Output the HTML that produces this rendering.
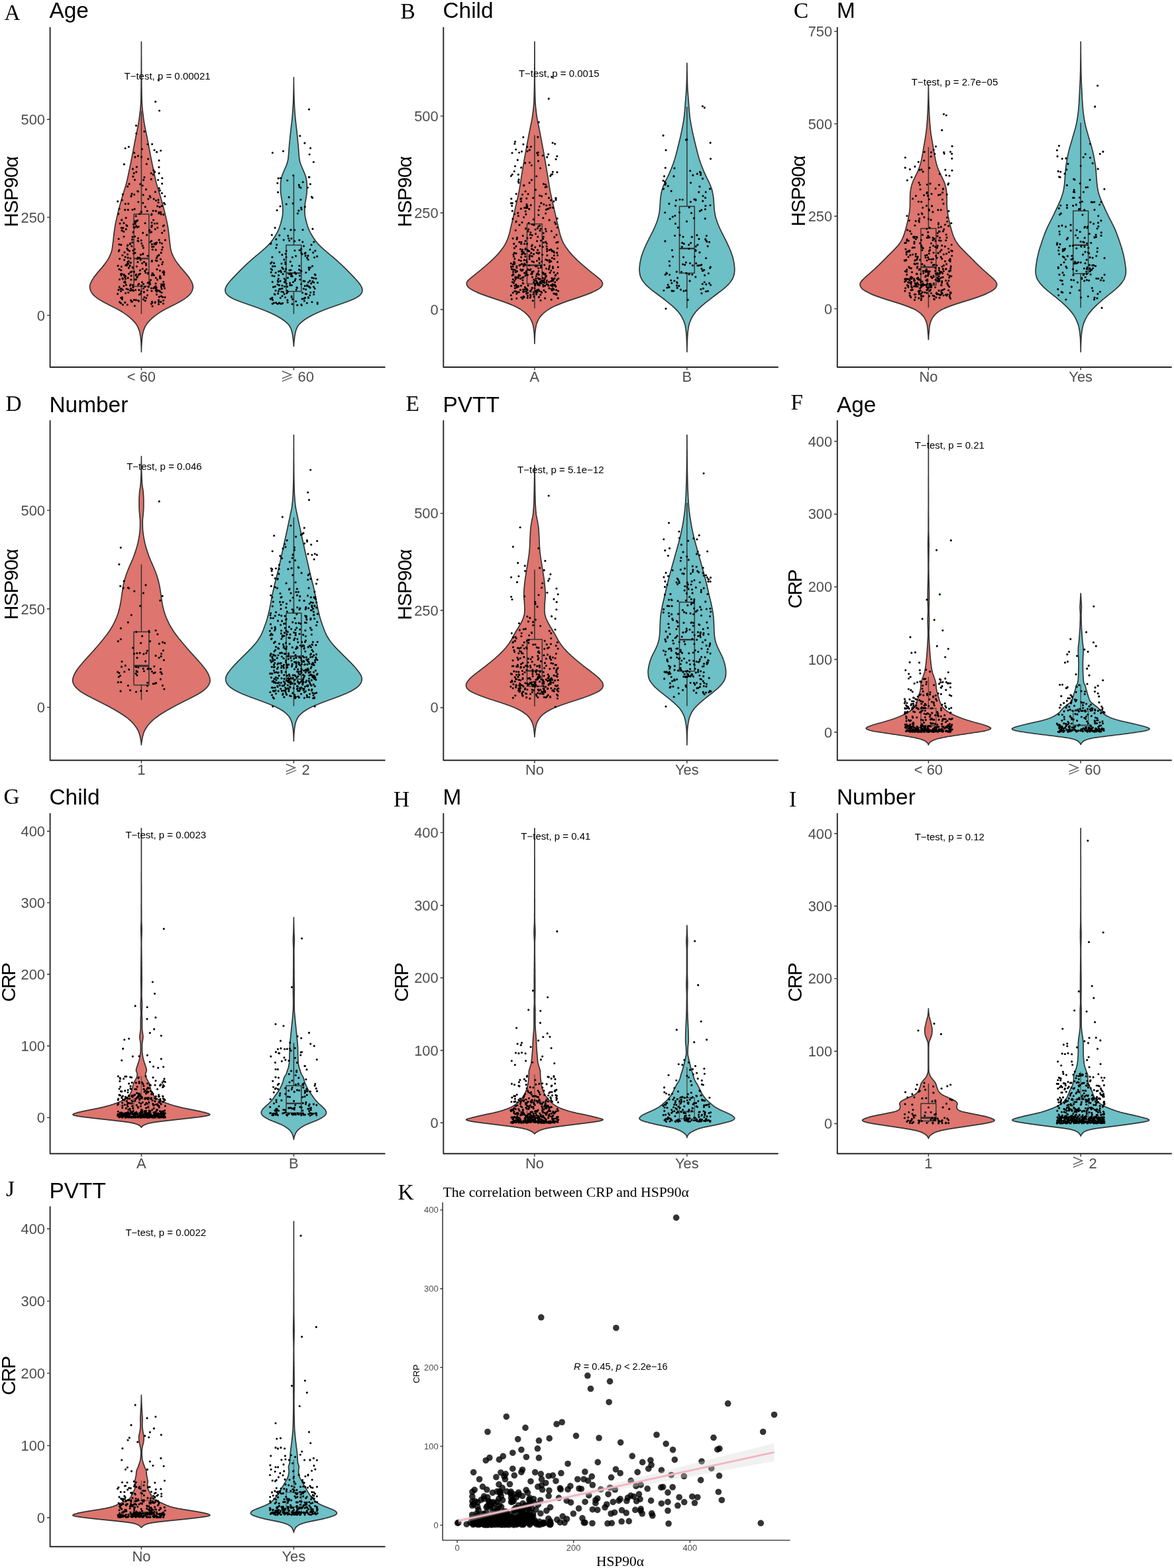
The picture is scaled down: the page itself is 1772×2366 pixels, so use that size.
<!DOCTYPE html>
<html lang="en"><head><meta charset="utf-8"><title>HSP90α and CRP by clinical subgroup</title>
<style>
html,body{margin:0;padding:0;background:#fff;}
body{width:1772px;height:2366px;overflow:hidden;}
svg{display:block;}
text{white-space:pre;}
</style></head><body>
<svg width="1772" height="2366" viewBox="0 0 1772 2366">
<rect width="1772" height="2366" fill="#fff"/>
<g>
<path d="M213.4 63.1L213.4 64.6L213.4 66.1L213.4 67.6L213.4 69.1L213.4 70.6L213.4 72.1L213.4 73.6L213.4 75.1L213.4 76.6L213.4 78.1L213.4 79.6L213.4 81.1L213.4 82.6L213.5 84.1L213.5 85.6L213.5 87.1L213.5 88.6L213.5 90.1L213.5 91.6L213.5 93.1L213.5 94.6L213.5 96.1L213.5 97.6L213.5 99.1L213.5 100.6L213.5 102.1L213.5 103.6L213.6 105.1L213.6 106.6L213.6 108.1L213.6 109.6L213.6 111.1L213.6 112.6L213.6 114.1L213.6 115.6L213.6 117.1L213.6 118.6L213.7 120.1L213.7 121.6L213.7 123.1L213.7 124.6L213.7 126.1L213.7 127.6L213.7 129.1L213.7 130.6L213.8 132.1L213.8 133.6L213.8 135.1L213.8 136.6L213.8 138.1L213.9 139.6L213.9 141.1L213.9 142.6L213.9 144.1L214 145.6L214 147.1L214 148.6L214.1 150.1L214.1 151.6L214.1 153.1L214.2 154.6L214.3 156.1L214.4 157.6L214.5 159.1L214.6 160.6L214.7 162.1L214.9 163.6L215 165.1L215.2 166.6L215.3 168.1L215.5 169.6L215.7 171.1L215.9 172.6L216.1 174.1L216.3 175.6L216.5 177.1L216.6 178.6L216.8 180.1L217.1 181.6L217.3 183.1L217.5 184.6L217.8 186.1L218 187.6L218.3 189.1L218.6 190.6L218.9 192.1L219.2 193.6L219.5 195.1L219.8 196.6L220.1 198.1L220.4 199.6L220.8 201.1L221.1 202.6L221.4 204.1L221.7 205.6L222 207.1L222.3 208.6L222.6 210.1L222.8 211.6L223.1 213.1L223.4 214.6L223.7 216.1L224 217.6L224.3 219.1L224.5 220.6L224.8 222.1L225.1 223.6L225.4 225.1L225.7 226.6L226 228.1L226.3 229.6L226.6 231.1L226.8 232.6L227.1 234.1L227.4 235.6L227.7 237.1L228 238.6L228.3 240.1L228.6 241.6L228.9 243.1L229.2 244.6L229.5 246.1L229.8 247.6L230.1 249.1L230.4 250.6L230.7 252.1L231.1 253.6L231.4 255.1L231.7 256.6L232 258.1L232.3 259.6L232.6 261.1L232.9 262.6L233.3 264.1L233.6 265.6L233.9 267.1L234.2 268.6L234.6 270.1L234.9 271.6L235.3 273.1L235.6 274.6L236 276.1L236.4 277.6L236.8 279.1L237.2 280.6L237.7 282.1L238.1 283.6L238.6 285.1L239 286.6L239.5 288.1L240 289.6L240.5 291.1L240.9 292.6L241.4 294.1L241.8 295.6L242.3 297.1L242.7 298.6L243.2 300.1L243.6 301.6L244 303.1L244.4 304.6L244.9 306.1L245.3 307.6L245.7 309.1L246.1 310.6L246.5 312.1L246.9 313.6L247.3 315.1L247.7 316.6L248.1 318.1L248.5 319.6L248.8 321.1L249.2 322.6L249.5 324.1L249.9 325.6L250.2 327.1L250.6 328.6L250.9 330.1L251.3 331.6L251.6 333.1L251.9 334.6L252.2 336.1L252.5 337.6L252.8 339.1L253.1 340.6L253.3 342.1L253.6 343.6L253.8 345.1L254 346.6L254.2 348.1L254.4 349.6L254.6 351.1L254.8 352.6L255 354.1L255.1 355.6L255.3 357.1L255.5 358.6L255.6 360.1L255.8 361.6L256 363.1L256.1 364.6L256.3 366.1L256.5 367.6L256.7 369.1L256.9 370.6L257.1 372.1L257.3 373.6L257.5 375.1L257.8 376.6L258.1 378.1L258.5 379.6L259 381.1L259.6 382.6L260.2 384.1L260.9 385.6L261.6 387.1L262.4 388.6L263.2 390.1L264.1 391.6L265 393.1L266 394.6L267 396.1L268.1 397.6L269.3 399.1L270.4 400.6L271.6 402.1L272.9 403.6L274.1 405.1L275.4 406.6L276.8 408.1L278 409.6L279.3 411.1L280.5 412.6L281.8 414.1L282.9 415.6L284.1 417.1L285.2 418.6L286.2 420.1L287.2 421.6L288 423.1L288.8 424.6L289.6 426.1L290.2 427.6L290.7 429.1L291.1 430.6L291.3 432.1L291.3 433.6L291.1 435.1L290.7 436.6L290.3 438.1L289.6 439.6L288.8 441.1L287.8 442.6L286.6 444.1L285.2 445.6L283.6 447.1L281.8 448.6L279.8 450.1L277.6 451.6L275.3 453.1L272.8 454.6L270.1 456.1L267.3 457.6L264.5 459.1L261.5 460.6L258.5 462.1L255.5 463.6L252.5 465.1L249.7 466.6L246.9 468.1L244.3 469.6L241.8 471.1L239.5 472.6L237.3 474.1L235.3 475.6L233.3 477.1L231.5 478.6L229.7 480.1L228.1 481.6L226.5 483.1L225.1 484.6L223.7 486.1L222.5 487.6L221.4 489.1L220.4 490.6L219.5 492.1L218.8 493.6L218.1 495.1L217.5 496.6L216.9 498.1L216.5 499.6L216.1 501.1L215.7 502.6L215.4 504.1L215.1 505.6L214.9 507.1L214.7 508.6L214.5 510.1L214.3 511.6L214.2 513.1L214.1 514.6L214 516.1L213.9 517.6L213.8 519.1L213.7 520.6L213.6 522.1L213.6 523.6L213.5 525.1L213.5 526.6L213.4 528.1L213.4 529.6L213.4 530.9L213.4 529.6L213.4 528.1L213.4 526.6L213.3 525.1L213.3 523.6L213.2 522.1L213.1 520.6L213 519.1L213 517.6L212.9 516.1L212.8 514.6L212.7 513.1L212.5 511.6L212.4 510.1L212.2 508.6L211.9 507.1L211.7 505.6L211.4 504.1L211.1 502.6L210.8 501.1L210.4 499.6L209.9 498.1L209.3 496.6L208.7 495.1L208.1 493.6L207.3 492.1L206.4 490.6L205.4 489.1L204.3 487.6L203.1 486.1L201.7 484.6L200.3 483.1L198.7 481.6L197.1 480.1L195.3 478.6L193.5 477.1L191.6 475.6L189.5 474.1L187.3 472.6L185 471.1L182.5 469.6L179.9 468.1L177.2 466.6L174.3 465.1L171.3 463.6L168.3 462.1L165.3 460.6L162.4 459.1L159.5 457.6L156.7 456.1L154.1 454.6L151.6 453.1L149.2 451.6L147 450.1L145.1 448.6L143.2 447.1L141.6 445.6L140.2 444.1L139 442.6L138 441.1L137.2 439.6L136.6 438.1L136.1 436.6L135.7 435.1L135.6 433.6L135.6 432.1L135.7 430.6L136.1 429.1L136.6 427.6L137.3 426.1L138 424.6L138.8 423.1L139.7 421.6L140.6 420.1L141.6 418.6L142.7 417.1L143.9 415.6L145.1 414.1L146.3 412.6L147.5 411.1L148.8 409.6L150.1 408.1L151.4 406.6L152.7 405.1L154 403.6L155.2 402.1L156.4 400.6L157.6 399.1L158.7 397.6L159.8 396.1L160.8 394.6L161.8 393.1L162.7 391.6L163.6 390.1L164.4 388.6L165.2 387.1L165.9 385.6L166.6 384.1L167.3 382.6L167.8 381.1L168.3 379.6L168.7 378.1L169 376.6L169.3 375.1L169.5 373.6L169.8 372.1L169.9 370.6L170.1 369.1L170.3 367.6L170.5 366.1L170.7 364.6L170.9 363.1L171 361.6L171.2 360.1L171.4 358.6L171.5 357.1L171.7 355.6L171.9 354.1L172 352.6L172.2 351.1L172.4 349.6L172.6 348.1L172.8 346.6L173 345.1L173.2 343.6L173.5 342.1L173.8 340.6L174 339.1L174.3 337.6L174.6 336.1L174.9 334.6L175.2 333.1L175.6 331.6L175.9 330.1L176.2 328.6L176.6 327.1L176.9 325.6L177.3 324.1L177.6 322.6L178 321.1L178.4 319.6L178.7 318.1L179.1 316.6L179.5 315.1L179.9 313.6L180.3 312.1L180.7 310.6L181.1 309.1L181.5 307.6L182 306.1L182.4 304.6L182.8 303.1L183.2 301.6L183.7 300.1L184.1 298.6L184.5 297.1L185 295.6L185.4 294.1L185.9 292.6L186.4 291.1L186.8 289.6L187.3 288.1L187.8 286.6L188.2 285.1L188.7 283.6L189.1 282.1L189.6 280.6L190 279.1L190.4 277.6L190.8 276.1L191.2 274.6L191.5 273.1L191.9 271.6L192.3 270.1L192.6 268.6L192.9 267.1L193.3 265.6L193.6 264.1L193.9 262.6L194.2 261.1L194.5 259.6L194.8 258.1L195.1 256.6L195.5 255.1L195.8 253.6L196.1 252.1L196.4 250.6L196.7 249.1L197 247.6L197.3 246.1L197.6 244.6L197.9 243.1L198.2 241.6L198.5 240.1L198.8 238.6L199.1 237.1L199.4 235.6L199.7 234.1L200 232.6L200.3 231.1L200.6 229.6L200.9 228.1L201.1 226.6L201.4 225.1L201.7 223.6L202 222.1L202.3 220.6L202.6 219.1L202.8 217.6L203.1 216.1L203.4 214.6L203.7 213.1L204 211.6L204.3 210.1L204.6 208.6L204.8 207.1L205.1 205.6L205.4 204.1L205.8 202.6L206.1 201.1L206.4 199.6L206.7 198.1L207 196.6L207.3 195.1L207.6 193.6L207.9 192.1L208.2 190.6L208.5 189.1L208.8 187.6L209.1 186.1L209.3 184.6L209.5 183.1L209.8 181.6L210 180.1L210.2 178.6L210.4 177.1L210.6 175.6L210.8 174.1L210.9 172.6L211.1 171.1L211.3 169.6L211.5 168.1L211.7 166.6L211.8 165.1L212 163.6L212.1 162.1L212.2 160.6L212.4 159.1L212.5 157.6L212.6 156.1L212.6 154.6L212.7 153.1L212.7 151.6L212.8 150.1L212.8 148.6L212.8 147.1L212.9 145.6L212.9 144.1L212.9 142.6L212.9 141.1L213 139.6L213 138.1L213 136.6L213 135.1L213 133.6L213.1 132.1L213.1 130.6L213.1 129.1L213.1 127.6L213.1 126.1L213.1 124.6L213.1 123.1L213.2 121.6L213.2 120.1L213.2 118.6L213.2 117.1L213.2 115.6L213.2 114.1L213.2 112.6L213.2 111.1L213.2 109.6L213.2 108.1L213.3 106.6L213.3 105.1L213.3 103.6L213.3 102.1L213.3 100.6L213.3 99.1L213.3 97.6L213.3 96.1L213.3 94.6L213.3 93.1L213.3 91.6L213.3 90.1L213.4 88.6L213.4 87.1L213.4 85.6L213.4 84.1L213.4 82.6L213.4 81.1L213.4 79.6L213.4 78.1L213.4 76.6L213.4 75.1L213.4 73.6L213.4 72.1L213.4 70.6L213.4 69.1L213.4 67.6L213.4 66.1L213.4 64.6L213.4 63.1Z" fill="#DE756E" stroke="#333333" stroke-width="1.7" stroke-linejoin="round"/>
<g fill="none" stroke="#333333" stroke-width="1.5" opacity="1">
<path d="M213.4 167.7V323.2M213.4 432V473.7"/>
<rect x="202" y="323.2" width="22.8" height="108.9"/>
<path d="M202 390.1H224.8" stroke-width="2.4"/>
</g>
<path d="M245.6 395.6h0M246.7 453.3h0M223.9 300.2h0M197.5 453h0M228.6 350.1h0M193 377.1h0M200.6 437.6h0M216.4 373.9h0M206.3 402.1h0M202.7 230.6h0M247.6 429.1h0M189.7 400.2h0M221.6 354.6h0M180.2 433.1h0M184 347.9h0M192.5 383.9h0M248.8 296.2h0M229.7 372.4h0M239.9 320.3h0M181 337.2h0M226.5 428.8h0M209.1 342h0M207.4 390.5h0M228.4 458.4h0M199.6 455h0M214.4 425.8h0M196.2 400.8h0M205.6 341.1h0M215.8 306.2h0M188.8 456.4h0M197.3 396.4h0M207.7 288.6h0M211.5 413.1h0M235 431.8h0M223.7 411.7h0M217.9 448.5h0M240 242.1h0M191.6 398.6h0M184.9 385.2h0M205.8 259.4h0M187.3 415.5h0M217.4 440.5h0M218.7 408.8h0M186.9 336.6h0M229 439h0M217.5 395.2h0M207.9 395.4h0M243.5 429.1h0M239 301.6h0M193.3 436.7h0M189.4 420.8h0M243.3 433h0M188.7 316.6h0M231.9 434.7h0M199.9 316.5h0M203.4 271.3h0M217.3 440.8h0M244.1 441.5h0M177.6 443.4h0M189.1 387.8h0M229.3 340.3h0M205.8 201.3h0M198.1 416.1h0M246.7 425.2h0M196.4 438.5h0M228.8 342.4h0M246.8 323.8h0M232.3 415.3h0M228.5 435h0M229.5 455.4h0M235.4 302.5h0M196.9 389.9h0M222.5 445.6h0M235.2 377h0M241.4 408.3h0M242.6 227.2h0M242.5 419.6h0M184.4 448.8h0M204.5 437.5h0M210.3 444.5h0M241.6 418h0M207.6 332.6h0M196.5 430.9h0M178.8 322.8h0M198.2 438h0M233.6 259.7h0M178.9 437.4h0M189.3 307.6h0M199.8 365.8h0M215.7 351.4h0M203.6 421.8h0M241 312.3h0M192.4 370.8h0M217.9 198.4h0M233.4 337.2h0M244.3 376.7h0M240.3 284h0M187.2 414.4h0M234.4 367h0M226 425.9h0M207.8 417.2h0M179.3 379h0M189.5 442.3h0M231.4 414.3h0M183.5 435.6h0M199.9 357.6h0M195.8 401.2h0M231.1 318h0M203.3 461.5h0M183.7 331.9h0M204.1 335.7h0M200.9 266.4h0M229 336h0M200.5 430.2h0M227.4 422.6h0M216.2 294.1h0M241.3 366h0M230.2 376.6h0M206.8 418.6h0M212.3 384.4h0M211.4 407.9h0M240.2 439h0M187.4 426h0M208 363.3h0M215.9 382.8h0M208.8 364h0M220.5 285.8h0M213.3 320.2h0M207.2 342.9h0M226.9 350.7h0M201.1 350.4h0M221.1 406.4h0M229.9 456.7h0M186.8 431.6h0M200.9 433.4h0M245.4 429.8h0M247 409.4h0M248.9 448.6h0M180.5 421.6h0M236.9 393.5h0M244.8 268.7h0M242.4 391.1h0M228.9 323.1h0M226.1 295.7h0M229.2 394.5h0M218.8 432.7h0M234.2 345.8h0M213.6 430.9h0M193.7 398.1h0M184.2 302h0M242.8 455.6h0M231.8 372.1h0M190.2 345.9h0M236.6 439.9h0M199 292.3h0M223.2 426.8h0M203.1 315.4h0M192.8 369.9h0M190.1 328.7h0M182.5 439.2h0M182.8 369.4h0M182.4 457.3h0M183.9 413.4h0M237.5 422.1h0M214.7 397.3h0M186.7 349.4h0M215.2 370.7h0M216.5 451.8h0M213.2 319.6h0M192.3 459.8h0M208.7 429.7h0M240.1 362.1h0M205 415.5h0M213.7 367.2h0M244.4 367.3h0M194.2 394.1h0M229.6 217.5h0M212.2 392.1h0M234.1 456.7h0M203.3 343.3h0M216.5 428.5h0M203.9 381.6h0M239.8 322h0M243.3 446.9h0M222.9 217.7h0M248 348h0M230.1 462.1h0M237.2 337.1h0M241.8 440.1h0M197 410.7h0M248.5 435.1h0M205.5 414.1h0M213.2 362.8h0M190.4 430h0M236.6 229.4h0M201.7 382.5h0M227 365h0M193.1 388.9h0M202.7 293.6h0M205.1 326h0M194.4 404.2h0M179.9 368.8h0M232.9 433.5h0M245.8 410.6h0M193.7 441.5h0M189.1 426.7h0M202.4 410.1h0M183.4 343.9h0M224.2 432.5h0M203.9 334.2h0M217.9 267.6h0M242.6 455.2h0M239.4 400.6h0M243.8 431.5h0M244.7 398.7h0M219.9 411.5h0M213.6 236.9h0M180.1 315h0M184.8 419.8h0M215.1 405.5h0M239 305.5h0M208.6 453.5h0M177.7 303.9h0M192.7 395.3h0M232.1 300.1h0M188.8 424.9h0M191.8 340.9h0M198 296.3h0M221.3 247.5h0M237.6 311.1h0M193.2 316.6h0M220.6 400h0M215.6 383.4h0M209.4 454.3h0M219.2 453.8h0M236 434h0M193.1 419.4h0M213.2 439.6h0M184.5 451.5h0M214.4 225h0M234.4 289.6h0M249.3 362.2h0M211.7 277.9h0M198.8 409.8h0M219.1 336.7h0M204.2 337.7h0M185.8 344.1h0M215.2 280h0M235 427.7h0M241.6 416.7h0M247.8 410.8h0M203.9 237.1h0M195.5 378.6h0M185.4 421.1h0M208.8 304.7h0M235.5 368.3h0M194.3 221.6h0M238.6 271.5h0M228.7 324.2h0M191.9 375.1h0M222.9 386h0M236.4 444.3h0M244.6 351.3h0M189.1 223.7h0M236.6 437.4h0M233.3 259.1h0M195 277.6h0M198.6 455.3h0M246.3 429.1h0M203.5 356.7h0M198.2 295.5h0M229.3 368.6h0M187 357h0M212.2 443.1h0M203.2 376.1h0M216.6 271.6h0M220.8 449.8h0M223.5 413h0M208.5 289h0M241.3 287.4h0M237.6 386.6h0M244.6 277.1h0M209.5 414.3h0M230 412.2h0M208.4 235.2h0M197.5 435.3h0M224.3 432.9h0M245.5 448.3h0M235.3 419.2h0M197.9 422h0M193.8 307.3h0M233 226.5h0M228.2 261.5h0M239.6 455.5h0M188 416.1h0M239.5 452.7h0M208.6 359.5h0M197.1 429.3h0M202.1 261.4h0M248.9 308.1h0M246.2 341.1h0M183.4 402.3h0M200.1 403.4h0M229.2 393.2h0M180 377.4h0M180 406.3h0M180.6 455.9h0M239.9 384.9h0M201.4 438.7h0M200.4 254.9h0M234.5 368.3h0M200.3 403.9h0M230.6 412.7h0M204 333.8h0M198.8 371.5h0M205.3 452.7h0M189.5 416.5h0M182.8 407.7h0M240.1 261.4h0M239.9 252.2h0M210.6 322.7h0M227 297.7h0M239.5 458.9h0M205.5 189.6h0M228.7 363.5h0M231.8 256.7h0M183 415.3h0M187.4 247.9h0M231.4 263.4h0M228.2 270.4h0M190.8 339.7h0M236.9 406.4h0M235.1 435.1h0M201.4 338.5h0M201.9 342.7h0M185.4 437.2h0M209.5 428.3h0M185.3 293.3h0M216.5 435.2h0M222.4 438h0M219.3 312.1h0M182.6 413.6h0M222.2 318.2h0M231.6 332h0M187.6 392.2h0M220.3 397.5h0M236.4 389.3h0M191.4 400.7h0M243.2 323.2h0M247.4 432h0M228.7 341.3h0M240.2 447.9h0M197 396.2h0M225.3 348h0M244.1 310.9h0M180.6 390.5h0M236.5 366.1h0M194.5 413.1h0M235.1 393.1h0M223.7 239.8h0M235.1 438.2h0M206.3 251.9h0M209.8 437.6h0M244 435.9h0M182.5 449.4h0M188.7 418.5h0M247.5 306.2h0M243.2 381.4h0M188 380.8h0M247.5 414.3h0M196.5 367.2h0M241.6 419.9h0M242.6 320.4h0M179.1 360.5h0M178.1 401.1h0M201 378.1h0M244.5 291.5h0M234.4 455.7h0M205.3 421.8h0M239.2 438.2h0M199.6 361.5h0M202.4 452.4h0M191.1 435.9h0M246.5 458.1h0M235.3 318.4h0M210.7 388.9h0M196.4 368.3h0M247 411.8h0M206 333.9h0M192.6 281.4h0M208 388.8h0M229.2 415.3h0M232.9 367.9h0M185.3 459.7h0M245.5 373.1h0M226 347.1h0M181.9 436h0M237.7 386.7h0M247.4 340.1h0M237.7 343.6h0M234.7 153.4h0M240.6 167h0M239.2 120.6h0" fill="none" stroke="#000" stroke-width="3.15" stroke-linecap="round"/>
<path d="M443.4 116.8L443.4 118.3L443.4 119.8L443.4 121.3L443.4 122.8L443.4 124.3L443.4 125.8L443.5 127.3L443.5 128.8L443.5 130.3L443.5 131.8L443.6 133.3L443.6 134.8L443.6 136.3L443.7 137.8L443.7 139.3L443.7 140.8L443.8 142.3L443.8 143.8L443.9 145.3L443.9 146.8L444 148.3L444 149.8L444 151.3L444.1 152.8L444.2 154.3L444.2 155.8L444.3 157.3L444.4 158.8L444.4 160.3L444.5 161.8L444.6 163.3L444.7 164.8L444.8 166.3L444.9 167.8L445 169.3L445.1 170.8L445.3 172.3L445.4 173.8L445.5 175.3L445.6 176.8L445.8 178.3L445.9 179.8L446.1 181.3L446.2 182.8L446.4 184.3L446.6 185.8L446.8 187.3L446.9 188.8L447.1 190.3L447.3 191.8L447.5 193.3L447.7 194.8L447.8 196.3L448 197.8L448.1 199.3L448.3 200.8L448.4 202.3L448.6 203.8L448.8 205.3L448.9 206.8L449.1 208.3L449.2 209.8L449.4 211.3L449.5 212.8L449.6 214.3L449.8 215.8L449.9 217.3L450.1 218.8L450.2 220.3L450.3 221.8L450.5 223.3L450.6 224.8L450.7 226.3L450.8 227.8L450.9 229.3L451 230.8L451.1 232.3L451.3 233.8L451.4 235.3L451.5 236.8L451.7 238.3L451.9 239.8L452.2 241.3L452.4 242.8L452.8 244.3L453.2 245.8L453.7 247.3L454.3 248.8L454.9 250.3L455.5 251.8L456.1 253.3L456.8 254.8L457.4 256.3L458.1 257.8L458.7 259.3L459.4 260.8L460 262.3L460.5 263.8L461 265.3L461.5 266.8L461.9 268.3L462.3 269.8L462.6 271.3L462.8 272.8L463 274.3L463.2 275.8L463.2 277.3L463.3 278.8L463.3 280.3L463.3 281.8L463.3 283.3L463.3 284.8L463.3 286.3L463.2 287.8L463.2 289.3L463 290.8L462.9 292.3L462.7 293.8L462.5 295.3L462.3 296.8L462 298.3L461.8 299.8L461.5 301.3L461.3 302.8L461 304.3L460.7 305.8L460.5 307.3L460.4 308.8L460.2 310.3L460.1 311.8L460.1 313.3L460 314.8L460 316.3L460 317.8L460 319.3L460 320.8L460.1 322.3L460.2 323.8L460.4 325.3L460.6 326.8L460.9 328.3L461.2 329.8L461.6 331.3L461.9 332.8L462.3 334.3L462.7 335.8L463.1 337.3L463.6 338.8L464 340.3L464.5 341.8L465.1 343.3L465.6 344.8L466.3 346.3L466.9 347.8L467.7 349.3L468.4 350.8L469.2 352.3L470 353.8L470.9 355.3L471.8 356.8L472.7 358.3L473.7 359.8L474.8 361.3L475.8 362.8L477 364.3L478.2 365.8L479.5 367.3L480.9 368.8L482.3 370.3L483.9 371.8L485.5 373.3L487.1 374.8L488.8 376.3L490.5 377.8L492.3 379.3L494 380.8L495.8 382.3L497.6 383.8L499.4 385.3L501.2 386.8L503 388.3L504.8 389.8L506.5 391.3L508.2 392.8L509.9 394.3L511.5 395.8L513.1 397.3L514.8 398.8L516.3 400.3L517.9 401.8L519.5 403.3L521 404.8L522.5 406.3L524 407.8L525.5 409.3L526.9 410.8L528.4 412.3L529.9 413.8L531.3 415.3L532.8 416.8L534.2 418.3L535.6 419.8L536.9 421.3L538.3 422.8L539.6 424.3L540.8 425.8L542 427.3L543.1 428.8L544.2 430.3L545 431.8L545.8 433.3L546.4 434.8L546.7 436.3L546.9 437.8L546.8 439.3L546.4 440.8L545.7 442.3L544.7 443.8L543.4 445.3L541.6 446.8L539.4 448.3L536.8 449.8L533.8 451.3L530.3 452.8L526.6 454.3L522.5 455.8L518.3 457.3L514.1 458.8L509.8 460.3L505.4 461.8L501.2 463.3L497 464.8L492.9 466.3L489 467.8L485.3 469.3L481.8 470.8L478.4 472.3L475.2 473.8L472.1 475.3L469.2 476.8L466.5 478.3L464 479.8L461.6 481.3L459.4 482.8L457.3 484.3L455.4 485.8L453.7 487.3L452.2 488.8L450.9 490.3L449.8 491.8L448.9 493.3L448.2 494.8L447.5 496.3L447 497.8L446.5 499.3L446.1 500.8L445.8 502.3L445.5 503.8L445.2 505.3L444.9 506.8L444.7 508.3L444.5 509.8L444.4 511.3L444.2 512.8L444 514.3L443.9 515.8L443.8 517.3L443.6 518.8L443.5 520.3L443.4 521.8L443.4 522.5L443.3 521.8L443.2 520.3L443.1 518.8L443 517.3L442.9 515.8L442.7 514.3L442.6 512.8L442.4 511.3L442.2 509.8L442 508.3L441.8 506.8L441.6 505.3L441.3 503.8L441 502.3L440.7 500.8L440.2 499.3L439.8 497.8L439.2 496.3L438.6 494.8L437.8 493.3L436.9 491.8L435.9 490.3L434.6 488.8L433.1 487.3L431.4 485.8L429.5 484.3L427.4 482.8L425.2 481.3L422.8 479.8L420.3 478.3L417.6 476.8L414.7 475.3L411.6 473.8L408.4 472.3L405 470.8L401.4 469.3L397.7 467.8L393.8 466.3L389.8 464.8L385.6 463.3L381.3 461.8L377 460.3L372.7 458.8L368.4 457.3L364.3 455.8L360.2 454.3L356.4 452.8L353 451.3L350 449.8L347.4 448.3L345.2 446.8L343.4 445.3L342.1 443.8L341 442.3L340.4 440.8L340 439.3L339.9 437.8L340 436.3L340.4 434.8L341 433.3L341.7 431.8L342.6 430.3L343.6 428.8L344.8 427.3L345.9 425.8L347.2 424.3L348.5 422.8L349.8 421.3L351.2 419.8L352.6 418.3L354 416.8L355.4 415.3L356.9 413.8L358.4 412.3L359.8 410.8L361.3 409.3L362.8 407.8L364.3 406.3L365.8 404.8L367.3 403.3L368.9 401.8L370.4 400.3L372 398.8L373.6 397.3L375.3 395.8L376.9 394.3L378.6 392.8L380.3 391.3L382 389.8L383.8 388.3L385.5 386.8L387.3 385.3L389.2 383.8L391 382.3L392.8 380.8L394.5 379.3L396.3 377.8L398 376.3L399.7 374.8L401.3 373.3L402.9 371.8L404.5 370.3L405.9 368.8L407.3 367.3L408.6 365.8L409.8 364.3L410.9 362.8L412 361.3L413 359.8L414 358.3L415 356.8L415.9 355.3L416.7 353.8L417.6 352.3L418.4 350.8L419.1 349.3L419.8 347.8L420.5 346.3L421.1 344.8L421.7 343.3L422.2 341.8L422.7 340.3L423.2 338.8L423.7 337.3L424.1 335.8L424.5 334.3L424.8 332.8L425.2 331.3L425.6 329.8L425.9 328.3L426.2 326.8L426.4 325.3L426.6 323.8L426.7 322.3L426.8 320.8L426.8 319.3L426.8 317.8L426.8 316.3L426.8 314.8L426.7 313.3L426.6 311.8L426.6 310.3L426.4 308.8L426.2 307.3L426 305.8L425.8 304.3L425.5 302.8L425.3 301.3L425 299.8L424.7 298.3L424.5 296.8L424.3 295.3L424.1 293.8L423.9 292.3L423.7 290.8L423.6 289.3L423.5 287.8L423.5 286.3L423.5 284.8L423.5 283.3L423.5 281.8L423.5 280.3L423.5 278.8L423.5 277.3L423.6 275.8L423.7 274.3L423.9 272.8L424.2 271.3L424.5 269.8L424.9 268.3L425.3 266.8L425.7 265.3L426.2 263.8L426.8 262.3L427.4 260.8L428 259.3L428.7 257.8L429.3 256.3L430 254.8L430.6 253.3L431.3 251.8L431.9 250.3L432.5 248.8L433 247.3L433.5 245.8L434 244.3L434.3 242.8L434.6 241.3L434.9 239.8L435.1 238.3L435.2 236.8L435.4 235.3L435.5 233.8L435.6 232.3L435.8 230.8L435.9 229.3L436 227.8L436.1 226.3L436.2 224.8L436.3 223.3L436.4 221.8L436.6 220.3L436.7 218.8L436.8 217.3L437 215.8L437.1 214.3L437.3 212.8L437.4 211.3L437.6 209.8L437.7 208.3L437.9 206.8L438 205.3L438.2 203.8L438.3 202.3L438.5 200.8L438.6 199.3L438.8 197.8L439 196.3L439.1 194.8L439.3 193.3L439.5 191.8L439.6 190.3L439.8 188.8L440 187.3L440.2 185.8L440.4 184.3L440.5 182.8L440.7 181.3L440.9 179.8L441 178.3L441.1 176.8L441.3 175.3L441.4 173.8L441.5 172.3L441.6 170.8L441.7 169.3L441.9 167.8L442 166.3L442.1 164.8L442.2 163.3L442.2 161.8L442.3 160.3L442.4 158.8L442.5 157.3L442.6 155.8L442.6 154.3L442.7 152.8L442.7 151.3L442.8 149.8L442.8 148.3L442.9 146.8L442.9 145.3L442.9 143.8L443 142.3L443 140.8L443.1 139.3L443.1 137.8L443.1 136.3L443.2 134.8L443.2 133.3L443.2 131.8L443.3 130.3L443.3 128.8L443.3 127.3L443.3 125.8L443.3 124.3L443.4 122.8L443.4 121.3L443.4 119.8L443.4 118.3L443.4 116.8Z" fill="#6CC0C6" stroke="#333333" stroke-width="1.7" stroke-linejoin="round"/>
<g fill="none" stroke="#333333" stroke-width="1.5" opacity="1">
<path d="M443.4 265.7V369.8M443.4 439.7V473.7"/>
<rect x="432" y="369.8" width="22.8" height="69.9"/>
<path d="M432 412.1H454.8" stroke-width="2.4"/>
</g>
<path d="M454.8 381.8h0M474.5 388.5h0M432.8 442.5h0M453.8 301.2h0M423.1 424.1h0M475.1 435.3h0M451.9 362.2h0M418.8 276.3h0M425.9 384.4h0M418.8 429.2h0M420.3 420.5h0M429.5 345h0M466.6 406.8h0M440.3 430.3h0M427.3 405.7h0M437.6 427.1h0M426.6 457.6h0M460.2 431.5h0M411.6 401.9h0M428.2 362h0M430.7 395.8h0M420.5 415.4h0M460.5 449.4h0M420.4 439.3h0M429 391.7h0M411.5 452.6h0M461.8 411.2h0M433.6 432.4h0M454.6 313.4h0M423 311.2h0M409 367h0M430.6 448.7h0M463.5 431.2h0M467.7 445.6h0M432.5 428.1h0M468.4 403.7h0M411 416h0M445 423.5h0M425.9 446.7h0M439 407.5h0M423.3 449.5h0M471.7 425.3h0M429.1 443.8h0M475.4 414.1h0M415.2 432.3h0M438.3 394.8h0M439.3 416.6h0M458.5 371.3h0M432.2 308.1h0M442.8 264.7h0M412.5 433.1h0M429.8 409.6h0M459.6 450h0M415 444.3h0M440.7 401h0M424.4 458.4h0M419.3 423.3h0M416.1 438.5h0M466 403.8h0M456.8 365.1h0M434.7 355.8h0M435.6 359.7h0M459.8 424.4h0M450.9 317.9h0M473.3 244.5h0M473.6 444.2h0M442.1 307h0M454.8 408.9h0M446.6 413.1h0M429.7 425.9h0M440 414.7h0M459.3 454h0M447.2 437.2h0M452.9 421.7h0M442.5 425.7h0M476 415h0M463.3 457.2h0M416.8 374h0M466 432h0M473.5 419.8h0M466.2 267.2h0M432.1 388.1h0M433.9 452.9h0M424.9 440h0M411.4 230.5h0M441.4 388.2h0M468.6 223.6h0M462.7 443.7h0M455.1 316h0M468.4 277.8h0M454.8 459.6h0M423.5 408.4h0M465.2 391.7h0M433.8 272.2h0M471.5 401.6h0M430.9 398.5h0M414 416.7h0M459.9 215.9h0M415.1 343.7h0M470 369.4h0M437 407.8h0M463.6 389.1h0M411.2 425.3h0M446.5 386.3h0M456.1 451.1h0M416.7 456.9h0M451.2 279.1h0M417.7 369.2h0M429.3 420.6h0M433.7 438.9h0M452 282.1h0M416.8 361.1h0M420.7 409.6h0M463.6 430.2h0M458.9 450.5h0M440.1 447.1h0M427.7 440.8h0M457.2 274.7h0M441.1 458.8h0M429.8 425.4h0M470.4 297h0M421.9 380.5h0M465.3 426h0M451.9 401.1h0M453.9 408.5h0M456.5 441.7h0M461.3 443.4h0M470.8 419h0M473.7 440.7h0M425.8 403.7h0M419.2 458.5h0M471.9 424.5h0M422.1 457.6h0M423.4 268.7h0M465.4 448.6h0M476.9 420.2h0M468.2 434.1h0M444.6 363.9h0M434.4 419.2h0M478.6 386.9h0M460.4 312h0M452.7 205.1h0M408.2 450.9h0M421.4 430.4h0M408.4 368h0M472.7 381.1h0M424.4 410.6h0M419.7 442.9h0M449.3 322.1h0M422 457.6h0M446.7 454.7h0M475.8 378.3h0M469.6 427.8h0M425 397.7h0M473.4 432.7h0M436.1 297.6h0M445 411.1h0M430.8 423h0M479.4 426.5h0M429.5 432.3h0M460.5 449.4h0M452 377.5h0M457 346.7h0M414.9 401.7h0M446 421.1h0M479.2 456.7h0M447.9 433.8h0M421.6 436.2h0M411.2 458.3h0M431.1 383h0M461.1 381.4h0M409.2 405.7h0M410.9 388h0M454.7 428.7h0M470.9 455.7h0M439 346.9h0M452.3 416.1h0M425.9 431h0M427 413.6h0M441.6 451.6h0M423.2 436h0M440.1 448.5h0M418.1 317.2h0M473.9 365h0M454 283.2h0M414.2 443.8h0M421.3 457h0M467.1 233h0M434.2 440.4h0M426.1 435.3h0M409.1 451h0M456 383.5h0M448.5 434.2h0M467.9 376.6h0M419.6 290.1h0M461.6 436.7h0M466.9 267.4h0M466.7 432.9h0M461.1 385.9h0M439.2 412.9h0M410.8 449.4h0M453.8 378h0M409.2 410.9h0M413.6 397h0M436.8 363.1h0M416.1 411.5h0M439.9 359.9h0M468.7 441.3h0M419.9 425.4h0M464.9 385.9h0M479.2 458.3h0M410.1 395.7h0M437.9 430.4h0M458.3 435.7h0M460.1 382.5h0M427.5 228.1h0M465.6 449.5h0M434.1 456.2h0M421.8 355.1h0M444.7 347h0M451.5 406.8h0M467.7 423.8h0M455.2 460.6h0M413.4 457.1h0M448.8 460.4h0M432.2 378.5h0M458.1 424h0M410.6 407.2h0M454.7 375.2h0M464.4 283h0M410.3 354.5h0M408.5 397.5h0M471.6 298.4h0M471.9 345.4h0M420.1 269.1h0M473.8 426.2h0M436.7 413.5h0M444.8 378h0M441.3 417h0M431.5 405.9h0M466.5 165h0" fill="none" stroke="#000" stroke-width="3.15" stroke-linecap="round"/>
<path d="M75.6 41V554H581.5" fill="none" stroke="#262626" stroke-width="1.9" stroke-linejoin="round"/>
<path d="M71 180.3H75.6M71 327.9H75.6M71 475.9H75.6M213.4 554V558.6M443.4 554V558.6" fill="none" stroke="#333333" stroke-width="1.4"/>
<text x="68" y="188" font-family="Liberation Sans, Arial, Helvetica, sans-serif" font-size="21.9" fill="#4D4D4D" text-anchor="end">500</text>
<text x="68" y="335.6" font-family="Liberation Sans, Arial, Helvetica, sans-serif" font-size="21.9" fill="#4D4D4D" text-anchor="end">250</text>
<text x="68" y="483.6" font-family="Liberation Sans, Arial, Helvetica, sans-serif" font-size="21.9" fill="#4D4D4D" text-anchor="end">0</text>
<text x="213.4" y="576" font-family="Liberation Sans, Arial, Helvetica, sans-serif" font-size="21.9" fill="#4D4D4D" text-anchor="middle">&lt; 60</text>
<text x="433.2" y="575.7" font-family="Noto Sans CJK SC, Liberation Sans, sans-serif" font-size="20.4" fill="#5a5a5a" text-anchor="middle">≥</text><text x="449.5" y="576" font-family="Liberation Sans, Arial, Helvetica, sans-serif" font-size="21.9" fill="#4D4D4D" text-anchor="start">60</text>
<text x="74.5" y="26.9" font-family="Liberation Sans, Arial, Helvetica, sans-serif" font-size="33.4" fill="#000" text-anchor="start">Age</text>
<text x="6.5" y="29.6" font-family="Liberation Serif, Times New Roman, serif" font-size="33.4" fill="#000" text-anchor="start">A</text>
<text x="27.2" y="289.5" font-family="Liberation Sans, Arial, Helvetica, sans-serif" font-size="30" fill="#000" text-anchor="middle" letter-spacing="-1.0" transform="rotate(-90 27.2 289.5)">HSP90α</text>
<text x="187.5" y="120" font-family="Liberation Sans, Arial, Helvetica, sans-serif" font-size="15" fill="#000" text-anchor="start">T−test, p = 0.00021</text>
</g>
<g>
<path d="M806.9 63.1L806.9 64.6L806.9 66.1L806.9 67.6L806.9 69.1L806.9 70.6L806.9 72.1L806.9 73.6L806.9 75.1L807 76.6L807 78.1L807 79.6L807 81.1L807 82.6L807 84.1L807 85.6L807 87.1L807 88.6L807 90.1L807 91.6L807 93.1L807 94.6L807 96.1L807 97.6L807 99.1L807 100.6L807.1 102.1L807.1 103.6L807.1 105.1L807.1 106.6L807.1 108.1L807.1 109.6L807.1 111.1L807.1 112.6L807.1 114.1L807.1 115.6L807.2 117.1L807.2 118.6L807.2 120.1L807.2 121.6L807.2 123.1L807.2 124.6L807.2 126.1L807.3 127.6L807.3 129.1L807.3 130.6L807.3 132.1L807.4 133.6L807.4 135.1L807.4 136.6L807.5 138.1L807.5 139.6L807.5 141.1L807.6 142.6L807.6 144.1L807.6 145.6L807.7 147.1L807.7 148.6L807.8 150.1L807.8 151.6L807.9 153.1L808 154.6L808.1 156.1L808.2 157.6L808.3 159.1L808.4 160.6L808.6 162.1L808.7 163.6L808.9 165.1L809.1 166.6L809.3 168.1L809.5 169.6L809.6 171.1L809.8 172.6L810 174.1L810.2 175.6L810.5 177.1L810.7 178.6L811 180.1L811.3 181.6L811.5 183.1L811.8 184.6L812.1 186.1L812.5 187.6L812.8 189.1L813.1 190.6L813.4 192.1L813.7 193.6L814 195.1L814.3 196.6L814.6 198.1L814.9 199.6L815.2 201.1L815.5 202.6L815.7 204.1L816 205.6L816.3 207.1L816.6 208.6L816.9 210.1L817.2 211.6L817.5 213.1L817.7 214.6L818 216.1L818.3 217.6L818.6 219.1L818.9 220.6L819.1 222.1L819.4 223.6L819.7 225.1L820 226.6L820.2 228.1L820.5 229.6L820.8 231.1L821 232.6L821.3 234.1L821.6 235.6L821.9 237.1L822.1 238.6L822.4 240.1L822.6 241.6L822.9 243.1L823.2 244.6L823.4 246.1L823.7 247.6L823.9 249.1L824.2 250.6L824.5 252.1L824.7 253.6L825 255.1L825.2 256.6L825.5 258.1L825.7 259.6L826 261.1L826.2 262.6L826.5 264.1L826.7 265.6L827 267.1L827.2 268.6L827.4 270.1L827.7 271.6L827.9 273.1L828.1 274.6L828.4 276.1L828.6 277.6L828.8 279.1L829.1 280.6L829.3 282.1L829.6 283.6L829.8 285.1L830.1 286.6L830.4 288.1L830.6 289.6L830.9 291.1L831.3 292.6L831.6 294.1L831.9 295.6L832.2 297.1L832.6 298.6L832.9 300.1L833.2 301.6L833.6 303.1L833.9 304.6L834.3 306.1L834.6 307.6L835 309.1L835.3 310.6L835.6 312.1L836 313.6L836.3 315.1L836.7 316.6L837 318.1L837.4 319.6L837.7 321.1L838 322.6L838.4 324.1L838.7 325.6L839.1 327.1L839.4 328.6L839.8 330.1L840.1 331.6L840.5 333.1L840.8 334.6L841.2 336.1L841.6 337.6L841.9 339.1L842.3 340.6L842.6 342.1L843 343.6L843.3 345.1L843.7 346.6L844 348.1L844.4 349.6L844.7 351.1L845.1 352.6L845.5 354.1L846 355.6L846.4 357.1L847 358.6L847.5 360.1L848.1 361.6L848.7 363.1L849.4 364.6L850.1 366.1L850.9 367.6L851.8 369.1L852.7 370.6L853.6 372.1L854.6 373.6L855.7 375.1L856.8 376.6L857.9 378.1L859.1 379.6L860.4 381.1L861.7 382.6L863 384.1L864.4 385.6L865.8 387.1L867.3 388.6L868.8 390.1L870.3 391.6L871.9 393.1L873.6 394.6L875.2 396.1L876.9 397.6L878.6 399.1L880.3 400.6L882.1 402.1L883.8 403.6L885.6 405.1L887.4 406.6L889.2 408.1L891.1 409.6L892.9 411.1L894.8 412.6L896.7 414.1L898.6 415.6L900.5 417.1L902.3 418.6L904.1 420.1L905.8 421.6L907.2 423.1L908.4 424.6L909.2 426.1L909.6 427.6L909.5 429.1L909 430.6L908.1 432.1L906.8 433.6L905 435.1L902.8 436.6L900.2 438.1L897.2 439.6L893.9 441.1L890.3 442.6L886.4 444.1L882.3 445.6L878 447.1L873.7 448.6L869.2 450.1L864.7 451.6L860.1 453.1L855.7 454.6L851.5 456.1L847.6 457.6L843.9 459.1L840.4 460.6L837.1 462.1L834 463.6L831.2 465.1L828.6 466.6L826.3 468.1L824.1 469.6L822.2 471.1L820.4 472.6L818.8 474.1L817.4 475.6L816.1 477.1L814.9 478.6L813.9 480.1L813 481.6L812.2 483.1L811.5 484.6L810.9 486.1L810.3 487.6L809.8 489.1L809.4 490.6L809.1 492.1L808.8 493.6L808.5 495.1L808.3 496.6L808.1 498.1L807.9 499.6L807.7 501.1L807.6 502.6L807.5 504.1L807.4 505.6L807.3 507.1L807.2 508.6L807.2 510.1L807.1 511.6L807 513.1L807 514.6L807 516.1L806.9 517.6L806.9 518.5L806.9 517.6L806.9 516.1L806.9 514.6L806.8 513.1L806.8 511.6L806.7 510.1L806.6 508.6L806.5 507.1L806.5 505.6L806.4 504.1L806.3 502.6L806.1 501.1L806 499.6L805.8 498.1L805.6 496.6L805.4 495.1L805.1 493.6L804.8 492.1L804.5 490.6L804.1 489.1L803.6 487.6L803 486.1L802.4 484.6L801.7 483.1L800.9 481.6L800 480.1L799 478.6L797.8 477.1L796.5 475.6L795 474.1L793.4 472.6L791.7 471.1L789.7 469.6L787.6 468.1L785.2 466.6L782.6 465.1L779.8 463.6L776.8 462.1L773.5 460.6L770 459.1L766.3 457.6L762.3 456.1L758.1 454.6L753.7 453.1L749.2 451.6L744.7 450.1L740.2 448.6L735.8 447.1L731.6 445.6L727.5 444.1L723.6 442.6L720 441.1L716.7 439.6L713.7 438.1L711.1 436.6L708.9 435.1L707.1 433.6L705.8 432.1L704.8 430.6L704.3 429.1L704.3 427.6L704.6 426.1L705.4 424.6L706.6 423.1L708.1 421.6L709.8 420.1L711.6 418.6L713.4 417.1L715.3 415.6L717.2 414.1L719.1 412.6L720.9 411.1L722.8 409.6L724.6 408.1L726.5 406.6L728.2 405.1L730 403.6L731.8 402.1L733.5 400.6L735.3 399.1L737 397.6L738.7 396.1L740.3 394.6L741.9 393.1L743.5 391.6L745.1 390.1L746.6 388.6L748.1 387.1L749.5 385.6L750.9 384.1L752.2 382.6L753.5 381.1L754.7 379.6L755.9 378.1L757.1 376.6L758.2 375.1L759.3 373.6L760.3 372.1L761.2 370.6L762.1 369.1L762.9 367.6L763.7 366.1L764.5 364.6L765.1 363.1L765.8 361.6L766.4 360.1L766.9 358.6L767.4 357.1L767.9 355.6L768.3 354.1L768.7 352.6L769.1 351.1L769.5 349.6L769.8 348.1L770.2 346.6L770.5 345.1L770.9 343.6L771.2 342.1L771.6 340.6L771.9 339.1L772.3 337.6L772.7 336.1L773 334.6L773.4 333.1L773.7 331.6L774.1 330.1L774.4 328.6L774.8 327.1L775.1 325.6L775.5 324.1L775.8 322.6L776.2 321.1L776.5 319.6L776.9 318.1L777.2 316.6L777.5 315.1L777.9 313.6L778.2 312.1L778.6 310.6L778.9 309.1L779.2 307.6L779.6 306.1L779.9 304.6L780.3 303.1L780.6 301.6L781 300.1L781.3 298.6L781.6 297.1L782 295.6L782.3 294.1L782.6 292.6L782.9 291.1L783.2 289.6L783.5 288.1L783.8 286.6L784.1 285.1L784.3 283.6L784.6 282.1L784.8 280.6L785 279.1L785.3 277.6L785.5 276.1L785.7 274.6L786 273.1L786.2 271.6L786.4 270.1L786.7 268.6L786.9 267.1L787.1 265.6L787.4 264.1L787.6 262.6L787.9 261.1L788.1 259.6L788.4 258.1L788.6 256.6L788.9 255.1L789.2 253.6L789.4 252.1L789.7 250.6L789.9 249.1L790.2 247.6L790.4 246.1L790.7 244.6L791 243.1L791.2 241.6L791.5 240.1L791.8 238.6L792 237.1L792.3 235.6L792.6 234.1L792.8 232.6L793.1 231.1L793.4 229.6L793.6 228.1L793.9 226.6L794.2 225.1L794.5 223.6L794.7 222.1L795 220.6L795.3 219.1L795.6 217.6L795.8 216.1L796.1 214.6L796.4 213.1L796.7 211.6L797 210.1L797.3 208.6L797.5 207.1L797.8 205.6L798.1 204.1L798.4 202.6L798.7 201.1L799 199.6L799.3 198.1L799.6 196.6L799.9 195.1L800.2 193.6L800.5 192.1L800.8 190.6L801.1 189.1L801.4 187.6L801.7 186.1L802 184.6L802.3 183.1L802.6 181.6L802.9 180.1L803.2 178.6L803.4 177.1L803.6 175.6L803.8 174.1L804 172.6L804.2 171.1L804.4 169.6L804.6 168.1L804.8 166.6L805 165.1L805.1 163.6L805.3 162.1L805.4 160.6L805.6 159.1L805.7 157.6L805.8 156.1L805.9 154.6L806 153.1L806 151.6L806.1 150.1L806.1 148.6L806.2 147.1L806.2 145.6L806.3 144.1L806.3 142.6L806.3 141.1L806.4 139.6L806.4 138.1L806.4 136.6L806.5 135.1L806.5 133.6L806.5 132.1L806.6 130.6L806.6 129.1L806.6 127.6L806.6 126.1L806.6 124.6L806.7 123.1L806.7 121.6L806.7 120.1L806.7 118.6L806.7 117.1L806.7 115.6L806.7 114.1L806.7 112.6L806.8 111.1L806.8 109.6L806.8 108.1L806.8 106.6L806.8 105.1L806.8 103.6L806.8 102.1L806.8 100.6L806.8 99.1L806.8 97.6L806.8 96.1L806.9 94.6L806.9 93.1L806.9 91.6L806.9 90.1L806.9 88.6L806.9 87.1L806.9 85.6L806.9 84.1L806.9 82.6L806.9 81.1L806.9 79.6L806.9 78.1L806.9 76.6L806.9 75.1L806.9 73.6L806.9 72.1L806.9 70.6L806.9 69.1L806.9 67.6L806.9 66.1L806.9 64.6L806.9 63.1Z" fill="#DE756E" stroke="#333333" stroke-width="1.7" stroke-linejoin="round"/>
<g fill="none" stroke="#333333" stroke-width="1.5" opacity="1">
<path d="M806.9 203.9V337.9M806.9 428.4V465.3"/>
<rect x="795.5" y="337.9" width="22.8" height="90.5"/>
<path d="M795.5 400.3H818.3" stroke-width="2.4"/>
</g>
<path d="M787 299.3h0M793.2 399.9h0M794.3 412.2h0M812.3 230.1h0M794.9 308.4h0M794.5 443.1h0M830.8 265.4h0M771.8 299.9h0M771.3 445.6h0M775 414.3h0M833.3 378.1h0M816.6 401.5h0M823.3 418.4h0M839.9 354.2h0M786.6 303.8h0M837.2 429.6h0M788.4 419.1h0M808.3 401.7h0M820 432.2h0M828.3 406.3h0M788.8 450.4h0M805.3 331.1h0M774.2 406.8h0M791.7 397.8h0M841.6 374.7h0M836.1 411.1h0M812.8 341.7h0M827.6 430.9h0M835.9 436.8h0M794.8 299.4h0M841.5 395.4h0M803.2 354.8h0M782.4 273.7h0M809.1 439.6h0M813.7 389.5h0M820.8 308.3h0M819.2 419.4h0M773.9 330.2h0M816.9 440.2h0M837.3 335.5h0M819.2 234.7h0M841.1 329.7h0M807.8 373h0M829.3 395.6h0M781 440.7h0M835.4 421.7h0M802.4 371.5h0M834.1 215.5h0M794 313.6h0M815.9 453.2h0M831.9 394.3h0M822.2 421.1h0M815.6 253.8h0M840.8 235.7h0M777.3 434.8h0M778.3 410.7h0M810.6 363.7h0M839.7 366h0M820.4 277.6h0M793.2 318.9h0M778.7 225.5h0M803.2 434.2h0M805.5 395.3h0M804.7 298.6h0M815.5 425.4h0M790.6 327.8h0M834.3 259.3h0M791.7 411.9h0M778.6 439.6h0M796.1 228.2h0M838.3 431.1h0M782.4 325.7h0M790.9 279.8h0M837.6 217.1h0M796 359.4h0M831.6 424.3h0M774.2 399.1h0M834.9 435.4h0M788 335.6h0M783.9 365.4h0M824.4 349h0M842.2 449.9h0M840 444.7h0M825.1 371.8h0M836.8 390.5h0M842 365.2h0M810.7 426h0M781.3 241.4h0M832.1 263.3h0M799.4 385h0M793.4 344.9h0M807 434.7h0M773.4 425.6h0M772.3 405.9h0M790 418.3h0M813.8 421.2h0M824.9 429h0M839.9 443h0M829.8 309.2h0M838.7 414.8h0M816.8 306.4h0M823.8 391.7h0M813.2 429.5h0M776.8 439.5h0M775.4 427.1h0M825.7 237.1h0M785.5 376h0M827.8 314.9h0M804.3 453.7h0M771.4 306.6h0M811.4 344.6h0M802.8 375.6h0M776.3 258.5h0M789.7 437.1h0M793 415.8h0M795.8 313.5h0M821.8 399.8h0M783 270.9h0M802.9 413.2h0M814.6 340.5h0M839.1 240.2h0M779.2 292.5h0M776.6 407h0M784.7 415.9h0M786.8 367.9h0M782.7 416.5h0M776.4 374.4h0M786 300.3h0M787 365.4h0M805.5 383.4h0M817.6 441.4h0M797.1 292.7h0M783 275.7h0M777.8 407.7h0M789.9 447.6h0M783.2 440.8h0M805.6 421.9h0M833.7 262.8h0M822.5 431.2h0M785.6 420.4h0M773.5 306.6h0M775.8 395.1h0M802.3 249.5h0M797.1 430.8h0M820.1 423.6h0M777 431.1h0M789.3 427.2h0M820.3 351.8h0M811.8 429.8h0M808.1 346.2h0M835.9 303.8h0M779.1 382.4h0M785 399.7h0M811.7 357.3h0M811.6 412.6h0M841.5 412.3h0M841.3 343.2h0M813.2 414.4h0M825.6 375.6h0M821.1 425h0M780.5 358.6h0M814.3 430.6h0M792.9 387h0M796.8 406.7h0M782.2 419.4h0M771.5 402.4h0M832.4 348.8h0M822.6 450.1h0M825.1 281.7h0M791.7 367.9h0M801 406.3h0M783.6 230.2h0M814.3 311.5h0M831.4 430.6h0M827 429.3h0M838.2 415.9h0M789.7 440.2h0M821.4 426.8h0M780.1 361h0M809.5 416.7h0M778.9 371.6h0M809.8 426.3h0M810 381.3h0M795.9 310.7h0M796.1 437.7h0M822.1 421h0M805.6 425.9h0M800.3 407.5h0M779 429.2h0M791.3 392.4h0M831.9 408.2h0M840.9 259.8h0M797.8 407h0M833.6 432h0M833.8 422.4h0M786.6 431h0M790.6 399.5h0M821 438.1h0M793 288.7h0M839.7 437.6h0M797.2 378.6h0M823.5 278.6h0M821.9 414.1h0M786.3 393.5h0M833.3 389.3h0M794.6 435.3h0M778.9 303.7h0M774.5 413.8h0M803.5 386.7h0M816.5 403.7h0M790.5 399.9h0M831.6 302h0M790.2 401.6h0M832 436.3h0M773.3 318.3h0M789.8 207h0M782.4 263.4h0M803.2 394.3h0M796.2 449.3h0M799.4 245.2h0M832.2 452.1h0M812.7 404.7h0M814.5 295h0M799 387.6h0M829.1 332.1h0M807.1 423.2h0M824.6 405.3h0M836.8 357.9h0M815 348.1h0M802.3 436.8h0M789.9 427.7h0M836.6 390.6h0M826 385.3h0M828.5 425.2h0M786.9 448.7h0M802.4 271.5h0M834.6 313.3h0M788.6 376.7h0M829.5 401.1h0M809.7 266h0M786.7 252.9h0M798 336.3h0M776.4 381.6h0M819.4 425.4h0M823.3 413.1h0M773 230.7h0M792.6 245.9h0M826.3 393.1h0M785.4 437.5h0M809.6 441.6h0M829 377.3h0M812 438.7h0M779.7 443.2h0M836.4 385.5h0M824.7 426h0M811.6 377.3h0M794.9 310.9h0M812.9 409.3h0M799.1 275.8h0M779.5 418.5h0M779.7 431.5h0M774.2 441.7h0M783.2 392.5h0M788.6 293.6h0M816.7 440.3h0M812.7 437.1h0M813.5 448.3h0M830.1 411.4h0M777.8 419.4h0M798.9 379h0M776.6 323h0M801.1 359h0M776.6 423.8h0M775.7 367.9h0M778.4 421.1h0M799 400.3h0M825.9 392.6h0M791.2 448.3h0M824.3 316.2h0M787.7 398.3h0M791.6 313.5h0M804.9 444.2h0M776.3 398.5h0M803.3 369.7h0M813 317.1h0M830.3 411.4h0M775 384.1h0M828.5 298.6h0M811.9 234h0M812.6 382.6h0M774.6 410.2h0M834.3 402.5h0M790.9 440h0M810.3 441.3h0M809.7 444.1h0M836.5 430.7h0M814.2 396.9h0M842.3 403.1h0M787.6 383.7h0M818.6 384.2h0M812.5 242.9h0M807.9 430.6h0M816.1 345.2h0M810.6 230.8h0M795.2 395.3h0M817.1 423.5h0M776.9 390.5h0M805.4 377.1h0M803.5 418h0M786.3 314.9h0M811.8 206.8h0M819.2 411.2h0M779.9 404h0M792.3 436.6h0M775.4 387.1h0M813.9 429.5h0M776.8 217h0M787.5 228.6h0M803.2 411.9h0M803.5 338.7h0M773.3 263.2h0M839.1 298.9h0M787.5 379.3h0M814.9 370.9h0M786.9 408h0M813.8 438.8h0M796.3 377.4h0M793.9 323.4h0M805.1 409.6h0M813.1 184.4h0M814 381.3h0M820.5 366h0M790.3 381.8h0M777.5 250.7h0M789.2 406.9h0M794.5 414.6h0M814.7 426.3h0M800.8 446.8h0M793.3 375h0M778 417.8h0M813.9 391.5h0M778.9 334.8h0M808.2 438.9h0M820.5 426h0M815.8 444.9h0M782.4 432.6h0M796.6 441.9h0M838.7 299h0M777.5 213.8h0M819.8 328.9h0M802.4 386.5h0M815.1 420.8h0M799.3 390.9h0M779.8 401.8h0M811.4 427.3h0M771.4 265.5h0M833.1 419.9h0M828.4 249h0M797.8 346h0M809.6 423.9h0M808.9 420.3h0M841.5 385.2h0M774.1 359.8h0M792.4 433.2h0M800.2 354.1h0M827.6 232.8h0M823.5 345.6h0M801.4 221.3h0M771.8 431.6h0M817.6 296.1h0M800.2 449.2h0M779.3 334.1h0M816.4 363h0M803 410.4h0M793 363.6h0M790.3 380.2h0M808.4 286.4h0M788.8 382.2h0M799.3 226.3h0M838.8 337.9h0M805.3 441h0M789.2 355.8h0M808.5 352.9h0M837 420h0M833.3 438.3h0M819.7 360.2h0M835.7 379.6h0M825.4 423.2h0M819.9 430h0M801.8 413.5h0M781.7 321.4h0M823.6 322.1h0M816.6 427h0M840.6 422.5h0M794 439.7h0M834.1 428.9h0M786.7 388h0M839.1 301.6h0M842.6 439.1h0M774.3 421.5h0M794.3 409.4h0M842.8 420.2h0M840.7 381.4h0M819.2 372.4h0M780.6 409.3h0M771.4 397.6h0M788.9 422.7h0M838.9 444.1h0M828.9 434.9h0M801.8 381.9h0M825.7 378.8h0M835.9 443h0M792.5 383.2h0M833.9 430.7h0M790.3 279.7h0M794.6 392.9h0M774.2 402.2h0M782.5 431.5h0M810.6 437.8h0M772.7 310.5h0M810.2 413.8h0M783.2 415.1h0M824.8 310h0M780.1 433.7h0M785.8 406.8h0M790.3 447.4h0M812.9 324.3h0M829.1 403.3h0M825.2 367.5h0M824.3 416.4h0M820 412.9h0M810.1 401.7h0M795.6 367.9h0M783.9 400.6h0M833.1 378.8h0M800.4 439.1h0M817.7 394.5h0M775.9 396.6h0M796.9 349.1h0M778.2 347.6h0M796.5 446.3h0M823.7 365.1h0M795.5 436.9h0M820.1 411.5h0M779.8 450.3h0M798.7 315.4h0M800.5 444.7h0M807.6 428.3h0M787.4 408.5h0M821.2 422.7h0M834.5 423.9h0M829.4 392.5h0M773.2 415.6h0M806.1 339.4h0M795.7 221.6h0M812.2 419.7h0M776.9 396.5h0M823.5 440.6h0M800.9 350.8h0M838.9 432.3h0M772.3 451.3h0M801 439.8h0M806 447.8h0M830.8 313.3h0M825.4 315.8h0M784 339.4h0M793.1 376.5h0M823.9 292.5h0M801.2 309.6h0M789.9 217.8h0M837.9 443.7h0M831.6 376.4h0M796.5 414.8h0M810.5 393.5h0M837.8 425.7h0M786.5 431.2h0M836.4 381h0M834.6 404.6h0M823.2 282.5h0M820.3 357.2h0M828.2 148.9h0M832.7 116.1h0" fill="none" stroke="#000" stroke-width="3.15" stroke-linecap="round"/>
<path d="M1036.9 95.3L1036.9 96.8L1036.9 98.3L1037 99.8L1037 101.3L1037 102.8L1037 104.3L1037 105.8L1037 107.3L1037.1 108.8L1037.1 110.3L1037.1 111.8L1037.2 113.3L1037.2 114.8L1037.2 116.3L1037.3 117.8L1037.3 119.3L1037.4 120.8L1037.4 122.3L1037.4 123.8L1037.5 125.3L1037.5 126.8L1037.6 128.3L1037.6 129.8L1037.7 131.3L1037.8 132.8L1037.9 134.3L1037.9 135.8L1038 137.3L1038.2 138.8L1038.3 140.3L1038.4 141.8L1038.5 143.3L1038.6 144.8L1038.8 146.3L1038.9 147.8L1039 149.3L1039.1 150.8L1039.2 152.3L1039.3 153.8L1039.4 155.3L1039.6 156.8L1039.7 158.3L1039.8 159.8L1039.9 161.3L1040 162.8L1040.1 164.3L1040.2 165.8L1040.3 167.3L1040.5 168.8L1040.6 170.3L1040.7 171.8L1040.9 173.3L1041.1 174.8L1041.2 176.3L1041.4 177.8L1041.6 179.3L1041.9 180.8L1042.1 182.3L1042.4 183.8L1042.6 185.3L1042.9 186.8L1043.2 188.3L1043.4 189.8L1043.7 191.3L1044 192.8L1044.3 194.3L1044.6 195.8L1044.9 197.3L1045.2 198.8L1045.5 200.3L1045.8 201.8L1046.2 203.3L1046.5 204.8L1046.8 206.3L1047.2 207.8L1047.5 209.3L1047.9 210.8L1048.2 212.3L1048.6 213.8L1049 215.3L1049.3 216.8L1049.7 218.3L1050.1 219.8L1050.4 221.3L1050.8 222.8L1051.2 224.3L1051.6 225.8L1051.9 227.3L1052.3 228.8L1052.7 230.3L1053.1 231.8L1053.5 233.3L1053.9 234.8L1054.3 236.3L1054.8 237.8L1055.2 239.3L1055.7 240.8L1056.2 242.3L1056.7 243.8L1057.2 245.3L1057.7 246.8L1058.3 248.3L1058.8 249.8L1059.4 251.3L1060 252.8L1060.6 254.3L1061.2 255.8L1061.8 257.3L1062.5 258.8L1063.1 260.3L1063.8 261.8L1064.5 263.3L1065.2 264.8L1065.9 266.3L1066.6 267.8L1067.4 269.3L1068.1 270.8L1068.9 272.3L1069.6 273.8L1070.3 275.3L1071 276.8L1071.6 278.3L1072.3 279.8L1072.8 281.3L1073.4 282.8L1073.9 284.3L1074.4 285.8L1074.8 287.3L1075.2 288.8L1075.5 290.3L1075.8 291.8L1076.1 293.3L1076.4 294.8L1076.6 296.3L1076.8 297.8L1077 299.3L1077.1 300.8L1077.2 302.3L1077.3 303.8L1077.4 305.3L1077.5 306.8L1077.6 308.3L1077.7 309.8L1077.8 311.3L1077.9 312.8L1078 314.3L1078.2 315.8L1078.3 317.3L1078.5 318.8L1078.7 320.3L1078.9 321.8L1079.2 323.3L1079.5 324.8L1079.9 326.3L1080.2 327.8L1080.7 329.3L1081.1 330.8L1081.6 332.3L1082.1 333.8L1082.6 335.3L1083.2 336.8L1083.8 338.3L1084.4 339.8L1085 341.3L1085.7 342.8L1086.3 344.3L1087 345.8L1087.8 347.3L1088.5 348.8L1089.2 350.3L1090 351.8L1090.8 353.3L1091.5 354.8L1092.3 356.3L1093.1 357.8L1093.8 359.3L1094.6 360.8L1095.3 362.3L1096.1 363.8L1096.8 365.3L1097.5 366.8L1098.2 368.3L1098.9 369.8L1099.6 371.3L1100.3 372.8L1100.9 374.3L1101.6 375.8L1102.2 377.3L1102.8 378.8L1103.4 380.3L1103.9 381.8L1104.4 383.3L1105 384.8L1105.4 386.3L1105.9 387.8L1106.3 389.3L1106.7 390.8L1107 392.3L1107.3 393.8L1107.6 395.3L1107.9 396.8L1108.1 398.3L1108.3 399.8L1108.4 401.3L1108.6 402.8L1108.7 404.3L1108.8 405.8L1108.8 407.3L1108.7 408.8L1108.6 410.3L1108.4 411.8L1108.2 413.3L1107.8 414.8L1107.4 416.3L1106.9 417.8L1106.3 419.3L1105.6 420.8L1104.7 422.3L1103.7 423.8L1102.7 425.3L1101.5 426.8L1100.2 428.3L1098.7 429.8L1097.2 431.3L1095.6 432.8L1093.9 434.3L1092.2 435.8L1090.3 437.3L1088.4 438.8L1086.5 440.3L1084.5 441.8L1082.5 443.3L1080.5 444.8L1078.5 446.3L1076.5 447.8L1074.6 449.3L1072.6 450.8L1070.6 452.3L1068.7 453.8L1066.8 455.3L1064.9 456.8L1063.1 458.3L1061.3 459.8L1059.5 461.3L1057.8 462.8L1056.2 464.3L1054.6 465.8L1053.1 467.3L1051.7 468.8L1050.4 470.3L1049.2 471.8L1048.1 473.3L1047 474.8L1046 476.3L1045.1 477.8L1044.2 479.3L1043.5 480.8L1042.8 482.3L1042.1 483.8L1041.5 485.3L1041 486.8L1040.5 488.3L1040.1 489.8L1039.7 491.3L1039.4 492.8L1039.1 494.3L1038.9 495.8L1038.7 497.3L1038.5 498.8L1038.3 500.3L1038.1 501.8L1038 503.3L1037.9 504.8L1037.8 506.3L1037.7 507.8L1037.6 509.3L1037.5 510.8L1037.5 512.3L1037.4 513.8L1037.3 515.3L1037.3 516.8L1037.2 518.3L1037.2 519.8L1037.1 521.3L1037.1 522.8L1037 524.3L1037 525.8L1037 527.3L1037 528.8L1036.9 530.3L1036.9 530.9L1036.9 530.3L1036.9 528.8L1036.9 527.3L1036.9 525.8L1036.8 524.3L1036.8 522.8L1036.7 521.3L1036.7 519.8L1036.6 518.3L1036.6 516.8L1036.5 515.3L1036.5 513.8L1036.4 512.3L1036.3 510.8L1036.3 509.3L1036.2 507.8L1036.1 506.3L1036 504.8L1035.9 503.3L1035.7 501.8L1035.6 500.3L1035.4 498.8L1035.2 497.3L1035 495.8L1034.7 494.3L1034.5 492.8L1034.2 491.3L1033.8 489.8L1033.4 488.3L1032.9 486.8L1032.3 485.3L1031.7 483.8L1031.1 482.3L1030.4 480.8L1029.6 479.3L1028.8 477.8L1027.9 476.3L1026.9 474.8L1025.8 473.3L1024.6 471.8L1023.4 470.3L1022.1 468.8L1020.7 467.3L1019.3 465.8L1017.7 464.3L1016.1 462.8L1014.4 461.3L1012.6 459.8L1010.8 458.3L1009 456.8L1007.1 455.3L1005.2 453.8L1003.3 452.3L1001.3 450.8L999.3 449.3L997.3 447.8L995.3 446.3L993.3 444.8L991.3 443.3L989.3 441.8L987.4 440.3L985.4 438.8L983.5 437.3L981.7 435.8L979.9 434.3L978.3 432.8L976.6 431.3L975.1 429.8L973.7 428.3L972.4 426.8L971.2 425.3L970.1 423.8L969.2 422.3L968.3 420.8L967.6 419.3L966.9 417.8L966.4 416.3L966 414.8L965.7 413.3L965.5 411.8L965.3 410.3L965.2 408.8L965.1 407.3L965.1 405.8L965.2 404.3L965.3 402.8L965.4 401.3L965.6 399.8L965.8 398.3L966 396.8L966.3 395.3L966.6 393.8L966.9 392.3L967.2 390.8L967.6 389.3L968 387.8L968.4 386.3L968.9 384.8L969.4 383.3L970 381.8L970.5 380.3L971.1 378.8L971.7 377.3L972.3 375.8L972.9 374.3L973.6 372.8L974.3 371.3L974.9 369.8L975.6 368.3L976.3 366.8L977.1 365.3L977.8 363.8L978.5 362.3L979.3 360.8L980 359.3L980.8 357.8L981.6 356.3L982.3 354.8L983.1 353.3L983.9 351.8L984.6 350.3L985.4 348.8L986.1 347.3L986.8 345.8L987.5 344.3L988.2 342.8L988.9 341.3L989.5 339.8L990.1 338.3L990.7 336.8L991.3 335.3L991.8 333.8L992.3 332.3L992.8 330.8L993.2 329.3L993.6 327.8L994 326.3L994.4 324.8L994.7 323.3L995 321.8L995.2 320.3L995.4 318.8L995.6 317.3L995.7 315.8L995.9 314.3L996 312.8L996.1 311.3L996.2 309.8L996.3 308.3L996.4 306.8L996.5 305.3L996.6 303.8L996.7 302.3L996.8 300.8L996.9 299.3L997.1 297.8L997.3 296.3L997.5 294.8L997.7 293.3L998 291.8L998.4 290.3L998.7 288.8L999.1 287.3L999.5 285.8L1000 284.3L1000.5 282.8L1001 281.3L1001.6 279.8L1002.2 278.3L1002.9 276.8L1003.5 275.3L1004.2 273.8L1005 272.3L1005.7 270.8L1006.5 269.3L1007.2 267.8L1008 266.3L1008.7 264.8L1009.4 263.3L1010.1 261.8L1010.7 260.3L1011.4 258.8L1012 257.3L1012.7 255.8L1013.3 254.3L1013.9 252.8L1014.5 251.3L1015 249.8L1015.6 248.3L1016.2 246.8L1016.7 245.3L1017.2 243.8L1017.7 242.3L1018.2 240.8L1018.6 239.3L1019.1 237.8L1019.5 236.3L1019.9 234.8L1020.4 233.3L1020.8 231.8L1021.2 230.3L1021.5 228.8L1021.9 227.3L1022.3 225.8L1022.7 224.3L1023.1 222.8L1023.4 221.3L1023.8 219.8L1024.2 218.3L1024.5 216.8L1024.9 215.3L1025.3 213.8L1025.6 212.3L1026 210.8L1026.4 209.3L1026.7 207.8L1027 206.3L1027.4 204.8L1027.7 203.3L1028 201.8L1028.4 200.3L1028.7 198.8L1029 197.3L1029.3 195.8L1029.6 194.3L1029.9 192.8L1030.1 191.3L1030.4 189.8L1030.7 188.3L1031 186.8L1031.3 185.3L1031.5 183.8L1031.8 182.3L1032 180.8L1032.2 179.3L1032.4 177.8L1032.6 176.3L1032.8 174.8L1033 173.3L1033.1 171.8L1033.3 170.3L1033.4 168.8L1033.5 167.3L1033.7 165.8L1033.8 164.3L1033.9 162.8L1034 161.3L1034.1 159.8L1034.2 158.3L1034.3 156.8L1034.4 155.3L1034.5 153.8L1034.6 152.3L1034.8 150.8L1034.9 149.3L1035 147.8L1035.1 146.3L1035.2 144.8L1035.4 143.3L1035.5 141.8L1035.6 140.3L1035.7 138.8L1035.8 137.3L1035.9 135.8L1036 134.3L1036.1 132.8L1036.2 131.3L1036.2 129.8L1036.3 128.3L1036.3 126.8L1036.4 125.3L1036.4 123.8L1036.5 122.3L1036.5 120.8L1036.6 119.3L1036.6 117.8L1036.6 116.3L1036.7 114.8L1036.7 113.3L1036.7 111.8L1036.8 110.3L1036.8 108.8L1036.8 107.3L1036.9 105.8L1036.9 104.3L1036.9 102.8L1036.9 101.3L1036.9 99.8L1036.9 98.3L1036.9 96.8L1036.9 95.3Z" fill="#6CC0C6" stroke="#333333" stroke-width="1.7" stroke-linejoin="round"/>
<g fill="none" stroke="#333333" stroke-width="1.5" opacity="1">
<path d="M1036.9 160.9V311.4M1036.9 412.1V465.3"/>
<rect x="1025.5" y="311.4" width="22.8" height="100.7"/>
<path d="M1025.5 375H1048.3" stroke-width="2.4"/>
</g>
<path d="M1056.3 318.5h0M1032.1 439.1h0M1030.2 301.2h0M1064.7 298.3h0M1023.5 343.4h0M1040.3 312.9h0M1041.6 397.2h0M1004.1 278.6h0M1008.1 429.7h0M1017.9 423.7h0M1001.1 204.4h0M1050.1 378.4h0M1042.6 275.7h0M1025.6 320.5h0M1031.1 357.2h0M1003.9 363.9h0M1029.8 366.4h0M1061.5 435.3h0M1003.7 320.7h0M1048 300.8h0M1050.7 397.2h0M1016.7 439.1h0M1022.2 434.4h0M1013.9 427.1h0M1041.7 257.7h0M1027.5 437.1h0M1010.3 394.2h0M1021.7 425.7h0M1018.5 355.5h0M1072 309.7h0M1044.9 414.3h0M1035.4 396h0M1036.1 412.3h0M1042.4 304.6h0M1071.6 284.9h0M1028.6 410.2h0M1005.1 226.6h0M1014.2 438.9h0M1001.5 285.1h0M1015.5 387.2h0M1044.3 357.6h0M1019.5 337.4h0M1061.1 295.7h0M1069.4 412.5h0M1009.7 432.9h0M1059 405.4h0M1048.6 387.2h0M1072.4 402.9h0M1014.5 377.5h0M1056 380.9h0M1024.8 431.4h0M1015.3 327.1h0M1019.6 310.5h0M1068.5 439.2h0M1035.4 438.4h0M1032.3 367.8h0M1063.7 415.4h0M1062.7 407.3h0M1065.5 439.7h0M1002.6 265.9h0M1072.6 430h0M1050.3 371.8h0M1065.9 363.1h0M1058.8 399.5h0M1065.6 389.5h0M1064.7 360.9h0M1047.5 329.3h0M1010.1 433.6h0M1049.9 417.9h0M1003.5 274.2h0M1026.1 354.8h0M1021.3 410.1h0M1022.2 426.9h0M1059 442.6h0M1064.5 315.7h0M1065.8 429h0M1045.5 400.6h0M1056.5 259.6h0M1010 307.3h0M1025.9 301h0M1057.6 264h0M1033.7 399.6h0M1036.5 334.1h0M1057.4 400.2h0M1017 265.9h0M1063.3 425.7h0M1054.2 400.7h0M1006.5 412.8h0M1031.5 388.1h0M1066.9 364.6h0M1020.4 302.3h0M1001.8 438.2h0M1013.2 288.3h0M1040 375.2h0M1008.3 280.7h0M1004.8 276.3h0M1010.8 400.9h0M1060.3 428.5h0M1070.6 365.2h0M1010.7 414.5h0M1041.1 423.9h0M1049.9 377.4h0M1006 411.8h0M1064.3 329.8h0M1054.8 289.8h0M1050 301.1h0M1035.5 211.1h0M1057.8 261.1h0M1060.3 408.4h0M1021.5 430.9h0M1018 253.9h0M1071.7 404.3h0M1035.8 412.1h0M1030.6 398.7h0M1068.2 371.6h0M1052.9 369.4h0M1054.7 400.6h0M1058.8 316.9h0M1061 408.6h0M1050.1 302.1h0M1072.6 239.6h0M1057.9 436.5h0M1060.5 269.6h0M1060.8 303.3h0M1004.3 253.2h0M1072.2 215.4h0M1056 281.6h0M1007 434.1h0M1052.8 400.7h0M1052 354.9h0M1036.8 210.4h0M1022.7 419.3h0M1039.7 369.3h0M1012.7 423h0M1029.3 372.5h0M1045.8 264.4h0M1052.4 262.3h0M1040.1 413.8h0M1064.9 310.6h0M1065.2 289.8h0M1066.4 355.7h0M1043.6 321.4h0M1018.9 325.5h0M1004.2 414.3h0M1042.7 366.6h0M1038.1 452.4h0M1001.1 272.6h0M1011.2 330.2h0M1070.6 427.3h0M1055 360.6h0M1060.5 160.2h0M1063.4 162.5h0M1005 465.7h0" fill="none" stroke="#000" stroke-width="3.15" stroke-linecap="round"/>
<path d="M669.3 41V554H1174.8" fill="none" stroke="#262626" stroke-width="1.9" stroke-linejoin="round"/>
<path d="M664.7 175.1H669.3M664.7 321.3H669.3M664.7 467H669.3M806.9 554V558.6M1036.9 554V558.6" fill="none" stroke="#333333" stroke-width="1.4"/>
<text x="661.7" y="182.8" font-family="Liberation Sans, Arial, Helvetica, sans-serif" font-size="21.9" fill="#4D4D4D" text-anchor="end">500</text>
<text x="661.7" y="329" font-family="Liberation Sans, Arial, Helvetica, sans-serif" font-size="21.9" fill="#4D4D4D" text-anchor="end">250</text>
<text x="661.7" y="474.7" font-family="Liberation Sans, Arial, Helvetica, sans-serif" font-size="21.9" fill="#4D4D4D" text-anchor="end">0</text>
<text x="806.9" y="576" font-family="Liberation Sans, Arial, Helvetica, sans-serif" font-size="21.9" fill="#4D4D4D" text-anchor="middle">A</text>
<text x="1036.9" y="576" font-family="Liberation Sans, Arial, Helvetica, sans-serif" font-size="21.9" fill="#4D4D4D" text-anchor="middle">B</text>
<text x="668.5" y="26.9" font-family="Liberation Sans, Arial, Helvetica, sans-serif" font-size="33.4" fill="#000" text-anchor="start">Child</text>
<text x="604.5" y="28.1" font-family="Liberation Serif, Times New Roman, serif" font-size="33.4" fill="#000" text-anchor="start">B</text>
<text x="620.7" y="289.5" font-family="Liberation Sans, Arial, Helvetica, sans-serif" font-size="30" fill="#000" text-anchor="middle" letter-spacing="-1.0" transform="rotate(-90 620.7 289.5)">HSP90α</text>
<text x="782.9" y="116" font-family="Liberation Sans, Arial, Helvetica, sans-serif" font-size="15" fill="#000" text-anchor="start">T−test, p = 0.0015</text>
</g>
<g>
<path d="M1401.4 128.1L1401.4 129.6L1401.4 131.1L1401.4 132.6L1401.5 134.1L1401.5 135.6L1401.5 137.1L1401.5 138.6L1401.6 140.1L1401.6 141.6L1401.6 143.1L1401.7 144.6L1401.7 146.1L1401.7 147.6L1401.8 149.1L1401.8 150.6L1401.8 152.1L1401.9 153.6L1401.9 155.1L1402 156.6L1402 158.1L1402.1 159.6L1402.1 161.1L1402.2 162.6L1402.3 164.1L1402.3 165.6L1402.4 167.1L1402.5 168.6L1402.5 170.1L1402.6 171.6L1402.7 173.1L1402.8 174.6L1402.8 176.1L1402.9 177.6L1403 179.1L1403.1 180.6L1403.2 182.1L1403.3 183.6L1403.4 185.1L1403.6 186.6L1403.7 188.1L1403.8 189.6L1404 191.1L1404.1 192.6L1404.2 194.1L1404.4 195.6L1404.6 197.1L1404.7 198.6L1404.9 200.1L1405.1 201.6L1405.3 203.1L1405.6 204.6L1405.8 206.1L1406.1 207.6L1406.3 209.1L1406.6 210.6L1406.8 212.1L1407.1 213.6L1407.4 215.1L1407.6 216.6L1407.9 218.1L1408.1 219.6L1408.4 221.1L1408.6 222.6L1408.9 224.1L1409.1 225.6L1409.4 227.1L1409.6 228.6L1409.9 230.1L1410.2 231.6L1410.4 233.1L1410.7 234.6L1411 236.1L1411.3 237.6L1411.6 239.1L1411.9 240.6L1412.2 242.1L1412.6 243.6L1412.9 245.1L1413.3 246.6L1413.7 248.1L1414.2 249.6L1414.6 251.1L1415.1 252.6L1415.7 254.1L1416.3 255.6L1416.9 257.1L1417.6 258.6L1418.3 260.1L1419 261.6L1419.7 263.1L1420.4 264.6L1421.2 266.1L1421.9 267.6L1422.6 269.1L1423.3 270.6L1424 272.1L1424.7 273.6L1425.3 275.1L1425.8 276.6L1426.3 278.1L1426.8 279.6L1427.2 281.1L1427.6 282.6L1427.9 284.1L1428.2 285.6L1428.4 287.1L1428.6 288.6L1428.7 290.1L1428.9 291.6L1429 293.1L1429.1 294.6L1429.1 296.1L1429.2 297.6L1429.2 299.1L1429.2 300.6L1429.2 302.1L1429.2 303.6L1429.2 305.1L1429.2 306.6L1429.2 308.1L1429.3 309.6L1429.3 311.1L1429.4 312.6L1429.5 314.1L1429.6 315.6L1429.8 317.1L1430 318.6L1430.2 320.1L1430.4 321.6L1430.6 323.1L1430.9 324.6L1431.2 326.1L1431.5 327.6L1431.8 329.1L1432.1 330.6L1432.4 332.1L1432.8 333.6L1433.1 335.1L1433.5 336.6L1433.8 338.1L1434.2 339.6L1434.5 341.1L1434.9 342.6L1435.3 344.1L1435.7 345.6L1436.1 347.1L1436.5 348.6L1437 350.1L1437.4 351.6L1437.9 353.1L1438.5 354.6L1439 356.1L1439.6 357.6L1440.3 359.1L1441 360.6L1441.7 362.1L1442.6 363.6L1443.5 365.1L1444.4 366.6L1445.5 368.1L1446.6 369.6L1447.9 371.1L1449.2 372.6L1450.6 374.1L1452.1 375.6L1453.5 377.1L1455 378.6L1456.5 380.1L1457.9 381.6L1459.4 383.1L1460.9 384.6L1462.5 386.1L1464 387.6L1465.5 389.1L1467 390.6L1468.5 392.1L1470 393.6L1471.4 395.1L1472.9 396.6L1474.5 398.1L1476 399.6L1477.6 401.1L1479.2 402.6L1480.8 404.1L1482.4 405.6L1484.1 407.1L1485.7 408.6L1487.4 410.1L1489.1 411.6L1490.8 413.1L1492.5 414.6L1494.3 416.1L1495.9 417.6L1497.6 419.1L1499.2 420.6L1500.6 422.1L1502 423.6L1503.1 425.1L1504 426.6L1504.5 428.1L1504.7 429.6L1504.4 431.1L1503.8 432.6L1502.9 434.1L1501.6 435.6L1499.9 437.1L1497.7 438.6L1495.2 440.1L1492.3 441.6L1489.1 443.1L1485.6 444.6L1481.7 446.1L1477.7 447.6L1473.4 449.1L1468.9 450.6L1464.2 452.1L1459.4 453.6L1454.5 455.1L1449.7 456.6L1445 458.1L1440.5 459.6L1436.2 461.1L1432.2 462.6L1428.5 464.1L1425 465.6L1422 467.1L1419.3 468.6L1417 470.1L1414.9 471.6L1413.1 473.1L1411.5 474.6L1410.1 476.1L1408.9 477.6L1407.9 479.1L1407 480.6L1406.2 482.1L1405.5 483.6L1404.9 485.1L1404.4 486.6L1403.9 488.1L1403.6 489.6L1403.3 491.1L1403 492.6L1402.8 494.1L1402.7 495.6L1402.5 497.1L1402.4 498.6L1402.3 500.1L1402.2 501.6L1402 503.1L1401.9 504.6L1401.8 506.1L1401.7 507.6L1401.6 509.1L1401.5 510.6L1401.4 512.1L1401.4 512.4L1401.4 512.1L1401.3 510.6L1401.2 509.1L1401.1 507.6L1401 506.1L1400.9 504.6L1400.7 503.1L1400.6 501.6L1400.5 500.1L1400.4 498.6L1400.2 497.1L1400.1 495.6L1399.9 494.1L1399.7 492.6L1399.5 491.1L1399.2 489.6L1398.8 488.1L1398.4 486.6L1397.9 485.1L1397.3 483.6L1396.6 482.1L1395.8 480.6L1394.9 479.1L1393.9 477.6L1392.6 476.1L1391.2 474.6L1389.7 473.1L1387.9 471.6L1385.8 470.1L1383.5 468.6L1380.8 467.1L1377.7 465.6L1374.3 464.1L1370.6 462.6L1366.5 461.1L1362.3 459.6L1357.8 458.1L1353.1 456.6L1348.2 455.1L1343.4 453.6L1338.6 452.1L1333.9 450.6L1329.4 449.1L1325.1 447.6L1321 446.1L1317.2 444.6L1313.7 443.1L1310.5 441.6L1307.6 440.1L1305.1 438.6L1302.9 437.1L1301.2 435.6L1299.9 434.1L1298.9 432.6L1298.4 431.1L1298.1 429.6L1298.2 428.1L1298.8 426.6L1299.6 425.1L1300.8 423.6L1302.1 422.1L1303.6 420.6L1305.2 419.1L1306.8 417.6L1308.5 416.1L1310.2 414.6L1312 413.1L1313.7 411.6L1315.4 410.1L1317 408.6L1318.7 407.1L1320.4 405.6L1322 404.1L1323.6 402.6L1325.2 401.1L1326.8 399.6L1328.3 398.1L1329.8 396.6L1331.3 395.1L1332.8 393.6L1334.3 392.1L1335.8 390.6L1337.3 389.1L1338.8 387.6L1340.3 386.1L1341.8 384.6L1343.3 383.1L1344.8 381.6L1346.3 380.1L1347.8 378.6L1349.2 377.1L1350.7 375.6L1352.1 374.1L1353.5 372.6L1354.9 371.1L1356.1 369.6L1357.3 368.1L1358.4 366.6L1359.3 365.1L1360.2 363.6L1361 362.1L1361.8 360.6L1362.5 359.1L1363.1 357.6L1363.7 356.1L1364.3 354.6L1364.8 353.1L1365.3 351.6L1365.8 350.1L1366.2 348.6L1366.7 347.1L1367.1 345.6L1367.5 344.1L1367.8 342.6L1368.2 341.1L1368.6 339.6L1369 338.1L1369.3 336.6L1369.7 335.1L1370 333.6L1370.3 332.1L1370.7 330.6L1371 329.1L1371.3 327.6L1371.6 326.1L1371.9 324.6L1372.1 323.1L1372.4 321.6L1372.6 320.1L1372.8 318.6L1373 317.1L1373.2 315.6L1373.3 314.1L1373.4 312.6L1373.5 311.1L1373.5 309.6L1373.5 308.1L1373.5 306.6L1373.5 305.1L1373.6 303.6L1373.6 302.1L1373.6 300.6L1373.6 299.1L1373.6 297.6L1373.7 296.1L1373.7 294.6L1373.8 293.1L1373.9 291.6L1374 290.1L1374.2 288.6L1374.4 287.1L1374.6 285.6L1374.9 284.1L1375.2 282.6L1375.6 281.1L1376 279.6L1376.5 278.1L1377 276.6L1377.5 275.1L1378.1 273.6L1378.7 272.1L1379.4 270.6L1380.2 269.1L1380.9 267.6L1381.6 266.1L1382.3 264.6L1383.1 263.1L1383.8 261.6L1384.5 260.1L1385.2 258.6L1385.9 257.1L1386.5 255.6L1387.1 254.1L1387.6 252.6L1388.1 251.1L1388.6 249.6L1389 248.1L1389.5 246.6L1389.8 245.1L1390.2 243.6L1390.6 242.1L1390.9 240.6L1391.2 239.1L1391.5 237.6L1391.8 236.1L1392.1 234.6L1392.3 233.1L1392.6 231.6L1392.9 230.1L1393.1 228.6L1393.4 227.1L1393.6 225.6L1393.9 224.1L1394.1 222.6L1394.4 221.1L1394.6 219.6L1394.9 218.1L1395.2 216.6L1395.4 215.1L1395.7 213.6L1395.9 212.1L1396.2 210.6L1396.5 209.1L1396.7 207.6L1397 206.1L1397.2 204.6L1397.4 203.1L1397.6 201.6L1397.8 200.1L1398 198.6L1398.2 197.1L1398.4 195.6L1398.5 194.1L1398.7 192.6L1398.8 191.1L1399 189.6L1399.1 188.1L1399.2 186.6L1399.3 185.1L1399.4 183.6L1399.6 182.1L1399.7 180.6L1399.8 179.1L1399.8 177.6L1399.9 176.1L1400 174.6L1400.1 173.1L1400.2 171.6L1400.3 170.1L1400.3 168.6L1400.4 167.1L1400.5 165.6L1400.5 164.1L1400.6 162.6L1400.6 161.1L1400.7 159.6L1400.7 158.1L1400.8 156.6L1400.8 155.1L1400.9 153.6L1400.9 152.1L1401 150.6L1401 149.1L1401 147.6L1401.1 146.1L1401.1 144.6L1401.1 143.1L1401.2 141.6L1401.2 140.1L1401.2 138.6L1401.3 137.1L1401.3 135.6L1401.3 134.1L1401.3 132.6L1401.4 131.1L1401.4 129.6L1401.4 128.1Z" fill="#DE756E" stroke="#333333" stroke-width="1.7" stroke-linejoin="round"/>
<g fill="none" stroke="#333333" stroke-width="1.5" opacity="1">
<path d="M1401.4 222V344.7M1401.4 430.2V464.2"/>
<rect x="1390" y="344.7" width="22.8" height="85.5"/>
<path d="M1390 403H1412.8" stroke-width="2.4"/>
</g>
<path d="M1398.4 429.9h0M1401 414h0M1418.1 423.8h0M1399.3 290.3h0M1409 416.4h0M1386.8 449.9h0M1383.7 391.7h0M1402.3 300.7h0M1374 446.9h0M1368.8 420.7h0M1416.5 336.5h0M1375.8 420.4h0M1410.3 451.7h0M1431.7 341h0M1425.4 436.3h0M1373.1 422.8h0M1398.9 345.2h0M1405.1 331.7h0M1390.3 446.4h0M1391.9 377.5h0M1434.3 394.3h0M1376.7 418.9h0M1426.5 394.2h0M1421.7 196.4h0M1378.6 357.6h0M1392 398.6h0M1403.2 428.2h0M1430.5 414h0M1365.4 392.7h0M1429.8 334.2h0M1369.5 430.2h0M1386.9 332.7h0M1365.6 425h0M1435.2 401.8h0M1434.6 408.2h0M1396.6 385.5h0M1416.5 338.6h0M1369 325.7h0M1405.3 417.5h0M1390.5 362.2h0M1405.1 236.2h0M1387.5 334.8h0M1413.3 442.7h0M1399.9 423.9h0M1400.9 411.3h0M1400.7 388.4h0M1390.6 433.1h0M1402.1 358.5h0M1417.1 416.7h0M1410.9 232.3h0M1375.1 417.9h0M1413 448.7h0M1379.7 423.7h0M1412.1 284.6h0M1418.7 412.5h0M1411.7 372.5h0M1422.3 442.6h0M1394.8 242.2h0M1436.7 232.1h0M1429.2 293.5h0M1403.6 377.3h0M1387.2 438.9h0M1432.7 409.6h0M1406.9 419.5h0M1375.9 267.4h0M1394.9 327.8h0M1373.9 385h0M1400.6 416.2h0M1384.3 427.4h0M1376.5 410.7h0M1420.1 363.2h0M1387.9 329.7h0M1434.3 391.5h0M1415 356.3h0M1393.2 428.1h0M1386.4 439.9h0M1375.6 431.9h0M1390.7 304.6h0M1405.3 430.5h0M1366.4 237.7h0M1406.6 310.9h0M1380.7 423h0M1377.3 373.7h0M1376.4 433.9h0M1386.2 421.9h0M1409.2 417.4h0M1384 413.4h0M1413.7 441.9h0M1401.2 434.4h0M1390.9 255.7h0M1434.6 450.4h0M1432.7 392.9h0M1380 367.4h0M1399 437.7h0M1405.6 442.5h0M1390.4 429.2h0M1391.9 424.7h0M1434.5 229.1h0M1408 362.4h0M1432.8 432.6h0M1390.4 452.6h0M1412 363.5h0M1404.7 428.2h0M1422.5 301h0M1381.1 427.1h0M1368.1 380.7h0M1423.7 284.9h0M1429.5 328.2h0M1368.6 409.9h0M1428.6 398.6h0M1399.8 421.8h0M1370.8 379.1h0M1383.5 413h0M1377.6 384.1h0M1403 428.8h0M1437.1 220.6h0M1393.8 412.2h0M1415 412.1h0M1387 275.5h0M1375 428.5h0M1435.9 416.8h0M1429.1 445.9h0M1372.5 332.7h0M1383.5 392h0M1404.5 437.3h0M1419 445.3h0M1387.5 421.6h0M1369 379.9h0M1384.8 426.7h0M1406 396.1h0M1427.4 406.2h0M1366.8 420.8h0M1416.6 443.7h0M1409.2 226h0M1389.2 422.9h0M1398.9 442.1h0M1368.2 383.9h0M1400.7 350.3h0M1420.8 410.2h0M1387.9 256.3h0M1405.8 432h0M1413.9 400.6h0M1373.9 419.6h0M1395.6 429.8h0M1386.3 244.3h0M1382.2 333.6h0M1408.4 390.9h0M1368.7 414.4h0M1402.4 382.5h0M1417.5 362.8h0M1380.9 251.3h0M1367.8 392.3h0M1427.6 444.7h0M1426.8 256.2h0M1389.8 413.4h0M1426.6 339h0M1381.7 448.6h0M1379.7 432.1h0M1416.6 343.2h0M1374.8 448.6h0M1391 371.2h0M1412.1 422.1h0M1384.2 358.1h0M1365.8 366.5h0M1430.9 278.4h0M1388.7 367h0M1384.5 389.7h0M1402.8 253.4h0M1425.3 231.8h0M1395.4 229.2h0M1403.5 438.7h0M1421.8 390.4h0M1435.1 442.3h0M1410.3 399.5h0M1424.2 409h0M1382.2 383.4h0M1381.9 429.9h0M1372.9 378.1h0M1385 432.2h0M1382.2 386.8h0M1424 307.3h0M1434.1 390.8h0M1373.4 255.5h0M1412.7 386.1h0M1436.7 386h0M1431.9 423.6h0M1380.5 452.6h0M1408 319.8h0M1414.8 414.3h0M1366.7 434.8h0M1371.1 421.3h0M1417.4 349.2h0M1402.2 391.2h0M1414.2 444h0M1373.4 404.6h0M1379.5 420.7h0M1421.8 370.6h0M1393.1 430.9h0M1400.6 409.4h0M1420.7 430.4h0M1371.4 363.3h0M1373.7 348.8h0M1401.5 330.2h0M1412.3 412.9h0M1389.2 285.7h0M1402.5 378.6h0M1419.6 419.6h0M1427.7 362.7h0M1383.5 357.5h0M1418.2 349.4h0M1380.9 398.7h0M1399.7 427.8h0M1418.5 358.7h0M1388.4 406h0M1409.8 451.3h0M1384.8 402.2h0M1410.2 360.4h0M1400.7 434.9h0M1395.8 441.1h0M1374.6 427h0M1393.3 374.4h0M1422.1 402.2h0M1377.8 373.6h0M1421.6 442.9h0M1424.7 229.8h0M1431.7 438.1h0M1403 358h0M1402.2 316h0M1400 435h0M1405.3 430.9h0M1428.1 264.5h0M1405.6 367.2h0M1406.1 292.6h0M1421.5 427h0M1387.6 441h0M1367.5 366.3h0M1432.3 380.5h0M1393.1 259h0M1400.6 295.4h0M1399.4 278.5h0M1416.3 425h0M1380.9 340.2h0M1383.8 397.7h0M1382.4 360.7h0M1417.3 404.5h0M1396.5 408.5h0M1437.2 378.8h0M1429 358.6h0M1435 441.4h0M1380.4 444.2h0M1380.2 397.9h0M1420.2 387.8h0M1412 404.3h0M1387.4 407.1h0M1393.3 446.8h0M1366.6 393.2h0M1435.8 378.1h0M1373.2 445.9h0M1423.2 418.2h0M1398.5 310.4h0M1417.5 407.7h0M1370.9 433.2h0M1403.2 409.6h0M1399.2 358.7h0M1415.8 381.8h0M1375.5 425.5h0M1432.8 408.7h0M1436.8 239.2h0M1380.4 373.5h0M1371.6 426.4h0M1404.1 277.1h0M1397 388.5h0M1411.7 408.9h0M1436.2 369.2h0M1417.3 421.6h0M1417.4 279h0M1429.9 444.2h0M1409.4 427.8h0M1389.3 438.3h0M1375.5 404.8h0M1384.9 397.7h0M1408.7 370.7h0M1382.4 295.5h0M1384.4 404.2h0M1415.1 370.9h0M1423.3 437.2h0M1386.3 323.4h0M1433 265.2h0M1421.1 430.6h0M1390.7 449.8h0M1399 393h0M1375.1 437.8h0M1421.8 424.6h0M1431.1 430.4h0M1422.6 412.3h0M1372 402.9h0M1433.2 416.3h0M1390.5 431.3h0M1408.1 446h0M1386.5 439.6h0M1390 425.8h0M1387.2 443.7h0M1366.2 253.1h0M1405.6 229.8h0M1400.9 355.9h0M1412.5 221h0M1393.4 409.1h0M1435.9 336.7h0M1417.1 438.4h0M1419.4 293.5h0M1386.6 429.2h0M1431.7 276.7h0M1420.2 444.6h0M1416.4 382h0M1368.9 362.9h0M1403.7 373.5h0M1367.4 423.4h0M1377.3 437.3h0M1415.2 420.1h0M1392.8 313.3h0M1424.3 383.8h0M1424.5 400.5h0M1369.1 361.3h0M1381.8 444.2h0M1414.9 423.5h0M1397.9 423h0M1428.2 354h0M1428 405.8h0M1423.6 348.9h0M1414.6 373.8h0M1383.2 429.5h0M1392.5 354.4h0M1365.9 421.3h0M1415.2 351.8h0M1370.7 431h0M1391.2 321.7h0M1366 439h0M1369.3 272h0M1420.3 342.4h0M1385.6 419h0M1409.1 381.2h0M1391.9 323h0M1402.5 317.5h0M1434.8 404.9h0M1390.6 370.4h0M1392.1 440.9h0M1429.9 427h0M1395.4 400.8h0M1422.4 418.5h0M1424.7 346h0M1380.9 392.9h0M1382.6 432.2h0M1420.8 440.8h0M1415.9 316.8h0M1391.3 373.3h0M1382.1 429.3h0M1380.1 365.1h0M1421 377.1h0M1416.6 294.3h0M1388.7 434.7h0M1377.6 299.8h0M1416 420.6h0M1399 291.7h0M1408.1 358.8h0M1390.3 443.2h0M1386.4 304.2h0M1389.7 430.2h0M1403.1 343.7h0M1411.7 433.5h0M1367 376.1h0M1368.6 406.8h0M1398.6 432.7h0M1422.6 290.6h0M1399.2 384.7h0M1434.6 441h0M1379.6 358.9h0M1400.1 410h0M1434.4 441.7h0M1427.6 423.3h0M1373 442.3h0M1398.5 408.5h0M1384.3 420.3h0M1388.4 278.7h0M1433.3 445.1h0M1405.6 391.3h0M1398.4 406.3h0M1388 406h0M1426.4 371.9h0M1402.6 446.9h0M1432.7 419h0M1423.4 405.8h0M1431.9 318.6h0M1370.8 425.7h0M1397.1 417.4h0M1424.1 445.7h0M1397.2 410.2h0M1431.6 375.2h0M1397.4 416h0M1420.3 316.7h0M1369.7 347.1h0M1418.6 410.6h0M1396.7 417.7h0M1433.4 447.9h0M1418.4 262.4h0M1421 438.3h0M1414.1 389.1h0M1437 257.2h0M1371 387.7h0M1417.5 413.2h0M1428.6 382.9h0M1372.5 379.6h0M1403.4 432.9h0M1388.7 392h0M1410.1 446.9h0M1380.4 357.2h0M1394.6 294.5h0M1408.3 400.1h0M1375.1 425.5h0M1419.1 379.5h0M1375.6 352.7h0M1366.3 409.3h0M1405.6 433.4h0M1401.4 410.8h0M1402 413.4h0M1385.2 387.5h0M1415.4 418.7h0M1429.8 428.1h0M1423.4 285.5h0M1418.1 449.4h0M1365.4 393.1h0M1424.5 172.2h0M1428.3 174h0" fill="none" stroke="#000" stroke-width="3.15" stroke-linecap="round"/>
<path d="M1631.2 63.1L1631.2 64.6L1631.2 66.1L1631.2 67.6L1631.2 69.1L1631.3 70.6L1631.3 72.1L1631.3 73.6L1631.3 75.1L1631.3 76.6L1631.3 78.1L1631.3 79.6L1631.3 81.1L1631.3 82.6L1631.4 84.1L1631.4 85.6L1631.4 87.1L1631.4 88.6L1631.4 90.1L1631.5 91.6L1631.5 93.1L1631.5 94.6L1631.5 96.1L1631.5 97.6L1631.6 99.1L1631.6 100.6L1631.6 102.1L1631.6 103.6L1631.7 105.1L1631.7 106.6L1631.7 108.1L1631.7 109.6L1631.8 111.1L1631.8 112.6L1631.9 114.1L1631.9 115.6L1632 117.1L1632 118.6L1632.1 120.1L1632.1 121.6L1632.2 123.1L1632.3 124.6L1632.3 126.1L1632.4 127.6L1632.5 129.1L1632.6 130.6L1632.6 132.1L1632.7 133.6L1632.8 135.1L1632.9 136.6L1632.9 138.1L1633 139.6L1633.1 141.1L1633.1 142.6L1633.2 144.1L1633.3 145.6L1633.4 147.1L1633.4 148.6L1633.5 150.1L1633.6 151.6L1633.7 153.1L1633.8 154.6L1633.9 156.1L1634 157.6L1634.1 159.1L1634.2 160.6L1634.3 162.1L1634.5 163.6L1634.6 165.1L1634.7 166.6L1634.9 168.1L1635.1 169.6L1635.3 171.1L1635.5 172.6L1635.7 174.1L1635.9 175.6L1636.1 177.1L1636.3 178.6L1636.6 180.1L1636.8 181.6L1637.1 183.1L1637.4 184.6L1637.7 186.1L1638 187.6L1638.3 189.1L1638.7 190.6L1639 192.1L1639.4 193.6L1639.8 195.1L1640.3 196.6L1640.7 198.1L1641.1 199.6L1641.6 201.1L1642 202.6L1642.4 204.1L1642.9 205.6L1643.3 207.1L1643.7 208.6L1644.2 210.1L1644.6 211.6L1645 213.1L1645.5 214.6L1645.9 216.1L1646.4 217.6L1646.8 219.1L1647.3 220.6L1647.7 222.1L1648.1 223.6L1648.5 225.1L1648.9 226.6L1649.3 228.1L1649.7 229.6L1650 231.1L1650.3 232.6L1650.6 234.1L1650.9 235.6L1651.2 237.1L1651.5 238.6L1651.8 240.1L1652.1 241.6L1652.3 243.1L1652.6 244.6L1652.8 246.1L1653.1 247.6L1653.3 249.1L1653.5 250.6L1653.7 252.1L1653.8 253.6L1654 255.1L1654.1 256.6L1654.3 258.1L1654.4 259.6L1654.5 261.1L1654.6 262.6L1654.7 264.1L1654.8 265.6L1654.9 267.1L1655 268.6L1655.1 270.1L1655.3 271.6L1655.4 273.1L1655.5 274.6L1655.7 276.1L1655.8 277.6L1656 279.1L1656.2 280.6L1656.4 282.1L1656.6 283.6L1656.9 285.1L1657.1 286.6L1657.4 288.1L1657.8 289.6L1658.2 291.1L1658.6 292.6L1659 294.1L1659.5 295.6L1660.1 297.1L1660.6 298.6L1661.2 300.1L1661.8 301.6L1662.4 303.1L1663.1 304.6L1663.7 306.1L1664.4 307.6L1665.1 309.1L1665.8 310.6L1666.5 312.1L1667.2 313.6L1667.8 315.1L1668.5 316.6L1669.2 318.1L1669.9 319.6L1670.6 321.1L1671.4 322.6L1672.1 324.1L1672.8 325.6L1673.6 327.1L1674.3 328.6L1675.1 330.1L1675.9 331.6L1676.6 333.1L1677.4 334.6L1678.2 336.1L1678.9 337.6L1679.7 339.1L1680.4 340.6L1681.1 342.1L1681.8 343.6L1682.5 345.1L1683.2 346.6L1683.8 348.1L1684.4 349.6L1685 351.1L1685.6 352.6L1686.1 354.1L1686.7 355.6L1687.2 357.1L1687.8 358.6L1688.3 360.1L1688.8 361.6L1689.3 363.1L1689.8 364.6L1690.3 366.1L1690.8 367.6L1691.3 369.1L1691.8 370.6L1692.3 372.1L1692.8 373.6L1693.2 375.1L1693.7 376.6L1694.1 378.1L1694.5 379.6L1694.9 381.1L1695.3 382.6L1695.7 384.1L1696 385.6L1696.3 387.1L1696.7 388.6L1697 390.1L1697.2 391.6L1697.5 393.1L1697.8 394.6L1698 396.1L1698.2 397.6L1698.4 399.1L1698.6 400.6L1698.8 402.1L1699 403.6L1699.2 405.1L1699.3 406.6L1699.4 408.1L1699.4 409.6L1699.4 411.1L1699.2 412.6L1699 414.1L1698.7 415.6L1698.3 417.1L1697.8 418.6L1697.2 420.1L1696.5 421.6L1695.7 423.1L1694.7 424.6L1693.6 426.1L1692.4 427.6L1691.2 429.1L1689.8 430.6L1688.4 432.1L1686.8 433.6L1685.2 435.1L1683.6 436.6L1681.8 438.1L1680 439.6L1678.2 441.1L1676.3 442.6L1674.4 444.1L1672.5 445.6L1670.7 447.1L1668.8 448.6L1667 450.1L1665.1 451.6L1663.3 453.1L1661.6 454.6L1659.9 456.1L1658.2 457.6L1656.5 459.1L1654.9 460.6L1653.4 462.1L1651.9 463.6L1650.4 465.1L1649 466.6L1647.7 468.1L1646.4 469.6L1645.2 471.1L1644 472.6L1642.9 474.1L1641.9 475.6L1640.9 477.1L1640 478.6L1639.2 480.1L1638.4 481.6L1637.7 483.1L1637 484.6L1636.4 486.1L1635.8 487.6L1635.3 489.1L1634.9 490.6L1634.5 492.1L1634.1 493.6L1633.8 495.1L1633.5 496.6L1633.2 498.1L1633 499.6L1632.8 501.1L1632.6 502.6L1632.4 504.1L1632.3 505.6L1632.1 507.1L1632 508.6L1631.9 510.1L1631.8 511.6L1631.7 513.1L1631.7 514.6L1631.6 516.1L1631.5 517.6L1631.5 519.1L1631.4 520.6L1631.4 522.1L1631.3 523.6L1631.3 525.1L1631.3 526.6L1631.3 528.1L1631.2 529.6L1631.2 530.9L1631.2 529.6L1631.2 528.1L1631.2 526.6L1631.2 525.1L1631.1 523.6L1631.1 522.1L1631 520.6L1631 519.1L1630.9 517.6L1630.9 516.1L1630.8 514.6L1630.7 513.1L1630.7 511.6L1630.6 510.1L1630.5 508.6L1630.3 507.1L1630.2 505.6L1630 504.1L1629.9 502.6L1629.7 501.1L1629.5 499.6L1629.2 498.1L1629 496.6L1628.7 495.1L1628.4 493.6L1628 492.1L1627.6 490.6L1627.1 489.1L1626.6 487.6L1626 486.1L1625.4 484.6L1624.7 483.1L1624 481.6L1623.3 480.1L1622.4 478.6L1621.5 477.1L1620.6 475.6L1619.5 474.1L1618.4 472.6L1617.3 471.1L1616.1 469.6L1614.8 468.1L1613.5 466.6L1612.1 465.1L1610.6 463.6L1609.1 462.1L1607.5 460.6L1605.9 459.1L1604.3 457.6L1602.6 456.1L1600.9 454.6L1599.1 453.1L1597.3 451.6L1595.5 450.1L1593.7 448.6L1591.8 447.1L1589.9 445.6L1588 444.1L1586.2 442.6L1584.3 441.1L1582.4 439.6L1580.6 438.1L1578.9 436.6L1577.2 435.1L1575.6 433.6L1574.1 432.1L1572.7 430.6L1571.3 429.1L1570 427.6L1568.9 426.1L1567.8 424.6L1566.8 423.1L1565.9 421.6L1565.2 420.1L1564.6 418.6L1564.2 417.1L1563.8 415.6L1563.5 414.1L1563.3 412.6L1563.1 411.1L1563.1 409.6L1563.1 408.1L1563.2 406.6L1563.3 405.1L1563.4 403.6L1563.6 402.1L1563.8 400.6L1564 399.1L1564.2 397.6L1564.5 396.1L1564.7 394.6L1565 393.1L1565.2 391.6L1565.5 390.1L1565.8 388.6L1566.1 387.1L1566.5 385.6L1566.8 384.1L1567.2 382.6L1567.6 381.1L1567.9 379.6L1568.4 378.1L1568.8 376.6L1569.2 375.1L1569.7 373.6L1570.2 372.1L1570.7 370.6L1571.2 369.1L1571.7 367.6L1572.2 366.1L1572.7 364.6L1573.2 363.1L1573.7 361.6L1574.2 360.1L1574.7 358.6L1575.2 357.1L1575.8 355.6L1576.3 354.1L1576.9 352.6L1577.5 351.1L1578.1 349.6L1578.7 348.1L1579.3 346.6L1580 345.1L1580.6 343.6L1581.3 342.1L1582.1 340.6L1582.8 339.1L1583.6 337.6L1584.3 336.1L1585.1 334.6L1585.8 333.1L1586.6 331.6L1587.4 330.1L1588.1 328.6L1588.9 327.1L1589.6 325.6L1590.4 324.1L1591.1 322.6L1591.8 321.1L1592.5 319.6L1593.2 318.1L1593.9 316.6L1594.6 315.1L1595.3 313.6L1596 312.1L1596.7 310.6L1597.4 309.1L1598 307.6L1598.7 306.1L1599.4 304.6L1600.1 303.1L1600.7 301.6L1601.3 300.1L1601.9 298.6L1602.4 297.1L1602.9 295.6L1603.4 294.1L1603.9 292.6L1604.3 291.1L1604.7 289.6L1605 288.1L1605.3 286.6L1605.6 285.1L1605.8 283.6L1606.1 282.1L1606.3 280.6L1606.5 279.1L1606.6 277.6L1606.8 276.1L1606.9 274.6L1607.1 273.1L1607.2 271.6L1607.3 270.1L1607.4 268.6L1607.5 267.1L1607.6 265.6L1607.7 264.1L1607.9 262.6L1608 261.1L1608.1 259.6L1608.2 258.1L1608.3 256.6L1608.5 255.1L1608.6 253.6L1608.8 252.1L1609 250.6L1609.2 249.1L1609.4 247.6L1609.6 246.1L1609.9 244.6L1610.1 243.1L1610.4 241.6L1610.7 240.1L1610.9 238.6L1611.2 237.1L1611.5 235.6L1611.8 234.1L1612.1 232.6L1612.5 231.1L1612.8 229.6L1613.2 228.1L1613.5 226.6L1613.9 225.1L1614.3 223.6L1614.8 222.1L1615.2 220.6L1615.6 219.1L1616.1 217.6L1616.5 216.1L1617 214.6L1617.4 213.1L1617.9 211.6L1618.3 210.1L1618.7 208.6L1619.2 207.1L1619.6 205.6L1620 204.1L1620.5 202.6L1620.9 201.1L1621.3 199.6L1621.8 198.1L1622.2 196.6L1622.6 195.1L1623 193.6L1623.4 192.1L1623.8 190.6L1624.2 189.1L1624.5 187.6L1624.8 186.1L1625.1 184.6L1625.4 183.1L1625.6 181.6L1625.9 180.1L1626.1 178.6L1626.4 177.1L1626.6 175.6L1626.8 174.1L1627 172.6L1627.2 171.1L1627.4 169.6L1627.6 168.1L1627.7 166.6L1627.9 165.1L1628 163.6L1628.1 162.1L1628.3 160.6L1628.4 159.1L1628.5 157.6L1628.6 156.1L1628.7 154.6L1628.8 153.1L1628.9 151.6L1628.9 150.1L1629 148.6L1629.1 147.1L1629.2 145.6L1629.2 144.1L1629.3 142.6L1629.4 141.1L1629.5 139.6L1629.5 138.1L1629.6 136.6L1629.7 135.1L1629.8 133.6L1629.8 132.1L1629.9 130.6L1630 129.1L1630.1 127.6L1630.1 126.1L1630.2 124.6L1630.3 123.1L1630.3 121.6L1630.4 120.1L1630.4 118.6L1630.5 117.1L1630.5 115.6L1630.6 114.1L1630.6 112.6L1630.7 111.1L1630.7 109.6L1630.8 108.1L1630.8 106.6L1630.8 105.1L1630.8 103.6L1630.9 102.1L1630.9 100.6L1630.9 99.1L1630.9 97.6L1630.9 96.1L1631 94.6L1631 93.1L1631 91.6L1631 90.1L1631.1 88.6L1631.1 87.1L1631.1 85.6L1631.1 84.1L1631.1 82.6L1631.1 81.1L1631.2 79.6L1631.2 78.1L1631.2 76.6L1631.2 75.1L1631.2 73.6L1631.2 72.1L1631.2 70.6L1631.2 69.1L1631.2 67.6L1631.2 66.1L1631.2 64.6L1631.2 63.1Z" fill="#6CC0C6" stroke="#333333" stroke-width="1.7" stroke-linejoin="round"/>
<g fill="none" stroke="#333333" stroke-width="1.5" opacity="1">
<path d="M1631.2 185.3V318.2M1631.2 412.8V464.2"/>
<rect x="1619.8" y="318.2" width="22.8" height="94.6"/>
<path d="M1619.8 369.8H1642.6" stroke-width="2.4"/>
</g>
<path d="M1599.1 349.3h0M1624.3 308.9h0M1600.8 259.2h0M1622.6 395h0M1636.2 365.6h0M1631.4 448.9h0M1620.7 422.8h0M1632.8 420.7h0M1645.5 238h0M1642.4 380.7h0M1606.1 388.4h0M1635.2 237.2h0M1600 368.6h0M1641.5 342.1h0M1598.3 314.3h0M1635.4 415h0M1611.7 359.1h0M1598.7 266.9h0M1630.2 349.8h0M1617.3 432.9h0M1599.4 353.6h0M1651.6 304.8h0M1612 247.2h0M1642.8 374.1h0M1625.3 397.1h0M1652 357.7h0M1616.9 422.3h0M1604.5 376h0M1620 415.1h0M1643.8 382.2h0M1617.9 386h0M1654.5 357.6h0M1620.7 270.2h0M1609 402.3h0M1636.7 423.8h0M1636.3 405.1h0M1637.2 358.9h0M1597.2 258.4h0M1633.4 304.2h0M1638 380.1h0M1606 395.8h0M1598.5 220h0M1629.2 438.1h0M1640.9 403.6h0M1597.5 404.7h0M1652.1 449h0M1619.1 390.4h0M1614.9 371h0M1636.8 316.7h0M1601.5 399.5h0M1653.6 401.5h0M1660.4 440.2h0M1596.8 436.4h0M1619.4 370.8h0M1600.7 423h0M1603.8 441.3h0M1652.1 358.4h0M1645.2 388.3h0M1611.4 386.4h0M1595.5 369.1h0M1640.5 367.2h0M1628.5 315.9h0M1647.4 304.9h0M1650.7 337.6h0M1654.8 386.2h0M1627.4 395.9h0M1638.3 418.2h0M1661.9 332.9h0M1624.9 374.7h0M1631.1 364.6h0M1619.8 298.4h0M1642.3 447.2h0M1636.9 343.3h0M1648.8 400.3h0M1651 400.4h0M1604 411.4h0M1657.8 420.2h0M1649.4 438.8h0M1603 340.3h0M1623.8 397.2h0M1616.1 339.4h0M1645.9 335.3h0M1667.1 414.5h0M1625 408.5h0M1619.6 406h0M1630.2 276.8h0M1656.9 443.4h0M1608.3 391.5h0M1646.8 366.5h0M1617.4 432.5h0M1645 271.3h0M1657.6 336.1h0M1621.2 286.6h0M1657.9 341.6h0M1640.3 413.6h0M1635.4 289.7h0M1639.8 410.1h0M1604.3 387.1h0M1608.6 342.1h0M1640.4 422.5h0M1660.3 232.2h0M1601.4 322.1h0M1636.9 372.3h0M1662.1 355.5h0M1644.3 352.7h0M1651.6 451.9h0M1656.2 379.8h0M1631.2 396.1h0M1634.7 365h0M1659.6 308.7h0M1600.1 267.3h0M1645.3 409.3h0M1649.5 404.8h0M1656 450.1h0M1634 324.1h0M1654.1 354.3h0M1662.3 350.9h0M1598.7 383.5h0M1596.1 235.9h0M1605.9 415.1h0M1645.2 406.2h0M1607 262.1h0M1597.3 403.3h0M1641.2 344h0M1610.2 361.1h0M1610.5 309.6h0M1644.5 399.9h0M1634.6 384.1h0M1645.4 217h0M1620.4 289.5h0M1640.3 406.1h0M1641.6 282.5h0M1595.8 366.9h0M1638 397.3h0M1629.6 298.1h0M1631.9 371.9h0M1626.6 359h0M1666.9 285.3h0M1635.6 413.9h0M1609.9 255.9h0M1663.3 419.2h0M1598.1 341.3h0M1616.2 347.9h0M1652 316.6h0M1643.6 423.2h0M1608.9 452h0M1648.6 305.2h0M1617 391.5h0M1638.3 232.6h0M1623.5 355h0M1629.7 315.4h0M1640.1 392h0M1600.8 310.1h0M1649.2 389.1h0M1615.2 442h0M1599.4 323.8h0M1610.5 279.6h0M1603.3 423.6h0M1603.2 239.5h0M1647.6 407.2h0M1603.9 428.9h0M1639.1 282.7h0M1656.5 374.6h0M1597.8 445.5h0M1621.8 289.9h0M1654.9 420.3h0M1621.3 397.7h0M1631.2 250.2h0M1621.1 298.5h0M1648.4 434.5h0M1649.2 246.4h0M1625.2 347.3h0M1595.5 226.7h0M1657.8 325.8h0M1610.6 313.6h0M1646.1 414.1h0M1657.2 254.9h0M1622.1 271.1h0M1604.2 378.8h0M1624.3 309h0M1607.5 375.3h0M1609.1 238.9h0M1662.1 304.7h0M1656.2 344.8h0M1610 404.2h0M1632.7 419.4h0M1630.2 305.5h0M1598.5 373.2h0M1665.8 423.4h0M1606.4 377.4h0M1599 414.3h0M1661.5 422.8h0M1637.7 342.3h0M1667.1 389.4h0M1597.6 378h0M1619.7 310.4h0M1644.9 404.9h0M1626.4 426.1h0M1664.9 228.9h0M1602.2 440.6h0M1656.6 129.2h0M1652.7 160.9h0M1663.1 464.6h0" fill="none" stroke="#000" stroke-width="3.15" stroke-linecap="round"/>
<path d="M1263.8 41V554H1768.7" fill="none" stroke="#262626" stroke-width="1.9" stroke-linejoin="round"/>
<path d="M1259.2 47.4H1263.8M1259.2 186.9H1263.8M1259.2 326.3H1263.8M1259.2 465.9H1263.8M1401.4 554V558.6M1631.2 554V558.6" fill="none" stroke="#333333" stroke-width="1.4"/>
<text x="1256.2" y="55.1" font-family="Liberation Sans, Arial, Helvetica, sans-serif" font-size="21.9" fill="#4D4D4D" text-anchor="end">750</text>
<text x="1256.2" y="194.6" font-family="Liberation Sans, Arial, Helvetica, sans-serif" font-size="21.9" fill="#4D4D4D" text-anchor="end">500</text>
<text x="1256.2" y="334" font-family="Liberation Sans, Arial, Helvetica, sans-serif" font-size="21.9" fill="#4D4D4D" text-anchor="end">250</text>
<text x="1256.2" y="473.6" font-family="Liberation Sans, Arial, Helvetica, sans-serif" font-size="21.9" fill="#4D4D4D" text-anchor="end">0</text>
<text x="1401.4" y="576" font-family="Liberation Sans, Arial, Helvetica, sans-serif" font-size="21.9" fill="#4D4D4D" text-anchor="middle">No</text>
<text x="1631.2" y="576" font-family="Liberation Sans, Arial, Helvetica, sans-serif" font-size="21.9" fill="#4D4D4D" text-anchor="middle">Yes</text>
<text x="1263" y="26.9" font-family="Liberation Sans, Arial, Helvetica, sans-serif" font-size="33.4" fill="#000" text-anchor="start">M</text>
<text x="1198" y="26.6" font-family="Liberation Serif, Times New Roman, serif" font-size="33.4" fill="#000" text-anchor="start">C</text>
<text x="1214.7" y="288.5" font-family="Liberation Sans, Arial, Helvetica, sans-serif" font-size="30" fill="#000" text-anchor="middle" letter-spacing="-1.0" transform="rotate(-90 1214.7 288.5)">HSP90α</text>
<text x="1375.8" y="129.2" font-family="Liberation Sans, Arial, Helvetica, sans-serif" font-size="15" fill="#000" text-anchor="start">T−test, p = 2.7e−05</text>
</g>
<g>
<path d="M213.4 688.7L213.4 690.2L213.4 691.7L213.4 693.2L213.4 694.7L213.4 696.2L213.4 697.7L213.5 699.2L213.5 700.7L213.5 702.2L213.5 703.7L213.6 705.2L213.6 706.7L213.6 708.2L213.6 709.7L213.7 711.2L213.7 712.7L213.8 714.2L213.8 715.7L213.9 717.2L213.9 718.7L214 720.2L214 721.7L214.1 723.2L214.2 724.7L214.3 726.2L214.3 727.7L214.4 729.2L214.5 730.7L214.7 732.2L214.9 733.7L215.1 735.2L215.4 736.7L215.6 738.2L215.8 739.7L216 741.2L216.2 742.7L216.3 744.2L216.4 745.7L216.5 747.2L216.6 748.7L216.7 750.2L216.7 751.7L216.8 753.2L216.8 754.7L216.8 756.2L216.8 757.7L216.8 759.2L216.8 760.7L216.8 762.2L216.8 763.7L216.8 765.2L216.7 766.7L216.6 768.2L216.6 769.7L216.5 771.2L216.3 772.7L216.2 774.2L216.1 775.7L216 777.2L215.8 778.7L215.7 780.2L215.5 781.7L215.4 783.2L215.3 784.7L215.2 786.2L215.2 787.7L215.2 789.2L215.2 790.7L215.3 792.2L215.3 793.7L215.3 795.2L215.4 796.7L215.4 798.2L215.5 799.7L215.6 801.2L215.8 802.7L216 804.2L216.2 805.7L216.4 807.2L216.6 808.7L216.9 810.2L217.1 811.7L217.4 813.2L217.7 814.7L218 816.2L218.3 817.7L218.6 819.2L219 820.7L219.4 822.2L219.8 823.7L220.2 825.2L220.6 826.7L221.1 828.2L221.6 829.7L222.1 831.2L222.6 832.7L223.1 834.2L223.6 835.7L224.1 837.2L224.6 838.7L225.2 840.2L225.8 841.7L226.3 843.2L227 844.7L227.6 846.2L228.2 847.7L228.9 849.2L229.6 850.7L230.2 852.2L230.9 853.7L231.5 855.2L232.2 856.7L232.8 858.2L233.4 859.7L234 861.2L234.6 862.7L235.2 864.2L235.7 865.7L236.3 867.2L236.8 868.7L237.3 870.2L237.7 871.7L238.2 873.2L238.6 874.7L239 876.2L239.4 877.7L239.7 879.2L240.1 880.7L240.4 882.2L240.7 883.7L241 885.2L241.3 886.7L241.5 888.2L241.8 889.7L242 891.2L242.2 892.7L242.4 894.2L242.6 895.7L242.8 897.2L243 898.7L243.3 900.2L243.5 901.7L243.7 903.2L243.9 904.7L244.2 906.2L244.4 907.7L244.7 909.2L244.9 910.7L245.2 912.2L245.5 913.7L245.9 915.2L246.2 916.7L246.6 918.2L246.9 919.7L247.3 921.2L247.8 922.7L248.2 924.2L248.7 925.7L249.2 927.2L249.7 928.7L250.3 930.2L250.9 931.7L251.5 933.2L252.1 934.7L252.8 936.2L253.5 937.7L254.2 939.2L254.9 940.7L255.7 942.2L256.5 943.7L257.4 945.2L258.3 946.7L259.2 948.2L260.1 949.7L261.1 951.2L262.1 952.7L263.1 954.2L264.2 955.7L265.3 957.2L266.4 958.7L267.6 960.2L268.7 961.7L269.9 963.2L271.2 964.7L272.4 966.2L273.6 967.7L274.9 969.2L276.1 970.7L277.4 972.2L278.6 973.7L279.9 975.2L281.2 976.7L282.4 978.2L283.7 979.7L285.1 981.2L286.4 982.7L287.7 984.2L289.1 985.7L290.4 987.2L291.8 988.7L293.2 990.2L294.5 991.7L295.9 993.2L297.3 994.7L298.6 996.2L300 997.7L301.3 999.2L302.6 1000.7L303.9 1002.2L305.2 1003.7L306.4 1005.2L307.6 1006.7L308.8 1008.2L309.9 1009.7L310.9 1011.2L311.9 1012.7L312.8 1014.2L313.6 1015.7L314.4 1017.2L315.1 1018.7L315.7 1020.2L316.2 1021.7L316.6 1023.2L316.9 1024.7L317 1026.2L317 1027.7L316.8 1029.2L316.3 1030.7L315.7 1032.2L314.9 1033.7L313.9 1035.2L312.7 1036.7L311.4 1038.2L309.8 1039.7L308 1041.2L306 1042.7L303.9 1044.2L301.5 1045.7L299 1047.2L296.3 1048.7L293.5 1050.2L290.7 1051.7L287.8 1053.2L284.8 1054.7L281.8 1056.2L278.8 1057.7L275.8 1059.2L272.9 1060.7L269.9 1062.2L267 1063.7L264.2 1065.2L261.4 1066.7L258.6 1068.2L256 1069.7L253.3 1071.2L250.7 1072.7L248.2 1074.2L245.8 1075.7L243.4 1077.2L241.1 1078.7L239 1080.2L236.9 1081.7L234.9 1083.2L233.1 1084.7L231.3 1086.2L229.7 1087.7L228.1 1089.2L226.6 1090.7L225.3 1092.2L224 1093.7L222.8 1095.2L221.7 1096.7L220.7 1098.2L219.8 1099.7L218.9 1101.2L218.2 1102.7L217.5 1104.2L216.9 1105.7L216.4 1107.2L216 1108.7L215.6 1110.2L215.2 1111.7L214.9 1113.2L214.6 1114.7L214.4 1116.2L214.1 1117.7L213.9 1119.2L213.7 1120.7L213.5 1122.2L213.4 1123.7L213.4 1123.9L213.4 1123.7L213.2 1122.2L213.1 1120.7L212.9 1119.2L212.6 1117.7L212.4 1116.2L212.1 1114.7L211.9 1113.2L211.5 1111.7L211.2 1110.2L210.8 1108.7L210.3 1107.2L209.8 1105.7L209.3 1104.2L208.6 1102.7L207.9 1101.2L207 1099.7L206.1 1098.2L205 1096.7L203.9 1095.2L202.8 1093.7L201.5 1092.2L200.1 1090.7L198.7 1089.2L197.1 1087.7L195.4 1086.2L193.7 1084.7L191.8 1083.2L189.9 1081.7L187.8 1080.2L185.7 1078.7L183.4 1077.2L181 1075.7L178.6 1074.2L176 1072.7L173.5 1071.2L170.8 1069.7L168.1 1068.2L165.4 1066.7L162.6 1065.2L159.7 1063.7L156.8 1062.2L153.9 1060.7L150.9 1059.2L147.9 1057.7L144.9 1056.2L141.9 1054.7L139 1053.2L136.1 1051.7L133.2 1050.2L130.5 1048.7L127.8 1047.2L125.3 1045.7L122.9 1044.2L120.8 1042.7L118.8 1041.2L117 1039.7L115.4 1038.2L114 1036.7L112.8 1035.2L111.8 1033.7L111.1 1032.2L110.4 1030.7L110 1029.2L109.8 1027.7L109.7 1026.2L109.9 1024.7L110.2 1023.2L110.6 1021.7L111.1 1020.2L111.7 1018.7L112.4 1017.2L113.2 1015.7L114 1014.2L114.9 1012.7L115.8 1011.2L116.9 1009.7L118 1008.2L119.2 1006.7L120.4 1005.2L121.6 1003.7L122.9 1002.2L124.1 1000.7L125.4 999.2L126.8 997.7L128.1 996.2L129.5 994.7L130.9 993.2L132.2 991.7L133.6 990.2L135 988.7L136.3 987.2L137.7 985.7L139 984.2L140.4 982.7L141.7 981.2L143 979.7L144.3 978.2L145.6 976.7L146.9 975.2L148.2 973.7L149.4 972.2L150.7 970.7L151.9 969.2L153.1 967.7L154.4 966.2L155.6 964.7L156.8 963.2L158 961.7L159.2 960.2L160.4 958.7L161.5 957.2L162.6 955.7L163.6 954.2L164.7 952.7L165.7 951.2L166.7 949.7L167.6 948.2L168.5 946.7L169.4 945.2L170.2 943.7L171.1 942.2L171.8 940.7L172.6 939.2L173.3 937.7L174 936.2L174.7 934.7L175.3 933.2L175.9 931.7L176.5 930.2L177 928.7L177.6 927.2L178.1 925.7L178.6 924.2L179 922.7L179.4 921.2L179.8 919.7L180.2 918.2L180.6 916.7L180.9 915.2L181.2 913.7L181.6 912.2L181.8 910.7L182.1 909.2L182.4 907.7L182.6 906.2L182.8 904.7L183.1 903.2L183.3 901.7L183.5 900.2L183.7 898.7L183.9 897.2L184.1 895.7L184.4 894.2L184.6 892.7L184.8 891.2L185 889.7L185.3 888.2L185.5 886.7L185.8 885.2L186.1 883.7L186.4 882.2L186.7 880.7L187 879.2L187.4 877.7L187.8 876.2L188.2 874.7L188.6 873.2L189 871.7L189.5 870.2L190 868.7L190.5 867.2L191 865.7L191.6 864.2L192.2 862.7L192.7 861.2L193.3 859.7L194 858.2L194.6 856.7L195.2 855.2L195.9 853.7L196.5 852.2L197.2 850.7L197.9 849.2L198.5 847.7L199.2 846.2L199.8 844.7L200.4 843.2L201 841.7L201.6 840.2L202.1 838.7L202.7 837.2L203.2 835.7L203.7 834.2L204.2 832.7L204.7 831.2L205.2 829.7L205.7 828.2L206.1 826.7L206.6 825.2L207 823.7L207.4 822.2L207.8 820.7L208.1 819.2L208.5 817.7L208.8 816.2L209.1 814.7L209.4 813.2L209.7 811.7L209.9 810.2L210.1 808.7L210.4 807.2L210.6 805.7L210.8 804.2L211 802.7L211.1 801.2L211.3 799.7L211.3 798.2L211.4 796.7L211.4 795.2L211.5 793.7L211.5 792.2L211.5 790.7L211.6 789.2L211.6 787.7L211.5 786.2L211.5 784.7L211.4 783.2L211.2 781.7L211.1 780.2L210.9 778.7L210.8 777.2L210.7 775.7L210.6 774.2L210.4 772.7L210.3 771.2L210.2 769.7L210.1 768.2L210.1 766.7L210 765.2L210 763.7L210 762.2L210 760.7L210 759.2L210 757.7L210 756.2L210 754.7L210 753.2L210 751.7L210.1 750.2L210.2 748.7L210.3 747.2L210.4 745.7L210.5 744.2L210.6 742.7L210.8 741.2L210.9 739.7L211.2 738.2L211.4 736.7L211.7 735.2L211.9 733.7L212.1 732.2L212.2 730.7L212.3 729.2L212.4 727.7L212.5 726.2L212.6 724.7L212.7 723.2L212.7 721.7L212.8 720.2L212.9 718.7L212.9 717.2L213 715.7L213 714.2L213.1 712.7L213.1 711.2L213.1 709.7L213.2 708.2L213.2 706.7L213.2 705.2L213.2 703.7L213.3 702.2L213.3 700.7L213.3 699.2L213.3 697.7L213.3 696.2L213.4 694.7L213.4 693.2L213.4 691.7L213.4 690.2L213.4 688.7Z" fill="#DE756E" stroke="#333333" stroke-width="1.7" stroke-linejoin="round"/>
<g fill="none" stroke="#333333" stroke-width="1.5" opacity="1">
<path d="M213.4 851.6V953.4M213.4 1033.8V1056"/>
<rect x="202" y="953.4" width="22.8" height="80.3"/>
<path d="M202 1004.8H224.8" stroke-width="3.2"/>
</g>
<path d="M222.5 1035h0M245.2 899.3h0M207.4 1013.8h0M240.1 992.5h0M242.2 1014.2h0M193.4 886.8h0M202.8 892.1h0M193.3 939.1h0M212.8 1042.4h0M226.5 967.6h0M232.9 1005.6h0M182 1042.9h0M244.2 1016.8h0M182.3 948.1h0M243.6 986.3h0M211.7 914.2h0M182.3 964.5h0M178.3 967.6h0M187 876.8h0M178.4 1029.4h0M245.4 1034.4h0M219.6 997.8h0M194.6 1010.2h0M183.5 1006.1h0M217.4 1012.7h0M205.5 1044h0M189.2 1004.3h0M198.3 928.1h0M231.9 1015.7h0M179.9 1015.5h0M235.6 1030.5h0M243.2 1014.5h0M240.3 971.3h0M186.1 887.3h0M235 989.4h0M227.5 1009.4h0M181.6 1019.5h0M187.8 1013.6h0M205.3 1006.4h0M208.7 1007.1h0M225.4 953.7h0M222.2 982h0M220.8 985.5h0M194.5 887.7h0M247.9 1039.7h0M241.8 906.1h0M196.5 1041.5h0M242.4 1024.9h0M235 951.2h0M200.7 977.6h0M237.9 957h0M224.3 1008.5h0M220 882.8h0M202.4 986.4h0M179.2 1021.3h0M243.1 990.4h0M242.4 1009.4h0M216.9 986.8h0M223 1009.4h0M234.2 1031.4h0M177.7 1014h0M193.3 1034.5h0M182.7 1029.3h0M247.4 996h0M211.1 985.2h0M205 1016.3h0M234.1 1014.7h0M212.6 970.3h0M216.2 1009h0M246.5 981.6h0M221.7 1042.5h0M205.7 953.6h0M206.8 985.7h0M222.6 1030.2h0M207 992.6h0M214.6 959.9h0M224.8 952.1h0M206.8 1018.8h0M229.3 1013.2h0M248.6 970.3h0M245.5 969.1h0M183.9 998.2h0M231.3 1031.8h0M205.9 1012.5h0M216.4 894.9h0M240.3 756.6h0M182.2 826.3h0M179.9 851.6h0M181.7 884.4h0" fill="none" stroke="#000" stroke-width="3.15" stroke-linecap="round"/>
<path d="M443.4 656.3L443.4 657.8L443.4 659.3L443.4 660.8L443.4 662.3L443.4 663.8L443.4 665.3L443.4 666.8L443.4 668.3L443.4 669.8L443.4 671.3L443.4 672.8L443.4 674.3L443.4 675.8L443.4 677.3L443.4 678.8L443.4 680.3L443.5 681.8L443.5 683.3L443.5 684.8L443.5 686.3L443.5 687.8L443.5 689.3L443.5 690.8L443.5 692.3L443.5 693.8L443.5 695.3L443.5 696.8L443.5 698.3L443.6 699.8L443.6 701.3L443.6 702.8L443.6 704.3L443.6 705.8L443.6 707.3L443.6 708.8L443.6 710.3L443.6 711.8L443.7 713.3L443.7 714.8L443.7 716.3L443.7 717.8L443.7 719.3L443.8 720.8L443.8 722.3L443.8 723.8L443.9 725.3L443.9 726.8L443.9 728.3L444 729.8L444 731.3L444 732.8L444.1 734.3L444.1 735.8L444.1 737.3L444.2 738.8L444.2 740.3L444.3 741.8L444.3 743.3L444.4 744.8L444.5 746.3L444.6 747.8L444.7 749.3L444.8 750.8L444.9 752.3L445 753.8L445.1 755.3L445.3 756.8L445.4 758.3L445.6 759.8L445.7 761.3L445.9 762.8L446.1 764.3L446.3 765.8L446.6 767.3L446.9 768.8L447.2 770.3L447.5 771.8L447.8 773.3L448.1 774.8L448.5 776.3L448.8 777.8L449.1 779.3L449.4 780.8L449.7 782.3L450 783.8L450.3 785.3L450.6 786.8L451 788.3L451.3 789.8L451.6 791.3L451.9 792.8L452.2 794.3L452.6 795.8L452.9 797.3L453.2 798.8L453.5 800.3L453.9 801.8L454.2 803.3L454.5 804.8L454.8 806.3L455.2 807.8L455.5 809.3L455.8 810.8L456.2 812.3L456.5 813.8L456.8 815.3L457.2 816.8L457.5 818.3L457.8 819.8L458.1 821.3L458.5 822.8L458.8 824.3L459.1 825.8L459.5 827.3L459.8 828.8L460.1 830.3L460.4 831.8L460.8 833.3L461.1 834.8L461.4 836.3L461.8 837.8L462.1 839.3L462.4 840.8L462.8 842.3L463.1 843.8L463.4 845.3L463.8 846.8L464.1 848.3L464.5 849.8L464.8 851.3L465.1 852.8L465.5 854.3L465.8 855.8L466.2 857.3L466.5 858.8L466.9 860.3L467.2 861.8L467.6 863.3L467.9 864.8L468.3 866.3L468.7 867.8L469 869.3L469.4 870.8L469.8 872.3L470.2 873.8L470.6 875.3L470.9 876.8L471.3 878.3L471.7 879.8L472.1 881.3L472.5 882.8L472.8 884.3L473.2 885.8L473.5 887.3L473.9 888.8L474.2 890.3L474.5 891.8L474.9 893.3L475.2 894.8L475.5 896.3L475.8 897.8L476.1 899.3L476.4 900.8L476.7 902.3L476.9 903.8L477.2 905.3L477.5 906.8L477.8 908.3L478.1 909.8L478.4 911.3L478.7 912.8L479 914.3L479.3 915.8L479.6 917.3L479.9 918.8L480.2 920.3L480.5 921.8L480.8 923.3L481.2 924.8L481.6 926.3L481.9 927.8L482.3 929.3L482.7 930.8L483.1 932.3L483.6 933.8L484 935.3L484.5 936.8L485 938.3L485.5 939.8L486 941.3L486.5 942.8L487.1 944.3L487.6 945.8L488.2 947.3L488.7 948.8L489.3 950.3L489.9 951.8L490.5 953.3L491.2 954.8L491.9 956.3L492.6 957.8L493.4 959.3L494.2 960.8L495.1 962.3L496 963.8L497 965.3L498 966.8L499.1 968.3L500.3 969.8L501.5 971.3L502.8 972.8L504.1 974.3L505.5 975.8L506.9 977.3L508.4 978.8L509.8 980.3L511.3 981.8L512.8 983.3L514.3 984.8L515.8 986.3L517.3 987.8L518.8 989.3L520.4 990.8L521.9 992.3L523.4 993.8L524.9 995.3L526.4 996.8L527.9 998.3L529.4 999.8L530.8 1001.3L532.2 1002.8L533.6 1004.3L534.9 1005.8L536.2 1007.3L537.5 1008.8L538.7 1010.3L539.9 1011.8L541 1013.3L542.1 1014.8L543.2 1016.3L544.1 1017.8L544.9 1019.3L545.5 1020.8L545.9 1022.3L546.1 1023.8L546.1 1025.3L546 1026.8L545.6 1028.3L545.1 1029.8L544.3 1031.3L543.3 1032.8L542 1034.3L540.5 1035.8L538.7 1037.3L536.7 1038.8L534.4 1040.3L531.9 1041.8L529.1 1043.3L526.1 1044.8L522.8 1046.3L519.2 1047.8L515.5 1049.3L511.7 1050.8L507.8 1052.3L503.7 1053.8L499.6 1055.3L495.5 1056.8L491.4 1058.3L487.4 1059.8L483.5 1061.3L479.7 1062.8L476.1 1064.3L472.6 1065.8L469.4 1067.3L466.5 1068.8L463.8 1070.3L461.3 1071.8L459.1 1073.3L457 1074.8L455.2 1076.3L453.6 1077.8L452.1 1079.3L450.9 1080.8L449.9 1082.3L449 1083.8L448.2 1085.3L447.5 1086.8L446.9 1088.3L446.4 1089.8L446 1091.3L445.7 1092.8L445.3 1094.3L445.1 1095.8L444.8 1097.3L444.6 1098.8L444.4 1100.3L444.3 1101.8L444.1 1103.3L444 1104.8L443.9 1106.3L443.8 1107.8L443.7 1109.3L443.6 1110.8L443.5 1112.3L443.5 1113.8L443.4 1115.3L443.4 1116.8L443.4 1118.2L443.4 1116.8L443.3 1115.3L443.3 1113.8L443.2 1112.3L443.2 1110.8L443.1 1109.3L443 1107.8L442.9 1106.3L442.8 1104.8L442.7 1103.3L442.5 1101.8L442.4 1100.3L442.2 1098.8L441.9 1097.3L441.7 1095.8L441.4 1094.3L441.1 1092.8L440.8 1091.3L440.3 1089.8L439.8 1088.3L439.2 1086.8L438.6 1085.3L437.8 1083.8L436.9 1082.3L435.9 1080.8L434.6 1079.3L433.2 1077.8L431.6 1076.3L429.7 1074.8L427.7 1073.3L425.5 1071.8L423 1070.3L420.3 1068.8L417.3 1067.3L414.1 1065.8L410.7 1064.3L407.1 1062.8L403.3 1061.3L399.4 1059.8L395.4 1058.3L391.3 1056.8L387.2 1055.3L383.1 1053.8L379 1052.3L375.1 1050.8L371.2 1049.3L367.5 1047.8L364 1046.3L360.7 1044.8L357.7 1043.3L354.9 1041.8L352.4 1040.3L350.1 1038.8L348 1037.3L346.3 1035.8L344.7 1034.3L343.5 1032.8L342.5 1031.3L341.7 1029.8L341.1 1028.3L340.8 1026.8L340.6 1025.3L340.7 1023.8L340.9 1022.3L341.3 1020.8L341.9 1019.3L342.7 1017.8L343.6 1016.3L344.6 1014.8L345.7 1013.3L346.9 1011.8L348 1010.3L349.3 1008.8L350.5 1007.3L351.8 1005.8L353.2 1004.3L354.5 1002.8L355.9 1001.3L357.4 999.8L358.8 998.3L360.3 996.8L361.9 995.3L363.4 993.8L364.9 992.3L366.4 990.8L367.9 989.3L369.5 987.8L371 986.3L372.5 984.8L374 983.3L375.5 981.8L376.9 980.3L378.4 978.8L379.8 977.3L381.2 975.8L382.6 974.3L384 972.8L385.3 971.3L386.5 969.8L387.7 968.3L388.8 966.8L389.8 965.3L390.8 963.8L391.7 962.3L392.6 960.8L393.4 959.3L394.2 957.8L394.9 956.3L395.6 954.8L396.2 953.3L396.9 951.8L397.5 950.3L398 948.8L398.6 947.3L399.1 945.8L399.7 944.3L400.2 942.8L400.8 941.3L401.3 939.8L401.8 938.3L402.3 936.8L402.7 935.3L403.2 933.8L403.6 932.3L404 930.8L404.4 929.3L404.8 927.8L405.2 926.3L405.6 924.8L405.9 923.3L406.3 921.8L406.6 920.3L406.9 918.8L407.2 917.3L407.5 915.8L407.8 914.3L408.1 912.8L408.4 911.3L408.7 909.8L409 908.3L409.2 906.8L409.5 905.3L409.8 903.8L410.1 902.3L410.4 900.8L410.7 899.3L411 897.8L411.3 896.3L411.6 894.8L411.9 893.3L412.2 891.8L412.6 890.3L412.9 888.8L413.2 887.3L413.6 885.8L413.9 884.3L414.3 882.8L414.7 881.3L415.1 879.8L415.4 878.3L415.8 876.8L416.2 875.3L416.6 873.8L417 872.3L417.4 870.8L417.7 869.3L418.1 867.8L418.5 866.3L418.8 864.8L419.2 863.3L419.6 861.8L419.9 860.3L420.3 858.8L420.6 857.3L421 855.8L421.3 854.3L421.6 852.8L422 851.3L422.3 849.8L422.7 848.3L423 846.8L423.3 845.3L423.7 843.8L424 842.3L424.3 840.8L424.7 839.3L425 837.8L425.3 836.3L425.7 834.8L426 833.3L426.3 831.8L426.7 830.3L427 828.8L427.3 827.3L427.6 825.8L428 824.3L428.3 822.8L428.6 821.3L429 819.8L429.3 818.3L429.6 816.8L429.9 815.3L430.3 813.8L430.6 812.3L430.9 810.8L431.3 809.3L431.6 807.8L431.9 806.3L432.3 804.8L432.6 803.3L432.9 801.8L433.2 800.3L433.6 798.8L433.9 797.3L434.2 795.8L434.5 794.3L434.9 792.8L435.2 791.3L435.5 789.8L435.8 788.3L436.1 786.8L436.4 785.3L436.8 783.8L437.1 782.3L437.4 780.8L437.7 779.3L438 777.8L438.3 776.3L438.6 774.8L439 773.3L439.3 771.8L439.6 770.3L439.9 768.8L440.2 767.3L440.5 765.8L440.7 764.3L440.9 762.8L441 761.3L441.2 759.8L441.3 758.3L441.5 756.8L441.6 755.3L441.8 753.8L441.9 752.3L442 750.8L442.1 749.3L442.2 747.8L442.3 746.3L442.4 744.8L442.4 743.3L442.5 741.8L442.5 740.3L442.6 738.8L442.6 737.3L442.7 735.8L442.7 734.3L442.7 732.8L442.8 731.3L442.8 729.8L442.9 728.3L442.9 726.8L442.9 725.3L443 723.8L443 722.3L443 720.8L443 719.3L443.1 717.8L443.1 716.3L443.1 714.8L443.1 713.3L443.1 711.8L443.1 710.3L443.2 708.8L443.2 707.3L443.2 705.8L443.2 704.3L443.2 702.8L443.2 701.3L443.2 699.8L443.2 698.3L443.2 696.8L443.2 695.3L443.3 693.8L443.3 692.3L443.3 690.8L443.3 689.3L443.3 687.8L443.3 686.3L443.3 684.8L443.3 683.3L443.3 681.8L443.3 680.3L443.3 678.8L443.3 677.3L443.3 675.8L443.4 674.3L443.4 672.8L443.4 671.3L443.4 669.8L443.4 668.3L443.4 666.8L443.4 665.3L443.4 663.8L443.4 662.3L443.4 660.8L443.4 659.3L443.4 657.8L443.4 656.3Z" fill="#6CC0C6" stroke="#333333" stroke-width="1.7" stroke-linejoin="round"/>
<g fill="none" stroke="#333333" stroke-width="1.5" opacity="1">
<path d="M443.4 780.8V925.2M443.4 1024.7V1065.5"/>
<rect x="432" y="925.2" width="22.8" height="99.6"/>
<path d="M432 990.3H454.8" stroke-width="2.4"/>
</g>
<path d="M452 905.9h0M428.5 1003.2h0M470.8 972.5h0M461.4 960h0M407.9 1016.4h0M473 1049.1h0M432.7 1048.2h0M461.3 1014.7h0M451.3 1031.5h0M435.6 987.5h0M446.2 958.4h0M450.3 999.4h0M413.4 1006.7h0M466.2 1040.9h0M420.6 978.7h0M424.2 1000.5h0M432 979.1h0M474.8 902.5h0M442.1 837.3h0M469 933.4h0M424.6 1007.5h0M436 1039.9h0M459.3 796.5h0M477.5 987.4h0M435.7 1029.6h0M432.1 1047.4h0M438.1 906.3h0M416.4 857.7h0M474.1 901.2h0M426.2 961h0M431.5 970h0M427.7 1005.5h0M425.6 842.5h0M412.4 1042.3h0M431.1 1013.9h0M456.9 998.5h0M446.5 1051.7h0M414.1 982.7h0M434.3 953.5h0M439.1 1023h0M461.6 1029.2h0M473.9 1019.6h0M418.8 1035.3h0M418.6 887.5h0M413.6 1043.1h0M436.5 945.9h0M418.5 1009.1h0M430.5 940.9h0M408.2 996.2h0M431.2 1044.4h0M424.8 964h0M474.5 1052.4h0M427.9 993.2h0M461.3 1043.1h0M438.8 992.7h0M453.3 974h0M429.7 1029.9h0M452.6 949.8h0M458.1 1029.3h0M439.7 949.1h0M437.1 971.6h0M425 1023.6h0M476.9 973.4h0M434.8 1023.1h0M472.2 909.4h0M477.8 916.9h0M409.4 884.4h0M464.8 1034h0M420.9 1029.9h0M433.8 1028h0M457.9 1040.4h0M426.3 780.1h0M449.3 1027.7h0M429.7 821.1h0M422.5 908.3h0M442.2 836.9h0M439 895h0M459.6 820.1h0M430.8 1037.8h0M432.2 934h0M444.4 999.1h0M413.4 1011.7h0M461.4 966.5h0M428.2 993.5h0M424.9 1012.3h0M425.5 1042.4h0M408.1 989.5h0M452 956.5h0M464.7 1035.5h0M455.4 1002.1h0M441.1 1002.1h0M426.3 1034.9h0M437.4 1036.2h0M435.6 1002.9h0M475.6 999.3h0M471.9 1045.5h0M430.2 1032h0M427.1 908.6h0M438.6 1028.3h0M426.3 959h0M408.1 958.4h0M432.3 1026.7h0M436.2 1026h0M449.9 1051h0M407.8 1016.4h0M421.2 927.7h0M410.7 858.8h0M412.3 908h0M441.8 867.8h0M443.8 954.4h0M410.2 1006.3h0M457.6 1018.4h0M451 940.1h0M409 986.5h0M468.5 1018.4h0M446.2 955.3h0M408.6 898.2h0M477.5 880.8h0M422.8 838.7h0M462.2 930.6h0M456.9 1031.3h0M451.4 1002.6h0M450.2 855.9h0M443.8 965.6h0M471.8 991.1h0M430.5 979h0M433.1 815.4h0M433.4 922.8h0M462.2 939.7h0M444.9 963.2h0M425.3 990.7h0M464.5 898.8h0M419.7 977.8h0M471 980.9h0M437.6 1049.9h0M410.9 901.2h0M458.5 1022.1h0M470 1006.3h0M428.9 1051.9h0M428.6 1042.1h0M440 857.4h0M420.8 865.9h0M455.4 1010.5h0M453.7 941.1h0M410.1 963.6h0M415.7 980.7h0M449.7 1010h0M425.8 985.2h0M423 895.5h0M475.9 1022.7h0M437 1019.9h0M433 957.2h0M466.1 887.3h0M470 950.3h0M474.1 844h0M448.9 964.3h0M451.4 1052.4h0M433.2 1004h0M452.9 917.9h0M426.5 1048.3h0M409.3 857.7h0M478.4 837.3h0M454.8 996.2h0M462.3 931.7h0M465.5 994.5h0M418.9 874h0M449.9 1029.4h0M476.9 1025.7h0M408.3 988.3h0M468.7 991.6h0M418.2 992.9h0M432.1 1039.7h0M411 867.7h0M462.8 995.2h0M460.3 1002.5h0M417 1014.4h0M451.1 1013.5h0M452.1 1030.4h0M442.2 901.7h0M467 866h0M471.6 973h0M452.8 899.9h0M475.5 996.3h0M445.2 1050.7h0M409.4 956.2h0M446.9 893.2h0M427.1 1046.9h0M444.9 932.9h0M448.8 916.6h0M411.2 831.7h0M464.7 874.7h0M475.3 1035.5h0M453.7 1004.1h0M413.5 988.6h0M477.6 908.8h0M421.5 971.3h0M430.9 825.3h0M428.3 977.2h0M442.7 923.3h0M473 1020h0M454.3 992.9h0M438.1 1037.1h0M478.6 816.2h0M410.8 1016.4h0M454.5 1012.3h0M468.8 934.8h0M441.7 938.9h0M463.9 1002.6h0M425.1 900.8h0M434.5 990.3h0M407.4 952h0M476.3 1011.8h0M445.6 845.6h0M469.4 908.8h0M443.4 984.6h0M431.8 916.8h0M425.1 1014.8h0M478.8 938.6h0M435.3 1027.9h0M408.5 941.9h0M478.3 1018h0M448.3 888.6h0M468.2 1014h0M441.2 842h0M430.4 1041.9h0M444.7 1018.8h0M434.3 1033.9h0M463.4 815.2h0M411.3 914.8h0M447.8 947.3h0M448.5 898.2h0M420 978.7h0M416.5 976h0M424.4 955.8h0M430.1 929.6h0M415.1 946.4h0M472.6 918.6h0M470.3 1041.9h0M470.7 1002.2h0M419.5 1007h0M456.2 805.9h0M411.2 957.8h0M460.4 1012h0M475.3 835.7h0M446.6 809.9h0M462.5 929.7h0M466.5 1024h0M475.2 1020.7h0M423.6 943h0M433.4 1019.4h0M429.1 1024.3h0M463.4 1034.9h0M440.3 1030.5h0M418.9 1002.2h0M460.5 1036.1h0M468.9 873.4h0M450.3 893.2h0M428.5 941h0M413.6 970h0M445.8 950.3h0M469.7 821.8h0M468.5 947.3h0M479.1 874.5h0M461.2 919.3h0M437.3 847.9h0M428.8 959.5h0M474.9 1046.3h0M427 827.8h0M473.7 988.7h0M434.5 1038.5h0M474.3 1024.2h0M441.7 1045.9h0M441.3 976.9h0M413.7 808.2h0M410.1 861.4h0M466.7 1052h0M454.7 1008.8h0M411.2 991.2h0M459.1 906.4h0M424 901.5h0M416.5 1046.6h0M459.6 1019.9h0M446.7 979.1h0M408.6 925.2h0M435 1027.2h0M456.8 1033.1h0M446.1 878.7h0M431.9 951.4h0M467.2 910.9h0M448.2 976h0M408.7 932.6h0M431.1 986.5h0M474.8 913.7h0M459.4 1044.7h0M469.4 920.7h0M463.6 1051.8h0M428.4 1028.2h0M424.3 1030.2h0M449.4 1035.5h0M436.5 1025.4h0M476 900.7h0M457.5 973.7h0M425.6 937.1h0M448.7 1013.4h0M410.1 947.8h0M477.1 993.8h0M460.7 929.2h0M458 804.3h0M452.5 1017.7h0M441.1 1003.4h0M468.7 1032.5h0M479 1016.9h0M463.3 1012.1h0M428.8 1018.5h0M479.2 968.6h0M469.5 1018.6h0M436.4 1017.8h0M448 976.3h0M435.9 962.4h0M414.6 1000.6h0M459.6 1003h0M433.1 1007.3h0M471.9 1021.9h0M454.6 1047.1h0M454.8 1015.2h0M420.2 1042.8h0M446.6 940.3h0M414.1 1024.4h0M428.4 1007.8h0M473.4 923.2h0M469.3 901.2h0M450.8 856.5h0M474.5 1053.4h0M440.4 1005.6h0M461.4 1010.5h0M476.8 904.1h0M472.5 1001.1h0M454 1029h0M460.5 968.6h0M446.9 1006.8h0M450 1020.6h0M448 1022.3h0M464 1034.4h0M419.4 1030.8h0M459.4 1053.1h0M457.1 1028.2h0M464.5 1008.9h0M457.1 990.1h0M445.6 1053.5h0M410.5 1048.8h0M432.5 911h0M471.9 1019.4h0M469.4 976.5h0M420.2 1014.8h0M454.3 806.9h0M472 1000.4h0M415.4 989.3h0M432.8 1002.5h0M415.5 886.1h0M476.7 992h0M416.5 923.8h0M411.1 1028.3h0M451.9 992.1h0M442.2 1018.9h0M465.2 976.4h0M412.2 1052.4h0M424.7 929.1h0M465.2 867.7h0M431.6 934.9h0M462.7 1027.1h0M415.3 968.3h0M428.3 975.4h0M454.2 1012.8h0M433.8 1007h0M419.3 1023.2h0M414.8 1029.3h0M444.4 829.9h0M446.9 992.5h0M459 1039.4h0M451.9 919.6h0M470.9 1040.4h0M462.4 1010.9h0M461.7 917.8h0M427.5 972.3h0M467.5 1030.1h0M477.6 1045.4h0M473.3 928.1h0M424.6 951.5h0M470.7 913.9h0M447.1 1001.4h0M457.7 957.9h0M449.1 977.5h0M467 1001.3h0M415 1037.6h0M428.5 1034.6h0M470.9 915.9h0M423.9 912.6h0M422.6 985.4h0M416.4 1022h0M437 888.5h0M429.3 986.5h0M455.1 1038h0M449.5 1042.2h0M413.4 1053.8h0M462.4 991.8h0M419.3 1015.1h0M414.7 995.7h0M467.4 974.3h0M439.9 1030.5h0M424.9 984.8h0M474.6 1023.8h0M474 927.8h0M424.4 841.8h0M416.3 1022.4h0M474.1 1003.6h0M435.5 985.9h0M421.5 852.2h0M444.7 1048.3h0M432.1 880.1h0M441.1 919.5h0M443.1 921.1h0M423 1001.1h0M408 928.3h0M455.7 1026.4h0M419.2 873.3h0M460.9 951.3h0M473.5 1021.8h0M411.7 994.2h0M447.4 1004.9h0M422.3 1033.9h0M431.6 999.3h0M439.7 1030.3h0M459.3 977.7h0M445 1053.1h0M416.4 1030.5h0M412.3 932.7h0M466.3 1027.6h0M457.9 1039.2h0M472.6 983h0M414.5 951.2h0M437.4 962.6h0M471.8 1003h0M410.7 991.8h0M479.3 926.4h0M448.5 1039.6h0M464.9 835.9h0M462.9 934.9h0M434.9 858.7h0M472.3 968.8h0M438.8 793h0M463.2 1049.1h0M473.2 1032.9h0M466 1014.9h0M421.1 1019.6h0M459 998.3h0M465.6 917.7h0M437.2 962.3h0M411.9 997.4h0M412.6 1027.5h0M443.2 1038.4h0M455.1 1014.3h0M444.4 1009.7h0M477.6 943.6h0M469.9 1034.3h0M450.8 1016.4h0M415.6 948.9h0M463.6 817.1h0M435.9 1042.8h0M455.1 864.6h0M459.1 978.8h0M459 991.8h0M469.3 986.5h0M461.7 916.4h0M455.5 975.6h0M467.5 1047.2h0M409.5 964.3h0M439.2 1050.5h0M420 1000.8h0M414.3 1006.6h0M451.8 1042.4h0M419.5 936.8h0M430.3 947.6h0M446 988.3h0M458.5 997.3h0M442.2 1023h0M447.8 926.8h0M449.8 969.1h0M460.9 983.1h0M469.1 1008.3h0M474.9 892.9h0M443.7 993.7h0M465.9 998.9h0M479 995.7h0M436.9 1024.7h0M473.5 1014.3h0M438.4 1032.3h0M458.7 1011.7h0M412.5 987.9h0M409.5 1022.3h0M465.7 1010.9h0M429.5 954.9h0M428.4 1034.6h0M412.2 1027.8h0M445.3 1031.9h0M466.9 1019.1h0M446.1 1020.1h0M413.5 1003.3h0M444.5 826.1h0M413.7 1030h0M415.3 872.8h0M438 957.4h0M415.2 929.3h0M451.5 1000.2h0M457.7 1024h0M446.9 999h0M410.5 1016.3h0M409.6 998.9h0M421.2 858.6h0M474.9 914.7h0M457.2 1025.9h0M440 996.7h0M470.4 950.2h0M420 988.7h0M425.1 1004.6h0M464.7 1011.6h0M415.9 1041.9h0M468.6 988h0M411.9 1037.7h0M449 1038.8h0M469 1017.7h0M410.3 1037.4h0M423.7 1039.3h0M414.4 1014.8h0M407.9 1044.5h0M431.6 996.5h0M419.1 1036.3h0M464.3 997.4h0M424 918.8h0M458.7 974.5h0M471 1019.1h0M432.4 976.1h0M470.4 921h0M448.5 1035.4h0M474.7 933.5h0M444.7 1026.4h0M470.2 1026.4h0M453.2 1040h0M460.5 939.4h0M417 1026.1h0M436.5 889.6h0M455.6 968.7h0M470.9 837.2h0M458.2 1041.6h0M436.9 1029.5h0M435.2 994.3h0M452.2 1038.2h0M470.3 957.5h0M472.6 1053.5h0M440.8 1031.4h0M454.9 1037.2h0M468.7 709h0M464.7 743h0M466.5 754.3h0M411.7 1065.9h0M475.1 1065.9h0" fill="none" stroke="#000" stroke-width="3.15" stroke-linecap="round"/>
<path d="M75.6 634.2V1147.2H581.5" fill="none" stroke="#262626" stroke-width="1.9" stroke-linejoin="round"/>
<path d="M71 770.1H75.6M71 918.8H75.6M71 1067.4H75.6M213.4 1147.2V1151.8M443.4 1147.2V1151.8" fill="none" stroke="#333333" stroke-width="1.4"/>
<text x="68" y="777.8" font-family="Liberation Sans, Arial, Helvetica, sans-serif" font-size="21.9" fill="#4D4D4D" text-anchor="end">500</text>
<text x="68" y="926.5" font-family="Liberation Sans, Arial, Helvetica, sans-serif" font-size="21.9" fill="#4D4D4D" text-anchor="end">250</text>
<text x="68" y="1075.1" font-family="Liberation Sans, Arial, Helvetica, sans-serif" font-size="21.9" fill="#4D4D4D" text-anchor="end">0</text>
<text x="213.4" y="1169.2" font-family="Liberation Sans, Arial, Helvetica, sans-serif" font-size="21.9" fill="#4D4D4D" text-anchor="middle">1</text>
<text x="439.3" y="1168.9" font-family="Noto Sans CJK SC, Liberation Sans, sans-serif" font-size="20.4" fill="#5a5a5a" text-anchor="middle">≥</text><text x="455.6" y="1169.2" font-family="Liberation Sans, Arial, Helvetica, sans-serif" font-size="21.9" fill="#4D4D4D" text-anchor="start">2</text>
<text x="74.5" y="621.7" font-family="Liberation Sans, Arial, Helvetica, sans-serif" font-size="33.4" fill="#000" text-anchor="start">Number</text>
<text x="8.5" y="619.6" font-family="Liberation Serif, Times New Roman, serif" font-size="33.4" fill="#000" text-anchor="start">D</text>
<text x="27.2" y="882" font-family="Liberation Sans, Arial, Helvetica, sans-serif" font-size="30" fill="#000" text-anchor="middle" letter-spacing="-1.0" transform="rotate(-90 27.2 882)">HSP90α</text>
<text x="191.2" y="709" font-family="Liberation Sans, Arial, Helvetica, sans-serif" font-size="15" fill="#000" text-anchor="start">T−test, p = 0.046</text>
</g>
<g>
<path d="M806.9 702.2L807 703.7L807 705.2L807 706.7L807 708.2L807 709.7L807.1 711.2L807.1 712.7L807.1 714.2L807.1 715.7L807.2 717.2L807.2 718.7L807.2 720.2L807.2 721.7L807.3 723.2L807.3 724.7L807.3 726.2L807.3 727.7L807.4 729.2L807.4 730.7L807.4 732.2L807.4 733.7L807.5 735.2L807.5 736.7L807.5 738.2L807.5 739.7L807.6 741.2L807.6 742.7L807.6 744.2L807.7 745.7L807.7 747.2L807.7 748.7L807.8 750.2L807.8 751.7L807.8 753.2L807.9 754.7L807.9 756.2L808 757.7L808.1 759.2L808.1 760.7L808.2 762.2L808.3 763.7L808.4 765.2L808.5 766.7L808.6 768.2L808.7 769.7L808.8 771.2L808.9 772.7L809.1 774.2L809.2 775.7L809.4 777.2L809.7 778.7L810 780.2L810.3 781.7L810.6 783.2L811 784.7L811.3 786.2L811.5 787.7L811.8 789.2L812 790.7L812.3 792.2L812.5 793.7L812.7 795.2L812.8 796.7L813 798.2L813.1 799.7L813.2 801.2L813.3 802.7L813.4 804.2L813.5 805.7L813.6 807.2L813.7 808.7L813.7 810.2L813.8 811.7L813.9 813.2L813.9 814.7L814 816.2L814 817.7L814.1 819.2L814.2 820.7L814.2 822.2L814.3 823.7L814.4 825.2L814.5 826.7L814.6 828.2L814.7 829.7L814.8 831.2L814.9 832.7L815.1 834.2L815.3 835.7L815.5 837.2L815.7 838.7L815.9 840.2L816.1 841.7L816.4 843.2L816.6 844.7L816.8 846.2L817.1 847.7L817.3 849.2L817.6 850.7L817.8 852.2L818 853.7L818.3 855.2L818.5 856.7L818.8 858.2L819 859.7L819.3 861.2L819.5 862.7L819.7 864.2L820 865.7L820.2 867.2L820.4 868.7L820.6 870.2L820.9 871.7L821.1 873.2L821.3 874.7L821.5 876.2L821.6 877.7L821.8 879.2L822 880.7L822.1 882.2L822.3 883.7L822.4 885.2L822.6 886.7L822.7 888.2L822.8 889.7L822.9 891.2L823 892.7L823.1 894.2L823.1 895.7L823.1 897.2L823.1 898.7L823 900.2L823 901.7L822.9 903.2L822.7 904.7L822.6 906.2L822.5 907.7L822.3 909.2L822.2 910.7L822.1 912.2L822.1 913.7L822 915.2L822 916.7L821.9 918.2L821.9 919.7L821.9 921.2L822 922.7L822.1 924.2L822.3 925.7L822.6 927.2L822.9 928.7L823.4 930.2L823.8 931.7L824.3 933.2L824.9 934.7L825.6 936.2L826.3 937.7L827.1 939.2L827.9 940.7L828.8 942.2L829.6 943.7L830.5 945.2L831.4 946.7L832.3 948.2L833.2 949.7L834.1 951.2L835 952.7L835.9 954.2L836.8 955.7L837.6 957.2L838.5 958.7L839.3 960.2L840.1 961.7L840.9 963.2L841.7 964.7L842.6 966.2L843.5 967.7L844.4 969.2L845.4 970.7L846.5 972.2L847.6 973.7L848.8 975.2L850 976.7L851.2 978.2L852.5 979.7L853.9 981.2L855.3 982.7L856.7 984.2L858.2 985.7L859.8 987.2L861.4 988.7L863 990.2L864.7 991.7L866.4 993.2L868.1 994.7L869.9 996.2L871.7 997.7L873.6 999.2L875.4 1000.7L877.3 1002.2L879.2 1003.7L881.1 1005.2L883.1 1006.7L885 1008.2L887 1009.7L889 1011.2L890.9 1012.7L892.9 1014.2L894.8 1015.7L896.7 1017.2L898.6 1018.7L900.4 1020.2L902.1 1021.7L903.8 1023.2L905.3 1024.7L906.6 1026.2L907.8 1027.7L908.8 1029.2L909.5 1030.7L910.1 1032.2L910.3 1033.7L910.3 1035.2L909.9 1036.7L909.2 1038.2L908 1039.7L906.4 1041.2L904.2 1042.7L901.6 1044.2L898.5 1045.7L895.1 1047.2L891.5 1048.7L887.7 1050.2L883.6 1051.7L879.4 1053.2L874.9 1054.7L870.4 1056.2L865.7 1057.7L861.1 1059.2L856.5 1060.7L852.1 1062.2L847.8 1063.7L843.7 1065.2L839.8 1066.7L836.3 1068.2L833 1069.7L830.1 1071.2L827.4 1072.7L824.9 1074.2L822.7 1075.7L820.7 1077.2L818.9 1078.7L817.4 1080.2L816 1081.7L814.8 1083.2L813.7 1084.7L812.7 1086.2L811.8 1087.7L811 1089.2L810.4 1090.7L809.8 1092.2L809.4 1093.7L809 1095.2L808.7 1096.7L808.4 1098.2L808.2 1099.7L808 1101.2L807.8 1102.7L807.6 1104.2L807.4 1105.7L807.3 1107.2L807.1 1108.7L807 1110.2L806.9 1111.7L806.9 1111.9L806.9 1111.7L806.8 1110.2L806.7 1108.7L806.6 1107.2L806.4 1105.7L806.3 1104.2L806.1 1102.7L805.9 1101.2L805.7 1099.7L805.4 1098.2L805.2 1096.7L804.8 1095.2L804.5 1093.7L804 1092.2L803.5 1090.7L802.8 1089.2L802.1 1087.7L801.2 1086.2L800.2 1084.7L799.1 1083.2L797.9 1081.7L796.5 1080.2L794.9 1078.7L793.1 1077.2L791.1 1075.7L788.9 1074.2L786.5 1072.7L783.8 1071.2L780.9 1069.7L777.6 1068.2L774.1 1066.7L770.2 1065.2L766.1 1063.7L761.8 1062.2L757.4 1060.7L752.8 1059.2L748.1 1057.7L743.5 1056.2L738.9 1054.7L734.5 1053.2L730.3 1051.7L726.2 1050.2L722.4 1048.7L718.7 1047.2L715.3 1045.7L712.3 1044.2L709.6 1042.7L707.5 1041.2L705.8 1039.7L704.7 1038.2L703.9 1036.7L703.6 1035.2L703.5 1033.7L703.8 1032.2L704.3 1030.7L705.1 1029.2L706.1 1027.7L707.3 1026.2L708.6 1024.7L710.1 1023.2L711.7 1021.7L713.5 1020.2L715.3 1018.7L717.1 1017.2L719.1 1015.7L721 1014.2L722.9 1012.7L724.9 1011.2L726.9 1009.7L728.8 1008.2L730.8 1006.7L732.7 1005.2L734.7 1003.7L736.6 1002.2L738.4 1000.7L740.3 999.2L742.2 997.7L744 996.2L745.8 994.7L747.5 993.2L749.2 991.7L750.9 990.2L752.5 988.7L754.1 987.2L755.6 985.7L757.1 984.2L758.6 982.7L760 981.2L761.3 979.7L762.6 978.2L763.9 976.7L765.1 975.2L766.3 973.7L767.4 972.2L768.4 970.7L769.5 969.2L770.4 967.7L771.3 966.2L772.2 964.7L773 963.2L773.8 961.7L774.6 960.2L775.4 958.7L776.2 957.2L777.1 955.7L777.9 954.2L778.8 952.7L779.7 951.2L780.6 949.7L781.6 948.2L782.5 946.7L783.3 945.2L784.2 943.7L785.1 942.2L786 940.7L786.8 939.2L787.6 937.7L788.3 936.2L788.9 934.7L789.5 933.2L790 931.7L790.5 930.2L790.9 928.7L791.3 927.2L791.6 925.7L791.7 924.2L791.9 922.7L791.9 921.2L791.9 919.7L791.9 918.2L791.9 916.7L791.9 915.2L791.8 913.7L791.7 912.2L791.6 910.7L791.5 909.2L791.4 907.7L791.3 906.2L791.1 904.7L791 903.2L790.9 901.7L790.8 900.2L790.8 898.7L790.7 897.2L790.7 895.7L790.8 894.2L790.8 892.7L790.9 891.2L791 889.7L791.2 888.2L791.3 886.7L791.4 885.2L791.6 883.7L791.7 882.2L791.9 880.7L792.1 879.2L792.2 877.7L792.4 876.2L792.6 874.7L792.8 873.2L793 871.7L793.2 870.2L793.5 868.7L793.7 867.2L793.9 865.7L794.1 864.2L794.4 862.7L794.6 861.2L794.9 859.7L795.1 858.2L795.3 856.7L795.6 855.2L795.8 853.7L796.1 852.2L796.3 850.7L796.6 849.2L796.8 847.7L797 846.2L797.3 844.7L797.5 843.2L797.7 841.7L798 840.2L798.2 838.7L798.4 837.2L798.6 835.7L798.8 834.2L798.9 832.7L799.1 831.2L799.2 829.7L799.3 828.2L799.4 826.7L799.5 825.2L799.6 823.7L799.6 822.2L799.7 820.7L799.8 819.2L799.8 817.7L799.9 816.2L799.9 814.7L800 813.2L800.1 811.7L800.1 810.2L800.2 808.7L800.3 807.2L800.4 805.7L800.4 804.2L800.5 802.7L800.6 801.2L800.8 799.7L800.9 798.2L801 796.7L801.2 795.2L801.4 793.7L801.6 792.2L801.8 790.7L802.1 789.2L802.3 787.7L802.6 786.2L802.9 784.7L803.2 783.2L803.6 781.7L803.9 780.2L804.2 778.7L804.4 777.2L804.6 775.7L804.8 774.2L804.9 772.7L805.1 771.2L805.2 769.7L805.3 768.2L805.4 766.7L805.5 765.2L805.6 763.7L805.7 762.2L805.7 760.7L805.8 759.2L805.9 757.7L805.9 756.2L806 754.7L806 753.2L806.1 751.7L806.1 750.2L806.1 748.7L806.2 747.2L806.2 745.7L806.2 744.2L806.3 742.7L806.3 741.2L806.3 739.7L806.4 738.2L806.4 736.7L806.4 735.2L806.4 733.7L806.5 732.2L806.5 730.7L806.5 729.2L806.5 727.7L806.6 726.2L806.6 724.7L806.6 723.2L806.6 721.7L806.7 720.2L806.7 718.7L806.7 717.2L806.7 715.7L806.8 714.2L806.8 712.7L806.8 711.2L806.8 709.7L806.8 708.2L806.9 706.7L806.9 705.2L806.9 703.7L806.9 702.2Z" fill="#DE756E" stroke="#333333" stroke-width="1.7" stroke-linejoin="round"/>
<g fill="none" stroke="#333333" stroke-width="1.5" opacity="1">
<path d="M806.9 859.5V964.8M806.9 1035.6V1066.1"/>
<rect x="795.5" y="964.8" width="22.8" height="70.8"/>
<path d="M795.5 1012.3H818.3" stroke-width="2.4"/>
</g>
<path d="M841.8 1049.7h0M838.3 1034.5h0M799.9 932.4h0M821 1038.9h0M812.2 1040.6h0M782.4 994.8h0M815.1 1013.6h0M777.3 1021.7h0M785.5 993.2h0M789.1 1023.2h0M807.4 1031.8h0M821.5 1041.6h0M830.2 993.1h0M774.8 1005h0M841 1021h0M830.6 1051.9h0M800.6 1047.2h0M780.5 878.4h0M785.4 1034.3h0M790.3 949.5h0M813 982.8h0M814.6 1020.1h0M804.5 1035.3h0M772.3 955.6h0M820.1 1047.1h0M801.1 994.6h0M841.4 1039.7h0M803.4 1044.5h0M831.4 971.8h0M829.2 952h0M784.8 1042.9h0M815.7 944.5h0M770.9 1036.1h0M799.8 1054.1h0M842.2 896.7h0M783.7 1018.6h0M812.1 995.2h0M835 1030.1h0M836.2 1043.1h0M830.2 990.6h0M803.4 991.5h0M828.4 977.1h0M784.3 1040.8h0M779.2 1034.3h0M834.9 1041.6h0M827.2 1017.8h0M784.1 1043.7h0M808.3 935.1h0M842.7 1043.2h0M816.5 997.8h0M838.1 1003.3h0M837.3 1039.3h0M784.6 1031.4h0M829.1 873.3h0M781.5 977.7h0M815.2 1046.6h0M811.1 915.4h0M820.4 1031.1h0M814 985.2h0M831.9 1000.7h0M820.2 1039.3h0M785.1 1037.5h0M830.9 866.6h0M789.6 1043.9h0M792.3 853.8h0M812.9 1023.3h0M841.6 1017.3h0M840.2 908.4h0M821.3 1052h0M832.6 1025.2h0M777.8 1049.5h0M820.9 1029.1h0M842.3 1026.2h0M797.4 937.8h0M786.5 1002h0M821.1 1019.8h0M840 888h0M838.2 933.6h0M808.9 1025.8h0M828.6 1020.6h0M829.9 1009.2h0M782.5 1042h0M809 1013.9h0M830.5 1030.3h0M802.3 954.2h0M786.6 1033.5h0M825.5 1050.9h0M779.7 1024.8h0M786 1007.5h0M800 1030.4h0M817.5 886.7h0M792.6 1038.9h0M788.4 1012.2h0M774 996.6h0M820.3 1014.1h0M841.3 969.3h0M825.2 972.4h0M790.1 1035.9h0M795.5 1004.1h0M842.9 1038.7h0M823.9 1052.5h0M807.7 1032.9h0M786.9 960h0M815.8 1040.8h0M836.2 1008.2h0M808.8 1033.5h0M783.4 940.5h0M842.1 978.7h0M824.3 1025.4h0M816.9 1025h0M836 904.1h0M807.4 1036.1h0M809.8 1049.8h0M781.8 1005.7h0M842 1008h0M839.7 1020h0M776.6 983.7h0M781.3 1003.2h0M775 1032.6h0M774.6 961.9h0M831.7 995.5h0M789.1 1049.9h0M774.3 1053h0M838 950h0M788.4 1048.6h0M839.9 919.7h0M821.6 1008h0M774 969.4h0M802.6 955.1h0M779.6 1018.3h0M782.8 985.8h0M777.2 1028.2h0M831.8 963.2h0M795.8 1031.5h0M805.4 1041.6h0M792 1014.5h0M797.3 1023.8h0M840.1 1035.5h0M785.7 1038.5h0M812.3 983.9h0M820.3 1035.4h0M839.4 1003.2h0M804.1 1020.6h0M803.1 1040.8h0M788.8 1034.6h0M826.5 978.1h0M780.9 992.2h0M773 904.5h0M776 981.2h0M822.3 1042.6h0M823.6 1036.4h0M829.1 1026.3h0M822.9 1042.9h0M774.1 1038.5h0M789 986h0M804.8 943.5h0M782.9 1038.7h0M814.6 857h0M820.9 988.8h0M811.7 989.7h0M810.2 976.9h0M777.8 961h0M778.6 1037.1h0M836.6 1019.3h0M795.9 1040.5h0M822.5 1000.4h0M812.1 1021.3h0M803.2 998.6h0M773.3 1005.2h0M841.7 1034.3h0M799.4 1023.1h0M774.5 968.7h0M772.7 1027h0M826.8 1038.9h0M794.7 1011.3h0M830.5 1051h0M792.2 1040.2h0M808 972.5h0M797 1033.5h0M833.5 1025.9h0M837.4 1026.9h0M788.9 973.8h0M791.8 899.9h0M798.7 958.7h0M787.9 1045.9h0M803.8 1017.1h0M813.4 1017.8h0M794.7 1052.3h0M775.8 1012.9h0M832.4 1023.2h0M804.8 972.7h0M774.4 825h0M771.3 1016.6h0M790.8 1007.1h0M784.5 982.5h0M818.8 880h0M795.4 967.1h0M774.5 976.6h0M779.7 1005.8h0M828.2 1032.3h0M792.6 861.6h0M830.4 1024.8h0M791.3 978.5h0M819.8 1026.4h0M814 1004.4h0M785.1 795.7h0M839.2 974.2h0M782.8 1013.9h0M834.4 992h0M796.8 999.6h0M789 1017.2h0M800.4 1004.5h0M810.7 1005.1h0M824.4 993.9h0M827.2 1023.5h0M802.1 1032.1h0M786.4 983.2h0M798.3 1032.6h0M804 1013.8h0M803 1032.9h0M808.2 1029.4h0M786.1 977.3h0M839.8 1014.4h0M798.2 965.9h0M813 897.7h0M820.7 1031.6h0M813.2 1042.1h0M814.6 1028.5h0M813.7 1020.8h0M828.1 1033.7h0M795.1 1011h0M837.8 1026.7h0M771.2 1029h0M821.7 979.1h0M786.2 1006.3h0M807.8 908.2h0M822.6 1044.4h0M794.5 1046.7h0M827.8 1022.4h0M795.9 930.2h0M782.9 869.5h0M796.5 1005.8h0M772.9 1028.7h0M779.4 1013.5h0M831.8 955.6h0M787.2 955.5h0M839.7 1011.7h0M811.9 1045.7h0M797.8 970.1h0M840.9 1041.3h0M793.4 1004.7h0M790.9 991.4h0M814.7 1004.4h0M782 995.5h0M822.2 967h0M783.3 1017.7h0M814.5 1007h0M809.8 1011.4h0M812.9 993h0M810.9 1025.2h0M827.6 876.3h0M841.8 1049.7h0M791.2 969.2h0M800.9 1007.1h0M810.1 1017.4h0M785.6 1026.5h0M803.9 1010.7h0M826.6 1027.4h0M779.4 963.2h0M787.5 985.6h0M825.9 894.2h0M826.5 1039.4h0M815.2 1021.8h0M811.4 1023.2h0M777.5 967.1h0M811.5 1035.5h0M832.6 929.9h0M820 1030.9h0M821.2 860.4h0M818.5 1046.6h0M833.8 1042.1h0M841.4 1054h0M840.8 1009.5h0M782 1021.3h0M806.1 1033.1h0M804.6 938.6h0M808.1 911.3h0M824.5 1004.5h0M771.6 871.1h0M778.6 1024.6h0M805.9 1029h0M827.2 1048.7h0M793.4 1046.4h0M784.3 950.8h0M802.6 1029.6h0M809.4 1047.7h0M840.7 1048h0M839.4 986.3h0M836 1019.1h0M822.9 846.3h0M812.9 977.5h0M811.8 1052.2h0M826.4 987.8h0M830.4 1027.6h0M788.9 1024.7h0M820.3 1043.8h0M838.1 993.2h0M795.1 978.2h0M831.1 1032h0M819.9 1029.9h0M772.6 1017.2h0M771.6 900.5h0M783.6 1034.4h0M806.9 1003.1h0M794.6 976.9h0M783.2 1025.7h0M789 1000.2h0M783.9 978.4h0M831.7 1029.5h0M781.7 849.4h0M792.9 1030.7h0M834.6 1001.2h0M797.3 993.9h0M793.3 948.9h0M800.7 1025.2h0M817.6 1043.7h0M819.2 1031h0M832 1038.6h0M812.9 827.4h0M779.1 1033.7h0M828.2 748h0M838.4 1066.6h0" fill="none" stroke="#000" stroke-width="3.15" stroke-linecap="round"/>
<path d="M1036.9 656.3L1036.9 657.8L1036.9 659.3L1036.9 660.8L1036.9 662.3L1036.9 663.8L1037 665.3L1037 666.8L1037 668.3L1037 669.8L1037 671.3L1037 672.8L1037 674.3L1037 675.8L1037 677.3L1037 678.8L1037.1 680.3L1037.1 681.8L1037.1 683.3L1037.1 684.8L1037.1 686.3L1037.1 687.8L1037.1 689.3L1037.2 690.8L1037.2 692.3L1037.2 693.8L1037.2 695.3L1037.2 696.8L1037.3 698.3L1037.3 699.8L1037.3 701.3L1037.3 702.8L1037.3 704.3L1037.4 705.8L1037.4 707.3L1037.4 708.8L1037.4 710.3L1037.4 711.8L1037.5 713.3L1037.5 714.8L1037.5 716.3L1037.6 717.8L1037.6 719.3L1037.6 720.8L1037.7 722.3L1037.7 723.8L1037.7 725.3L1037.8 726.8L1037.8 728.3L1037.9 729.8L1037.9 731.3L1038 732.8L1038 734.3L1038.1 735.8L1038.1 737.3L1038.2 738.8L1038.2 740.3L1038.3 741.8L1038.4 743.3L1038.4 744.8L1038.5 746.3L1038.6 747.8L1038.6 749.3L1038.7 750.8L1038.8 752.3L1038.9 753.8L1039 755.3L1039.1 756.8L1039.2 758.3L1039.3 759.8L1039.4 761.3L1039.5 762.8L1039.6 764.3L1039.8 765.8L1039.9 767.3L1040.1 768.8L1040.2 770.3L1040.4 771.8L1040.6 773.3L1040.8 774.8L1041 776.3L1041.2 777.8L1041.4 779.3L1041.6 780.8L1041.9 782.3L1042.1 783.8L1042.3 785.3L1042.6 786.8L1042.8 788.3L1043.1 789.8L1043.3 791.3L1043.6 792.8L1043.9 794.3L1044.1 795.8L1044.4 797.3L1044.7 798.8L1045.1 800.3L1045.4 801.8L1045.7 803.3L1046 804.8L1046.3 806.3L1046.7 807.8L1047 809.3L1047.4 810.8L1047.7 812.3L1048.1 813.8L1048.5 815.3L1048.9 816.8L1049.3 818.3L1049.7 819.8L1050.1 821.3L1050.5 822.8L1051 824.3L1051.4 825.8L1051.8 827.3L1052.2 828.8L1052.6 830.3L1053.1 831.8L1053.5 833.3L1053.9 834.8L1054.3 836.3L1054.7 837.8L1055.2 839.3L1055.6 840.8L1056 842.3L1056.4 843.8L1056.9 845.3L1057.3 846.8L1057.7 848.3L1058.1 849.8L1058.5 851.3L1059 852.8L1059.4 854.3L1059.8 855.8L1060.2 857.3L1060.6 858.8L1061 860.3L1061.4 861.8L1061.9 863.3L1062.3 864.8L1062.7 866.3L1063.1 867.8L1063.5 869.3L1063.9 870.8L1064.3 872.3L1064.7 873.8L1065.1 875.3L1065.5 876.8L1065.8 878.3L1066.2 879.8L1066.6 881.3L1066.9 882.8L1067.3 884.3L1067.6 885.8L1067.9 887.3L1068.3 888.8L1068.6 890.3L1069 891.8L1069.3 893.3L1069.6 894.8L1070 896.3L1070.3 897.8L1070.7 899.3L1071 900.8L1071.4 902.3L1071.7 903.8L1072.1 905.3L1072.5 906.8L1072.8 908.3L1073.2 909.8L1073.5 911.3L1073.9 912.8L1074.2 914.3L1074.5 915.8L1074.8 917.3L1075.1 918.8L1075.4 920.3L1075.6 921.8L1075.9 923.3L1076.1 924.8L1076.3 926.3L1076.5 927.8L1076.7 929.3L1076.9 930.8L1077 932.3L1077.1 933.8L1077.2 935.3L1077.3 936.8L1077.4 938.3L1077.5 939.8L1077.5 941.3L1077.6 942.8L1077.6 944.3L1077.7 945.8L1077.7 947.3L1077.8 948.8L1077.8 950.3L1077.9 951.8L1078 953.3L1078 954.8L1078.1 956.3L1078.3 957.8L1078.4 959.3L1078.6 960.8L1078.8 962.3L1079.1 963.8L1079.4 965.3L1079.7 966.8L1080.1 968.3L1080.5 969.8L1081 971.3L1081.6 972.8L1082.2 974.3L1082.8 975.8L1083.5 977.3L1084.2 978.8L1084.9 980.3L1085.6 981.8L1086.4 983.3L1087.2 984.8L1087.9 986.3L1088.7 987.8L1089.4 989.3L1090 990.8L1090.7 992.3L1091.3 993.8L1091.8 995.3L1092.4 996.8L1092.8 998.3L1093.3 999.8L1093.7 1001.3L1094.1 1002.8L1094.4 1004.3L1094.7 1005.8L1095 1007.3L1095.3 1008.8L1095.4 1010.3L1095.6 1011.8L1095.6 1013.3L1095.7 1014.8L1095.6 1016.3L1095.5 1017.8L1095.4 1019.3L1095.2 1020.8L1094.8 1022.3L1094.4 1023.8L1093.8 1025.3L1093.1 1026.8L1092.2 1028.3L1091.2 1029.8L1090.1 1031.3L1088.9 1032.8L1087.5 1034.3L1086.1 1035.8L1084.6 1037.3L1083 1038.8L1081.3 1040.3L1079.5 1041.8L1077.7 1043.3L1075.9 1044.8L1074 1046.3L1072.1 1047.8L1070.2 1049.3L1068.3 1050.8L1066.3 1052.3L1064.5 1053.8L1062.6 1055.3L1060.8 1056.8L1059 1058.3L1057.3 1059.8L1055.6 1061.3L1054 1062.8L1052.4 1064.3L1050.9 1065.8L1049.5 1067.3L1048.3 1068.8L1047.1 1070.3L1046 1071.8L1045.1 1073.3L1044.1 1074.8L1043.3 1076.3L1042.6 1077.8L1041.9 1079.3L1041.3 1080.8L1040.8 1082.3L1040.3 1083.8L1039.9 1085.3L1039.6 1086.8L1039.3 1088.3L1039 1089.8L1038.7 1091.3L1038.5 1092.8L1038.3 1094.3L1038.1 1095.8L1037.9 1097.3L1037.8 1098.8L1037.6 1100.3L1037.5 1101.8L1037.4 1103.3L1037.4 1104.8L1037.3 1106.3L1037.2 1107.8L1037.2 1109.3L1037.1 1110.8L1037.1 1112.3L1037.1 1113.8L1037 1115.3L1037 1116.8L1037 1118.3L1037 1119.8L1036.9 1121.3L1036.9 1122.8L1036.9 1123.9L1036.9 1122.8L1036.9 1121.3L1036.9 1119.8L1036.9 1118.3L1036.9 1116.8L1036.8 1115.3L1036.8 1113.8L1036.8 1112.3L1036.7 1110.8L1036.7 1109.3L1036.6 1107.8L1036.6 1106.3L1036.5 1104.8L1036.4 1103.3L1036.4 1101.8L1036.2 1100.3L1036.1 1098.8L1035.9 1097.3L1035.8 1095.8L1035.6 1094.3L1035.4 1092.8L1035.1 1091.3L1034.9 1089.8L1034.6 1088.3L1034.3 1086.8L1033.9 1085.3L1033.5 1083.8L1033.1 1082.3L1032.6 1080.8L1032 1079.3L1031.3 1077.8L1030.5 1076.3L1029.7 1074.8L1028.8 1073.3L1027.8 1071.8L1026.8 1070.3L1025.6 1068.8L1024.3 1067.3L1022.9 1065.8L1021.5 1064.3L1019.9 1062.8L1018.3 1061.3L1016.6 1059.8L1014.9 1058.3L1013.1 1056.8L1011.3 1055.3L1009.4 1053.8L1007.5 1052.3L1005.6 1050.8L1003.7 1049.3L1001.8 1047.8L999.9 1046.3L998 1044.8L996.1 1043.3L994.3 1041.8L992.6 1040.3L990.9 1038.8L989.3 1037.3L987.8 1035.8L986.3 1034.3L985 1032.8L983.8 1031.3L982.7 1029.8L981.7 1028.3L980.8 1026.8L980 1025.3L979.5 1023.8L979 1022.3L978.7 1020.8L978.5 1019.3L978.4 1017.8L978.3 1016.3L978.2 1014.8L978.2 1013.3L978.3 1011.8L978.4 1010.3L978.6 1008.8L978.9 1007.3L979.1 1005.8L979.5 1004.3L979.8 1002.8L980.2 1001.3L980.6 999.8L981 998.3L981.5 996.8L982 995.3L982.6 993.8L983.2 992.3L983.8 990.8L984.5 989.3L985.2 987.8L985.9 986.3L986.7 984.8L987.5 983.3L988.2 981.8L989 980.3L989.7 978.8L990.4 977.3L991 975.8L991.7 974.3L992.3 972.8L992.8 971.3L993.3 969.8L993.8 968.3L994.2 966.8L994.5 965.3L994.8 963.8L995 962.3L995.3 960.8L995.4 959.3L995.6 957.8L995.7 956.3L995.8 954.8L995.9 953.3L996 951.8L996 950.3L996.1 948.8L996.1 947.3L996.2 945.8L996.2 944.3L996.3 942.8L996.4 941.3L996.4 939.8L996.5 938.3L996.5 936.8L996.6 935.3L996.7 933.8L996.8 932.3L997 930.8L997.1 929.3L997.3 927.8L997.5 926.3L997.7 924.8L998 923.3L998.2 921.8L998.5 920.3L998.8 918.8L999.1 917.3L999.4 915.8L999.7 914.3L1000 912.8L1000.3 911.3L1000.7 909.8L1001 908.3L1001.4 906.8L1001.8 905.3L1002.1 903.8L1002.5 902.3L1002.8 900.8L1003.2 899.3L1003.6 897.8L1003.9 896.3L1004.2 894.8L1004.6 893.3L1004.9 891.8L1005.3 890.3L1005.6 888.8L1005.9 887.3L1006.3 885.8L1006.6 884.3L1007 882.8L1007.3 881.3L1007.7 879.8L1008 878.3L1008.4 876.8L1008.8 875.3L1009.2 873.8L1009.6 872.3L1010 870.8L1010.4 869.3L1010.8 867.8L1011.2 866.3L1011.6 864.8L1012 863.3L1012.4 861.8L1012.8 860.3L1013.3 858.8L1013.7 857.3L1014.1 855.8L1014.5 854.3L1014.9 852.8L1015.3 851.3L1015.8 849.8L1016.2 848.3L1016.6 846.8L1017 845.3L1017.4 843.8L1017.9 842.3L1018.3 840.8L1018.7 839.3L1019.1 837.8L1019.5 836.3L1020 834.8L1020.4 833.3L1020.8 831.8L1021.2 830.3L1021.6 828.8L1022.1 827.3L1022.5 825.8L1022.9 824.3L1023.3 822.8L1023.7 821.3L1024.2 819.8L1024.6 818.3L1025 816.8L1025.4 815.3L1025.7 813.8L1026.1 812.3L1026.5 810.8L1026.8 809.3L1027.2 807.8L1027.5 806.3L1027.9 804.8L1028.2 803.3L1028.5 801.8L1028.8 800.3L1029.1 798.8L1029.4 797.3L1029.7 795.8L1030 794.3L1030.3 792.8L1030.6 791.3L1030.8 789.8L1031.1 788.3L1031.3 786.8L1031.6 785.3L1031.8 783.8L1032 782.3L1032.2 780.8L1032.5 779.3L1032.7 777.8L1032.9 776.3L1033.1 774.8L1033.3 773.3L1033.5 771.8L1033.6 770.3L1033.8 768.8L1034 767.3L1034.1 765.8L1034.2 764.3L1034.3 762.8L1034.5 761.3L1034.6 759.8L1034.7 758.3L1034.8 756.8L1034.9 755.3L1035 753.8L1035.1 752.3L1035.2 750.8L1035.2 749.3L1035.3 747.8L1035.4 746.3L1035.5 744.8L1035.5 743.3L1035.6 741.8L1035.6 740.3L1035.7 738.8L1035.7 737.3L1035.8 735.8L1035.8 734.3L1035.9 732.8L1035.9 731.3L1036 729.8L1036 728.3L1036.1 726.8L1036.1 725.3L1036.2 723.8L1036.2 722.3L1036.2 720.8L1036.3 719.3L1036.3 717.8L1036.3 716.3L1036.4 714.8L1036.4 713.3L1036.4 711.8L1036.4 710.3L1036.5 708.8L1036.5 707.3L1036.5 705.8L1036.5 704.3L1036.6 702.8L1036.6 701.3L1036.6 699.8L1036.6 698.3L1036.6 696.8L1036.6 695.3L1036.7 693.8L1036.7 692.3L1036.7 690.8L1036.7 689.3L1036.7 687.8L1036.8 686.3L1036.8 684.8L1036.8 683.3L1036.8 681.8L1036.8 680.3L1036.8 678.8L1036.8 677.3L1036.9 675.8L1036.9 674.3L1036.9 672.8L1036.9 671.3L1036.9 669.8L1036.9 668.3L1036.9 666.8L1036.9 665.3L1036.9 663.8L1036.9 662.3L1036.9 660.8L1036.9 659.3L1036.9 657.8L1036.9 656.3Z" fill="#6CC0C6" stroke="#333333" stroke-width="1.7" stroke-linejoin="round"/>
<g fill="none" stroke="#333333" stroke-width="1.5" opacity="1">
<path d="M1036.9 758.8V908.6M1036.9 1012.7V1065.5"/>
<rect x="1025.5" y="908.6" width="22.8" height="104.1"/>
<path d="M1025.5 965.2H1048.3" stroke-width="2.4"/>
</g>
<path d="M1035.3 1013.1h0M1031 954.4h0M1017.7 1025.3h0M1027.4 1002h0M1027.3 859.6h0M1024.5 1046.6h0M1028.3 1011.3h0M1050.3 1014.8h0M1022.3 873.1h0M1069.3 957h0M1066.9 939.1h0M1035.6 1036.2h0M1024.6 993.9h0M1039.5 1020.1h0M1062 955.4h0M1047.9 904.2h0M1058.9 978.7h0M1039.3 844.7h0M1046.5 1020.8h0M1021.7 992h0M1053.8 1010.8h0M1015.5 935.4h0M1051 1045.4h0M1062.9 1030.6h0M1010.4 1013.7h0M1045.2 894.9h0M1007.8 960.6h0M1053.2 832.2h0M1007 882.3h0M1068.3 999.9h0M1010.8 1008.9h0M1070 1044.6h0M1058.6 928.7h0M1043.7 939h0M1057.3 961.2h0M1058.2 893.4h0M1069 873.8h0M1019.2 962.6h0M1043.4 904.1h0M1007.8 997.9h0M1045.3 954h0M1013.3 1021.5h0M1041.6 1002.5h0M1042.1 925.6h0M1034.5 1021.4h0M1038.6 1017.5h0M1055.9 942.8h0M1058.5 919.9h0M1036.4 999.8h0M1044.1 877.3h0M1068 896.5h0M1009.6 789h0M1009.4 1015h0M1007.2 997.1h0M1048.3 1003.2h0M1031.1 1014.1h0M1056.7 958.9h0M1049.3 981.3h0M1025 877.3h0M1065.6 868h0M1055.8 997.7h0M1020.4 961.5h0M1027.2 980.7h0M1023.6 1011.8h0M1012.3 992.4h0M1011.6 978.5h0M1068.3 979.5h0M1032.5 923.6h0M1028.5 821.9h0M1053.5 953.9h0M1040.7 900.7h0M1068.3 947.6h0M1057.1 1024.5h0M1035.4 906h0M1028 841.6h0M1072 918.2h0M1052.6 921.1h0M1069.4 996.7h0M1009.5 979.1h0M1062.2 1014.5h0M1046.8 997.1h0M1009.7 947.1h0M1043.3 1018.8h0M1050.3 886.4h0M1001.8 813.7h0M1033.6 857.8h0M1060.4 1005.7h0M1022.2 959.5h0M1033.9 884.6h0M1032.8 968h0M1022.7 881.6h0M1067.1 1001.9h0M1057.2 956h0M1008.9 941.4h0M1072.7 923h0M1064.2 991.7h0M1021.4 937h0M1061.2 856.7h0M1008.6 869.4h0M1072.9 1043.3h0M1048.9 1033.1h0M1047.7 1002.4h0M1007.4 914.3h0M1065.5 1045h0M1003 1013.8h0M1018.3 1004.9h0M1011.2 956.7h0M1056.9 915.9h0M1015.2 860.6h0M1066.5 1032.1h0M1048.2 958.2h0M1003.5 897.2h0M1001.3 924.1h0M1004.7 983.2h0M1044.6 889.5h0M1058.6 1025h0M1018.1 1010.9h0M1062.1 1005.3h0M1005.1 952.9h0M1058.6 991.3h0M1067.7 984h0M1056.5 994.8h0M1051.2 855.2h0M1061.3 949.2h0M1003.8 830.6h0M1015.5 966.5h0M1009.9 929.7h0M1037.3 879h0M1054.6 863.5h0M1046.3 984.7h0M1062.2 887.5h0M1012.1 1036h0M1053.8 983.5h0M1014.8 933.6h0M1020.4 985.2h0M1052 813.8h0M1071.5 1042.5h0M1045 964h0M1004.9 1014.4h0M1045.3 854.4h0M1004 964.9h0M1064.6 965.8h0M1052 1038.3h0M1013.4 981.8h0M1007.5 962.1h0M1014.1 914.6h0M1071.5 930.1h0M1034 972.1h0M1057.4 954.4h0M1046.8 812.4h0M1042.1 1020.6h0M1011.4 1031.1h0M1069 877.5h0M1022.6 978.6h0M1042.6 865.6h0M1051.3 998.3h0M1047.7 918.1h0M1068.7 996.3h0M1011.6 1006.4h0M1037.5 1012.3h0M1030 865.3h0M1035.1 1034.4h0M1009.5 905h0M1010.6 827.4h0M1021 978.7h0M1022.9 939.1h0M1031.7 1021.1h0M1044.9 1018h0M1046.6 926.7h0M1030.6 1041.3h0M1030.4 920.5h0M1016.6 970.9h0M1043.3 911.8h0M1023.8 1038h0M1003.5 885.6h0M1031.1 833h0M1035.1 953.6h0M1017.2 1051.5h0M1042.2 1030.3h0M1041.7 1009.5h0M1051.5 1030.2h0M1047.6 1030.6h0M1047.9 971.7h0M1023.7 926.4h0M1057.6 1012.8h0M1040.5 996.6h0M1032 939.7h0M1046 859.7h0M1026.9 1009.2h0M1037.9 913.4h0M1054 1038.1h0M1064.8 907.9h0M1067.3 871.2h0M1037.2 1021.3h0M1038.4 881.9h0M1058.5 890.3h0M1023.6 986.7h0M1061.2 1027.7h0M1036.5 895.4h0M1009.3 925.1h0M1006.1 1013.6h0M1061.6 1045.6h0M1004.9 967.9h0M1021.1 878.7h0M1025 802h0M1013.4 904.8h0M1023.5 874.5h0M1054.4 999.1h0M1002 870.8h0M1060.5 969.1h0M1062.6 1001.6h0M1027.7 983.5h0M1012 896.4h0M1044.2 1017.4h0M1009.6 1004.7h0M1027.2 1008.1h0M1069.9 874.2h0M1072.6 871.5h0M1056.5 1036.4h0M1023.3 945.1h0M1050.4 922.9h0M1051.7 965.3h0M1028.9 996.8h0M1047.1 1041.9h0M1001.7 919.4h0M1016 1035.9h0M1038.7 816h0M1012.7 978.8h0M1012.9 992.3h0M1061.1 864.6h0M1072.2 877.5h0M1041 950h0M1061.3 1044.3h0M1072.2 986.1h0M1011.1 1037.4h0M1033.2 1017.4h0M1029.2 960.7h0M1006.7 1014.6h0M1055.3 807.7h0M1032.2 865.9h0M1034.7 1021h0M1011.8 1016.4h0M1014 905.6h0M1066.2 974.1h0M1004.1 987.8h0M1017.7 1026.6h0M1022 987.3h0M1036.2 948.5h0M1043.2 939.8h0M1036.5 951.5h0M1007 995.1h0M1018.5 1026.6h0M1061.7 957.8h0M1046.8 909.7h0M1047.7 906.7h0M1049.2 1009.1h0M1055.9 1019.2h0M1005.1 864.3h0M1027.3 846.2h0M1039.8 985.8h0M1025.3 879.5h0M1061.7 1020.4h0M1035.7 925.1h0M1056.3 878.7h0M1062.3 1035.2h0M1037.3 885.9h0M1066.4 919h0M1043.2 882h0M1062.2 868.4h0M1025.5 811.9h0M1036.8 839.8h0M1039.2 888.8h0M1008.5 838.6h0M1029.6 985.3h0M1067 999.5h0M1046.4 944.2h0M1013.7 926.9h0M1025.3 968.7h0M1014.7 1027.7h0M1002.7 1024.2h0M1067.7 832h0M1033.2 890.9h0M1023.1 906.8h0M1044 910.1h0M1001.5 981.7h0M1021 949.3h0M1051.6 835.9h0M1046.6 939.7h0M1071.6 972.7h0M1045.6 862.8h0M1035.3 1021.6h0M1055.8 837.7h0M1066 1035.9h0M1052.8 861.7h0M1070.3 1023.1h0M1057.2 1032.1h0M1063.3 1047.7h0M1009.1 1017.1h0M1053.7 1013.9h0M1032.6 993.7h0M1040.8 1013.8h0M1048 875.5h0M1070.8 975.1h0M1071.8 970.7h0M1021.7 1025.1h0M1053.8 959.7h0M1054.9 942.3h0M1025.9 993.2h0M1009.9 914.5h0M1003.9 877.3h0M1062.1 714.2h0M1005 1066.1h0" fill="none" stroke="#000" stroke-width="3.15" stroke-linecap="round"/>
<path d="M669.3 634.2V1147.2H1174.8" fill="none" stroke="#262626" stroke-width="1.9" stroke-linejoin="round"/>
<path d="M664.7 774.6H669.3M664.7 921H669.3M664.7 1067.7H669.3M806.9 1147.2V1151.8M1036.9 1147.2V1151.8" fill="none" stroke="#333333" stroke-width="1.4"/>
<text x="661.7" y="782.3" font-family="Liberation Sans, Arial, Helvetica, sans-serif" font-size="21.9" fill="#4D4D4D" text-anchor="end">500</text>
<text x="661.7" y="928.7" font-family="Liberation Sans, Arial, Helvetica, sans-serif" font-size="21.9" fill="#4D4D4D" text-anchor="end">250</text>
<text x="661.7" y="1075.4" font-family="Liberation Sans, Arial, Helvetica, sans-serif" font-size="21.9" fill="#4D4D4D" text-anchor="end">0</text>
<text x="806.9" y="1169.2" font-family="Liberation Sans, Arial, Helvetica, sans-serif" font-size="21.9" fill="#4D4D4D" text-anchor="middle">No</text>
<text x="1036.9" y="1169.2" font-family="Liberation Sans, Arial, Helvetica, sans-serif" font-size="21.9" fill="#4D4D4D" text-anchor="middle">Yes</text>
<text x="668.5" y="621.7" font-family="Liberation Sans, Arial, Helvetica, sans-serif" font-size="33.4" fill="#000" text-anchor="start">PVTT</text>
<text x="612.5" y="619.6" font-family="Liberation Serif, Times New Roman, serif" font-size="33.4" fill="#000" text-anchor="start">E</text>
<text x="620.7" y="882.5" font-family="Liberation Sans, Arial, Helvetica, sans-serif" font-size="30" fill="#000" text-anchor="middle" letter-spacing="-1.0" transform="rotate(-90 620.7 882.5)">HSP90α</text>
<text x="781.1" y="714.2" font-family="Liberation Sans, Arial, Helvetica, sans-serif" font-size="15" fill="#000" text-anchor="start">T−test, p = 5.1e−12</text>
</g>
<g>
<path d="M1401.4 656.3L1401.4 657L1401.4 657.8L1401.4 658.5L1401.4 659.3L1401.4 660L1401.4 660.8L1401.4 661.5L1401.4 662.3L1401.4 663L1401.4 663.8L1401.4 664.5L1401.4 665.3L1401.4 666L1401.4 666.8L1401.4 667.5L1401.4 668.3L1401.4 669L1401.4 669.8L1401.4 670.5L1401.4 671.3L1401.4 672L1401.4 672.8L1401.4 673.5L1401.4 674.3L1401.4 675L1401.4 675.8L1401.4 676.5L1401.4 677.3L1401.4 678L1401.4 678.8L1401.4 679.5L1401.4 680.3L1401.4 681L1401.4 681.8L1401.4 682.5L1401.4 683.3L1401.4 684L1401.4 684.8L1401.4 685.5L1401.4 686.3L1401.4 687L1401.4 687.8L1401.4 688.5L1401.4 689.3L1401.4 690L1401.4 690.8L1401.4 691.5L1401.4 692.3L1401.4 693L1401.4 693.8L1401.4 694.5L1401.4 695.3L1401.4 696L1401.4 696.8L1401.4 697.5L1401.4 698.3L1401.4 699L1401.4 699.8L1401.4 700.5L1401.4 701.3L1401.4 702L1401.4 702.8L1401.4 703.5L1401.4 704.3L1401.4 705L1401.4 705.8L1401.4 706.5L1401.4 707.3L1401.4 708L1401.4 708.8L1401.4 709.5L1401.4 710.3L1401.4 711L1401.4 711.8L1401.4 712.5L1401.4 713.3L1401.4 714L1401.4 714.8L1401.4 715.5L1401.4 716.3L1401.4 717L1401.4 717.8L1401.4 718.5L1401.4 719.3L1401.4 720L1401.4 720.8L1401.4 721.5L1401.4 722.3L1401.4 723L1401.4 723.8L1401.4 724.5L1401.4 725.3L1401.4 726L1401.4 726.8L1401.4 727.5L1401.4 728.3L1401.4 729L1401.4 729.8L1401.4 730.5L1401.4 731.3L1401.4 732L1401.4 732.8L1401.4 733.5L1401.4 734.3L1401.4 735L1401.4 735.8L1401.4 736.5L1401.4 737.3L1401.5 738L1401.5 738.8L1401.5 739.5L1401.5 740.3L1401.5 741L1401.5 741.8L1401.5 742.5L1401.5 743.3L1401.5 744L1401.5 744.8L1401.5 745.5L1401.5 746.3L1401.5 747L1401.5 747.8L1401.5 748.5L1401.5 749.3L1401.5 750L1401.5 750.8L1401.5 751.5L1401.5 752.3L1401.5 753L1401.5 753.8L1401.5 754.5L1401.5 755.3L1401.5 756L1401.5 756.8L1401.5 757.5L1401.5 758.3L1401.5 759L1401.5 759.8L1401.5 760.5L1401.5 761.3L1401.5 762L1401.5 762.8L1401.5 763.5L1401.5 764.3L1401.5 765L1401.5 765.8L1401.5 766.5L1401.5 767.3L1401.5 768L1401.5 768.8L1401.5 769.5L1401.5 770.3L1401.5 771L1401.5 771.8L1401.5 772.5L1401.5 773.3L1401.5 774L1401.5 774.8L1401.5 775.5L1401.5 776.3L1401.5 777L1401.5 777.8L1401.5 778.5L1401.5 779.3L1401.6 780L1401.6 780.8L1401.6 781.5L1401.6 782.3L1401.6 783L1401.6 783.8L1401.6 784.5L1401.6 785.3L1401.6 786L1401.6 786.8L1401.6 787.5L1401.6 788.3L1401.6 789L1401.6 789.8L1401.6 790.5L1401.6 791.3L1401.6 792L1401.6 792.8L1401.6 793.5L1401.6 794.3L1401.6 795L1401.6 795.8L1401.6 796.5L1401.6 797.3L1401.6 798L1401.6 798.8L1401.6 799.5L1401.6 800.3L1401.6 801L1401.6 801.8L1401.7 802.5L1401.7 803.3L1401.7 804L1401.7 804.8L1401.7 805.5L1401.8 806.3L1401.8 807L1401.8 807.8L1401.8 808.5L1401.8 809.3L1401.9 810L1401.9 810.8L1401.9 811.5L1401.9 812.3L1401.9 813L1402 813.8L1402 814.5L1402 815.3L1402 816L1402 816.8L1402 817.5L1402 818.3L1402.1 819L1402.1 819.8L1402.1 820.5L1402.1 821.3L1402.1 822L1402.1 822.8L1402.1 823.5L1402.1 824.3L1402.1 825L1402 825.8L1402 826.5L1402 827.3L1402 828L1402 828.8L1402 829.5L1402 830.3L1402 831L1402 831.8L1402 832.5L1402 833.3L1402 834L1401.9 834.8L1401.9 835.5L1401.9 836.3L1401.9 837L1401.9 837.8L1401.9 838.5L1401.9 839.3L1401.9 840L1401.9 840.8L1401.8 841.5L1401.8 842.3L1401.8 843L1401.8 843.8L1401.8 844.5L1401.8 845.3L1401.8 846L1401.8 846.8L1401.8 847.5L1401.8 848.3L1401.8 849L1401.7 849.8L1401.7 850.5L1401.7 851.3L1401.7 852L1401.7 852.8L1401.7 853.5L1401.7 854.3L1401.7 855L1401.7 855.8L1401.7 856.5L1401.7 857.3L1401.7 858L1401.7 858.8L1401.7 859.5L1401.8 860.3L1401.8 861L1401.8 861.8L1401.8 862.5L1401.8 863.3L1401.8 864L1401.8 864.8L1401.8 865.5L1401.8 866.3L1401.9 867L1401.9 867.8L1401.9 868.5L1401.9 869.3L1401.9 870L1401.9 870.8L1402 871.5L1402 872.3L1402 873L1402 873.8L1402 874.5L1402.1 875.3L1402.1 876L1402.1 876.8L1402.1 877.5L1402.1 878.3L1402.2 879L1402.2 879.8L1402.2 880.5L1402.2 881.3L1402.2 882L1402.3 882.8L1402.3 883.5L1402.3 884.3L1402.3 885L1402.3 885.8L1402.3 886.5L1402.4 887.3L1402.4 888L1402.4 888.8L1402.4 889.5L1402.4 890.3L1402.4 891L1402.4 891.8L1402.5 892.5L1402.5 893.3L1402.5 894L1402.5 894.8L1402.5 895.5L1402.5 896.3L1402.5 897L1402.5 897.8L1402.5 898.5L1402.5 899.3L1402.5 900L1402.5 900.8L1402.5 901.5L1402.5 902.3L1402.5 903L1402.5 903.8L1402.5 904.5L1402.5 905.3L1402.4 906L1402.4 906.8L1402.4 907.5L1402.4 908.3L1402.4 909L1402.3 909.8L1402.3 910.5L1402.3 911.3L1402.3 912L1402.3 912.8L1402.2 913.5L1402.2 914.3L1402.2 915L1402.2 915.8L1402.2 916.5L1402.1 917.3L1402.1 918L1402.1 918.8L1402.1 919.5L1402.1 920.3L1402.1 921L1402.1 921.8L1402.1 922.5L1402.1 923.3L1402.1 924L1402.1 924.8L1402.1 925.5L1402.2 926.3L1402.2 927L1402.2 927.8L1402.3 928.5L1402.3 929.3L1402.4 930L1402.4 930.8L1402.5 931.5L1402.5 932.3L1402.5 933L1402.5 933.8L1402.5 934.5L1402.5 935.3L1402.5 936L1402.5 936.8L1402.5 937.5L1402.5 938.3L1402.5 939L1402.4 939.8L1402.4 940.5L1402.4 941.3L1402.4 942L1402.4 942.8L1402.4 943.5L1402.3 944.3L1402.3 945L1402.3 945.8L1402.3 946.5L1402.2 947.3L1402.2 948L1402.2 948.8L1402.2 949.5L1402.2 950.3L1402.1 951L1402.1 951.8L1402.1 952.5L1402.1 953.3L1402.1 954L1402.1 954.8L1402.1 955.5L1402.1 956.3L1402.1 957L1402.1 957.8L1402.1 958.5L1402.1 959.3L1402.1 960L1402.2 960.8L1402.2 961.5L1402.2 962.3L1402.3 963L1402.3 963.8L1402.3 964.5L1402.4 965.3L1402.4 966L1402.4 966.8L1402.5 967.5L1402.5 968.3L1402.6 969L1402.6 969.8L1402.6 970.5L1402.7 971.3L1402.7 972L1402.8 972.8L1402.8 973.5L1402.9 974.3L1402.9 975L1403 975.8L1403 976.5L1403.1 977.3L1403.1 978L1403.2 978.8L1403.2 979.5L1403.3 980.3L1403.3 981L1403.4 981.8L1403.4 982.5L1403.5 983.3L1403.5 984L1403.6 984.8L1403.7 985.5L1403.7 986.3L1403.8 987L1403.8 987.8L1403.9 988.5L1404 989.3L1404 990L1404.1 990.8L1404.2 991.5L1404.2 992.3L1404.3 993L1404.4 993.8L1404.4 994.5L1404.5 995.3L1404.6 996L1404.7 996.8L1404.7 997.5L1404.8 998.3L1404.9 999L1405 999.8L1405.1 1000.5L1405.1 1001.3L1405.2 1002L1405.3 1002.8L1405.4 1003.5L1405.5 1004.3L1405.6 1005L1405.7 1005.8L1405.8 1006.5L1405.9 1007.3L1406 1008L1406.2 1008.8L1406.3 1009.5L1406.4 1010.3L1406.6 1011L1406.7 1011.8L1406.9 1012.5L1407 1013.3L1407.2 1014L1407.4 1014.8L1407.6 1015.5L1407.9 1016.3L1408.2 1017L1408.4 1017.8L1408.7 1018.5L1409 1019.3L1409.3 1020L1409.5 1020.8L1409.8 1021.5L1410.1 1022.3L1410.3 1023L1410.6 1023.8L1410.8 1024.5L1411.1 1025.3L1411.3 1026L1411.6 1026.8L1411.8 1027.5L1412 1028.3L1412.2 1029L1412.4 1029.8L1412.6 1030.5L1412.7 1031.3L1412.7 1032L1412.8 1032.8L1412.8 1033.5L1412.9 1034.3L1413 1035L1413 1035.8L1413.1 1036.5L1413.1 1037.3L1413.2 1038L1413.3 1038.8L1413.4 1039.5L1413.5 1040.3L1413.6 1041L1413.8 1041.8L1413.9 1042.5L1414.1 1043.3L1414.3 1044L1414.5 1044.8L1414.7 1045.5L1415 1046.3L1415.2 1047L1415.4 1047.8L1415.6 1048.5L1415.8 1049.3L1416.1 1050L1416.3 1050.8L1416.5 1051.5L1416.8 1052.3L1417 1053L1417.2 1053.8L1417.4 1054.5L1417.6 1055.3L1417.8 1056L1418.1 1056.8L1418.3 1057.5L1418.5 1058.3L1418.8 1059L1419.1 1059.8L1419.3 1060.5L1419.6 1061.3L1419.9 1062L1420.3 1062.8L1420.6 1063.5L1421 1064.3L1421.4 1065L1421.9 1065.8L1422.5 1066.5L1423.1 1067.3L1423.7 1068L1424.4 1068.8L1425.2 1069.5L1426 1070.3L1426.9 1071L1427.8 1071.8L1428.7 1072.5L1429.7 1073.3L1430.8 1074L1432 1074.8L1433.2 1075.5L1434.5 1076.3L1435.9 1077L1437.4 1077.8L1438.9 1078.5L1440.5 1079.3L1442.2 1080L1444 1080.8L1445.7 1081.5L1447.6 1082.3L1449.5 1083L1451.4 1083.8L1453.5 1084.5L1455.6 1085.3L1457.9 1086L1460.3 1086.8L1462.8 1087.5L1465.3 1088.3L1467.7 1089L1470.3 1089.8L1473.1 1090.5L1476.1 1091.3L1478.9 1092L1481.5 1092.8L1483.9 1093.5L1486.3 1094.3L1488.5 1095L1490.5 1095.8L1492.2 1096.5L1493.7 1097.3L1494.9 1098L1495.5 1098.8L1495.3 1099.5L1494.4 1100.3L1492.8 1101L1490.8 1101.8L1488.1 1102.5L1484.6 1103.3L1480.1 1104L1475.1 1104.8L1470.1 1105.5L1465.1 1106.3L1460.1 1107L1455.1 1107.8L1450.1 1108.5L1445.1 1109.3L1440.1 1110L1435.1 1110.8L1430.6 1111.5L1426.6 1112.3L1422.9 1113L1419.3 1113.8L1416.2 1114.5L1413.7 1115.3L1411.5 1116L1409.5 1116.8L1407.8 1117.5L1406.3 1118.3L1405.1 1119L1404.1 1119.8L1403.4 1120.5L1402.8 1121.3L1402.2 1122L1401.8 1122.8L1401.5 1123.5L1401.4 1124L1401.3 1123.5L1401 1122.8L1400.6 1122L1400 1121.3L1399.4 1120.5L1398.7 1119.8L1397.7 1119L1396.5 1118.3L1395 1117.5L1393.3 1116.8L1391.3 1116L1389.1 1115.3L1386.6 1114.5L1383.5 1113.8L1379.9 1113L1376.1 1112.3L1372.2 1111.5L1367.7 1110.8L1362.7 1110L1357.7 1109.3L1352.7 1108.5L1347.7 1107.8L1342.7 1107L1337.7 1106.3L1332.7 1105.5L1327.7 1104.8L1322.7 1104L1318.2 1103.3L1314.6 1102.5L1312 1101.8L1310 1101L1308.4 1100.3L1307.4 1099.5L1307.3 1098.8L1307.9 1098L1309.1 1097.3L1310.6 1096.5L1312.3 1095.8L1314.3 1095L1316.5 1094.3L1318.9 1093.5L1321.3 1092.8L1323.9 1092L1326.7 1091.3L1329.7 1090.5L1332.5 1089.8L1335 1089L1337.5 1088.3L1340 1087.5L1342.5 1086.8L1344.9 1086L1347.2 1085.3L1349.3 1084.5L1351.4 1083.8L1353.3 1083L1355.2 1082.3L1357 1081.5L1358.8 1080.8L1360.6 1080L1362.2 1079.3L1363.8 1078.5L1365.4 1077.8L1366.8 1077L1368.2 1076.3L1369.6 1075.5L1370.8 1074.8L1372 1074L1373 1073.3L1374 1072.5L1375 1071.8L1375.9 1071L1376.8 1070.3L1377.6 1069.5L1378.3 1068.8L1379 1068L1379.7 1067.3L1380.3 1066.5L1380.9 1065.8L1381.3 1065L1381.8 1064.3L1382.2 1063.5L1382.5 1062.8L1382.8 1062L1383.1 1061.3L1383.4 1060.5L1383.7 1059.8L1384 1059L1384.2 1058.3L1384.5 1057.5L1384.7 1056.8L1384.9 1056L1385.1 1055.3L1385.4 1054.5L1385.6 1053.8L1385.8 1053L1386 1052.3L1386.2 1051.5L1386.5 1050.8L1386.7 1050L1386.9 1049.3L1387.2 1048.5L1387.4 1047.8L1387.6 1047L1387.8 1046.3L1388 1045.5L1388.2 1044.8L1388.4 1044L1388.7 1043.3L1388.8 1042.5L1389 1041.8L1389.2 1041L1389.3 1040.3L1389.4 1039.5L1389.5 1038.8L1389.6 1038L1389.6 1037.3L1389.7 1036.5L1389.8 1035.8L1389.8 1035L1389.9 1034.3L1389.9 1033.5L1390 1032.8L1390 1032L1390.1 1031.3L1390.2 1030.5L1390.4 1029.8L1390.6 1029L1390.8 1028.3L1391 1027.5L1391.2 1026.8L1391.5 1026L1391.7 1025.3L1391.9 1024.5L1392.2 1023.8L1392.4 1023L1392.7 1022.3L1393 1021.5L1393.3 1020.8L1393.5 1020L1393.8 1019.3L1394.1 1018.5L1394.3 1017.8L1394.6 1017L1394.9 1016.3L1395.1 1015.5L1395.4 1014.8L1395.6 1014L1395.8 1013.3L1395.9 1012.5L1396.1 1011.8L1396.2 1011L1396.4 1010.3L1396.5 1009.5L1396.6 1008.8L1396.7 1008L1396.8 1007.3L1397 1006.5L1397.1 1005.8L1397.2 1005L1397.3 1004.3L1397.4 1003.5L1397.5 1002.8L1397.5 1002L1397.6 1001.3L1397.7 1000.5L1397.8 999.8L1397.9 999L1398 998.3L1398 997.5L1398.1 996.8L1398.2 996L1398.3 995.3L1398.3 994.5L1398.4 993.8L1398.5 993L1398.5 992.3L1398.6 991.5L1398.7 990.8L1398.7 990L1398.8 989.3L1398.9 988.5L1398.9 987.8L1399 987L1399.1 986.3L1399.1 985.5L1399.2 984.8L1399.2 984L1399.3 983.3L1399.4 982.5L1399.4 981.8L1399.5 981L1399.5 980.3L1399.6 979.5L1399.6 978.8L1399.7 978L1399.7 977.3L1399.8 976.5L1399.8 975.8L1399.9 975L1399.9 974.3L1400 973.5L1400 972.8L1400 972L1400.1 971.3L1400.1 970.5L1400.2 969.8L1400.2 969L1400.2 968.3L1400.3 967.5L1400.3 966.8L1400.4 966L1400.4 965.3L1400.4 964.5L1400.5 963.8L1400.5 963L1400.6 962.3L1400.6 961.5L1400.6 960.8L1400.7 960L1400.7 959.3L1400.7 958.5L1400.7 957.8L1400.7 957L1400.7 956.3L1400.7 955.5L1400.7 954.8L1400.7 954L1400.7 953.3L1400.7 952.5L1400.7 951.8L1400.6 951L1400.6 950.3L1400.6 949.5L1400.6 948.8L1400.6 948L1400.5 947.3L1400.5 946.5L1400.5 945.8L1400.5 945L1400.4 944.3L1400.4 943.5L1400.4 942.8L1400.4 942L1400.4 941.3L1400.3 940.5L1400.3 939.8L1400.3 939L1400.3 938.3L1400.3 937.5L1400.3 936.8L1400.3 936L1400.3 935.3L1400.3 934.5L1400.3 933.8L1400.3 933L1400.3 932.3L1400.3 931.5L1400.4 930.8L1400.4 930L1400.4 929.3L1400.5 928.5L1400.5 927.8L1400.6 927L1400.6 926.3L1400.6 925.5L1400.7 924.8L1400.7 924L1400.7 923.3L1400.7 922.5L1400.7 921.8L1400.7 921L1400.7 920.3L1400.7 919.5L1400.7 918.8L1400.7 918L1400.6 917.3L1400.6 916.5L1400.6 915.8L1400.6 915L1400.6 914.3L1400.5 913.5L1400.5 912.8L1400.5 912L1400.5 911.3L1400.5 910.5L1400.4 909.8L1400.4 909L1400.4 908.3L1400.4 907.5L1400.3 906.8L1400.3 906L1400.3 905.3L1400.3 904.5L1400.3 903.8L1400.3 903L1400.3 902.3L1400.3 901.5L1400.3 900.8L1400.3 900L1400.3 899.3L1400.3 898.5L1400.3 897.8L1400.3 897L1400.3 896.3L1400.3 895.5L1400.3 894.8L1400.3 894L1400.3 893.3L1400.3 892.5L1400.3 891.8L1400.3 891L1400.4 890.3L1400.4 889.5L1400.4 888.8L1400.4 888L1400.4 887.3L1400.4 886.5L1400.4 885.8L1400.5 885L1400.5 884.3L1400.5 883.5L1400.5 882.8L1400.5 882L1400.6 881.3L1400.6 880.5L1400.6 879.8L1400.6 879L1400.6 878.3L1400.7 877.5L1400.7 876.8L1400.7 876L1400.7 875.3L1400.7 874.5L1400.8 873.8L1400.8 873L1400.8 872.3L1400.8 871.5L1400.8 870.8L1400.8 870L1400.9 869.3L1400.9 868.5L1400.9 867.8L1400.9 867L1400.9 866.3L1400.9 865.5L1401 864.8L1401 864L1401 863.3L1401 862.5L1401 861.8L1401 861L1401 860.3L1401 859.5L1401 858.8L1401 858L1401 857.3L1401 856.5L1401 855.8L1401 855L1401 854.3L1401 853.5L1401 852.8L1401 852L1401 851.3L1401 850.5L1401 849.8L1401 849L1401 848.3L1401 847.5L1401 846.8L1401 846L1401 845.3L1401 844.5L1401 843.8L1401 843L1400.9 842.3L1400.9 841.5L1400.9 840.8L1400.9 840L1400.9 839.3L1400.9 838.5L1400.9 837.8L1400.9 837L1400.9 836.3L1400.8 835.5L1400.8 834.8L1400.8 834L1400.8 833.3L1400.8 832.5L1400.8 831.8L1400.8 831L1400.8 830.3L1400.8 829.5L1400.8 828.8L1400.7 828L1400.7 827.3L1400.7 826.5L1400.7 825.8L1400.7 825L1400.7 824.3L1400.7 823.5L1400.7 822.8L1400.7 822L1400.7 821.3L1400.7 820.5L1400.7 819.8L1400.7 819L1400.7 818.3L1400.7 817.5L1400.7 816.8L1400.8 816L1400.8 815.3L1400.8 814.5L1400.8 813.8L1400.8 813L1400.9 812.3L1400.9 811.5L1400.9 810.8L1400.9 810L1400.9 809.3L1401 808.5L1401 807.8L1401 807L1401 806.3L1401 805.5L1401.1 804.8L1401.1 804L1401.1 803.3L1401.1 802.5L1401.1 801.8L1401.1 801L1401.1 800.3L1401.2 799.5L1401.2 798.8L1401.2 798L1401.2 797.3L1401.2 796.5L1401.2 795.8L1401.2 795L1401.2 794.3L1401.2 793.5L1401.2 792.8L1401.2 792L1401.2 791.3L1401.2 790.5L1401.2 789.8L1401.2 789L1401.2 788.3L1401.2 787.5L1401.2 786.8L1401.2 786L1401.2 785.3L1401.2 784.5L1401.2 783.8L1401.2 783L1401.2 782.3L1401.2 781.5L1401.2 780.8L1401.2 780L1401.2 779.3L1401.2 778.5L1401.2 777.8L1401.2 777L1401.2 776.3L1401.2 775.5L1401.2 774.8L1401.2 774L1401.2 773.3L1401.2 772.5L1401.2 771.8L1401.2 771L1401.3 770.3L1401.3 769.5L1401.3 768.8L1401.3 768L1401.3 767.3L1401.3 766.5L1401.3 765.8L1401.3 765L1401.3 764.3L1401.3 763.5L1401.3 762.8L1401.3 762L1401.3 761.3L1401.3 760.5L1401.3 759.8L1401.3 759L1401.3 758.3L1401.3 757.5L1401.3 756.8L1401.3 756L1401.3 755.3L1401.3 754.5L1401.3 753.8L1401.3 753L1401.3 752.3L1401.3 751.5L1401.3 750.8L1401.3 750L1401.3 749.3L1401.3 748.5L1401.3 747.8L1401.3 747L1401.3 746.3L1401.3 745.5L1401.3 744.8L1401.3 744L1401.3 743.3L1401.3 742.5L1401.3 741.8L1401.3 741L1401.3 740.3L1401.3 739.5L1401.3 738.8L1401.3 738L1401.3 737.3L1401.3 736.5L1401.3 735.8L1401.3 735L1401.3 734.3L1401.3 733.5L1401.3 732.8L1401.3 732L1401.3 731.3L1401.3 730.5L1401.3 729.8L1401.3 729L1401.3 728.3L1401.3 727.5L1401.3 726.8L1401.3 726L1401.3 725.3L1401.3 724.5L1401.3 723.8L1401.3 723L1401.3 722.3L1401.3 721.5L1401.3 720.8L1401.3 720L1401.4 719.3L1401.4 718.5L1401.4 717.8L1401.4 717L1401.4 716.3L1401.4 715.5L1401.4 714.8L1401.4 714L1401.4 713.3L1401.4 712.5L1401.4 711.8L1401.4 711L1401.4 710.3L1401.4 709.5L1401.4 708.8L1401.4 708L1401.4 707.3L1401.4 706.5L1401.4 705.8L1401.4 705L1401.4 704.3L1401.4 703.5L1401.4 702.8L1401.4 702L1401.4 701.3L1401.4 700.5L1401.4 699.8L1401.4 699L1401.4 698.3L1401.4 697.5L1401.4 696.8L1401.4 696L1401.4 695.3L1401.4 694.5L1401.4 693.8L1401.4 693L1401.4 692.3L1401.4 691.5L1401.4 690.8L1401.4 690L1401.4 689.3L1401.4 688.5L1401.4 687.8L1401.4 687L1401.4 686.3L1401.4 685.5L1401.4 684.8L1401.4 684L1401.4 683.3L1401.4 682.5L1401.4 681.8L1401.4 681L1401.4 680.3L1401.4 679.5L1401.4 678.8L1401.4 678L1401.4 677.3L1401.4 676.5L1401.4 675.8L1401.4 675L1401.4 674.3L1401.4 673.5L1401.4 672.8L1401.4 672L1401.4 671.3L1401.4 670.5L1401.4 669.8L1401.4 669L1401.4 668.3L1401.4 667.5L1401.4 666.8L1401.4 666L1401.4 665.3L1401.4 664.5L1401.4 663.8L1401.4 663L1401.4 662.3L1401.4 661.5L1401.4 660.8L1401.4 660L1401.4 659.3L1401.4 658.5L1401.4 657.8L1401.4 657L1401.4 656.3Z" fill="#DE756E" stroke="#333333" stroke-width="1.7" stroke-linejoin="round"/>
<g fill="none" stroke="#333333" stroke-width="1.5" opacity="0.75">
<path d="M1401.4 1021.3V1068.9M1401.4 1101.7V1103.9"/>
<rect x="1390" y="1068.9" width="22.8" height="32.8"/>
<path d="M1390 1094.9H1412.8" stroke-width="2.4"/>
</g>
<path d="M1384.1 1101.8h0M1400.1 1103.6h0M1430.7 1103.7h0M1401.7 1065.2h0M1379.5 1102.3h0M1426.9 1065.3h0M1414.8 1096.2h0M1410.4 1102.4h0M1389.6 1103.2h0M1380.2 1103.1h0M1388.9 1028.4h0M1428.3 1096.3h0M1384.7 1104h0M1415.3 1076.2h0M1407.8 1085.7h0M1411.2 1101.7h0M1372.9 1103.8h0M1434.1 1103.3h0M1371.3 1095.3h0M1435.8 1050h0M1436 1096.7h0M1433.3 1048.7h0M1391.1 1100.1h0M1432.9 1101.3h0M1414.8 1093.2h0M1408.8 1099.2h0M1406.8 1104.1h0M1379 1091.5h0M1382 1103.1h0M1368.9 1060.7h0M1385.2 1051h0M1365.4 1061.1h0M1368.6 1097.9h0M1411.6 1079.2h0M1398 1032.5h0M1394.6 1101.5h0M1389.3 1102.4h0M1434.5 1103.4h0M1382.8 1064.4h0M1408.3 1104.1h0M1427.9 1098h0M1419.6 1102.5h0M1374.2 1021.4h0M1375.6 1062.4h0M1377.8 1101.7h0M1379.3 1052.9h0M1402.2 1095.6h0M1435.8 1068.1h0M1432.1 1104.2h0M1406.6 1084.8h0M1420.5 1068.8h0M1378.8 1062.5h0M1369.6 1101.5h0M1414.6 1074.2h0M1378.7 1093.4h0M1370.5 1102.9h0M1426.8 1023.9h0M1406.2 1084h0M1391.1 1103.6h0M1391.9 1102.1h0M1423.9 1096.7h0M1391.4 1067.2h0M1417.8 1103.2h0M1432.4 1099.3h0M1366 1074.6h0M1412.7 1054.7h0M1376.5 1058h0M1366.3 1058h0M1401.4 1077h0M1386.1 1069.6h0M1416 1079.4h0M1382 1103.2h0M1412.9 1102.7h0M1392.6 1094.9h0M1398.4 1029.1h0M1377.2 1068h0M1395.1 1064.6h0M1408.8 1052h0M1402.8 1055.3h0M1427.2 1085.1h0M1373.6 1099.5h0M1373.2 1102.2h0M1423.6 1103h0M1365.9 1068.6h0M1373.8 1097.8h0M1372.2 1069.3h0M1371.5 1086.5h0M1397.3 1086.3h0M1369.4 1102.1h0M1379 1102.8h0M1396.3 1082.2h0M1398.9 1103.9h0M1414.6 1102.9h0M1436.9 1100.6h0M1380.5 1097.8h0M1420.6 1037.7h0M1434.4 1104.2h0M1368.3 1102.3h0M1380.8 1074.3h0M1415.6 1104.2h0M1397.4 1102.1h0M1390.5 1068.5h0M1384.4 1101.8h0M1422.4 1087.7h0M1426.2 1061.3h0M1383.2 1060.2h0M1422 1063.3h0M1373.7 1093.3h0M1403.4 1081.4h0M1417.3 1101.1h0M1367.6 1103.3h0M1421.7 1092.2h0M1403.6 1047.7h0M1408.6 1100.1h0M1371.3 1068.1h0M1430.5 1094.6h0M1422 1035.3h0M1430 1087.6h0M1376.9 1096.1h0M1423 1029h0M1400.6 1104.3h0M1408.2 1091.6h0M1368.3 1093.1h0M1380.1 1066.5h0M1412.7 1103.7h0M1404.8 1090.8h0M1370.7 1066.6h0M1404.4 1096h0M1392.5 1072h0M1404.5 1096.2h0M1434.5 1031h0M1383.8 1082.6h0M1396.9 1100.8h0M1411.4 1092.2h0M1427.9 1103.4h0M1434.9 1101.3h0M1417.2 1103.4h0M1365.5 1060.9h0M1401.4 1099.6h0M1423.7 1103.3h0M1377 1101.9h0M1402.3 1104.3h0M1416.4 1080.8h0M1422.1 1096.1h0M1390.5 1095.9h0M1367.7 1064.3h0M1371.4 1099h0M1384.2 1096.3h0M1396.5 1096h0M1397.5 1063.6h0M1433.1 1098.2h0M1383.4 1068h0M1431.7 1095.5h0M1374.8 1041.4h0M1419.4 1102.2h0M1393.5 1099.9h0M1385.7 1104.4h0M1385.6 1100h0M1408.6 1050.7h0M1373.8 1103.4h0M1377.3 1092h0M1383.6 1098.9h0M1405.9 1103h0M1373.1 1101.3h0M1431.6 1030.9h0M1390.3 1074.1h0M1392 1039.2h0M1378.3 1103.9h0M1396.7 1024.3h0M1428.1 1067.5h0M1423.7 1084.8h0M1378.2 1103h0M1368.6 1065.4h0M1425.5 1099.3h0M1407.5 1101.9h0M1398 1077.7h0M1373.9 1104.1h0M1390.5 1029.2h0M1410.4 1103.6h0M1375.8 1099h0M1412.3 1049.4h0M1395.3 1068.6h0M1380.9 1104.3h0M1417.4 1100.5h0M1396.6 1097.5h0M1413.8 1057.1h0M1399.3 1046.7h0M1410.2 1064.3h0M1437.3 1084.3h0M1393.6 1068.4h0M1384.6 1029.5h0M1435.5 1085.3h0M1409.8 1086.1h0M1380.9 1102.1h0M1410 1104.2h0M1365.5 1054.8h0M1434.5 1075.8h0M1409.3 1061.3h0M1432.6 1069.4h0M1413.8 1101.8h0M1382 1054.8h0M1392.7 1034.5h0M1420.4 1047.3h0M1396.5 1099.1h0M1377.3 1081.3h0M1390.3 1094.6h0M1434.2 1098.8h0M1417.1 1086.1h0M1407.1 1068.7h0M1387.8 1056.5h0M1389.7 1101.9h0M1377.3 1043.8h0M1407.9 1101.1h0M1385.7 1098.8h0M1400 1102.7h0M1367.6 1098.3h0M1385.1 1068.9h0M1392.4 1095.7h0M1368.1 1084.1h0M1393.1 1086.7h0M1367.2 1095.1h0M1404.1 1044.6h0M1419.7 1029.6h0M1433.5 1092.2h0M1378.7 1062.2h0M1419.6 1100.8h0M1434 1097.8h0M1382.7 1100.9h0M1424.4 1096.7h0M1413.5 1098.4h0M1407.8 1104h0M1431.5 1093.7h0M1401.2 1102.3h0M1427.5 1102.8h0M1405.3 1103.5h0M1399.7 1099.6h0M1412.3 1098h0M1437.3 1100.8h0M1425.8 1079.2h0M1388.6 1103.2h0M1375 1064.2h0M1378.3 1061.7h0M1421.4 1092.7h0M1417.5 1031.9h0M1375.4 1102.3h0M1378.3 1100.5h0M1417.8 1102.9h0M1395.3 1104.2h0M1392.8 1058.8h0M1377.1 1104.2h0M1417.3 1100.3h0M1377.9 1068.7h0M1427.6 1097.7h0M1413.8 1103h0M1415.5 1076.6h0M1378.6 1065.1h0M1422.9 1085.4h0M1411.1 1097.5h0M1366.3 1097.5h0M1410.4 1100h0M1367.7 1081h0M1381.1 1099.2h0M1427.8 1041.1h0M1394.6 1024.6h0M1385.1 1097.3h0M1430.4 1031.1h0M1416.8 1096.8h0M1389.5 1047.8h0M1421.1 1103.4h0M1394.7 1097h0M1404.1 1101.9h0M1433.8 1103.1h0M1388.4 1103.9h0M1374.6 1096.7h0M1432.9 1102.9h0M1430.3 1104h0M1379.2 1058.2h0M1378.3 1090.5h0M1427.6 1089.5h0M1433.9 1096.3h0M1421.9 1099.7h0M1368 1088.1h0M1374.9 1041.2h0M1390.9 1061.9h0M1391.7 1102.4h0M1405.9 1091.9h0M1422.8 1103.9h0M1418.3 1102.9h0M1429.2 1102.5h0M1389.1 1097.8h0M1390.9 1104.4h0M1400.2 1097.1h0M1435 1103.2h0M1378.6 1052.7h0M1405.6 1085.2h0M1404 1095.7h0M1395.2 1077h0M1376.8 1068.6h0M1435.8 1095.9h0M1423.2 1102.3h0M1389.9 1058h0M1390.7 1098.6h0M1378.7 1073.7h0M1404.3 1085.6h0M1368.8 1068.8h0M1374.7 1087.1h0M1368.1 1081.8h0M1420.6 1071.7h0M1404.2 1103.1h0M1409.9 1101.4h0M1366.4 1069.5h0M1420.3 1080.8h0M1419.7 1026.1h0M1366.4 1093.4h0M1374 1096h0M1387.1 1103.2h0M1406.5 1059h0M1417.3 1102.1h0M1424.8 1084.9h0M1405.3 1068.8h0M1434.2 1095.7h0M1416.5 1103.2h0M1399.7 1076.4h0M1391.7 1099.6h0M1386.3 1070h0M1367.1 1075.3h0M1393.8 1049.1h0M1390.5 1086h0M1369.8 1073.8h0M1384 1099.2h0M1394.6 1090.3h0M1394.4 1104.2h0M1374 1103.3h0M1373.1 1088h0M1422.5 1101.2h0M1399.5 1048.7h0M1400.5 1102.4h0M1386.2 1101h0M1434.9 1075.3h0M1390.7 1094.3h0M1378.2 1102.2h0M1420.1 1037.5h0M1428.4 1029.3h0M1376.7 1070.2h0M1430 1097.7h0M1368.6 1075.5h0M1396.4 1072.2h0M1371.4 1039.7h0M1414.8 1103.8h0M1378.6 1096.8h0M1416.1 1046.3h0M1371.5 1023.7h0M1384.2 1104.1h0M1377.4 1102.8h0M1406.8 1075.9h0M1409.4 1059.8h0M1365.6 1076.9h0M1391.1 1094.2h0M1391.6 1092.9h0M1387.6 1048.8h0M1388.6 1102.6h0M1409.8 1033.7h0M1408.6 1101.1h0M1374.4 1104h0M1387.6 1103.6h0M1434.5 1037.1h0M1396.7 1068.3h0M1388.5 1074.8h0M1418.6 1024.8h0M1394.6 1101.8h0M1409.9 1102.6h0M1402 1101.9h0M1433 1084.8h0M1373 1097.5h0M1393.3 1043.3h0M1373 1055.3h0M1422.8 1029.5h0M1375.5 1097.8h0M1368.1 1075.1h0M1412.8 1100.4h0M1396.3 1062h0M1370.3 1095.3h0M1380.2 1031.3h0M1383.6 1055.5h0M1436.8 1093.5h0M1377.7 1082.8h0M1404.2 1078.7h0M1392.3 1103.3h0M1415.1 1079h0M1388.4 1104.2h0M1435.3 815.4h0M1413.6 830.1h0M1418.4 896.9h0M1399.1 904.8h0M1392.1 933.8h0M1410.2 935.3h0M1422.9 951.2h0M1374 961.4h0M1414.3 974.9h0M1431.3 979h0M1375.8 985.1h0M1381.5 984.4h0M1426.7 991.5h0M1373.1 999.4h0M1387.6 999.8h0M1366.8 1011.2h0M1388.3 1011.2h0M1371.7 1016.8h0M1431.3 1014.5h0M1397.8 1010.5h0M1403.6 1013.4h0M1388.9 1016.1h0" fill="none" stroke="#000" stroke-width="3.15" stroke-linecap="round"/>
<path d="M1631.2 895.3L1631.3 896L1631.3 896.8L1631.4 897.5L1631.4 898.3L1631.5 899L1631.5 899.8L1631.5 900.5L1631.6 901.3L1631.6 902L1631.7 902.8L1631.7 903.5L1631.8 904.3L1631.8 905L1631.8 905.8L1631.9 906.5L1631.9 907.3L1632 908L1632 908.8L1632.1 909.5L1632.1 910.3L1632.2 911L1632.2 911.8L1632.3 912.5L1632.3 913.3L1632.3 914L1632.3 914.8L1632.4 915.5L1632.4 916.3L1632.4 917L1632.3 917.8L1632.3 918.5L1632.3 919.3L1632.2 920L1632.2 920.8L1632.2 921.5L1632.1 922.3L1632.1 923L1632 923.8L1632 924.5L1632 925.3L1631.9 926L1631.9 926.8L1631.9 927.5L1631.9 928.3L1631.9 929L1631.9 929.8L1631.9 930.5L1631.9 931.3L1631.9 932L1632 932.8L1632 933.5L1632 934.3L1632 935L1632 935.8L1632 936.5L1632 937.3L1632.1 938L1632.1 938.8L1632.1 939.5L1632.1 940.3L1632.1 941L1632.2 941.8L1632.2 942.5L1632.2 943.3L1632.2 944L1632.3 944.8L1632.3 945.5L1632.4 946.3L1632.4 947L1632.4 947.8L1632.5 948.5L1632.5 949.3L1632.6 950L1632.6 950.8L1632.7 951.5L1632.7 952.3L1632.8 953L1632.8 953.8L1632.9 954.5L1632.9 955.3L1633 956L1633 956.8L1633.1 957.5L1633.1 958.3L1633.2 959L1633.3 959.8L1633.3 960.5L1633.4 961.3L1633.4 962L1633.5 962.8L1633.6 963.5L1633.6 964.3L1633.7 965L1633.7 965.8L1633.8 966.5L1633.9 967.3L1633.9 968L1634 968.8L1634.1 969.5L1634.2 970.3L1634.3 971L1634.4 971.8L1634.5 972.5L1634.6 973.3L1634.7 974L1634.8 974.8L1634.8 975.5L1634.9 976.3L1635 977L1635 977.8L1635.1 978.5L1635.1 979.3L1635.1 980L1635.1 980.8L1635.1 981.5L1635.1 982.3L1635.1 983L1635.1 983.8L1635.1 984.5L1635.1 985.3L1635.1 986L1635.1 986.8L1635 987.5L1635 988.3L1634.9 989L1634.9 989.8L1634.8 990.5L1634.7 991.3L1634.7 992L1634.6 992.8L1634.6 993.5L1634.6 994.3L1634.6 995L1634.5 995.8L1634.5 996.5L1634.5 997.3L1634.5 998L1634.4 998.8L1634.4 999.5L1634.4 1000.3L1634.4 1001L1634.4 1001.8L1634.4 1002.5L1634.4 1003.3L1634.4 1004L1634.4 1004.8L1634.4 1005.5L1634.4 1006.3L1634.5 1007L1634.5 1007.8L1634.5 1008.5L1634.5 1009.3L1634.5 1010L1634.6 1010.8L1634.6 1011.5L1634.6 1012.3L1634.6 1013L1634.6 1013.8L1634.7 1014.5L1634.7 1015.3L1634.7 1016L1634.7 1016.8L1634.7 1017.5L1634.8 1018.3L1634.8 1019L1634.8 1019.8L1634.9 1020.5L1634.9 1021.3L1634.9 1022L1635 1022.8L1635 1023.5L1635.1 1024.3L1635.1 1025L1635.2 1025.8L1635.2 1026.5L1635.3 1027.3L1635.4 1028L1635.6 1028.8L1635.7 1029.5L1635.9 1030.3L1636.1 1031L1636.4 1031.8L1636.9 1032.5L1637.4 1033.3L1637.8 1034L1638.1 1034.8L1638.3 1035.5L1638.5 1036.3L1638.7 1037L1638.8 1037.8L1639 1038.5L1639.2 1039.3L1639.4 1040L1639.6 1040.8L1639.8 1041.5L1640.1 1042.3L1640.3 1043L1640.5 1043.8L1640.8 1044.5L1641 1045.3L1641.2 1046L1641.4 1046.8L1641.6 1047.5L1641.9 1048.3L1642.1 1049L1642.3 1049.8L1642.5 1050.5L1642.7 1051.3L1643 1052L1643.3 1052.8L1643.5 1053.5L1643.8 1054.3L1644.1 1055L1644.4 1055.8L1644.7 1056.5L1645.1 1057.3L1645.5 1058L1646 1058.8L1646.7 1059.5L1647.5 1060.3L1648.4 1061L1649.3 1061.8L1650.3 1062.5L1651.2 1063.3L1652.2 1064L1653.1 1064.8L1654.1 1065.5L1655.1 1066.3L1656 1067L1656.9 1067.8L1657.8 1068.5L1658.5 1069.3L1659.2 1070L1659.9 1070.8L1660.5 1071.5L1661.1 1072.3L1661.8 1073L1662.4 1073.8L1663.1 1074.5L1663.9 1075.3L1664.7 1076L1665.6 1076.8L1666.6 1077.5L1667.6 1078.3L1668.7 1079L1669.9 1079.8L1671.2 1080.5L1672.6 1081.3L1674 1082L1675.7 1082.8L1677.5 1083.5L1679.5 1084.3L1681.9 1085L1684.4 1085.8L1686.9 1086.5L1689.7 1087.3L1692.8 1088L1696.1 1088.8L1699.6 1089.5L1703 1090.3L1706.3 1091L1709.6 1091.8L1712.7 1092.5L1715.7 1093.3L1718.7 1094L1721.7 1094.8L1724.6 1095.5L1727.3 1096.3L1729.7 1097L1731.7 1097.8L1733.4 1098.5L1734.6 1099.3L1735.1 1100L1734.4 1100.8L1732.8 1101.5L1730.3 1102.3L1727 1103L1722.7 1103.8L1717.8 1104.5L1712.7 1105.3L1707.5 1106L1702 1106.8L1696.3 1107.5L1690.4 1108.3L1684.2 1109L1678.1 1109.8L1672.2 1110.5L1666.3 1111.3L1660.4 1112L1654.9 1112.8L1650.2 1113.5L1646.4 1114.3L1643.4 1115L1640.9 1115.8L1639 1116.5L1637.4 1117.3L1636 1118L1634.9 1118.8L1634 1119.5L1633.3 1120.3L1632.6 1121L1632.1 1121.8L1631.6 1122.5L1631.3 1123.3L1631.2 1123.6L1631.2 1123.3L1630.9 1122.5L1630.4 1121.8L1629.8 1121L1629.2 1120.3L1628.5 1119.5L1627.6 1118.8L1626.4 1118L1625.1 1117.3L1623.5 1116.5L1621.5 1115.8L1619.1 1115L1616.1 1114.3L1612.2 1113.5L1607.5 1112.8L1602.1 1112L1596.1 1111.3L1590.3 1110.5L1584.4 1109.8L1578.3 1109L1572.1 1108.3L1566.2 1107.5L1560.5 1106.8L1555 1106L1549.7 1105.3L1544.7 1104.5L1539.8 1103.8L1535.5 1103L1532.1 1102.3L1529.7 1101.5L1528 1100.8L1527.4 1100L1527.8 1099.3L1529.1 1098.5L1530.8 1097.8L1532.8 1097L1535.2 1096.3L1537.9 1095.5L1540.8 1094.8L1543.8 1094L1546.8 1093.3L1549.8 1092.5L1552.9 1091.8L1556.2 1091L1559.5 1090.3L1562.9 1089.5L1566.3 1088.8L1569.7 1088L1572.8 1087.3L1575.5 1086.5L1578.1 1085.8L1580.6 1085L1582.9 1084.3L1585 1083.5L1586.8 1082.8L1588.4 1082L1589.9 1081.3L1591.3 1080.5L1592.5 1079.8L1593.7 1079L1594.8 1078.3L1595.9 1077.5L1596.9 1076.8L1597.8 1076L1598.6 1075.3L1599.4 1074.5L1600.1 1073.8L1600.7 1073L1601.3 1072.3L1601.9 1071.5L1602.6 1070.8L1603.2 1070L1603.9 1069.3L1604.7 1068.5L1605.5 1067.8L1606.4 1067L1607.4 1066.3L1608.4 1065.5L1609.3 1064.8L1610.3 1064L1611.2 1063.3L1612.2 1062.5L1613.1 1061.8L1614.1 1061L1615 1060.3L1615.8 1059.5L1616.4 1058.8L1616.9 1058L1617.4 1057.3L1617.7 1056.5L1618.1 1055.8L1618.4 1055L1618.7 1054.3L1618.9 1053.5L1619.2 1052.8L1619.5 1052L1619.7 1051.3L1620 1050.5L1620.2 1049.8L1620.4 1049L1620.6 1048.3L1620.8 1047.5L1621 1046.8L1621.3 1046L1621.5 1045.3L1621.7 1044.5L1621.9 1043.8L1622.2 1043L1622.4 1042.3L1622.6 1041.5L1622.8 1040.8L1623.1 1040L1623.3 1039.3L1623.5 1038.5L1623.6 1037.8L1623.8 1037L1623.9 1036.3L1624.1 1035.5L1624.3 1034.8L1624.6 1034L1625.1 1033.3L1625.6 1032.5L1626.1 1031.8L1626.4 1031L1626.6 1030.3L1626.7 1029.5L1626.9 1028.8L1627 1028L1627.1 1027.3L1627.2 1026.5L1627.3 1025.8L1627.4 1025L1627.4 1024.3L1627.5 1023.5L1627.5 1022.8L1627.5 1022L1627.6 1021.3L1627.6 1020.5L1627.6 1019.8L1627.7 1019L1627.7 1018.3L1627.7 1017.5L1627.7 1016.8L1627.8 1016L1627.8 1015.3L1627.8 1014.5L1627.8 1013.8L1627.8 1013L1627.9 1012.3L1627.9 1011.5L1627.9 1010.8L1627.9 1010L1628 1009.3L1628 1008.5L1628 1007.8L1628 1007L1628 1006.3L1628 1005.5L1628 1004.8L1628.1 1004L1628.1 1003.3L1628.1 1002.5L1628.1 1001.8L1628.1 1001L1628.1 1000.3L1628 999.5L1628 998.8L1628 998L1628 997.3L1628 996.5L1627.9 995.8L1627.9 995L1627.9 994.3L1627.9 993.5L1627.8 992.8L1627.8 992L1627.7 991.3L1627.7 990.5L1627.6 989.8L1627.5 989L1627.5 988.3L1627.4 987.5L1627.4 986.8L1627.4 986L1627.4 985.3L1627.4 984.5L1627.4 983.8L1627.4 983L1627.4 982.3L1627.4 981.5L1627.4 980.8L1627.4 980L1627.4 979.3L1627.4 978.5L1627.4 977.8L1627.5 977L1627.6 976.3L1627.6 975.5L1627.7 974.8L1627.8 974L1627.9 973.3L1628 972.5L1628.1 971.8L1628.2 971L1628.3 970.3L1628.4 969.5L1628.5 968.8L1628.5 968L1628.6 967.3L1628.7 966.5L1628.7 965.8L1628.8 965L1628.9 964.3L1628.9 963.5L1629 962.8L1629 962L1629.1 961.3L1629.2 960.5L1629.2 959.8L1629.3 959L1629.3 958.3L1629.4 957.5L1629.4 956.8L1629.5 956L1629.5 955.3L1629.6 954.5L1629.6 953.8L1629.7 953L1629.7 952.3L1629.8 951.5L1629.8 950.8L1629.9 950L1629.9 949.3L1630 948.5L1630 947.8L1630.1 947L1630.1 946.3L1630.2 945.5L1630.2 944.8L1630.2 944L1630.3 943.3L1630.3 942.5L1630.3 941.8L1630.3 941L1630.3 940.3L1630.4 939.5L1630.4 938.8L1630.4 938L1630.4 937.3L1630.4 936.5L1630.5 935.8L1630.5 935L1630.5 934.3L1630.5 933.5L1630.5 932.8L1630.5 932L1630.5 931.3L1630.5 930.5L1630.5 929.8L1630.6 929L1630.6 928.3L1630.6 927.5L1630.6 926.8L1630.5 926L1630.5 925.3L1630.5 924.5L1630.4 923.8L1630.4 923L1630.4 922.3L1630.3 921.5L1630.3 920.8L1630.2 920L1630.2 919.3L1630.2 918.5L1630.1 917.8L1630.1 917L1630.1 916.3L1630.1 915.5L1630.1 914.8L1630.1 914L1630.2 913.3L1630.2 912.5L1630.3 911.8L1630.3 911L1630.4 910.3L1630.4 909.5L1630.5 908.8L1630.5 908L1630.5 907.3L1630.6 906.5L1630.6 905.8L1630.7 905L1630.7 904.3L1630.7 903.5L1630.8 902.8L1630.8 902L1630.9 901.3L1630.9 900.5L1631 899.8L1631 899L1631.1 898.3L1631.1 897.5L1631.1 896.8L1631.2 896L1631.2 895.3Z" fill="#6CC0C6" stroke="#333333" stroke-width="1.7" stroke-linejoin="round"/>
<g fill="none" stroke="#333333" stroke-width="1.5" opacity="0.75">
<path d="M1631.2 1032.7V1072.7M1631.2 1101.7V1103.9"/>
<rect x="1619.8" y="1072.7" width="22.8" height="29"/>
<path d="M1619.8 1094.4H1642.6" stroke-width="2.4"/>
</g>
<path d="M1627.9 1102.7h0M1616.9 1083h0M1632 1059.6h0M1609.7 1094.4h0M1623.5 1058.2h0M1600.2 1094.7h0M1610.4 1064.3h0M1654.2 1101.6h0M1648.9 1069.1h0M1625.3 1036.2h0M1666.9 1075.3h0M1606.5 1085.2h0M1660.1 1100.8h0M1610 1093.3h0M1641.5 1101.7h0M1641.2 1104.2h0M1605.7 1060.8h0M1650.6 1103.3h0M1606 1102.3h0M1633.3 1072.2h0M1649.5 1098.1h0M1652.1 1076.1h0M1635.2 1098.7h0M1666.1 1102.3h0M1644.3 1097.7h0M1613.1 1091.3h0M1652.3 1102.3h0M1648.7 1068.9h0M1643.9 1102.7h0M1614.4 1103.6h0M1617.3 1101.7h0M1640.7 1088.6h0M1654.1 1099.4h0M1648.9 1103.1h0M1625.7 1087.4h0M1657.8 1096.8h0M1640.2 1102.8h0M1602.7 1098.7h0M1642.4 1091.6h0M1625.1 1104h0M1664.1 1068.5h0M1628.3 1073.6h0M1616.5 1061.1h0M1639.7 1062h0M1614.7 1053.7h0M1621.5 1065h0M1603 1097h0M1628.7 1033.7h0M1616.7 1102.9h0M1647.9 1099.1h0M1616.1 1103h0M1633 1060.2h0M1612.1 1089.2h0M1645.3 1070.3h0M1606.5 1102.5h0M1638.7 1084.7h0M1647.6 1068.8h0M1659.7 1102.3h0M1666.9 1074.8h0M1647.1 1102.8h0M1656.4 1101.3h0M1624.5 1102.9h0M1633.2 1102.6h0M1623 1077.3h0M1663.6 1071.1h0M1661.6 1076.1h0M1636.7 1083.2h0M1614.3 1098.5h0M1632.3 1072.7h0M1652.4 1070.5h0M1601.8 1103.6h0M1653.1 1037.4h0M1652.2 1087.2h0M1656.1 1083.7h0M1657 1102.7h0M1637.2 1047.4h0M1615.2 1070.9h0M1663 1100.8h0M1638.1 1102.6h0M1626.8 1070.8h0M1665 1074.1h0M1602.9 1087.2h0M1616.1 1048.8h0M1653 1103.8h0M1599.5 1067.8h0M1610.3 1038.1h0M1655.5 1100.4h0M1643.1 1098.6h0M1599.9 1101.9h0M1659.2 1103.8h0M1639.4 1097.2h0M1652.9 1091.6h0M1600.5 1103.8h0M1634.4 1103.7h0M1627.6 1095h0M1637.7 1071.9h0M1659 1059.9h0M1655.6 1091.4h0M1629.9 1069.8h0M1629.2 1093.7h0M1654.6 1103.7h0M1634.1 1072.6h0M1601.5 1100.7h0M1613.9 1066.4h0M1618.6 1052.5h0M1641.5 1069.8h0M1621.5 1100.2h0M1652.5 1043.5h0M1611 1102.3h0M1606.3 1081.7h0M1663.2 1099.1h0M1646.3 1099.8h0M1647 1095.8h0M1632.4 1081.7h0M1623.6 1071.7h0M1612 1104.3h0M1596.5 1093.8h0M1609.3 1067.7h0M1639.4 1081.3h0M1653.6 1099.4h0M1638.3 1073.7h0M1598.7 1098.7h0M1661.7 1094.7h0M1614.8 1095.7h0M1665.8 1099.8h0M1638.6 1097.2h0M1664.5 1091.6h0M1618 1050.7h0M1651.7 1104.1h0M1622.9 1096.4h0M1609 1095.7h0M1615.6 1080.7h0M1664.2 1101.2h0M1637.3 1100.2h0M1598.7 1093.6h0M1624.1 1044.3h0M1645.5 1094.4h0M1646.5 1063.2h0M1644.1 1065.9h0M1633.7 1100.3h0M1637.9 1102.5h0M1611.2 1036.9h0M1652.9 1072h0M1605.3 1099.1h0M1624.8 1056.3h0M1637.8 1073.2h0M1598.7 1104.3h0M1647.4 1080.4h0M1634.5 1064.1h0M1612.1 1053.6h0M1626.1 1077.9h0M1657.2 1034.8h0M1635.7 1060.2h0M1623.2 1102.7h0M1631.2 1102.6h0M1602.1 1102h0M1654.7 1101.7h0M1606.1 1073.3h0M1657.4 1072.5h0M1609.2 1038.3h0M1657.2 1046.2h0M1608.5 1092h0M1659.6 1095.1h0M1664 1088.5h0M1609.9 1100.9h0M1605.8 1091.6h0M1622.8 1101.4h0M1649.7 1103h0M1660.2 1071.1h0M1601 1063.7h0M1657.1 1086.7h0M1617.3 1091.8h0M1595.3 1091.9h0M1653.4 1082.8h0M1646.4 1072.5h0M1621 1097.5h0M1603.1 1096.3h0M1598.7 1096.8h0M1658.5 1098.9h0M1599 1104.3h0M1648.5 1071.7h0M1660.6 1103.9h0M1652.6 1089h0M1613.5 1101.1h0M1647.9 1100.2h0M1606.2 1103.3h0M1617.6 1083.7h0M1611.1 1101.8h0M1661.8 1103.7h0M1622 1100.9h0M1617.1 1059.2h0M1615.1 1080.8h0M1620.4 1085.6h0M1618.2 1097.9h0M1618.9 1101.9h0M1655.8 1087h0M1632.1 1042.8h0M1660 1090.1h0M1603.4 1078.5h0M1662.7 1066h0M1600.9 1097.6h0M1613.2 1096.7h0M1617.9 1085.5h0M1604.9 1104.3h0M1637.7 1043.5h0M1628 1094.1h0M1617.4 1057h0M1639.4 1099.3h0M1607.5 1098.4h0M1650.1 1102.7h0M1634.6 1068.2h0M1645 1100.5h0M1644.4 1099.9h0M1610.4 1057.6h0M1618.8 1072.5h0M1623.4 1102.9h0M1632.1 1100.4h0M1612.1 1071.9h0M1644.8 1103.9h0M1604.3 1101.8h0M1601.8 1050.4h0M1614.9 1101h0M1622.2 1055.6h0M1599.7 1033.2h0M1641.8 1078.3h0M1658.7 1050.9h0M1652.1 1103.2h0M1598.1 1078.2h0M1597.2 1104.2h0M1612 1093h0M1650.9 915h0M1639.6 953.9h0M1615.8 964.3h0M1650.5 969.3h0M1654.3 974.9h0M1636.9 980.1h0M1642.1 983.3h0M1613.6 983.5h0M1610.9 987.4h0M1625.6 989.7h0M1611.5 998.3h0M1607.5 999.8h0M1643.2 1004.4h0M1640.7 1008.9h0M1624 1017.5h0M1644.1 1019.1h0M1664.7 1026.5h0M1641 1032h0M1603.6 1033.1h0" fill="none" stroke="#000" stroke-width="3.15" stroke-linecap="round"/>
<path d="M1263.8 634.2V1147.2H1768.7" fill="none" stroke="#262626" stroke-width="1.9" stroke-linejoin="round"/>
<path d="M1259.2 666H1263.8M1259.2 775.7H1263.8M1259.2 885.5H1263.8M1259.2 995H1263.8M1259.2 1104.8H1263.8M1401.4 1147.2V1151.8M1631.2 1147.2V1151.8" fill="none" stroke="#333333" stroke-width="1.4"/>
<text x="1256.2" y="673.7" font-family="Liberation Sans, Arial, Helvetica, sans-serif" font-size="21.9" fill="#4D4D4D" text-anchor="end">400</text>
<text x="1256.2" y="783.4" font-family="Liberation Sans, Arial, Helvetica, sans-serif" font-size="21.9" fill="#4D4D4D" text-anchor="end">300</text>
<text x="1256.2" y="893.2" font-family="Liberation Sans, Arial, Helvetica, sans-serif" font-size="21.9" fill="#4D4D4D" text-anchor="end">200</text>
<text x="1256.2" y="1002.7" font-family="Liberation Sans, Arial, Helvetica, sans-serif" font-size="21.9" fill="#4D4D4D" text-anchor="end">100</text>
<text x="1256.2" y="1112.5" font-family="Liberation Sans, Arial, Helvetica, sans-serif" font-size="21.9" fill="#4D4D4D" text-anchor="end">0</text>
<text x="1401.4" y="1169.2" font-family="Liberation Sans, Arial, Helvetica, sans-serif" font-size="21.9" fill="#4D4D4D" text-anchor="middle">&lt; 60</text>
<text x="1621" y="1168.9" font-family="Noto Sans CJK SC, Liberation Sans, sans-serif" font-size="20.4" fill="#5a5a5a" text-anchor="middle">≥</text><text x="1637.3" y="1169.2" font-family="Liberation Sans, Arial, Helvetica, sans-serif" font-size="21.9" fill="#4D4D4D" text-anchor="start">60</text>
<text x="1263" y="621.7" font-family="Liberation Sans, Arial, Helvetica, sans-serif" font-size="33.4" fill="#000" text-anchor="start">Age</text>
<text x="1193.5" y="617.6" font-family="Liberation Serif, Times New Roman, serif" font-size="33.4" fill="#000" text-anchor="start">F</text>
<text x="1210.2" y="889.5" font-family="Liberation Sans, Arial, Helvetica, sans-serif" font-size="30" fill="#000" text-anchor="middle" letter-spacing="-1.9" transform="rotate(-90 1210.2 889.5)">CRP</text>
<text x="1380.8" y="676.9" font-family="Liberation Sans, Arial, Helvetica, sans-serif" font-size="15" fill="#000" text-anchor="start">T−test, p = 0.21</text>
</g>
<g>
<path d="M213.4 1249.9L213.4 1250.7L213.4 1251.4L213.4 1252.2L213.4 1252.9L213.4 1253.7L213.4 1254.4L213.4 1255.2L213.4 1255.9L213.4 1256.7L213.4 1257.4L213.4 1258.2L213.4 1258.9L213.4 1259.7L213.4 1260.4L213.4 1261.2L213.4 1261.9L213.4 1262.7L213.4 1263.4L213.4 1264.2L213.4 1264.9L213.4 1265.7L213.4 1266.4L213.4 1267.2L213.4 1267.9L213.4 1268.7L213.4 1269.4L213.4 1270.2L213.4 1270.9L213.4 1271.7L213.4 1272.4L213.4 1273.2L213.4 1273.9L213.4 1274.7L213.4 1275.4L213.4 1276.2L213.4 1276.9L213.4 1277.7L213.4 1278.4L213.4 1279.2L213.4 1279.9L213.4 1280.7L213.4 1281.4L213.4 1282.2L213.4 1282.9L213.4 1283.7L213.4 1284.4L213.4 1285.2L213.4 1285.9L213.4 1286.7L213.4 1287.4L213.4 1288.2L213.4 1288.9L213.4 1289.7L213.4 1290.4L213.4 1291.2L213.4 1291.9L213.4 1292.7L213.4 1293.4L213.4 1294.2L213.4 1294.9L213.4 1295.7L213.4 1296.4L213.4 1297.2L213.4 1297.9L213.4 1298.7L213.4 1299.4L213.4 1300.2L213.4 1300.9L213.4 1301.7L213.4 1302.4L213.4 1303.2L213.4 1303.9L213.4 1304.7L213.4 1305.4L213.4 1306.2L213.4 1306.9L213.4 1307.7L213.4 1308.4L213.4 1309.2L213.4 1309.9L213.4 1310.7L213.4 1311.4L213.4 1312.2L213.4 1312.9L213.4 1313.7L213.4 1314.4L213.4 1315.2L213.4 1315.9L213.4 1316.7L213.4 1317.4L213.4 1318.2L213.4 1318.9L213.4 1319.7L213.4 1320.4L213.4 1321.2L213.4 1321.9L213.4 1322.7L213.4 1323.4L213.4 1324.2L213.4 1324.9L213.4 1325.7L213.4 1326.4L213.4 1327.2L213.4 1327.9L213.4 1328.7L213.4 1329.4L213.4 1330.2L213.4 1330.9L213.4 1331.7L213.4 1332.4L213.5 1333.2L213.5 1333.9L213.5 1334.7L213.5 1335.4L213.5 1336.2L213.5 1336.9L213.5 1337.7L213.5 1338.4L213.5 1339.2L213.5 1339.9L213.5 1340.7L213.5 1341.4L213.5 1342.2L213.5 1342.9L213.5 1343.7L213.5 1344.4L213.5 1345.2L213.5 1345.9L213.5 1346.7L213.5 1347.4L213.5 1348.2L213.5 1348.9L213.5 1349.7L213.5 1350.4L213.5 1351.2L213.5 1351.9L213.5 1352.7L213.5 1353.4L213.5 1354.2L213.5 1354.9L213.5 1355.7L213.5 1356.4L213.5 1357.2L213.5 1357.9L213.5 1358.7L213.5 1359.4L213.5 1360.2L213.5 1360.9L213.5 1361.7L213.5 1362.4L213.5 1363.2L213.5 1363.9L213.5 1364.7L213.5 1365.4L213.5 1366.2L213.5 1366.9L213.5 1367.7L213.5 1368.4L213.5 1369.2L213.5 1369.9L213.5 1370.7L213.5 1371.4L213.6 1372.2L213.6 1372.9L213.6 1373.7L213.6 1374.4L213.6 1375.2L213.6 1375.9L213.6 1376.7L213.6 1377.4L213.6 1378.2L213.6 1378.9L213.6 1379.7L213.6 1380.4L213.6 1381.2L213.6 1381.9L213.6 1382.7L213.6 1383.4L213.6 1384.2L213.6 1384.9L213.6 1385.7L213.6 1386.4L213.6 1387.2L213.6 1387.9L213.6 1388.7L213.6 1389.4L213.6 1390.2L213.7 1390.9L213.7 1391.7L213.7 1392.4L213.7 1393.2L213.8 1393.9L213.8 1394.7L213.9 1395.4L213.9 1396.2L213.9 1396.9L214 1397.7L214 1398.4L214 1399.2L214 1399.9L214.1 1400.7L214.1 1401.4L214.1 1402.2L214.1 1402.9L214.1 1403.7L214 1404.4L214 1405.2L214 1405.9L214 1406.7L214 1407.4L214 1408.2L213.9 1408.9L213.9 1409.7L213.9 1410.4L213.9 1411.2L213.8 1411.9L213.8 1412.7L213.8 1413.4L213.8 1414.2L213.8 1414.9L213.7 1415.7L213.7 1416.4L213.7 1417.2L213.7 1417.9L213.7 1418.7L213.6 1419.4L213.6 1420.2L213.6 1420.9L213.6 1421.7L213.6 1422.4L213.6 1423.2L213.6 1423.9L213.6 1424.7L213.6 1425.4L213.6 1426.2L213.6 1426.9L213.6 1427.7L213.6 1428.4L213.6 1429.2L213.6 1429.9L213.6 1430.7L213.6 1431.4L213.6 1432.2L213.7 1432.9L213.7 1433.7L213.7 1434.4L213.7 1435.2L213.7 1435.9L213.7 1436.7L213.7 1437.4L213.7 1438.2L213.7 1438.9L213.7 1439.7L213.7 1440.4L213.7 1441.2L213.7 1441.9L213.7 1442.7L213.8 1443.4L213.8 1444.2L213.8 1444.9L213.8 1445.7L213.8 1446.4L213.8 1447.2L213.8 1447.9L213.8 1448.7L213.8 1449.4L213.8 1450.2L213.8 1450.9L213.9 1451.7L213.9 1452.4L213.9 1453.2L213.9 1453.9L213.9 1454.7L213.9 1455.4L213.9 1456.2L213.9 1456.9L213.9 1457.7L213.9 1458.4L213.9 1459.2L213.9 1459.9L214 1460.7L214 1461.4L214 1462.2L214 1462.9L214 1463.7L214 1464.4L214 1465.2L214 1465.9L214 1466.7L214 1467.4L214 1468.2L214 1468.9L214 1469.7L214 1470.4L214 1471.2L214 1471.9L214.1 1472.7L214.1 1473.4L214.1 1474.2L214.1 1474.9L214.1 1475.7L214.1 1476.4L214.1 1477.2L214.1 1477.9L214.1 1478.7L214.1 1479.4L214.1 1480.2L214.1 1480.9L214.1 1481.7L214.1 1482.4L214 1483.2L214 1483.9L214 1484.7L214 1485.4L214 1486.2L214 1486.9L214 1487.7L214 1488.4L214 1489.2L214 1489.9L213.9 1490.7L213.9 1491.4L213.9 1492.2L213.9 1492.9L213.9 1493.7L213.9 1494.4L213.9 1495.2L213.9 1495.9L213.9 1496.7L213.9 1497.4L213.9 1498.2L213.8 1498.9L213.8 1499.7L213.8 1500.4L213.8 1501.2L213.8 1501.9L213.8 1502.7L213.9 1503.4L213.9 1504.2L213.9 1504.9L214 1505.7L214 1506.4L214 1507.2L214.1 1507.9L214.1 1508.7L214.2 1509.4L214.2 1510.2L214.3 1510.9L214.3 1511.7L214.4 1512.4L214.4 1513.2L214.4 1513.9L214.5 1514.7L214.5 1515.4L214.5 1516.2L214.5 1516.9L214.5 1517.7L214.5 1518.4L214.5 1519.2L214.5 1519.9L214.5 1520.7L214.4 1521.4L214.4 1522.2L214.4 1522.9L214.3 1523.7L214.3 1524.4L214.2 1525.2L214.2 1525.9L214.2 1526.7L214.1 1527.4L214.1 1528.2L214.1 1528.9L214.1 1529.7L214.1 1530.4L214.1 1531.2L214.1 1531.9L214.1 1532.7L214.2 1533.4L214.3 1534.2L214.3 1534.9L214.4 1535.7L214.5 1536.4L214.5 1537.2L214.5 1537.9L214.5 1538.7L214.5 1539.4L214.5 1540.2L214.5 1540.9L214.5 1541.7L214.5 1542.4L214.5 1543.2L214.5 1543.9L214.5 1544.7L214.5 1545.4L214.5 1546.2L214.5 1546.9L214.5 1547.7L214.5 1548.4L214.5 1549.2L214.5 1549.9L214.5 1550.7L214.5 1551.4L214.5 1552.2L214.6 1552.9L214.6 1553.7L214.7 1554.4L214.8 1555.2L214.9 1555.9L215 1556.7L215.1 1557.4L215.2 1558.2L215.3 1558.9L215.4 1559.7L215.5 1560.4L215.6 1561.2L215.7 1561.9L215.8 1562.7L215.8 1563.4L215.9 1564.2L215.9 1564.9L215.9 1565.7L215.8 1566.4L215.7 1567.2L215.6 1567.9L215.5 1568.7L215.4 1569.4L215.3 1570.2L215.1 1570.9L215 1571.7L214.9 1572.4L214.8 1573.2L214.7 1573.9L214.6 1574.7L214.5 1575.4L214.5 1576.2L214.5 1576.9L214.5 1577.7L214.5 1578.4L214.5 1579.2L214.5 1579.9L214.5 1580.7L214.5 1581.4L214.5 1582.2L214.5 1582.9L214.5 1583.7L214.5 1584.4L214.5 1585.2L214.5 1585.9L214.6 1586.7L214.6 1587.4L214.7 1588.2L214.8 1588.9L214.8 1589.7L215 1590.4L215.1 1591.2L215.2 1591.9L215.3 1592.7L215.5 1593.4L215.6 1594.2L215.8 1594.9L215.9 1595.7L216.1 1596.4L216.2 1597.2L216.4 1597.9L216.6 1598.7L216.8 1599.4L217 1600.2L217.2 1600.9L217.4 1601.7L217.6 1602.4L217.8 1603.2L218.1 1603.9L218.3 1604.7L218.6 1605.4L218.8 1606.2L219.1 1606.9L219.4 1607.7L219.6 1608.4L219.9 1609.2L220.1 1609.9L220.3 1610.7L220.6 1611.4L220.8 1612.2L221 1612.9L221.2 1613.7L221.3 1614.4L221.2 1615.2L221.1 1615.9L221 1616.7L220.7 1617.4L220.4 1618.2L220 1618.9L219.7 1619.7L219.6 1620.4L219.6 1621.2L219.7 1621.9L219.8 1622.7L219.9 1623.4L220.1 1624.2L220.2 1624.9L220.5 1625.7L220.8 1626.4L221.1 1627.2L221.5 1627.9L222 1628.7L222.4 1629.4L222.8 1630.2L223.2 1630.9L223.6 1631.7L224 1632.4L224.4 1633.2L224.8 1633.9L225.2 1634.7L225.5 1635.4L225.7 1636.2L225.9 1636.9L226.1 1637.7L226.3 1638.4L226.5 1639.2L226.6 1639.9L226.8 1640.7L227 1641.4L227.2 1642.2L227.3 1642.9L227.5 1643.7L227.7 1644.4L227.9 1645.2L228.1 1645.9L228.4 1646.7L228.7 1647.4L229 1648.2L229.4 1648.9L229.8 1649.7L230.2 1650.4L230.6 1651.2L231.1 1651.9L231.6 1652.7L232.2 1653.4L232.8 1654.2L233.5 1654.9L234.3 1655.7L235.2 1656.4L236.2 1657.2L237.4 1657.9L238.7 1658.7L240 1659.4L241.4 1660.2L242.8 1660.9L244.3 1661.7L245.9 1662.4L247.7 1663.2L249.6 1663.9L251.6 1664.7L253.7 1665.4L255.8 1666.2L258 1666.9L260.4 1667.7L262.9 1668.4L265.7 1669.2L268.6 1669.9L271.6 1670.7L274.7 1671.4L277.9 1672.2L281.5 1672.9L285.4 1673.7L289.2 1674.4L293 1675.2L296.7 1675.9L300.3 1676.7L303.7 1677.4L306.9 1678.2L310 1678.9L312.8 1679.7L314.9 1680.4L316.4 1681.2L316.9 1681.9L315.9 1682.7L313.4 1683.4L309.7 1684.2L304.8 1684.9L299 1685.7L292.9 1686.4L286.5 1687.2L280 1687.9L273.3 1688.7L266.5 1689.4L259.9 1690.2L253.3 1690.9L246.9 1691.7L240.8 1692.4L235.1 1693.2L230.2 1693.9L226.3 1694.7L223.2 1695.4L220.8 1696.2L218.9 1696.9L217.3 1697.7L216.1 1698.4L215.2 1699.2L214.4 1699.9L213.7 1700.7L213.4 1701.3L213.1 1700.7L212.4 1699.9L211.6 1699.2L210.6 1698.4L209.4 1697.7L207.9 1696.9L205.9 1696.2L203.5 1695.4L200.5 1694.7L196.6 1693.9L191.7 1693.2L186 1692.4L179.8 1691.7L173.5 1690.9L166.9 1690.2L160.3 1689.4L153.5 1688.7L146.8 1687.9L140.3 1687.2L133.9 1686.4L127.7 1685.7L122 1684.9L117 1684.2L113.3 1683.4L110.9 1682.7L109.9 1681.9L110.4 1681.2L111.9 1680.4L114 1679.7L116.7 1678.9L119.8 1678.2L123.1 1677.4L126.4 1676.7L130 1675.9L133.8 1675.2L137.6 1674.4L141.4 1673.7L145.2 1672.9L148.8 1672.2L152.1 1671.4L155.2 1670.7L158.2 1669.9L161.1 1669.2L163.8 1668.4L166.4 1667.7L168.8 1666.9L171 1666.2L173.1 1665.4L175.2 1664.7L177.2 1663.9L179.1 1663.2L180.8 1662.4L182.4 1661.7L184 1660.9L185.4 1660.2L186.8 1659.4L188.1 1658.7L189.4 1657.9L190.6 1657.2L191.6 1656.4L192.5 1655.7L193.2 1654.9L193.9 1654.2L194.6 1653.4L195.1 1652.7L195.7 1651.9L196.1 1651.2L196.6 1650.4L197 1649.7L197.4 1648.9L197.8 1648.2L198.1 1647.4L198.4 1646.7L198.7 1645.9L198.9 1645.2L199.1 1644.4L199.3 1643.7L199.4 1642.9L199.6 1642.2L199.8 1641.4L200 1640.7L200.1 1639.9L200.3 1639.2L200.5 1638.4L200.7 1637.7L200.9 1636.9L201.1 1636.2L201.3 1635.4L201.6 1634.7L202 1633.9L202.3 1633.2L202.7 1632.4L203.2 1631.7L203.6 1630.9L204 1630.2L204.4 1629.4L204.8 1628.7L205.2 1627.9L205.6 1627.2L206 1626.4L206.3 1625.7L206.5 1624.9L206.7 1624.2L206.9 1623.4L207 1622.7L207.1 1621.9L207.2 1621.2L207.2 1620.4L207 1619.7L206.8 1618.9L206.4 1618.2L206.1 1617.4L205.8 1616.7L205.6 1615.9L205.5 1615.2L205.5 1614.4L205.6 1613.7L205.8 1612.9L206 1612.2L206.2 1611.4L206.5 1610.7L206.7 1609.9L206.9 1609.2L207.2 1608.4L207.4 1607.7L207.7 1606.9L207.9 1606.2L208.2 1605.4L208.5 1604.7L208.7 1603.9L208.9 1603.2L209.2 1602.4L209.4 1601.7L209.6 1600.9L209.8 1600.2L210 1599.4L210.2 1598.7L210.4 1597.9L210.6 1597.2L210.7 1596.4L210.9 1595.7L211 1594.9L211.1 1594.2L211.3 1593.4L211.4 1592.7L211.6 1591.9L211.7 1591.2L211.8 1590.4L211.9 1589.7L212 1588.9L212.1 1588.2L212.2 1587.4L212.2 1586.7L212.2 1585.9L212.3 1585.2L212.3 1584.4L212.3 1583.7L212.3 1582.9L212.3 1582.2L212.3 1581.4L212.3 1580.7L212.3 1579.9L212.3 1579.2L212.3 1578.4L212.3 1577.7L212.3 1576.9L212.3 1576.2L212.2 1575.4L212.2 1574.7L212.1 1573.9L212 1573.2L211.9 1572.4L211.8 1571.7L211.6 1570.9L211.5 1570.2L211.4 1569.4L211.2 1568.7L211.1 1567.9L211 1567.2L211 1566.4L210.9 1565.7L210.9 1564.9L210.9 1564.2L210.9 1563.4L211 1562.7L211.1 1561.9L211.2 1561.2L211.3 1560.4L211.4 1559.7L211.5 1558.9L211.6 1558.2L211.7 1557.4L211.8 1556.7L211.9 1555.9L212 1555.2L212.1 1554.4L212.2 1553.7L212.2 1552.9L212.2 1552.2L212.3 1551.4L212.3 1550.7L212.3 1549.9L212.3 1549.2L212.3 1548.4L212.3 1547.7L212.3 1546.9L212.3 1546.2L212.3 1545.4L212.3 1544.7L212.3 1543.9L212.3 1543.2L212.3 1542.4L212.3 1541.7L212.3 1540.9L212.3 1540.2L212.3 1539.4L212.3 1538.7L212.3 1537.9L212.3 1537.2L212.3 1536.4L212.4 1535.7L212.4 1534.9L212.5 1534.2L212.6 1533.4L212.6 1532.7L212.7 1531.9L212.7 1531.2L212.7 1530.4L212.7 1529.7L212.7 1528.9L212.7 1528.2L212.6 1527.4L212.6 1526.7L212.6 1525.9L212.5 1525.2L212.5 1524.4L212.5 1523.7L212.4 1522.9L212.4 1522.2L212.4 1521.4L212.3 1520.7L212.3 1519.9L212.3 1519.2L212.3 1518.4L212.3 1517.7L212.3 1516.9L212.3 1516.2L212.3 1515.4L212.3 1514.7L212.3 1513.9L212.4 1513.2L212.4 1512.4L212.5 1511.7L212.5 1510.9L212.6 1510.2L212.6 1509.4L212.6 1508.7L212.7 1507.9L212.7 1507.2L212.8 1506.4L212.8 1505.7L212.9 1504.9L212.9 1504.2L212.9 1503.4L212.9 1502.7L212.9 1501.9L212.9 1501.2L212.9 1500.4L212.9 1499.7L212.9 1498.9L212.9 1498.2L212.9 1497.4L212.9 1496.7L212.9 1495.9L212.9 1495.2L212.9 1494.4L212.9 1493.7L212.9 1492.9L212.8 1492.2L212.8 1491.4L212.8 1490.7L212.8 1489.9L212.8 1489.2L212.8 1488.4L212.8 1487.7L212.8 1486.9L212.8 1486.2L212.8 1485.4L212.7 1484.7L212.7 1483.9L212.7 1483.2L212.7 1482.4L212.7 1481.7L212.7 1480.9L212.7 1480.2L212.7 1479.4L212.7 1478.7L212.7 1477.9L212.7 1477.2L212.7 1476.4L212.7 1475.7L212.7 1474.9L212.7 1474.2L212.7 1473.4L212.7 1472.7L212.7 1471.9L212.7 1471.2L212.7 1470.4L212.7 1469.7L212.7 1468.9L212.8 1468.2L212.8 1467.4L212.8 1466.7L212.8 1465.9L212.8 1465.2L212.8 1464.4L212.8 1463.7L212.8 1462.9L212.8 1462.2L212.8 1461.4L212.8 1460.7L212.8 1459.9L212.8 1459.2L212.8 1458.4L212.9 1457.7L212.9 1456.9L212.9 1456.2L212.9 1455.4L212.9 1454.7L212.9 1453.9L212.9 1453.2L212.9 1452.4L212.9 1451.7L212.9 1450.9L212.9 1450.2L212.9 1449.4L213 1448.7L213 1447.9L213 1447.2L213 1446.4L213 1445.7L213 1444.9L213 1444.2L213 1443.4L213 1442.7L213 1441.9L213 1441.2L213.1 1440.4L213.1 1439.7L213.1 1438.9L213.1 1438.2L213.1 1437.4L213.1 1436.7L213.1 1435.9L213.1 1435.2L213.1 1434.4L213.1 1433.7L213.1 1432.9L213.1 1432.2L213.1 1431.4L213.1 1430.7L213.1 1429.9L213.1 1429.2L213.1 1428.4L213.1 1427.7L213.2 1426.9L213.2 1426.2L213.2 1425.4L213.2 1424.7L213.2 1423.9L213.2 1423.2L213.2 1422.4L213.2 1421.7L213.2 1420.9L213.1 1420.2L213.1 1419.4L213.1 1418.7L213.1 1417.9L213.1 1417.2L213.1 1416.4L213 1415.7L213 1414.9L213 1414.2L213 1413.4L213 1412.7L212.9 1411.9L212.9 1411.2L212.9 1410.4L212.9 1409.7L212.8 1408.9L212.8 1408.2L212.8 1407.4L212.8 1406.7L212.8 1405.9L212.7 1405.2L212.7 1404.4L212.7 1403.7L212.7 1402.9L212.7 1402.2L212.7 1401.4L212.7 1400.7L212.7 1399.9L212.8 1399.2L212.8 1398.4L212.8 1397.7L212.8 1396.9L212.9 1396.2L212.9 1395.4L213 1394.7L213 1393.9L213 1393.2L213.1 1392.4L213.1 1391.7L213.1 1390.9L213.1 1390.2L213.1 1389.4L213.2 1388.7L213.2 1387.9L213.2 1387.2L213.2 1386.4L213.2 1385.7L213.2 1384.9L213.2 1384.2L213.2 1383.4L213.2 1382.7L213.2 1381.9L213.2 1381.2L213.2 1380.4L213.2 1379.7L213.2 1378.9L213.2 1378.2L213.2 1377.4L213.2 1376.7L213.2 1375.9L213.2 1375.2L213.2 1374.4L213.2 1373.7L213.2 1372.9L213.2 1372.2L213.2 1371.4L213.2 1370.7L213.2 1369.9L213.2 1369.2L213.2 1368.4L213.2 1367.7L213.2 1366.9L213.2 1366.2L213.2 1365.4L213.2 1364.7L213.2 1363.9L213.3 1363.2L213.3 1362.4L213.3 1361.7L213.3 1360.9L213.3 1360.2L213.3 1359.4L213.3 1358.7L213.3 1357.9L213.3 1357.2L213.3 1356.4L213.3 1355.7L213.3 1354.9L213.3 1354.2L213.3 1353.4L213.3 1352.7L213.3 1351.9L213.3 1351.2L213.3 1350.4L213.3 1349.7L213.3 1348.9L213.3 1348.2L213.3 1347.4L213.3 1346.7L213.3 1345.9L213.3 1345.2L213.3 1344.4L213.3 1343.7L213.3 1342.9L213.3 1342.2L213.3 1341.4L213.3 1340.7L213.3 1339.9L213.3 1339.2L213.3 1338.4L213.3 1337.7L213.3 1336.9L213.3 1336.2L213.3 1335.4L213.3 1334.7L213.3 1333.9L213.3 1333.2L213.3 1332.4L213.3 1331.7L213.3 1330.9L213.3 1330.2L213.3 1329.4L213.3 1328.7L213.3 1327.9L213.3 1327.2L213.3 1326.4L213.3 1325.7L213.3 1324.9L213.3 1324.2L213.3 1323.4L213.3 1322.7L213.3 1321.9L213.3 1321.2L213.3 1320.4L213.3 1319.7L213.3 1318.9L213.3 1318.2L213.3 1317.4L213.3 1316.7L213.3 1315.9L213.4 1315.2L213.4 1314.4L213.4 1313.7L213.4 1312.9L213.4 1312.2L213.4 1311.4L213.4 1310.7L213.4 1309.9L213.4 1309.2L213.4 1308.4L213.4 1307.7L213.4 1306.9L213.4 1306.2L213.4 1305.4L213.4 1304.7L213.4 1303.9L213.4 1303.2L213.4 1302.4L213.4 1301.7L213.4 1300.9L213.4 1300.2L213.4 1299.4L213.4 1298.7L213.4 1297.9L213.4 1297.2L213.4 1296.4L213.4 1295.7L213.4 1294.9L213.4 1294.2L213.4 1293.4L213.4 1292.7L213.4 1291.9L213.4 1291.2L213.4 1290.4L213.4 1289.7L213.4 1288.9L213.4 1288.2L213.4 1287.4L213.4 1286.7L213.4 1285.9L213.4 1285.2L213.4 1284.4L213.4 1283.7L213.4 1282.9L213.4 1282.2L213.4 1281.4L213.4 1280.7L213.4 1279.9L213.4 1279.2L213.4 1278.4L213.4 1277.7L213.4 1276.9L213.4 1276.2L213.4 1275.4L213.4 1274.7L213.4 1273.9L213.4 1273.2L213.4 1272.4L213.4 1271.7L213.4 1270.9L213.4 1270.2L213.4 1269.4L213.4 1268.7L213.4 1267.9L213.4 1267.2L213.4 1266.4L213.4 1265.7L213.4 1264.9L213.4 1264.2L213.4 1263.4L213.4 1262.7L213.4 1261.9L213.4 1261.2L213.4 1260.4L213.4 1259.7L213.4 1258.9L213.4 1258.2L213.4 1257.4L213.4 1256.7L213.4 1255.9L213.4 1255.2L213.4 1254.4L213.4 1253.7L213.4 1252.9L213.4 1252.2L213.4 1251.4L213.4 1250.7L213.4 1249.9Z" fill="#DE756E" stroke="#333333" stroke-width="1.7" stroke-linejoin="round"/>
<g fill="none" stroke="#333333" stroke-width="1.5" opacity="0.6">
<path d="M213.4 1623.8V1658.2M213.4 1683.8V1686"/>
<rect x="202" y="1658.2" width="22.8" height="25.6"/>
<path d="M202 1679.2H224.8" stroke-width="2.4"/>
</g>
<path d="M179.7 1685.5h0M238.6 1680.3h0M192.2 1684.6h0M199 1665.1h0M201 1685.3h0M232.2 1679.2h0M220 1623.9h0M241.9 1659.4h0M196.8 1676.1h0M225.5 1680.7h0M197 1684.7h0M205.8 1643.6h0M183.6 1684.9h0M237.8 1666.3h0M200 1655.2h0M241.4 1685.2h0M193.3 1678.1h0M200 1662h0M204.9 1658.1h0M232.6 1683.7h0M178.3 1659.7h0M190.8 1683.8h0M233.7 1661.6h0M233.2 1680.6h0M201.5 1686h0M189 1679.6h0M192.8 1669.6h0M214.6 1684.6h0M226.2 1679h0M233.3 1657.3h0M178.7 1665.4h0M208.8 1626.7h0M240 1685.8h0M225.1 1676.1h0M245.5 1682.5h0M238.3 1668.3h0M223.8 1686h0M199.7 1678h0M202.3 1681.3h0M241.5 1680.9h0M218 1647.3h0M199.1 1660.7h0M180.5 1685.8h0M208.1 1670.2h0M192.9 1684.8h0M249.2 1679.9h0M196.6 1625.2h0M222.7 1681h0M240.1 1684.4h0M200.1 1680.8h0M222.9 1683.3h0M246 1662.6h0M178.2 1677.2h0M217.1 1643.4h0M203.5 1651.9h0M189.8 1684.1h0M237.3 1683.8h0M246 1654.4h0M248 1627.9h0M247.3 1679.6h0M231.6 1682.7h0M235.4 1681.6h0M194.6 1635.1h0M231 1625.8h0M249.2 1685.7h0M218.3 1683.8h0M197 1638.7h0M232.2 1672.3h0M229.4 1683.6h0M214.8 1685.8h0M191.1 1683.7h0M243.5 1677.6h0M231.1 1650.6h0M215.3 1663.4h0M234 1661.8h0M203 1684.5h0M205.7 1678.1h0M247.5 1638.9h0M224.7 1684.4h0M230.1 1684.9h0M198.5 1685.7h0M243.2 1679.5h0M239.8 1662.9h0M235.3 1654.2h0M210 1632.3h0M193.3 1685.7h0M224.4 1679h0M210.1 1650.8h0M201.9 1685.6h0M213.4 1674.4h0M228.6 1651.1h0M196.9 1664.8h0M196.7 1680.6h0M247 1658.2h0M235.2 1684.3h0M208 1682.5h0M220 1679.5h0M233.2 1680.6h0M195.8 1657.8h0M246.3 1637.2h0M184.7 1664.1h0M222.4 1647h0M239 1683.4h0M223.1 1684.9h0M181.1 1626.5h0M241.4 1662.4h0M241.3 1663.8h0M191.4 1656.4h0M187.7 1683.9h0M211.5 1680.1h0M221.9 1656.7h0M211.7 1681.6h0M203.7 1643.5h0M226.3 1637.4h0M185.6 1659h0M227.4 1682.6h0M223.4 1670.6h0M187.1 1680.9h0M195 1682.2h0M183.7 1656.5h0M224.2 1656.3h0M183.6 1682.7h0M223.1 1641.3h0M248.1 1658.8h0M227.9 1682.1h0M211.5 1652.8h0M199.7 1669.1h0M201.8 1653.1h0M186.6 1682h0M225 1685.8h0M205.5 1681.6h0M231.6 1668h0M194.6 1684.1h0M185.1 1686h0M220.1 1679.4h0M232.5 1667.4h0M236.4 1682.1h0M188.8 1658h0M213.3 1681.5h0M246.7 1676.8h0M206.7 1685.3h0M184.6 1683.2h0M191.1 1679.7h0M211.7 1679.2h0M230 1660.5h0M193.9 1664.2h0M192.2 1685.7h0M220.5 1676.3h0M221.2 1647h0M180.6 1684.6h0M221.6 1683.7h0M249.4 1668.8h0M194.4 1653.1h0M185.3 1682.4h0M248.8 1659.8h0M235.6 1666.5h0M181.3 1679.1h0M224.7 1681.3h0M247 1631.3h0M224.5 1684h0M226.8 1683.2h0M241.5 1637.8h0M187.5 1683h0M188.3 1667h0M223.1 1683.8h0M200.4 1653.1h0M218.7 1677.8h0M240.8 1686h0M218.2 1676.5h0M236.5 1675.9h0M235 1686h0M237.3 1674.5h0M193.2 1644.7h0M201 1676.6h0M241.9 1686.1h0M209 1652.8h0M194.1 1679.2h0M190.7 1624.3h0M224.4 1681.7h0M193.6 1682.4h0M200.5 1672.3h0M212.5 1677.6h0M243.7 1680.8h0M210.7 1657.8h0M215.8 1685.3h0M210.7 1659.3h0M177.6 1667.1h0M180.8 1683.5h0M220.7 1680h0M215.9 1635.5h0M214.6 1678.6h0M181.4 1652.9h0M223.5 1684.1h0M224.3 1681h0M183.2 1682.7h0M238.7 1679.7h0M217.9 1685.9h0M214.5 1674.8h0M188.7 1684.3h0M244.3 1681.9h0M218.6 1683.9h0M205.3 1680.2h0M221.9 1683.4h0M221 1682.1h0M212.6 1654h0M215 1683h0M219.1 1656.7h0M237.6 1643.5h0M206.9 1681.2h0M206.1 1667.5h0M210.2 1663.6h0M189 1658.1h0M241.2 1685.7h0M233.8 1684.9h0M190.5 1680.3h0M230.8 1665.5h0M198.8 1680.1h0M228.9 1684.1h0M240.3 1670.9h0M184.3 1655h0M223.9 1685h0M248.6 1675.8h0M194.6 1664.6h0M243.8 1684h0M241 1685.6h0M232.5 1679.3h0M198.7 1686.3h0M227.9 1685.7h0M192.7 1657.9h0M208.6 1671.3h0M222.6 1634.8h0M222.6 1686.4h0M212.5 1669.2h0M242 1684.8h0M192.9 1648.2h0M233.1 1686h0M234.6 1677.9h0M178 1681.4h0M205.3 1633.9h0M188.7 1645.9h0M217.3 1685.8h0M200.1 1681.2h0M194.9 1654h0M210.9 1685.2h0M215 1677.8h0M246.8 1686.2h0M183 1680.7h0M213.1 1654.9h0M204.1 1685.4h0M178.2 1683.8h0M227.3 1637.5h0M225.3 1686.1h0M210.1 1684.3h0M208.5 1685.1h0M190.5 1684.7h0M184.8 1668.2h0M222.7 1648.5h0M213.4 1685.9h0M245.6 1640.4h0M224.3 1686.2h0M243.6 1682.3h0M217 1638.5h0M240.3 1654.5h0M204.2 1681.4h0M228 1685.3h0M246.9 1631.1h0M183.6 1682.2h0M217.8 1680.9h0M247.4 1680.3h0M248.9 1685.3h0M212.1 1681.3h0M212.4 1669.4h0M191.4 1661.6h0M239.2 1654.7h0M203.4 1679.5h0M221.4 1684.2h0M191.3 1681.7h0M197.6 1678h0M225.3 1681.7h0M221.9 1665.6h0M220.2 1685.1h0M237.2 1682.6h0M207.1 1639.7h0M208.4 1686.2h0M245 1679.7h0M198.6 1625.7h0M186.3 1684.2h0M187.5 1660h0M227.3 1646.2h0M178.4 1624.1h0M232.5 1679.8h0M233.4 1680h0M206.5 1649.3h0M216.3 1685.6h0M223.9 1681.6h0M199.2 1633.5h0M220.9 1664.2h0M245.6 1654.1h0M196 1673.1h0M211.7 1652.3h0M219.5 1685.5h0M179.9 1652.1h0M227.2 1657.8h0M192.1 1667h0M194.3 1679.8h0M205 1679.8h0M243 1684.1h0M245.4 1685.4h0M225 1642.1h0M210.4 1650.4h0M228.4 1656.9h0M195 1685.2h0M193.4 1680.1h0M223.7 1647.5h0M204.6 1681.7h0M228.9 1685.3h0M200.6 1684.9h0M195.4 1686.1h0M245.7 1676.9h0M183.8 1646.9h0M231 1685.1h0M235.7 1658.2h0M181.1 1685.1h0M212.8 1681.6h0M180.6 1680.5h0M201.8 1681.1h0M235 1630.7h0M208.3 1684.5h0M214.5 1655.8h0M193.8 1674.3h0M210.1 1684.6h0M227.1 1679.7h0M195.8 1684.9h0M220.6 1671.9h0M245.1 1680.1h0M197.7 1684.6h0M224.8 1663.4h0M234.1 1682.8h0M183.4 1678.7h0M192.7 1664.2h0M207.6 1655.3h0M234 1637.2h0M212.2 1686.4h0M234.7 1680.6h0M218.9 1680.7h0M188.9 1624.4h0M180.9 1685.3h0M181.7 1639.9h0M214.7 1677.2h0M243.2 1681.8h0M180.8 1631.5h0M187.9 1682.4h0M239.5 1652h0M202.3 1682.5h0M177.6 1683.4h0M204.5 1682h0M219 1666.8h0M196.5 1680.3h0M249.2 1685.9h0M238.8 1681.1h0M235.1 1684.2h0M220.5 1650.1h0M213.4 1657.2h0M242.7 1636.5h0M182.3 1646.7h0M206.6 1656.6h0M226 1636.7h0M193.7 1681.2h0M216 1682h0M248.1 1660.6h0M221.7 1681.9h0M211.3 1682.7h0M246.2 1657.8h0M242.5 1678.3h0M196.9 1642.1h0M209.1 1655.2h0M184.9 1679.8h0M204.8 1686.1h0M184.4 1686.1h0M240.8 1684.7h0M238.4 1682.8h0M228.2 1658.1h0M189.3 1686.4h0M186.6 1627.7h0M191.1 1679.4h0M178.6 1658h0M243.1 1665.9h0M219.1 1645.8h0M212.8 1683.9h0M233.2 1686.2h0M203.9 1661.1h0M209.3 1625.6h0M197.6 1685.1h0M219 1658.2h0M181.6 1627.9h0M198.7 1653.9h0M239.9 1668.7h0M236.4 1674.5h0M208.8 1650.1h0M237.6 1680.4h0M207.9 1681h0M241.4 1676.6h0M186.7 1683.6h0M238.4 1685.4h0M196.9 1685.5h0M246.2 1640h0M230.7 1686.3h0M220.2 1685.7h0M239.7 1686.4h0M211.1 1684.5h0M217.1 1683.7h0M210 1653.4h0M195 1684.6h0M235 1684.3h0M243.3 1685.6h0M221.9 1643.2h0M194.5 1679.5h0M239.2 1685h0M197 1680h0M246.1 1684.6h0M213.2 1683h0M227 1676.6h0M232 1678.6h0M220.7 1680.9h0M189.3 1655h0M239.6 1683.4h0M211.1 1680.6h0M221.4 1684.4h0M185.9 1684h0M221.9 1684.8h0M221.6 1683.8h0M248.8 1684.9h0M185 1682.9h0M221.9 1679.7h0M229.8 1674.6h0M210.2 1634.4h0M198.3 1680.5h0M229.5 1648h0M193.3 1679h0M201.2 1685.9h0M201.8 1680.9h0M247 1680h0M245.2 1633.4h0M241.8 1658.4h0M216 1681.9h0M214.4 1633.2h0M226.3 1682.1h0M210.8 1683.9h0M247.8 1682.2h0M180.1 1643h0M212.9 1665.4h0M211.4 1685.2h0M212.9 1682.2h0M199.5 1653h0M235.2 1678.7h0M185.3 1653.9h0M249.3 1632.5h0M243.5 1685.9h0M223.1 1658.6h0M190.6 1684.5h0M212.4 1684h0M224.2 1682.7h0M190.3 1672.3h0M204.1 1684.8h0M189.9 1681.8h0M214.1 1681.5h0M184.7 1671.6h0M202.9 1686h0M197.6 1643.3h0M247.3 1682.1h0M247.3 1401.5h0M230.4 1481.7h0M233.5 1499.3h0M204.1 1517.9h0M222.2 1519.7h0M234.9 1535.3h0M222 1537.6h0M232.6 1552.9h0M226.3 1558.6h0M243.3 1562.7h0M194.6 1567.2h0M187.8 1568.8h0M185.6 1582.4h0M200.3 1594.1h0M210 1593.7h0M222.4 1592.3h0M243.3 1597.8h0M183.7 1600h0M226.3 1602.3h0M231.5 1609.3h0M238.7 1611.3h0M246.7 1609.8h0" fill="none" stroke="#000" stroke-width="3.15" stroke-linecap="round"/>
<path d="M443.4 1384.3L443.4 1385.1L443.4 1385.8L443.4 1386.6L443.4 1387.3L443.4 1388.1L443.4 1388.8L443.4 1389.6L443.5 1390.3L443.5 1391.1L443.5 1391.8L443.5 1392.6L443.5 1393.3L443.5 1394.1L443.5 1394.8L443.6 1395.6L443.6 1396.3L443.6 1397.1L443.6 1397.8L443.6 1398.6L443.6 1399.3L443.7 1400.1L443.7 1400.8L443.7 1401.6L443.7 1402.3L443.7 1403.1L443.8 1403.8L443.8 1404.6L443.8 1405.3L443.8 1406.1L443.8 1406.8L443.9 1407.6L443.9 1408.3L443.9 1409.1L444 1409.8L444 1410.6L444.1 1411.3L444.1 1412.1L444.1 1412.8L444.2 1413.6L444.2 1414.3L444.2 1415.1L444.3 1415.8L444.3 1416.6L444.3 1417.3L444.3 1418.1L444.3 1418.8L444.3 1419.6L444.3 1420.3L444.2 1421.1L444.2 1421.8L444.2 1422.6L444.2 1423.3L444.1 1424.1L444.1 1424.8L444.1 1425.6L444 1426.3L444 1427.1L444 1427.8L443.9 1428.6L443.9 1429.3L443.9 1430.1L443.9 1430.8L443.9 1431.6L443.8 1432.3L443.8 1433.1L443.8 1433.8L443.8 1434.6L443.8 1435.3L443.8 1436.1L443.8 1436.8L443.8 1437.6L443.8 1438.3L443.8 1439.1L443.8 1439.8L443.8 1440.6L443.8 1441.3L443.8 1442.1L443.9 1442.8L443.9 1443.6L443.9 1444.3L443.9 1445.1L443.9 1445.8L443.9 1446.6L443.9 1447.3L443.9 1448.1L443.9 1448.8L443.9 1449.6L443.9 1450.3L443.9 1451.1L443.9 1451.8L443.9 1452.6L443.9 1453.3L443.9 1454.1L443.9 1454.8L443.9 1455.6L443.9 1456.3L443.9 1457.1L443.9 1457.8L443.9 1458.6L443.9 1459.3L443.9 1460.1L443.9 1460.8L443.9 1461.6L443.9 1462.3L443.9 1463.1L443.9 1463.8L444 1464.6L444 1465.3L444 1466.1L444 1466.8L444 1467.6L444 1468.3L444 1469.1L444 1469.8L444 1470.6L444 1471.3L444 1472.1L444 1472.8L444 1473.6L444 1474.3L444 1475.1L444 1475.8L444 1476.6L444.1 1477.3L444.1 1478.1L444.1 1478.8L444.1 1479.6L444.1 1480.3L444.1 1481.1L444.1 1481.8L444.1 1482.6L444.2 1483.3L444.2 1484.1L444.2 1484.8L444.2 1485.6L444.2 1486.3L444.3 1487.1L444.3 1487.8L444.3 1488.6L444.3 1489.3L444.3 1490.1L444.3 1490.8L444.3 1491.6L444.3 1492.3L444.3 1493.1L444.3 1493.8L444.3 1494.6L444.3 1495.3L444.3 1496.1L444.2 1496.8L444.2 1497.6L444.2 1498.3L444.2 1499.1L444.2 1499.8L444.2 1500.6L444.2 1501.3L444.2 1502.1L444.2 1502.8L444.1 1503.6L444.1 1504.3L444.1 1505.1L444.1 1505.8L444.1 1506.6L444.1 1507.3L444.1 1508.1L444.1 1508.8L444.1 1509.6L444.1 1510.3L444.1 1511.1L444.1 1511.8L444.1 1512.6L444.1 1513.3L444.1 1514.1L444.1 1514.8L444.1 1515.6L444.1 1516.3L444.1 1517.1L444.1 1517.8L444.1 1518.6L444.2 1519.3L444.2 1520.1L444.2 1520.8L444.2 1521.6L444.2 1522.3L444.3 1523.1L444.3 1523.8L444.3 1524.6L444.3 1525.3L444.4 1526.1L444.4 1526.8L444.5 1527.6L444.5 1528.3L444.6 1529.1L444.7 1529.8L444.7 1530.6L444.8 1531.3L444.9 1532.1L444.9 1532.8L445 1533.6L445.1 1534.3L445.2 1535.1L445.2 1535.8L445.3 1536.6L445.4 1537.3L445.4 1538.1L445.5 1538.8L445.6 1539.6L445.7 1540.3L445.7 1541.1L445.8 1541.8L445.9 1542.6L446 1543.3L446 1544.1L446.1 1544.8L446.2 1545.6L446.3 1546.3L446.4 1547.1L446.4 1547.8L446.5 1548.6L446.6 1549.3L446.7 1550.1L446.7 1550.8L446.8 1551.6L446.9 1552.3L447 1553.1L447 1553.8L447.1 1554.6L447.2 1555.3L447.3 1556.1L447.3 1556.8L447.4 1557.6L447.5 1558.3L447.6 1559.1L447.6 1559.8L447.7 1560.6L447.8 1561.3L447.9 1562.1L447.9 1562.8L448 1563.6L448.1 1564.3L448.2 1565.1L448.2 1565.8L448.3 1566.6L448.4 1567.3L448.5 1568.1L448.5 1568.8L448.6 1569.6L448.7 1570.3L448.7 1571.1L448.8 1571.8L448.9 1572.6L449 1573.3L449 1574.1L449.1 1574.8L449.2 1575.6L449.2 1576.3L449.3 1577.1L449.3 1577.8L449.4 1578.6L449.4 1579.3L449.5 1580.1L449.5 1580.8L449.5 1581.6L449.5 1582.3L449.6 1583.1L449.6 1583.8L449.6 1584.6L449.6 1585.3L449.6 1586.1L449.6 1586.8L449.6 1587.6L449.6 1588.3L449.7 1589.1L449.7 1589.8L449.7 1590.6L449.7 1591.3L449.7 1592.1L449.7 1592.8L449.8 1593.6L449.8 1594.3L449.8 1595.1L449.8 1595.8L449.9 1596.6L449.9 1597.3L449.9 1598.1L449.9 1598.8L450 1599.6L450 1600.3L450 1601.1L450.1 1601.8L450.1 1602.6L450.2 1603.3L450.2 1604.1L450.3 1604.8L450.4 1605.6L450.5 1606.3L450.7 1607.1L450.8 1607.8L451 1608.6L451.1 1609.3L451.3 1610.1L451.5 1610.8L451.7 1611.6L452 1612.3L452.3 1613.1L452.6 1613.8L452.8 1614.6L453.1 1615.3L453.3 1616.1L453.5 1616.8L453.8 1617.6L454 1618.3L454.2 1619.1L454.5 1619.8L454.8 1620.6L455.1 1621.3L455.5 1622.1L456 1622.8L456.6 1623.6L457.1 1624.3L457.5 1625.1L457.8 1625.8L458.1 1626.6L458.3 1627.3L458.5 1628.1L458.7 1628.8L458.9 1629.6L459.1 1630.3L459.4 1631.1L459.6 1631.8L459.9 1632.6L460.1 1633.3L460.4 1634.1L460.7 1634.8L461 1635.6L461.3 1636.3L461.7 1637.1L462 1637.8L462.3 1638.6L462.7 1639.3L463 1640.1L463.4 1640.8L463.7 1641.6L464.1 1642.3L464.5 1643.1L464.9 1643.8L465.3 1644.6L465.8 1645.3L466.2 1646.1L466.7 1646.8L467.3 1647.6L467.8 1648.3L468.4 1649.1L468.9 1649.8L469.5 1650.6L470 1651.3L470.5 1652.1L471 1652.8L471.5 1653.6L472 1654.3L472.5 1655.1L473.1 1655.8L473.6 1656.6L474.1 1657.3L474.7 1658.1L475.3 1658.8L475.9 1659.6L476.6 1660.3L477.2 1661.1L477.9 1661.8L478.6 1662.6L479.3 1663.3L480 1664.1L480.8 1664.8L481.6 1665.6L482.5 1666.3L483.4 1667.1L484.2 1667.8L485.1 1668.6L485.9 1669.3L486.7 1670.1L487.4 1670.8L488.2 1671.6L488.9 1672.3L489.6 1673.1L490.3 1673.8L490.8 1674.6L491.3 1675.3L491.7 1676.1L492 1676.8L492.3 1677.6L492.5 1678.3L492.5 1679.1L492.4 1679.8L492.1 1680.6L491.8 1681.3L491.3 1682.1L490.8 1682.8L490 1683.6L489.1 1684.3L488.1 1685.1L487.1 1685.8L485.9 1686.6L484.7 1687.3L483.3 1688.1L481.9 1688.8L480.3 1689.6L478.6 1690.3L476.8 1691.1L474.8 1691.8L472.9 1692.6L471 1693.3L469.1 1694.1L467.3 1694.8L465.5 1695.6L463.8 1696.3L462.1 1697.1L460.6 1697.8L459.1 1698.6L457.8 1699.3L456.5 1700.1L455.3 1700.8L454.1 1701.6L453.1 1702.3L452.1 1703.1L451.2 1703.8L450.3 1704.6L449.5 1705.3L448.8 1706.1L448.2 1706.8L447.7 1707.6L447.2 1708.3L446.7 1709.1L446.3 1709.8L445.9 1710.6L445.6 1711.3L445.3 1712.1L445 1712.8L444.7 1713.6L444.5 1714.3L444.3 1715.1L444.1 1715.8L443.9 1716.6L443.7 1717.3L443.6 1718.1L443.4 1718.8L443.4 1719.3L443.3 1718.8L443.2 1718.1L443.1 1717.3L442.9 1716.6L442.7 1715.8L442.5 1715.1L442.3 1714.3L442.1 1713.6L441.8 1712.8L441.5 1712.1L441.2 1711.3L440.8 1710.6L440.5 1709.8L440 1709.1L439.6 1708.3L439.1 1707.6L438.6 1706.8L437.9 1706.1L437.3 1705.3L436.5 1704.6L435.6 1703.8L434.7 1703.1L433.7 1702.3L432.6 1701.6L431.5 1700.8L430.3 1700.1L429 1699.3L427.6 1698.6L426.2 1697.8L424.7 1697.1L423 1696.3L421.3 1695.6L419.5 1694.8L417.6 1694.1L415.8 1693.3L413.9 1692.6L411.9 1691.8L410 1691.1L408.1 1690.3L406.4 1689.6L404.9 1688.8L403.4 1688.1L402.1 1687.3L400.9 1686.6L399.7 1685.8L398.7 1685.1L397.6 1684.3L396.7 1683.6L396 1682.8L395.4 1682.1L395 1681.3L394.7 1680.6L394.4 1679.8L394.3 1679.1L394.3 1678.3L394.4 1677.6L394.7 1676.8L395.1 1676.1L395.5 1675.3L395.9 1674.6L396.5 1673.8L397.1 1673.1L397.8 1672.3L398.6 1671.6L399.3 1670.8L400.1 1670.1L400.9 1669.3L401.7 1668.6L402.5 1667.8L403.4 1667.1L404.3 1666.3L405.1 1665.6L406 1664.8L406.7 1664.1L407.5 1663.3L408.2 1662.6L408.9 1661.8L409.6 1661.1L410.2 1660.3L410.8 1659.6L411.5 1658.8L412.1 1658.1L412.6 1657.3L413.2 1656.6L413.7 1655.8L414.2 1655.1L414.7 1654.3L415.2 1653.6L415.7 1652.8L416.3 1652.1L416.8 1651.3L417.3 1650.6L417.9 1649.8L418.4 1649.1L419 1648.3L419.5 1647.6L420 1646.8L420.5 1646.1L421 1645.3L421.5 1644.6L421.9 1643.8L422.3 1643.1L422.7 1642.3L423.1 1641.6L423.4 1640.8L423.8 1640.1L424.1 1639.3L424.5 1638.6L424.8 1637.8L425.1 1637.1L425.4 1636.3L425.7 1635.6L426.1 1634.8L426.4 1634.1L426.6 1633.3L426.9 1632.6L427.2 1631.8L427.4 1631.1L427.6 1630.3L427.8 1629.6L428 1628.8L428.2 1628.1L428.4 1627.3L428.7 1626.6L428.9 1625.8L429.2 1625.1L429.7 1624.3L430.2 1623.6L430.7 1622.8L431.3 1622.1L431.7 1621.3L432 1620.6L432.3 1619.8L432.5 1619.1L432.8 1618.3L433 1617.6L433.2 1616.8L433.5 1616.1L433.7 1615.3L433.9 1614.6L434.2 1613.8L434.5 1613.1L434.8 1612.3L435 1611.6L435.3 1610.8L435.5 1610.1L435.7 1609.3L435.8 1608.6L436 1607.8L436.1 1607.1L436.2 1606.3L436.4 1605.6L436.5 1604.8L436.5 1604.1L436.6 1603.3L436.6 1602.6L436.7 1601.8L436.7 1601.1L436.8 1600.3L436.8 1599.6L436.8 1598.8L436.9 1598.1L436.9 1597.3L436.9 1596.6L436.9 1595.8L437 1595.1L437 1594.3L437 1593.6L437 1592.8L437 1592.1L437.1 1591.3L437.1 1590.6L437.1 1589.8L437.1 1589.1L437.1 1588.3L437.1 1587.6L437.1 1586.8L437.2 1586.1L437.2 1585.3L437.2 1584.6L437.2 1583.8L437.2 1583.1L437.2 1582.3L437.3 1581.6L437.3 1580.8L437.3 1580.1L437.3 1579.3L437.4 1578.6L437.4 1577.8L437.5 1577.1L437.5 1576.3L437.6 1575.6L437.7 1574.8L437.7 1574.1L437.8 1573.3L437.9 1572.6L438 1571.8L438 1571.1L438.1 1570.3L438.2 1569.6L438.2 1568.8L438.3 1568.1L438.4 1567.3L438.5 1566.6L438.5 1565.8L438.6 1565.1L438.7 1564.3L438.8 1563.6L438.8 1562.8L438.9 1562.1L439 1561.3L439.1 1560.6L439.1 1559.8L439.2 1559.1L439.3 1558.3L439.4 1557.6L439.4 1556.8L439.5 1556.1L439.6 1555.3L439.7 1554.6L439.7 1553.8L439.8 1553.1L439.9 1552.3L440 1551.6L440 1550.8L440.1 1550.1L440.2 1549.3L440.3 1548.6L440.3 1547.8L440.4 1547.1L440.5 1546.3L440.6 1545.6L440.6 1544.8L440.7 1544.1L440.8 1543.3L440.9 1542.6L441 1541.8L441 1541.1L441.1 1540.3L441.2 1539.6L441.3 1538.8L441.3 1538.1L441.4 1537.3L441.5 1536.6L441.5 1535.8L441.6 1535.1L441.7 1534.3L441.8 1533.6L441.8 1532.8L441.9 1532.1L442 1531.3L442 1530.6L442.1 1529.8L442.2 1529.1L442.2 1528.3L442.3 1527.6L442.3 1526.8L442.4 1526.1L442.4 1525.3L442.5 1524.6L442.5 1523.8L442.5 1523.1L442.5 1522.3L442.6 1521.6L442.6 1520.8L442.6 1520.1L442.6 1519.3L442.6 1518.6L442.7 1517.8L442.7 1517.1L442.7 1516.3L442.7 1515.6L442.7 1514.8L442.7 1514.1L442.7 1513.3L442.7 1512.6L442.7 1511.8L442.7 1511.1L442.7 1510.3L442.7 1509.6L442.7 1508.8L442.7 1508.1L442.7 1507.3L442.7 1506.6L442.7 1505.8L442.6 1505.1L442.6 1504.3L442.6 1503.6L442.6 1502.8L442.6 1502.1L442.6 1501.3L442.6 1500.6L442.6 1499.8L442.6 1499.1L442.5 1498.3L442.5 1497.6L442.5 1496.8L442.5 1496.1L442.5 1495.3L442.5 1494.6L442.5 1493.8L442.5 1493.1L442.5 1492.3L442.5 1491.6L442.5 1490.8L442.5 1490.1L442.5 1489.3L442.5 1488.6L442.5 1487.8L442.5 1487.1L442.5 1486.3L442.6 1485.6L442.6 1484.8L442.6 1484.1L442.6 1483.3L442.6 1482.6L442.7 1481.8L442.7 1481.1L442.7 1480.3L442.7 1479.6L442.7 1478.8L442.7 1478.1L442.7 1477.3L442.7 1476.6L442.7 1475.8L442.7 1475.1L442.7 1474.3L442.8 1473.6L442.8 1472.8L442.8 1472.1L442.8 1471.3L442.8 1470.6L442.8 1469.8L442.8 1469.1L442.8 1468.3L442.8 1467.6L442.8 1466.8L442.8 1466.1L442.8 1465.3L442.8 1464.6L442.8 1463.8L442.8 1463.1L442.8 1462.3L442.8 1461.6L442.8 1460.8L442.9 1460.1L442.9 1459.3L442.9 1458.6L442.9 1457.8L442.9 1457.1L442.9 1456.3L442.9 1455.6L442.9 1454.8L442.9 1454.1L442.9 1453.3L442.9 1452.6L442.9 1451.8L442.9 1451.1L442.9 1450.3L442.9 1449.6L442.9 1448.8L442.9 1448.1L442.9 1447.3L442.9 1446.6L442.9 1445.8L442.9 1445.1L442.9 1444.3L442.9 1443.6L442.9 1442.8L442.9 1442.1L442.9 1441.3L442.9 1440.6L442.9 1439.8L442.9 1439.1L442.9 1438.3L442.9 1437.6L442.9 1436.8L442.9 1436.1L442.9 1435.3L442.9 1434.6L442.9 1433.8L442.9 1433.1L442.9 1432.3L442.9 1431.6L442.9 1430.8L442.9 1430.1L442.9 1429.3L442.8 1428.6L442.8 1427.8L442.8 1427.1L442.7 1426.3L442.7 1425.6L442.7 1424.8L442.6 1424.1L442.6 1423.3L442.6 1422.6L442.6 1421.8L442.5 1421.1L442.5 1420.3L442.5 1419.6L442.5 1418.8L442.5 1418.1L442.5 1417.3L442.5 1416.6L442.5 1415.8L442.5 1415.1L442.6 1414.3L442.6 1413.6L442.6 1412.8L442.7 1412.1L442.7 1411.3L442.8 1410.6L442.8 1409.8L442.8 1409.1L442.9 1408.3L442.9 1407.6L442.9 1406.8L442.9 1406.1L443 1405.3L443 1404.6L443 1403.8L443 1403.1L443 1402.3L443.1 1401.6L443.1 1400.8L443.1 1400.1L443.1 1399.3L443.1 1398.6L443.2 1397.8L443.2 1397.1L443.2 1396.3L443.2 1395.6L443.2 1394.8L443.2 1394.1L443.3 1393.3L443.3 1392.6L443.3 1391.8L443.3 1391.1L443.3 1390.3L443.3 1389.6L443.3 1388.8L443.3 1388.1L443.4 1387.3L443.4 1386.6L443.4 1385.8L443.4 1385.1L443.4 1384.3Z" fill="#6CC0C6" stroke="#333333" stroke-width="1.7" stroke-linejoin="round"/>
<g fill="none" stroke="#333333" stroke-width="1.5" opacity="1">
<path d="M443.4 1573.5V1638.3M443.4 1679.2V1682.6"/>
<rect x="432" y="1638.3" width="22.8" height="41"/>
<path d="M432 1665H454.8" stroke-width="2.4"/>
</g>
<path d="M422.8 1649.9h0M478.2 1598.8h0M429 1595.8h0M441 1630.5h0M454.3 1680.5h0M445.2 1581.5h0M443.8 1681.2h0M416.5 1642.1h0M457.3 1679.9h0M417 1659.9h0M449.2 1679.9h0M475.1 1638.2h0M424.9 1660.4h0M416.2 1682.1h0M417.4 1677.5h0M459.9 1654.6h0M459.9 1608.5h0M434.5 1654.8h0M462.9 1643.4h0M460.3 1649.1h0M420.7 1589.1h0M446.2 1682h0M443.2 1680.8h0M457.2 1664.6h0M454.7 1682.8h0M463 1613.9h0M452.9 1670.3h0M440.9 1673h0M466.8 1676.5h0M412.5 1680.4h0M476.4 1680h0M415.1 1680h0M417.6 1680h0M456.7 1655.5h0M450.5 1635.5h0M408.5 1679.6h0M444.2 1647.4h0M436 1680.8h0M461.9 1663.3h0M420.9 1635.2h0M474.2 1578.3h0M411.7 1631.2h0M473.2 1680.3h0M439.5 1616h0M473.4 1666.1h0M430.9 1678.2h0M416.9 1673h0M469.3 1674.6h0M437.5 1582.3h0M420.5 1626.2h0M448.5 1644.9h0M436.2 1620.7h0M458.3 1682h0M407.8 1670.4h0M450.3 1635.4h0M444.6 1671.4h0M456.8 1636.3h0M467.1 1666.4h0M460.4 1682h0M417.1 1663h0M413.3 1648.2h0M445.7 1667.6h0M419.5 1643.3h0M451 1681.4h0M422.2 1653.1h0M440.2 1643.8h0M470.7 1681.8h0M408.2 1658.5h0M415.3 1643h0M427.8 1674.5h0M478.5 1646.4h0M446.4 1636.5h0M435.6 1645.8h0M460 1682.1h0M477.8 1667.6h0M465.7 1681.1h0M436.9 1671.9h0M447.6 1615.6h0M460.9 1646.6h0M450.8 1626.4h0M433.5 1683.1h0M461.9 1628.7h0M456.8 1675.7h0M443.5 1661.4h0M435.2 1680.6h0M468.5 1647h0M466.2 1668.5h0M437.4 1655.2h0M415.3 1676h0M419.3 1636.9h0M438.8 1671.5h0M416.4 1587.4h0M458.1 1682.1h0M451.7 1645.4h0M442 1672.5h0M407.7 1679.7h0M412.7 1682.7h0M430.8 1650.8h0M444.2 1674.1h0M421.6 1589.4h0M433.3 1582.8h0M468 1679.6h0M470.4 1680.1h0M417.9 1673.4h0M416 1625.4h0M477.7 1682.7h0M411.5 1680.7h0M430.7 1641.9h0M440.4 1680.7h0M445.5 1680.5h0M465.2 1673.4h0M463.6 1646.6h0M441.8 1682.1h0M468.1 1683.2h0M415.5 1603.3h0M449.3 1680.9h0M432.4 1682.1h0M457.7 1640.9h0M465 1673h0M463.2 1652.3h0M428.5 1679.5h0M455.2 1671.1h0M418 1674.4h0M435.6 1671.9h0M439.1 1585.3h0M415 1675.5h0M411 1682.7h0M475.7 1635.6h0M421 1669.2h0M437 1633h0M426.7 1680h0M425.3 1601.2h0M477.4 1679.7h0M469.4 1671.6h0M430.4 1674.9h0M446.2 1622.5h0M477.3 1642.4h0M460.3 1646.1h0M467.7 1672.6h0M441.1 1641h0M419.3 1682.6h0M447.6 1617.5h0M416.9 1680.7h0M420.5 1675.9h0M413.4 1665h0M457.4 1637.2h0M412.6 1640.2h0M454.1 1587.8h0M458.3 1634.8h0M461.5 1666h0M455.6 1416h0M440.4 1489.6h0M416 1545.3h0M428 1548h0M466.5 1558.4h0M449 1563.8h0M454.7 1566.5h0M423.5 1570.6h0M437.7 1573.3h0M468.7 1575.1h0M419.4 1583h0M423.9 1581.9h0M429.6 1583h0M455.6 1587.6h0M453.8 1592.1h0M408.8 1594.1h0M430.9 1599.3h0M435.9 1600.5h0M445.6 1596.2h0M448.4 1603.4h0M460.4 1608.6h0M416 1613.6h0M419.4 1613.6h0" fill="none" stroke="#000" stroke-width="3.15" stroke-linecap="round"/>
<path d="M75.6 1227.1V1740.7H581.5" fill="none" stroke="#262626" stroke-width="1.9" stroke-linejoin="round"/>
<path d="M71 1254.2H75.6M71 1362.1H75.6M71 1470.3H75.6M71 1578.2H75.6M71 1686.4H75.6M213.4 1740.7V1745.3M443.4 1740.7V1745.3" fill="none" stroke="#333333" stroke-width="1.4"/>
<text x="68" y="1261.9" font-family="Liberation Sans, Arial, Helvetica, sans-serif" font-size="21.9" fill="#4D4D4D" text-anchor="end">400</text>
<text x="68" y="1369.8" font-family="Liberation Sans, Arial, Helvetica, sans-serif" font-size="21.9" fill="#4D4D4D" text-anchor="end">300</text>
<text x="68" y="1478" font-family="Liberation Sans, Arial, Helvetica, sans-serif" font-size="21.9" fill="#4D4D4D" text-anchor="end">200</text>
<text x="68" y="1585.9" font-family="Liberation Sans, Arial, Helvetica, sans-serif" font-size="21.9" fill="#4D4D4D" text-anchor="end">100</text>
<text x="68" y="1694.1" font-family="Liberation Sans, Arial, Helvetica, sans-serif" font-size="21.9" fill="#4D4D4D" text-anchor="end">0</text>
<text x="213.4" y="1762.7" font-family="Liberation Sans, Arial, Helvetica, sans-serif" font-size="21.9" fill="#4D4D4D" text-anchor="middle">A</text>
<text x="443.4" y="1762.7" font-family="Liberation Sans, Arial, Helvetica, sans-serif" font-size="21.9" fill="#4D4D4D" text-anchor="middle">B</text>
<text x="74.5" y="1214.2" font-family="Liberation Sans, Arial, Helvetica, sans-serif" font-size="33.4" fill="#000" text-anchor="start">Child</text>
<text x="5.5" y="1212.6" font-family="Liberation Serif, Times New Roman, serif" font-size="33.4" fill="#000" text-anchor="start">G</text>
<text x="22.7" y="1483" font-family="Liberation Sans, Arial, Helvetica, sans-serif" font-size="30" fill="#000" text-anchor="middle" letter-spacing="-1.9" transform="rotate(-90 22.7 1483)">CRP</text>
<text x="189.4" y="1265.1" font-family="Liberation Sans, Arial, Helvetica, sans-serif" font-size="15" fill="#000" text-anchor="start">T−test, p = 0.0023</text>
</g>
<g>
<path d="M806.9 1249.9L806.9 1250.7L806.9 1251.4L806.9 1252.2L806.9 1252.9L806.9 1253.7L806.9 1254.4L806.9 1255.2L806.9 1255.9L806.9 1256.7L806.9 1257.4L806.9 1258.2L806.9 1258.9L806.9 1259.7L806.9 1260.4L806.9 1261.2L806.9 1261.9L806.9 1262.7L806.9 1263.4L806.9 1264.2L806.9 1264.9L806.9 1265.7L806.9 1266.4L806.9 1267.2L806.9 1267.9L806.9 1268.7L806.9 1269.4L806.9 1270.2L806.9 1270.9L806.9 1271.7L806.9 1272.4L806.9 1273.2L806.9 1273.9L806.9 1274.7L806.9 1275.4L806.9 1276.2L806.9 1276.9L806.9 1277.7L806.9 1278.4L806.9 1279.2L806.9 1279.9L806.9 1280.7L806.9 1281.4L806.9 1282.2L806.9 1282.9L806.9 1283.7L806.9 1284.4L806.9 1285.2L806.9 1285.9L806.9 1286.7L806.9 1287.4L806.9 1288.2L806.9 1288.9L806.9 1289.7L806.9 1290.4L806.9 1291.2L806.9 1291.9L806.9 1292.7L806.9 1293.4L806.9 1294.2L806.9 1294.9L807 1295.7L807 1296.4L807 1297.2L807 1297.9L807 1298.7L807 1299.4L807 1300.2L807 1300.9L807 1301.7L807 1302.4L807 1303.2L807 1303.9L807 1304.7L807 1305.4L807 1306.2L807 1306.9L807 1307.7L807 1308.4L807 1309.2L807 1309.9L807 1310.7L807 1311.4L807 1312.2L807 1312.9L807 1313.7L807 1314.4L807 1315.2L807 1315.9L807 1316.7L807 1317.4L807 1318.2L807 1318.9L807 1319.7L807 1320.4L807 1321.2L807 1321.9L807 1322.7L807 1323.4L807 1324.2L807 1324.9L807 1325.7L807 1326.4L807 1327.2L807 1327.9L807 1328.7L807 1329.4L807 1330.2L807 1330.9L807 1331.7L807 1332.4L807 1333.2L807 1333.9L807 1334.7L807 1335.4L807 1336.2L807 1336.9L807 1337.7L807 1338.4L807 1339.2L807 1339.9L807 1340.7L807 1341.4L807 1342.2L807 1342.9L807 1343.7L807 1344.4L807 1345.2L807 1345.9L807 1346.7L807 1347.4L807 1348.2L807 1348.9L807 1349.7L807 1350.4L807 1351.2L807 1351.9L807 1352.7L807 1353.4L807 1354.2L807 1354.9L807.1 1355.7L807.1 1356.4L807.1 1357.2L807.1 1357.9L807.1 1358.7L807.1 1359.4L807.1 1360.2L807.1 1360.9L807.1 1361.7L807.1 1362.4L807.1 1363.2L807.1 1363.9L807.1 1364.7L807.1 1365.4L807.1 1366.2L807.1 1366.9L807.1 1367.7L807.1 1368.4L807.1 1369.2L807.1 1369.9L807.1 1370.7L807.1 1371.4L807.1 1372.2L807.1 1372.9L807.1 1373.7L807.1 1374.4L807.1 1375.2L807.1 1375.9L807.1 1376.7L807.1 1377.4L807.1 1378.2L807.1 1378.9L807.1 1379.7L807.1 1380.4L807.1 1381.2L807.1 1381.9L807.1 1382.7L807.1 1383.4L807.1 1384.2L807.1 1384.9L807.1 1385.7L807.2 1386.4L807.2 1387.2L807.2 1387.9L807.2 1388.7L807.2 1389.4L807.2 1390.2L807.2 1390.9L807.2 1391.7L807.3 1392.4L807.3 1393.2L807.3 1393.9L807.4 1394.7L807.4 1395.4L807.4 1396.2L807.5 1396.9L807.5 1397.7L807.6 1398.4L807.6 1399.2L807.6 1399.9L807.7 1400.7L807.7 1401.4L807.7 1402.2L807.8 1402.9L807.8 1403.7L807.8 1404.4L807.8 1405.2L807.8 1405.9L807.8 1406.7L807.8 1407.4L807.8 1408.2L807.8 1408.9L807.8 1409.7L807.8 1410.4L807.7 1411.2L807.7 1411.9L807.7 1412.7L807.6 1413.4L807.6 1414.2L807.5 1414.9L807.5 1415.7L807.5 1416.4L807.4 1417.2L807.4 1417.9L807.3 1418.7L807.3 1419.4L807.3 1420.2L807.2 1420.9L807.2 1421.7L807.2 1422.4L807.2 1423.2L807.2 1423.9L807.2 1424.7L807.2 1425.4L807.2 1426.2L807.2 1426.9L807.2 1427.7L807.2 1428.4L807.2 1429.2L807.2 1429.9L807.2 1430.7L807.2 1431.4L807.2 1432.2L807.2 1432.9L807.2 1433.7L807.2 1434.4L807.2 1435.2L807.2 1435.9L807.2 1436.7L807.2 1437.4L807.2 1438.2L807.2 1438.9L807.2 1439.7L807.2 1440.4L807.2 1441.2L807.2 1441.9L807.2 1442.7L807.3 1443.4L807.3 1444.2L807.3 1444.9L807.3 1445.7L807.3 1446.4L807.3 1447.2L807.3 1447.9L807.3 1448.7L807.3 1449.4L807.3 1450.2L807.3 1450.9L807.3 1451.7L807.3 1452.4L807.3 1453.2L807.4 1453.9L807.4 1454.7L807.4 1455.4L807.4 1456.2L807.4 1456.9L807.4 1457.7L807.4 1458.4L807.4 1459.2L807.4 1459.9L807.4 1460.7L807.4 1461.4L807.4 1462.2L807.4 1462.9L807.5 1463.7L807.5 1464.4L807.5 1465.2L807.5 1465.9L807.5 1466.7L807.5 1467.4L807.5 1468.2L807.5 1468.9L807.5 1469.7L807.5 1470.4L807.5 1471.2L807.5 1471.9L807.5 1472.7L807.5 1473.4L807.5 1474.2L807.6 1474.9L807.6 1475.7L807.6 1476.4L807.6 1477.2L807.6 1477.9L807.6 1478.7L807.6 1479.4L807.6 1480.2L807.6 1480.9L807.6 1481.7L807.6 1482.4L807.6 1483.2L807.6 1483.9L807.6 1484.7L807.6 1485.4L807.6 1486.2L807.6 1486.9L807.6 1487.7L807.6 1488.4L807.6 1489.2L807.6 1489.9L807.6 1490.7L807.6 1491.4L807.6 1492.2L807.6 1492.9L807.6 1493.7L807.6 1494.4L807.6 1495.2L807.6 1495.9L807.6 1496.7L807.6 1497.4L807.5 1498.2L807.5 1498.9L807.5 1499.7L807.5 1500.4L807.5 1501.2L807.5 1501.9L807.5 1502.7L807.5 1503.4L807.5 1504.2L807.5 1504.9L807.4 1505.7L807.4 1506.4L807.4 1507.2L807.4 1507.9L807.4 1508.7L807.4 1509.4L807.4 1510.2L807.4 1510.9L807.4 1511.7L807.4 1512.4L807.4 1513.2L807.4 1513.9L807.4 1514.7L807.4 1515.4L807.5 1516.2L807.5 1516.9L807.6 1517.7L807.6 1518.4L807.6 1519.2L807.7 1519.9L807.7 1520.7L807.8 1521.4L807.8 1522.2L807.8 1522.9L807.8 1523.7L807.8 1524.4L807.8 1525.2L807.8 1525.9L807.8 1526.7L807.8 1527.4L807.8 1528.2L807.8 1528.9L807.8 1529.7L807.8 1530.4L807.8 1531.2L807.8 1531.9L807.8 1532.7L807.8 1533.4L807.8 1534.2L807.8 1534.9L807.8 1535.7L807.8 1536.4L807.8 1537.2L807.8 1537.9L807.8 1538.7L807.8 1539.4L807.8 1540.2L807.8 1540.9L807.8 1541.7L807.8 1542.4L807.8 1543.2L807.8 1543.9L807.8 1544.7L807.8 1545.4L807.8 1546.2L807.8 1546.9L807.8 1547.7L807.9 1548.4L807.9 1549.2L807.9 1549.9L808 1550.7L808 1551.4L808.1 1552.2L808.1 1552.9L808.2 1553.7L808.2 1554.4L808.3 1555.2L808.4 1555.9L808.4 1556.7L808.5 1557.4L808.5 1558.2L808.6 1558.9L808.6 1559.7L808.7 1560.4L808.8 1561.2L808.8 1561.9L808.9 1562.7L809 1563.4L809 1564.2L809.1 1564.9L809.2 1565.7L809.2 1566.4L809.3 1567.2L809.3 1567.9L809.4 1568.7L809.4 1569.4L809.5 1570.2L809.5 1570.9L809.5 1571.7L809.6 1572.4L809.6 1573.2L809.6 1573.9L809.6 1574.7L809.7 1575.4L809.7 1576.2L809.7 1576.9L809.7 1577.7L809.8 1578.4L809.8 1579.2L809.8 1579.9L809.9 1580.7L809.9 1581.4L810 1582.2L810 1582.9L810.1 1583.7L810.1 1584.4L810.2 1585.2L810.2 1585.9L810.3 1586.7L810.4 1587.4L810.4 1588.2L810.5 1588.9L810.6 1589.7L810.6 1590.4L810.7 1591.2L810.8 1591.9L810.8 1592.7L810.9 1593.4L811 1594.2L811 1594.9L811.1 1595.7L811.1 1596.4L811.2 1597.2L811.3 1597.9L811.3 1598.7L811.4 1599.4L811.5 1600.2L811.6 1600.9L811.7 1601.7L811.8 1602.4L811.9 1603.2L812 1603.9L812.2 1604.7L812.3 1605.4L812.5 1606.2L812.8 1606.9L813 1607.7L813.2 1608.4L813.4 1609.2L813.6 1609.9L813.9 1610.7L814.1 1611.4L814.4 1612.2L814.6 1612.9L814.9 1613.7L815.1 1614.4L815.3 1615.2L815.4 1615.9L815.5 1616.7L815.5 1617.4L815.5 1618.2L815.5 1618.9L815.5 1619.7L815.5 1620.4L815.6 1621.2L815.6 1621.9L815.6 1622.7L815.6 1623.4L815.6 1624.2L815.7 1624.9L815.8 1625.7L815.9 1626.4L816 1627.2L816 1627.9L816.1 1628.7L816.2 1629.4L816.3 1630.2L816.3 1630.9L816.4 1631.7L816.5 1632.4L816.6 1633.2L816.7 1633.9L816.8 1634.7L817 1635.4L817.1 1636.2L817.3 1636.9L817.4 1637.7L817.6 1638.4L817.8 1639.2L818 1639.9L818.2 1640.7L818.4 1641.4L818.6 1642.2L818.8 1642.9L819 1643.7L819.2 1644.4L819.5 1645.2L819.8 1645.9L820.1 1646.7L820.4 1647.4L820.7 1648.2L821 1648.9L821.4 1649.7L821.8 1650.4L822.2 1651.2L822.6 1651.9L823.1 1652.7L823.5 1653.4L824 1654.2L824.5 1654.9L825.1 1655.7L825.7 1656.4L826.2 1657.2L826.8 1657.9L827.5 1658.7L828.1 1659.4L828.8 1660.2L829.5 1660.9L830.2 1661.7L830.9 1662.4L831.7 1663.2L832.5 1663.9L833.4 1664.7L834.3 1665.4L835.3 1666.2L836.3 1666.9L837.5 1667.7L838.6 1668.4L839.9 1669.2L841.2 1669.9L842.6 1670.7L844.1 1671.4L845.8 1672.2L847.7 1672.9L849.8 1673.7L852 1674.4L854.2 1675.2L856.5 1675.9L859 1676.7L861.6 1677.4L864.5 1678.2L867.5 1678.9L870.6 1679.7L874.2 1680.4L878.1 1681.2L881.8 1681.9L885.1 1682.7L888.4 1683.4L891.8 1684.2L894.9 1684.9L898 1685.7L901 1686.4L904 1687.2L906.8 1687.9L909.1 1688.7L910.2 1689.4L909.5 1690.2L907.5 1690.9L904.5 1691.7L900.3 1692.4L895.2 1693.2L889.7 1693.9L883.9 1694.7L878 1695.4L871.8 1696.2L865.7 1696.9L859.8 1697.7L854 1698.4L848 1699.2L842.1 1699.9L836.8 1700.7L831.9 1701.4L827.6 1702.2L823.9 1702.9L820.8 1703.7L818.2 1704.4L816 1705.2L814.2 1705.9L812.6 1706.7L811.3 1707.4L810.1 1708.2L809.1 1708.9L808.2 1709.7L807.4 1710.4L806.9 1711L806.4 1710.4L805.6 1709.7L804.7 1708.9L803.7 1708.2L802.6 1707.4L801.3 1706.7L799.7 1705.9L797.8 1705.2L795.7 1704.4L793.1 1703.7L790 1702.9L786.3 1702.2L781.9 1701.4L777.1 1700.7L771.7 1699.9L765.9 1699.2L759.9 1698.4L754 1697.7L748.1 1696.9L742 1696.2L735.9 1695.4L729.9 1694.7L724.2 1693.9L718.6 1693.2L713.6 1692.4L709.4 1691.7L706.4 1690.9L704.4 1690.2L703.7 1689.4L704.8 1688.7L707.1 1687.9L709.9 1687.2L712.9 1686.4L715.9 1685.7L718.9 1684.9L722.1 1684.2L725.4 1683.4L728.8 1682.7L732.1 1681.9L735.8 1681.2L739.7 1680.4L743.2 1679.7L746.4 1678.9L749.4 1678.2L752.2 1677.4L754.9 1676.7L757.3 1675.9L759.6 1675.2L761.9 1674.4L764.1 1673.7L766.2 1672.9L768.1 1672.2L769.7 1671.4L771.3 1670.7L772.7 1669.9L774 1669.2L775.2 1668.4L776.4 1667.7L777.5 1666.9L778.6 1666.2L779.6 1665.4L780.5 1664.7L781.4 1663.9L782.2 1663.2L783 1662.4L783.7 1661.7L784.4 1660.9L785.1 1660.2L785.8 1659.4L786.4 1658.7L787 1657.9L787.6 1657.2L788.2 1656.4L788.8 1655.7L789.3 1654.9L789.8 1654.2L790.3 1653.4L790.8 1652.7L791.2 1651.9L791.6 1651.2L792.1 1650.4L792.4 1649.7L792.8 1648.9L793.2 1648.2L793.5 1647.4L793.8 1646.7L794.1 1645.9L794.4 1645.2L794.6 1644.4L794.9 1643.7L795.1 1642.9L795.3 1642.2L795.5 1641.4L795.7 1640.7L795.9 1639.9L796.1 1639.2L796.3 1638.4L796.4 1637.7L796.6 1636.9L796.8 1636.2L796.9 1635.4L797 1634.7L797.2 1633.9L797.3 1633.2L797.4 1632.4L797.5 1631.7L797.5 1630.9L797.6 1630.2L797.7 1629.4L797.8 1628.7L797.8 1627.9L797.9 1627.2L798 1626.4L798.1 1625.7L798.1 1624.9L798.2 1624.2L798.3 1623.4L798.3 1622.7L798.3 1621.9L798.3 1621.2L798.3 1620.4L798.3 1619.7L798.3 1618.9L798.3 1618.2L798.3 1617.4L798.4 1616.7L798.4 1615.9L798.6 1615.2L798.8 1614.4L799 1613.7L799.3 1612.9L799.5 1612.2L799.8 1611.4L800 1610.7L800.2 1609.9L800.4 1609.2L800.7 1608.4L800.9 1607.7L801.1 1606.9L801.3 1606.2L801.5 1605.4L801.7 1604.7L801.9 1603.9L802 1603.2L802.1 1602.4L802.2 1601.7L802.3 1600.9L802.4 1600.2L802.4 1599.4L802.5 1598.7L802.6 1597.9L802.7 1597.2L802.7 1596.4L802.8 1595.7L802.8 1594.9L802.9 1594.2L803 1593.4L803 1592.7L803.1 1591.9L803.2 1591.2L803.2 1590.4L803.3 1589.7L803.4 1588.9L803.4 1588.2L803.5 1587.4L803.6 1586.7L803.6 1585.9L803.7 1585.2L803.8 1584.4L803.8 1583.7L803.9 1582.9L803.9 1582.2L804 1581.4L804 1580.7L804 1579.9L804.1 1579.2L804.1 1578.4L804.1 1577.7L804.2 1576.9L804.2 1576.2L804.2 1575.4L804.2 1574.7L804.3 1573.9L804.3 1573.2L804.3 1572.4L804.3 1571.7L804.4 1570.9L804.4 1570.2L804.4 1569.4L804.5 1568.7L804.5 1567.9L804.6 1567.2L804.7 1566.4L804.7 1565.7L804.8 1564.9L804.8 1564.2L804.9 1563.4L805 1562.7L805 1561.9L805.1 1561.2L805.2 1560.4L805.2 1559.7L805.3 1558.9L805.3 1558.2L805.4 1557.4L805.5 1556.7L805.5 1555.9L805.6 1555.2L805.6 1554.4L805.7 1553.7L805.8 1552.9L805.8 1552.2L805.9 1551.4L805.9 1550.7L805.9 1549.9L806 1549.2L806 1548.4L806 1547.7L806 1546.9L806 1546.2L806 1545.4L806 1544.7L806 1543.9L806 1543.2L806 1542.4L806 1541.7L806 1540.9L806 1540.2L806 1539.4L806 1538.7L806 1537.9L806 1537.2L806 1536.4L806 1535.7L806 1534.9L806 1534.2L806 1533.4L806 1532.7L806 1531.9L806 1531.2L806 1530.4L806 1529.7L806 1528.9L806 1528.2L806 1527.4L806 1526.7L806 1525.9L806 1525.2L806 1524.4L806 1523.7L806 1522.9L806.1 1522.2L806.1 1521.4L806.1 1520.7L806.2 1519.9L806.2 1519.2L806.3 1518.4L806.3 1517.7L806.4 1516.9L806.4 1516.2L806.4 1515.4L806.5 1514.7L806.5 1513.9L806.5 1513.2L806.5 1512.4L806.5 1511.7L806.5 1510.9L806.5 1510.2L806.5 1509.4L806.5 1508.7L806.5 1507.9L806.4 1507.2L806.4 1506.4L806.4 1505.7L806.4 1504.9L806.4 1504.2L806.4 1503.4L806.4 1502.7L806.4 1501.9L806.4 1501.2L806.4 1500.4L806.3 1499.7L806.3 1498.9L806.3 1498.2L806.3 1497.4L806.3 1496.7L806.3 1495.9L806.3 1495.2L806.3 1494.4L806.3 1493.7L806.3 1492.9L806.3 1492.2L806.3 1491.4L806.3 1490.7L806.3 1489.9L806.3 1489.2L806.3 1488.4L806.3 1487.7L806.3 1486.9L806.3 1486.2L806.3 1485.4L806.3 1484.7L806.3 1483.9L806.3 1483.2L806.3 1482.4L806.3 1481.7L806.3 1480.9L806.3 1480.2L806.3 1479.4L806.3 1478.7L806.3 1477.9L806.3 1477.2L806.3 1476.4L806.3 1475.7L806.3 1474.9L806.3 1474.2L806.3 1473.4L806.3 1472.7L806.3 1471.9L806.3 1471.2L806.4 1470.4L806.4 1469.7L806.4 1468.9L806.4 1468.2L806.4 1467.4L806.4 1466.7L806.4 1465.9L806.4 1465.2L806.4 1464.4L806.4 1463.7L806.4 1462.9L806.4 1462.2L806.4 1461.4L806.4 1460.7L806.5 1459.9L806.5 1459.2L806.5 1458.4L806.5 1457.7L806.5 1456.9L806.5 1456.2L806.5 1455.4L806.5 1454.7L806.5 1453.9L806.5 1453.2L806.5 1452.4L806.5 1451.7L806.5 1450.9L806.6 1450.2L806.6 1449.4L806.6 1448.7L806.6 1447.9L806.6 1447.2L806.6 1446.4L806.6 1445.7L806.6 1444.9L806.6 1444.2L806.6 1443.4L806.6 1442.7L806.6 1441.9L806.6 1441.2L806.6 1440.4L806.6 1439.7L806.7 1438.9L806.7 1438.2L806.7 1437.4L806.7 1436.7L806.7 1435.9L806.7 1435.2L806.7 1434.4L806.7 1433.7L806.7 1432.9L806.7 1432.2L806.7 1431.4L806.7 1430.7L806.7 1429.9L806.7 1429.2L806.7 1428.4L806.7 1427.7L806.7 1426.9L806.7 1426.2L806.7 1425.4L806.7 1424.7L806.7 1423.9L806.7 1423.2L806.7 1422.4L806.7 1421.7L806.6 1420.9L806.6 1420.2L806.6 1419.4L806.5 1418.7L806.5 1417.9L806.5 1417.2L806.4 1416.4L806.4 1415.7L806.3 1414.9L806.3 1414.2L806.2 1413.4L806.2 1412.7L806.2 1411.9L806.1 1411.2L806.1 1410.4L806.1 1409.7L806.1 1408.9L806 1408.2L806 1407.4L806 1406.7L806 1405.9L806 1405.2L806.1 1404.4L806.1 1403.7L806.1 1402.9L806.1 1402.2L806.2 1401.4L806.2 1400.7L806.2 1399.9L806.3 1399.2L806.3 1398.4L806.3 1397.7L806.4 1396.9L806.4 1396.2L806.5 1395.4L806.5 1394.7L806.5 1393.9L806.6 1393.2L806.6 1392.4L806.6 1391.7L806.7 1390.9L806.7 1390.2L806.7 1389.4L806.7 1388.7L806.7 1387.9L806.7 1387.2L806.7 1386.4L806.7 1385.7L806.7 1384.9L806.7 1384.2L806.7 1383.4L806.7 1382.7L806.7 1381.9L806.7 1381.2L806.7 1380.4L806.7 1379.7L806.7 1378.9L806.7 1378.2L806.8 1377.4L806.8 1376.7L806.8 1375.9L806.8 1375.2L806.8 1374.4L806.8 1373.7L806.8 1372.9L806.8 1372.2L806.8 1371.4L806.8 1370.7L806.8 1369.9L806.8 1369.2L806.8 1368.4L806.8 1367.7L806.8 1366.9L806.8 1366.2L806.8 1365.4L806.8 1364.7L806.8 1363.9L806.8 1363.2L806.8 1362.4L806.8 1361.7L806.8 1360.9L806.8 1360.2L806.8 1359.4L806.8 1358.7L806.8 1357.9L806.8 1357.2L806.8 1356.4L806.8 1355.7L806.8 1354.9L806.8 1354.2L806.8 1353.4L806.8 1352.7L806.8 1351.9L806.8 1351.2L806.8 1350.4L806.8 1349.7L806.8 1348.9L806.8 1348.2L806.8 1347.4L806.8 1346.7L806.8 1345.9L806.8 1345.2L806.8 1344.4L806.8 1343.7L806.8 1342.9L806.9 1342.2L806.9 1341.4L806.9 1340.7L806.9 1339.9L806.9 1339.2L806.9 1338.4L806.9 1337.7L806.9 1336.9L806.9 1336.2L806.9 1335.4L806.9 1334.7L806.9 1333.9L806.9 1333.2L806.9 1332.4L806.9 1331.7L806.9 1330.9L806.9 1330.2L806.9 1329.4L806.9 1328.7L806.9 1327.9L806.9 1327.2L806.9 1326.4L806.9 1325.7L806.9 1324.9L806.9 1324.2L806.9 1323.4L806.9 1322.7L806.9 1321.9L806.9 1321.2L806.9 1320.4L806.9 1319.7L806.9 1318.9L806.9 1318.2L806.9 1317.4L806.9 1316.7L806.9 1315.9L806.9 1315.2L806.9 1314.4L806.9 1313.7L806.9 1312.9L806.9 1312.2L806.9 1311.4L806.9 1310.7L806.9 1309.9L806.9 1309.2L806.9 1308.4L806.9 1307.7L806.9 1306.9L806.9 1306.2L806.9 1305.4L806.9 1304.7L806.9 1303.9L806.9 1303.2L806.9 1302.4L806.9 1301.7L806.9 1300.9L806.9 1300.2L806.9 1299.4L806.9 1298.7L806.9 1297.9L806.9 1297.2L806.9 1296.4L806.9 1295.7L806.9 1294.9L806.9 1294.2L806.9 1293.4L806.9 1292.7L806.9 1291.9L806.9 1291.2L806.9 1290.4L806.9 1289.7L806.9 1288.9L806.9 1288.2L806.9 1287.4L806.9 1286.7L806.9 1285.9L806.9 1285.2L806.9 1284.4L806.9 1283.7L806.9 1282.9L806.9 1282.2L806.9 1281.4L806.9 1280.7L806.9 1279.9L806.9 1279.2L806.9 1278.4L806.9 1277.7L806.9 1276.9L806.9 1276.2L806.9 1275.4L806.9 1274.7L806.9 1273.9L806.9 1273.2L806.9 1272.4L806.9 1271.7L806.9 1270.9L806.9 1270.2L806.9 1269.4L806.9 1268.7L806.9 1267.9L806.9 1267.2L806.9 1266.4L806.9 1265.7L806.9 1264.9L806.9 1264.2L806.9 1263.4L806.9 1262.7L806.9 1261.9L806.9 1261.2L806.9 1260.4L806.9 1259.7L806.9 1258.9L806.9 1258.2L806.9 1257.4L806.9 1256.7L806.9 1255.9L806.9 1255.2L806.9 1254.4L806.9 1253.7L806.9 1252.9L806.9 1252.2L806.9 1251.4L806.9 1250.7L806.9 1249.9Z" fill="#DE756E" stroke="#333333" stroke-width="1.7" stroke-linejoin="round"/>
<g fill="none" stroke="#333333" stroke-width="1.5" opacity="0.6">
<path d="M806.9 1621.5V1662.3M806.9 1691.7V1693.9"/>
<rect x="795.5" y="1662.3" width="22.8" height="29.4"/>
<path d="M795.5 1683.8H818.3" stroke-width="2.4"/>
</g>
<path d="M831.2 1693.7h0M805.4 1693h0M794.2 1636.7h0M825.6 1692.7h0M832.3 1680.3h0M831.1 1694.3h0M776.5 1693h0M805.3 1680.4h0M818.8 1672h0M827.9 1683.2h0M833.6 1685.3h0M807.5 1676.8h0M801 1678.1h0M832.3 1670.4h0M832.2 1627.5h0M836.3 1680.2h0M833.1 1647.7h0M795.4 1664.1h0M824 1693.6h0M799.8 1690.4h0M819.7 1693.5h0M805 1680.3h0M827.9 1669.8h0M840.4 1653.4h0M780.9 1684h0M778.3 1673.4h0M803.2 1677.8h0M800.5 1667.7h0M812.3 1684.2h0M802 1693h0M835.2 1693.2h0M808.7 1686.7h0M801.9 1687.6h0M823.2 1672h0M836.9 1694h0M781 1667.8h0M823.4 1692.7h0M780.9 1663.5h0M801.6 1684.7h0M816.8 1693.9h0M836 1624.9h0M797.6 1680.9h0M784.3 1686.8h0M813.9 1635.4h0M833.5 1688.2h0M784.9 1629.6h0M773.2 1692.9h0M812.1 1689.9h0M796.9 1691.3h0M832.3 1685h0M835.3 1693h0M836 1623.9h0M839.3 1676.9h0M802 1686.2h0M818.8 1641.1h0M790.6 1691.2h0M801 1687.9h0M793.4 1666h0M814.8 1693.7h0M804.1 1686.7h0M777.9 1669h0M790.4 1691.5h0M775.9 1672.1h0M776.5 1662.3h0M774.4 1688.7h0M773.4 1694h0M800.2 1640.4h0M800.2 1683.6h0M776.1 1662.6h0M834.7 1678.5h0M828.3 1625.2h0M831.9 1660.4h0M796.9 1690.1h0M783 1694.1h0M779.5 1680.6h0M834.6 1683.4h0M770.9 1675.4h0M819.9 1678.3h0M842.4 1663.3h0M837.7 1635h0M834.9 1677.4h0M796 1693.6h0M815 1651.5h0M821.3 1691.9h0M809.7 1682.4h0M784.8 1692.6h0M837.5 1678.9h0M791.3 1692h0M818.9 1676.6h0M794.4 1694.1h0M786 1661.9h0M807 1660.4h0M820.5 1663.3h0M783.4 1632.8h0M827.1 1662h0M772.4 1635.3h0M812.2 1662.1h0M825.2 1693.7h0M828.4 1675.9h0M785.6 1682.7h0M836.3 1688h0M775.8 1677.3h0M787.7 1682.2h0M776 1672.8h0M830.4 1647.8h0M794.1 1659.1h0M786.8 1694.3h0M823.5 1665.2h0M823.8 1662h0M816.1 1692.9h0M814.7 1680.1h0M839.7 1656.3h0M793.7 1684.7h0M820.9 1674h0M828.7 1649.2h0M826.9 1624.7h0M816.2 1682.5h0M821.4 1669.6h0M790.2 1655.8h0M794 1684.4h0M812.1 1645.7h0M782 1681h0M818.6 1634.7h0M807.4 1688.2h0M793.5 1691.8h0M832.2 1638.9h0M779.4 1686.1h0M830.8 1693.9h0M811.6 1693h0M820.9 1645.7h0M840.8 1685.2h0M821.8 1694.2h0M786 1669.3h0M804.9 1670.2h0M842.3 1676h0M793.7 1631h0M777.6 1653.9h0M829.8 1671.1h0M812.4 1691.7h0M772.9 1692.8h0M840.9 1691.9h0M772.1 1686.1h0M802.1 1670.2h0M837.9 1678.2h0M790.1 1694.1h0M832.1 1684.7h0M810.8 1677.2h0M780.2 1651.7h0M804.9 1641h0M816.1 1684.6h0M820.7 1692.6h0M825.3 1670.3h0M775.5 1691.1h0M782.8 1659.9h0M819 1690.4h0M836.9 1692h0M807.4 1688.6h0M840.5 1657.6h0M821.6 1692.7h0M786.4 1681.4h0M804.4 1654.2h0M813.7 1690.5h0M791 1660.2h0M775 1673.6h0M797.2 1691.6h0M795.3 1624.7h0M820.5 1685.4h0M829.5 1693.2h0M812.6 1688.9h0M831.5 1657.2h0M803.1 1659.9h0M802.4 1690.6h0M829.2 1683.9h0M833.4 1693.3h0M773.2 1685.7h0M814.4 1660.5h0M805.3 1672.7h0M840.4 1692.6h0M808.9 1693.1h0M824.3 1681.9h0M834.4 1693.5h0M780.1 1690.7h0M795.8 1668.8h0M831.1 1691.8h0M783.2 1694h0M810.5 1655h0M827.6 1686.8h0M808.8 1636.3h0M830.6 1676.6h0M805.4 1689.8h0M795.6 1693.7h0M792.3 1687.4h0M793.3 1664.2h0M833.6 1652.9h0M806 1665.7h0M829.5 1692.7h0M838.8 1652.5h0M830.9 1655.7h0M818.9 1692.5h0M809.8 1692.7h0M789.2 1675.5h0M796.3 1689.6h0M797 1662.3h0M808.8 1692.8h0M785.7 1689.5h0M797.8 1673.5h0M789.7 1681.6h0M777.8 1690.5h0M795 1685.6h0M797.5 1669.4h0M778.3 1686.5h0M788.2 1692.2h0M801.6 1648h0M828.6 1694.4h0M813.7 1686.3h0M777.8 1662.1h0M801.5 1661.4h0M838.7 1692h0M805.9 1683.4h0M773 1694.3h0M797.8 1692.2h0M797.5 1691.3h0M841.2 1673.4h0M817.8 1669.3h0M815.2 1692.5h0M792.5 1651h0M812.7 1655.6h0M834.5 1690.2h0M783 1638.4h0M820 1683.7h0M800.3 1649.4h0M788.4 1660.3h0M813.9 1659h0M784 1639.1h0M785.5 1691.9h0M802.8 1686.7h0M782.7 1673.5h0M789.8 1693.7h0M798.7 1671.8h0M772.8 1656.1h0M796.5 1694h0M785.1 1657.8h0M819.9 1692.2h0M826.2 1677.9h0M818.8 1675.3h0M841.5 1692.1h0M812.4 1694.3h0M775.8 1679.4h0M830.6 1693h0M807 1692.3h0M774.6 1687.8h0M822.2 1667.8h0M828.7 1683.3h0M789.8 1678.5h0M785.8 1663.8h0M798.8 1688.5h0M793.6 1666.6h0M821.9 1691.9h0M804.2 1684h0M785.2 1691.7h0M791.9 1688.1h0M822.5 1691.8h0M791.4 1628.4h0M826.8 1657.8h0M824.3 1668.1h0M813.8 1692.8h0M783.9 1691h0M802.4 1662.2h0M802.4 1651.6h0M833.9 1693h0M807.4 1693.4h0M825.9 1693.2h0M824.5 1679.9h0M813.6 1692.6h0M828.8 1692.3h0M809.3 1691.9h0M791.3 1680.8h0M820.3 1693.6h0M824.9 1672.3h0M813.8 1648.4h0M805.2 1692h0M828.5 1692.4h0M825.1 1680.5h0M781.5 1686h0M808.7 1653.9h0M822.2 1691h0M796.9 1688.5h0M827.1 1668.3h0M808.5 1679.7h0M825.2 1679.6h0M778.6 1668.7h0M807.9 1629.7h0M828.8 1692.5h0M837 1693.1h0M819.5 1690.6h0M825.9 1694h0M829.7 1692.9h0M824.4 1689.3h0M796.6 1645.7h0M776.4 1685.4h0M787.8 1678.8h0M773.4 1674.7h0M839.3 1687.5h0M825.1 1635.8h0M797.7 1685.9h0M839.9 1659.7h0M774.5 1675.5h0M782.9 1692.4h0M798.2 1669.6h0M841.2 1692.9h0M789.3 1674.2h0M800.1 1680.5h0M774 1693.6h0M792.7 1682.7h0M807.6 1689.4h0M776.5 1636.8h0M795.6 1623.2h0M837.8 1692.3h0M801.6 1663.6h0M826.3 1692.8h0M837.8 1645.6h0M795.1 1642.3h0M805.7 1653.8h0M806.3 1664.9h0M771.4 1693.7h0M777.8 1680.9h0M842.3 1685.6h0M774.5 1694.1h0M786.9 1678.3h0M798.4 1657.3h0M795.3 1692.5h0M793.2 1689.6h0M811.4 1663.6h0M822.4 1687.4h0M838.7 1692.1h0M818.3 1691.1h0M842.7 1689.6h0M802.3 1670.4h0M809.1 1676.4h0M772.2 1674.2h0M794.9 1672.7h0M788.6 1692.4h0M793.7 1671.5h0M817.6 1694.3h0M780.4 1679.2h0M792.2 1692.9h0M837.9 1646.7h0M835 1692h0M782.4 1688.7h0M801.1 1693.2h0M782.3 1679.9h0M817.3 1690.2h0M804.2 1654.3h0M800 1686.3h0M818.2 1665.4h0M837.4 1693h0M775.8 1686.1h0M785.5 1665.7h0M805.3 1685.9h0M813.1 1691.6h0M789.1 1693.2h0M832.2 1693.6h0M788.2 1680.7h0M806.1 1690.6h0M832.9 1638.1h0M829.8 1692.9h0M801.4 1682.6h0M777 1662.4h0M775.8 1653.9h0M836.6 1692.3h0M833.4 1662.3h0M837.4 1646.2h0M773.7 1688.2h0M823.6 1690.4h0M781 1687.7h0M840.7 1688.4h0M782.2 1691.9h0M828.6 1692.7h0M815.5 1692.1h0M823 1669.6h0M816 1665.6h0M810.1 1692.8h0M790.9 1653.8h0M797.5 1648h0M820.7 1694.4h0M801.6 1692.6h0M813.8 1687.6h0M829.2 1681.2h0M805 1685.2h0M811.5 1684.9h0M794.8 1686.1h0M804.2 1689.7h0M816.6 1692.2h0M777.4 1658.1h0M839.9 1644.4h0M828.9 1672.9h0M778.7 1693.7h0M811.2 1686.9h0M824.3 1692.4h0M800.1 1693.4h0M771.9 1662.6h0M779.9 1693h0M807 1684.6h0M821.6 1687h0M783.9 1675.9h0M807.2 1667.2h0M841.9 1693.1h0M790.5 1661.6h0M836.6 1691.8h0M814.9 1664h0M812 1675.1h0M790 1656.6h0M821.8 1652.1h0M822 1679.2h0M809.4 1677h0M796.1 1683.1h0M827.6 1653h0M818.9 1685.4h0M776 1693.5h0M787.9 1693.5h0M780.1 1688.9h0M816.5 1688.8h0M838 1628.3h0M787.8 1670.5h0M771.4 1676.6h0M828.6 1694h0M824.4 1660.1h0M810.3 1661h0M802.5 1684h0M805.1 1663.7h0M840.9 1405.4h0M804.4 1494.8h0M826.6 1504.7h0M797.7 1523.8h0M815.8 1525.3h0M815.5 1543.4h0M779.6 1551.1h0M826.2 1559.3h0M819.8 1564.7h0M830 1564.5h0M812.6 1570.1h0M787.5 1573.5h0M781.1 1575.1h0M786.3 1576.9h0M801.1 1579.7h0M832.1 1581.5h0M778.4 1588.7h0M782.9 1589.4h0M787.5 1588.3h0M793.1 1589.6h0M818.7 1594.1h0M816.4 1598.9h0M772.3 1600.7h0M793.6 1600.7h0M803.8 1603h0M836.8 1604.5h0M777.3 1606.8h0" fill="none" stroke="#000" stroke-width="3.15" stroke-linecap="round"/>
<path d="M1036.9 1396.3L1036.9 1397.1L1037 1397.8L1037 1398.6L1037 1399.3L1037 1400.1L1037 1400.8L1037.1 1401.6L1037.1 1402.3L1037.1 1403.1L1037.1 1403.8L1037.2 1404.6L1037.2 1405.3L1037.2 1406.1L1037.2 1406.8L1037.3 1407.6L1037.3 1408.3L1037.3 1409.1L1037.3 1409.8L1037.4 1410.6L1037.4 1411.3L1037.4 1412.1L1037.5 1412.8L1037.5 1413.6L1037.6 1414.3L1037.6 1415.1L1037.7 1415.8L1037.7 1416.6L1037.8 1417.3L1037.8 1418.1L1037.8 1418.8L1037.8 1419.6L1037.8 1420.3L1037.8 1421.1L1037.8 1421.8L1037.8 1422.6L1037.8 1423.3L1037.7 1424.1L1037.7 1424.8L1037.7 1425.6L1037.6 1426.3L1037.6 1427.1L1037.6 1427.8L1037.5 1428.6L1037.5 1429.3L1037.5 1430.1L1037.4 1430.8L1037.4 1431.6L1037.4 1432.3L1037.4 1433.1L1037.4 1433.8L1037.4 1434.6L1037.4 1435.3L1037.4 1436.1L1037.4 1436.8L1037.4 1437.6L1037.4 1438.3L1037.4 1439.1L1037.4 1439.8L1037.4 1440.6L1037.4 1441.3L1037.4 1442.1L1037.4 1442.8L1037.4 1443.6L1037.4 1444.3L1037.4 1445.1L1037.4 1445.8L1037.4 1446.6L1037.4 1447.3L1037.4 1448.1L1037.4 1448.8L1037.4 1449.6L1037.4 1450.3L1037.4 1451.1L1037.4 1451.8L1037.4 1452.6L1037.4 1453.3L1037.4 1454.1L1037.4 1454.8L1037.4 1455.6L1037.4 1456.3L1037.4 1457.1L1037.4 1457.8L1037.4 1458.6L1037.4 1459.3L1037.4 1460.1L1037.4 1460.8L1037.4 1461.6L1037.4 1462.3L1037.4 1463.1L1037.4 1463.8L1037.4 1464.6L1037.4 1465.3L1037.4 1466.1L1037.4 1466.8L1037.4 1467.6L1037.4 1468.3L1037.4 1469.1L1037.4 1469.8L1037.4 1470.6L1037.4 1471.3L1037.5 1472.1L1037.5 1472.8L1037.5 1473.6L1037.5 1474.3L1037.6 1475.1L1037.6 1475.8L1037.6 1476.6L1037.6 1477.3L1037.7 1478.1L1037.7 1478.8L1037.7 1479.6L1037.7 1480.3L1037.8 1481.1L1037.8 1481.8L1037.8 1482.6L1037.8 1483.3L1037.8 1484.1L1037.8 1484.8L1037.8 1485.6L1037.8 1486.3L1037.8 1487.1L1037.8 1487.8L1037.8 1488.6L1037.8 1489.3L1037.8 1490.1L1037.7 1490.8L1037.7 1491.6L1037.7 1492.3L1037.6 1493.1L1037.6 1493.8L1037.6 1494.6L1037.5 1495.3L1037.5 1496.1L1037.5 1496.8L1037.5 1497.6L1037.4 1498.3L1037.4 1499.1L1037.4 1499.8L1037.4 1500.6L1037.4 1501.3L1037.4 1502.1L1037.4 1502.8L1037.4 1503.6L1037.4 1504.3L1037.4 1505.1L1037.4 1505.8L1037.4 1506.6L1037.4 1507.3L1037.4 1508.1L1037.4 1508.8L1037.4 1509.6L1037.4 1510.3L1037.4 1511.1L1037.4 1511.8L1037.5 1512.6L1037.5 1513.3L1037.5 1514.1L1037.5 1514.8L1037.5 1515.6L1037.5 1516.3L1037.5 1517.1L1037.5 1517.8L1037.5 1518.6L1037.5 1519.3L1037.5 1520.1L1037.6 1520.8L1037.6 1521.6L1037.6 1522.3L1037.6 1523.1L1037.6 1523.8L1037.6 1524.6L1037.6 1525.3L1037.7 1526.1L1037.7 1526.8L1037.7 1527.6L1037.7 1528.3L1037.7 1529.1L1037.8 1529.8L1037.8 1530.6L1037.8 1531.3L1037.9 1532.1L1037.9 1532.8L1037.9 1533.6L1037.9 1534.3L1038 1535.1L1038 1535.8L1038 1536.6L1038.1 1537.3L1038.1 1538.1L1038.1 1538.8L1038.2 1539.6L1038.2 1540.3L1038.2 1541.1L1038.3 1541.8L1038.3 1542.6L1038.3 1543.3L1038.4 1544.1L1038.4 1544.8L1038.4 1545.6L1038.5 1546.3L1038.5 1547.1L1038.5 1547.8L1038.6 1548.6L1038.6 1549.3L1038.7 1550.1L1038.7 1550.8L1038.7 1551.6L1038.8 1552.3L1038.8 1553.1L1038.8 1553.8L1038.9 1554.6L1038.9 1555.3L1038.9 1556.1L1038.9 1556.8L1039 1557.6L1039 1558.3L1039 1559.1L1039 1559.8L1039 1560.6L1039.1 1561.3L1039.1 1562.1L1039.1 1562.8L1039.1 1563.6L1039.1 1564.3L1039.1 1565.1L1039.2 1565.8L1039.2 1566.6L1039.2 1567.3L1039.2 1568.1L1039.2 1568.8L1039.2 1569.6L1039.2 1570.3L1039.2 1571.1L1039.1 1571.8L1039.1 1572.6L1039 1573.3L1038.9 1574.1L1038.8 1574.8L1038.7 1575.6L1038.7 1576.3L1038.6 1577.1L1038.5 1577.8L1038.4 1578.6L1038.4 1579.3L1038.3 1580.1L1038.3 1580.8L1038.3 1581.6L1038.2 1582.3L1038.2 1583.1L1038.2 1583.8L1038.2 1584.6L1038.1 1585.3L1038.1 1586.1L1038.1 1586.8L1038.1 1587.6L1038.1 1588.3L1038.1 1589.1L1038.1 1589.8L1038.1 1590.6L1038.2 1591.3L1038.3 1592.1L1038.4 1592.8L1038.5 1593.6L1038.7 1594.3L1038.9 1595.1L1039 1595.8L1039.2 1596.6L1039.3 1597.3L1039.5 1598.1L1039.7 1598.8L1039.8 1599.6L1040 1600.3L1040.2 1601.1L1040.4 1601.8L1040.6 1602.6L1040.8 1603.3L1040.9 1604.1L1041.1 1604.8L1041.3 1605.6L1041.5 1606.3L1041.7 1607.1L1041.9 1607.8L1042.1 1608.6L1042.2 1609.3L1042.4 1610.1L1042.6 1610.8L1042.8 1611.6L1043 1612.3L1043.2 1613.1L1043.5 1613.8L1043.7 1614.6L1043.9 1615.3L1044.2 1616.1L1044.4 1616.8L1044.7 1617.6L1045 1618.3L1045.3 1619.1L1045.5 1619.8L1045.8 1620.6L1046 1621.3L1046.2 1622.1L1046.4 1622.8L1046.5 1623.6L1046.7 1624.3L1046.9 1625.1L1047.1 1625.8L1047.3 1626.6L1047.6 1627.3L1047.9 1628.1L1048.2 1628.8L1048.5 1629.6L1048.9 1630.3L1049.3 1631.1L1049.7 1631.8L1050.1 1632.6L1050.5 1633.3L1051 1634.1L1051.4 1634.8L1051.9 1635.6L1052.4 1636.3L1052.9 1637.1L1053.3 1637.8L1053.7 1638.6L1054.1 1639.3L1054.5 1640.1L1054.9 1640.8L1055.2 1641.6L1055.6 1642.3L1056 1643.1L1056.3 1643.8L1056.7 1644.6L1057.1 1645.3L1057.4 1646.1L1057.8 1646.8L1058.1 1647.6L1058.5 1648.3L1058.9 1649.1L1059.3 1649.8L1059.7 1650.6L1060.1 1651.3L1060.6 1652.1L1061.1 1652.8L1061.6 1653.6L1062.2 1654.3L1062.7 1655.1L1063.3 1655.8L1063.9 1656.6L1064.6 1657.3L1065.2 1658.1L1065.9 1658.8L1066.6 1659.6L1067.3 1660.3L1068.1 1661.1L1068.9 1661.8L1069.7 1662.6L1070.6 1663.3L1071.5 1664.1L1072.4 1664.8L1073.2 1665.6L1074.1 1666.3L1075 1667.1L1075.9 1667.8L1076.8 1668.6L1077.7 1669.3L1078.8 1670.1L1079.9 1670.8L1081.1 1671.6L1082.4 1672.3L1083.8 1673.1L1085.2 1673.8L1086.7 1674.6L1088.3 1675.3L1090 1676.1L1091.7 1676.8L1093.4 1677.6L1095.1 1678.3L1096.8 1679.1L1098.4 1679.8L1100 1680.6L1101.5 1681.3L1103 1682.1L1104.3 1682.8L1105.4 1683.6L1106.4 1684.3L1107.3 1685.1L1108.1 1685.8L1108.6 1686.6L1108.8 1687.3L1108.6 1688.1L1108.1 1688.8L1107.3 1689.6L1106.2 1690.3L1104.6 1691.1L1102.5 1691.8L1099.9 1692.6L1097.1 1693.3L1094.1 1694.1L1091.1 1694.8L1088.1 1695.6L1084.9 1696.3L1081.5 1697.1L1077.9 1697.8L1074.2 1698.6L1070.4 1699.3L1066.8 1700.1L1063.3 1700.8L1060.2 1701.6L1057.4 1702.3L1054.9 1703.1L1052.8 1703.8L1050.9 1704.6L1049.2 1705.3L1047.7 1706.1L1046.2 1706.8L1044.8 1707.6L1043.4 1708.3L1042.2 1709.1L1041.2 1709.8L1040.2 1710.6L1039.4 1711.3L1038.7 1712.1L1038.3 1712.8L1037.9 1713.6L1037.5 1714.3L1037.2 1715.1L1037 1715.8L1036.9 1716.6L1036.9 1716.6L1036.9 1716.6L1036.9 1715.8L1036.7 1715.1L1036.4 1714.3L1036 1713.6L1035.6 1712.8L1035.1 1712.1L1034.5 1711.3L1033.6 1710.6L1032.7 1709.8L1031.6 1709.1L1030.4 1708.3L1029.1 1707.6L1027.7 1706.8L1026.2 1706.1L1024.7 1705.3L1023 1704.6L1021.1 1703.8L1018.9 1703.1L1016.4 1702.3L1013.7 1701.6L1010.5 1700.8L1007.1 1700.1L1003.5 1699.3L999.7 1698.6L995.9 1697.8L992.4 1697.1L989 1696.3L985.8 1695.6L982.7 1694.8L979.7 1694.1L976.7 1693.3L973.9 1692.6L971.4 1691.8L969.3 1691.1L967.7 1690.3L966.6 1689.6L965.8 1688.8L965.2 1688.1L965 1687.3L965.3 1686.6L965.8 1685.8L966.6 1685.1L967.5 1684.3L968.5 1683.6L969.6 1682.8L970.9 1682.1L972.3 1681.3L973.9 1680.6L975.4 1679.8L977.1 1679.1L978.8 1678.3L980.5 1677.6L982.2 1676.8L983.9 1676.1L985.5 1675.3L987.1 1674.6L988.7 1673.8L990.1 1673.1L991.5 1672.3L992.8 1671.6L994 1670.8L995.1 1670.1L996.1 1669.3L997.1 1668.6L998 1667.8L998.9 1667.1L999.8 1666.3L1000.6 1665.6L1001.5 1664.8L1002.4 1664.1L1003.3 1663.3L1004.1 1662.6L1005 1661.8L1005.8 1661.1L1006.6 1660.3L1007.3 1659.6L1008 1658.8L1008.7 1658.1L1009.3 1657.3L1009.9 1656.6L1010.5 1655.8L1011.1 1655.1L1011.7 1654.3L1012.2 1653.6L1012.8 1652.8L1013.3 1652.1L1013.7 1651.3L1014.2 1650.6L1014.6 1649.8L1015 1649.1L1015.4 1648.3L1015.8 1647.6L1016.1 1646.8L1016.5 1646.1L1016.8 1645.3L1017.2 1644.6L1017.5 1643.8L1017.9 1643.1L1018.3 1642.3L1018.6 1641.6L1019 1640.8L1019.4 1640.1L1019.7 1639.3L1020.1 1638.6L1020.5 1637.8L1021 1637.1L1021.4 1636.3L1021.9 1635.6L1022.4 1634.8L1022.9 1634.1L1023.4 1633.3L1023.8 1632.6L1024.2 1631.8L1024.6 1631.1L1025 1630.3L1025.3 1629.6L1025.7 1628.8L1026 1628.1L1026.3 1627.3L1026.5 1626.6L1026.8 1625.8L1027 1625.1L1027.2 1624.3L1027.3 1623.6L1027.5 1622.8L1027.7 1622.1L1027.9 1621.3L1028.1 1620.6L1028.3 1619.8L1028.6 1619.1L1028.9 1618.3L1029.2 1617.6L1029.4 1616.8L1029.7 1616.1L1029.9 1615.3L1030.2 1614.6L1030.4 1613.8L1030.6 1613.1L1030.8 1612.3L1031 1611.6L1031.2 1610.8L1031.4 1610.1L1031.6 1609.3L1031.8 1608.6L1032 1607.8L1032.2 1607.1L1032.4 1606.3L1032.6 1605.6L1032.7 1604.8L1032.9 1604.1L1033.1 1603.3L1033.3 1602.6L1033.5 1601.8L1033.7 1601.1L1033.8 1600.3L1034 1599.6L1034.2 1598.8L1034.4 1598.1L1034.5 1597.3L1034.7 1596.6L1034.8 1595.8L1035 1595.1L1035.2 1594.3L1035.3 1593.6L1035.5 1592.8L1035.6 1592.1L1035.7 1591.3L1035.8 1590.6L1035.8 1589.8L1035.8 1589.1L1035.8 1588.3L1035.8 1587.6L1035.8 1586.8L1035.8 1586.1L1035.7 1585.3L1035.7 1584.6L1035.7 1583.8L1035.7 1583.1L1035.6 1582.3L1035.6 1581.6L1035.6 1580.8L1035.5 1580.1L1035.5 1579.3L1035.4 1578.6L1035.4 1577.8L1035.3 1577.1L1035.2 1576.3L1035.1 1575.6L1035 1574.8L1035 1574.1L1034.9 1573.3L1034.8 1572.6L1034.8 1571.8L1034.7 1571.1L1034.7 1570.3L1034.7 1569.6L1034.7 1568.8L1034.7 1568.1L1034.7 1567.3L1034.7 1566.6L1034.7 1565.8L1034.7 1565.1L1034.7 1564.3L1034.8 1563.6L1034.8 1562.8L1034.8 1562.1L1034.8 1561.3L1034.8 1560.6L1034.9 1559.8L1034.9 1559.1L1034.9 1558.3L1034.9 1557.6L1034.9 1556.8L1035 1556.1L1035 1555.3L1035 1554.6L1035 1553.8L1035.1 1553.1L1035.1 1552.3L1035.1 1551.6L1035.2 1550.8L1035.2 1550.1L1035.3 1549.3L1035.3 1548.6L1035.3 1547.8L1035.4 1547.1L1035.4 1546.3L1035.4 1545.6L1035.5 1544.8L1035.5 1544.1L1035.5 1543.3L1035.6 1542.6L1035.6 1541.8L1035.6 1541.1L1035.7 1540.3L1035.7 1539.6L1035.7 1538.8L1035.8 1538.1L1035.8 1537.3L1035.8 1536.6L1035.9 1535.8L1035.9 1535.1L1035.9 1534.3L1036 1533.6L1036 1532.8L1036 1532.1L1036 1531.3L1036.1 1530.6L1036.1 1529.8L1036.1 1529.1L1036.2 1528.3L1036.2 1527.6L1036.2 1526.8L1036.2 1526.1L1036.2 1525.3L1036.2 1524.6L1036.3 1523.8L1036.3 1523.1L1036.3 1522.3L1036.3 1521.6L1036.3 1520.8L1036.3 1520.1L1036.3 1519.3L1036.3 1518.6L1036.4 1517.8L1036.4 1517.1L1036.4 1516.3L1036.4 1515.6L1036.4 1514.8L1036.4 1514.1L1036.4 1513.3L1036.4 1512.6L1036.4 1511.8L1036.4 1511.1L1036.4 1510.3L1036.4 1509.6L1036.5 1508.8L1036.5 1508.1L1036.5 1507.3L1036.5 1506.6L1036.5 1505.8L1036.5 1505.1L1036.5 1504.3L1036.5 1503.6L1036.5 1502.8L1036.5 1502.1L1036.5 1501.3L1036.5 1500.6L1036.5 1499.8L1036.5 1499.1L1036.4 1498.3L1036.4 1497.6L1036.4 1496.8L1036.4 1496.1L1036.3 1495.3L1036.3 1494.6L1036.3 1493.8L1036.2 1493.1L1036.2 1492.3L1036.2 1491.6L1036.1 1490.8L1036.1 1490.1L1036.1 1489.3L1036.1 1488.6L1036.1 1487.8L1036 1487.1L1036 1486.3L1036 1485.6L1036 1484.8L1036 1484.1L1036.1 1483.3L1036.1 1482.6L1036.1 1481.8L1036.1 1481.1L1036.1 1480.3L1036.2 1479.6L1036.2 1478.8L1036.2 1478.1L1036.2 1477.3L1036.3 1476.6L1036.3 1475.8L1036.3 1475.1L1036.3 1474.3L1036.4 1473.6L1036.4 1472.8L1036.4 1472.1L1036.4 1471.3L1036.4 1470.6L1036.5 1469.8L1036.5 1469.1L1036.5 1468.3L1036.5 1467.6L1036.5 1466.8L1036.5 1466.1L1036.5 1465.3L1036.5 1464.6L1036.5 1463.8L1036.5 1463.1L1036.5 1462.3L1036.5 1461.6L1036.5 1460.8L1036.5 1460.1L1036.5 1459.3L1036.5 1458.6L1036.5 1457.8L1036.5 1457.1L1036.5 1456.3L1036.5 1455.6L1036.5 1454.8L1036.5 1454.1L1036.5 1453.3L1036.5 1452.6L1036.5 1451.8L1036.5 1451.1L1036.5 1450.3L1036.5 1449.6L1036.5 1448.8L1036.5 1448.1L1036.5 1447.3L1036.5 1446.6L1036.5 1445.8L1036.5 1445.1L1036.5 1444.3L1036.5 1443.6L1036.5 1442.8L1036.5 1442.1L1036.5 1441.3L1036.5 1440.6L1036.5 1439.8L1036.5 1439.1L1036.5 1438.3L1036.5 1437.6L1036.5 1436.8L1036.5 1436.1L1036.5 1435.3L1036.5 1434.6L1036.5 1433.8L1036.5 1433.1L1036.5 1432.3L1036.5 1431.6L1036.4 1430.8L1036.4 1430.1L1036.4 1429.3L1036.3 1428.6L1036.3 1427.8L1036.3 1427.1L1036.2 1426.3L1036.2 1425.6L1036.2 1424.8L1036.1 1424.1L1036.1 1423.3L1036.1 1422.6L1036 1421.8L1036 1421.1L1036 1420.3L1036 1419.6L1036 1418.8L1036.1 1418.1L1036.1 1417.3L1036.1 1416.6L1036.2 1415.8L1036.2 1415.1L1036.3 1414.3L1036.3 1413.6L1036.4 1412.8L1036.4 1412.1L1036.5 1411.3L1036.5 1410.6L1036.5 1409.8L1036.6 1409.1L1036.6 1408.3L1036.6 1407.6L1036.6 1406.8L1036.7 1406.1L1036.7 1405.3L1036.7 1404.6L1036.7 1403.8L1036.8 1403.1L1036.8 1402.3L1036.8 1401.6L1036.8 1400.8L1036.8 1400.1L1036.9 1399.3L1036.9 1398.6L1036.9 1397.8L1036.9 1397.1L1036.9 1396.3Z" fill="#6CC0C6" stroke="#333333" stroke-width="1.7" stroke-linejoin="round"/>
<g fill="none" stroke="#333333" stroke-width="1.5" opacity="0.75">
<path d="M1036.9 1610.2V1656.6M1036.9 1688.3V1691.7"/>
<rect x="1025.5" y="1656.6" width="22.8" height="31.7"/>
<path d="M1025.5 1677.4H1048.3" stroke-width="2.4"/>
</g>
<path d="M1062 1660.4h0M1043.4 1656.6h0M1021.6 1673.6h0M1040.5 1687h0M1059.3 1630.3h0M1014.7 1650.2h0M1070 1666.4h0M1062.1 1676.7h0M1072.2 1691.5h0M1012.1 1688.5h0M1056.9 1688.7h0M1062.6 1691.2h0M1038.1 1664h0M1035.3 1690.8h0M1003.8 1690.5h0M1003.6 1666.7h0M1032.6 1662h0M1001.3 1682.6h0M1039.5 1625.7h0M1047.9 1686.4h0M1056.2 1677.8h0M1038.7 1692.3h0M1063.8 1680h0M1010.3 1682.2h0M1071.7 1692.5h0M1035.3 1683.2h0M1014 1690.6h0M1038.5 1688.5h0M1059 1691h0M1011.1 1692h0M1051.2 1669.5h0M1005.6 1650h0M1051.2 1669.2h0M1028.2 1659.4h0M1070.9 1656.2h0M1033.5 1656.5h0M1033.5 1689.9h0M1045.5 1613.3h0M1041.5 1692.2h0M1039.2 1663.7h0M1023 1677h0M1040.5 1683h0M1058.8 1690.8h0M1004.8 1667h0M1003.1 1671.1h0M1064.8 1691.6h0M1051.7 1689.1h0M1070.1 1679.5h0M1030.2 1655h0M1007.1 1671.5h0M1002.6 1640.9h0M1061.4 1637h0M1013.1 1689.4h0M1023.7 1692.4h0M1037.3 1660.2h0M1039.2 1688.9h0M1015 1677.5h0M1032.6 1678.8h0M1063.7 1660.8h0M1037.2 1655.4h0M1013.6 1679.2h0M1019.2 1692h0M1037.5 1691h0M1028.7 1662.4h0M1064 1682.3h0M1041.5 1614.3h0M1012.2 1688.1h0M1025.6 1661.9h0M1058.1 1652.9h0M1015.9 1659.1h0M1059.5 1659.3h0M1027.4 1665.1h0M1045.4 1655.6h0M1062.7 1667.9h0M1033 1687h0M1056.2 1692h0M1051.8 1691.4h0M1052.6 1670.2h0M1065.4 1667.5h0M1023.9 1669.9h0M1006.7 1664.3h0M1020 1672.4h0M1017.7 1656.3h0M1004.4 1689h0M1072.6 1678.6h0M1023.9 1689.5h0M1023.5 1647.1h0M1019.8 1692.4h0M1066 1688.4h0M1069.8 1690.4h0M1060.2 1660.4h0M1032.8 1669.4h0M1038.4 1651.1h0M1040 1674.6h0M1038.9 1665.4h0M1050.4 1690.2h0M1030.6 1674.6h0M1010.1 1658.8h0M1024.7 1689.5h0M1047.6 1664.6h0M1002.8 1648.1h0M1021.7 1690.6h0M1053.2 1627.6h0M1059.3 1636.2h0M1008.3 1686.1h0M1043.3 1648.8h0M1036.1 1689.9h0M1037.7 1689.4h0M1067.8 1690.9h0M1040.9 1687.1h0M1013.7 1674.6h0M1039.2 1692.1h0M1017.8 1666.7h0M1009 1680.1h0M1045.5 1672.6h0M1016.6 1670.7h0M1044 1690.3h0M1051 1653.4h0M1058.9 1683.2h0M1021.5 1690.6h0M1017.9 1641.7h0M1033.7 1684.1h0M1049.5 1687h0M1017.9 1676.5h0M1043.9 1637.4h0M1054.9 1685.3h0M1037.3 1687.3h0M1064.3 1678.4h0M1001 1668.4h0M1019 1684.2h0M1021.2 1679.2h0M1033.4 1690.5h0M1035.2 1690.9h0M1055.1 1678.1h0M1023.7 1678.5h0M1041.3 1659.3h0M1050.5 1664.4h0M1032.1 1679.5h0M1059.5 1682.2h0M1063 1685.7h0M1072.2 1684.7h0M1005.8 1664.5h0M1026.3 1671.5h0M1058.2 1689.7h0M1002.8 1676.4h0M1051.7 1653.9h0M1067 1667.4h0M1055 1691.5h0M1047.5 1690.6h0M1038.9 1677h0M1056.3 1690h0M1067.2 1684.6h0M1062.9 1612.5h0M1056.8 1646.7h0M1070.5 1670.1h0M1019.3 1664h0M1003 1690.3h0M1044.2 1676.2h0M1063.5 1680.9h0M1026.3 1691.5h0M1053.9 1661.6h0M1004.6 1682.1h0M1034.1 1684.6h0M1036.3 1687h0M1062.5 1670.5h0M1034.7 1679.7h0M1005.1 1688.2h0M1045 1672.1h0M1059.6 1689.3h0M1009.8 1651.7h0M1005.6 1692.4h0M1050.4 1690.5h0M1042.6 1631.4h0M1036.9 1623.2h0M1010 1687.2h0M1007.8 1688.9h0M1028.1 1677.7h0M1051.6 1619.1h0M1054.5 1692.2h0M1020.9 1630.2h0M1046.2 1666.3h0M1065.2 1689.3h0M1058.6 1691.8h0M1019.6 1661.3h0M1020.9 1667.2h0M1056 1645.4h0M1022.3 1658.6h0M1027.4 1655.7h0M1023.7 1689.3h0M1054.5 1682h0M1048.7 1420.1h0M1053.7 1486.4h0M1058.2 1541.2h0M1021.3 1553.9h0M1066.6 1568.8h0M1047.8 1572.6h0M1032.9 1599.6h0M1039.4 1603h0M1024.3 1605.7h0M1029.9 1606.8h0M1049.6 1608.6h0M1063.4 1620.2h0M1009.1 1622.2h0M1046.4 1621.1h0" fill="none" stroke="#000" stroke-width="3.15" stroke-linecap="round"/>
<path d="M669.3 1227.1V1740.7H1174.8" fill="none" stroke="#262626" stroke-width="1.9" stroke-linejoin="round"/>
<path d="M664.7 1256.4H669.3M664.7 1366.2H669.3M664.7 1475.5H669.3M664.7 1585H669.3M664.7 1694.3H669.3M806.9 1740.7V1745.3M1036.9 1740.7V1745.3" fill="none" stroke="#333333" stroke-width="1.4"/>
<text x="661.7" y="1264.1" font-family="Liberation Sans, Arial, Helvetica, sans-serif" font-size="21.9" fill="#4D4D4D" text-anchor="end">400</text>
<text x="661.7" y="1373.9" font-family="Liberation Sans, Arial, Helvetica, sans-serif" font-size="21.9" fill="#4D4D4D" text-anchor="end">300</text>
<text x="661.7" y="1483.2" font-family="Liberation Sans, Arial, Helvetica, sans-serif" font-size="21.9" fill="#4D4D4D" text-anchor="end">200</text>
<text x="661.7" y="1592.7" font-family="Liberation Sans, Arial, Helvetica, sans-serif" font-size="21.9" fill="#4D4D4D" text-anchor="end">100</text>
<text x="661.7" y="1702" font-family="Liberation Sans, Arial, Helvetica, sans-serif" font-size="21.9" fill="#4D4D4D" text-anchor="end">0</text>
<text x="806.9" y="1762.7" font-family="Liberation Sans, Arial, Helvetica, sans-serif" font-size="21.9" fill="#4D4D4D" text-anchor="middle">No</text>
<text x="1036.9" y="1762.7" font-family="Liberation Sans, Arial, Helvetica, sans-serif" font-size="21.9" fill="#4D4D4D" text-anchor="middle">Yes</text>
<text x="668.5" y="1214.2" font-family="Liberation Sans, Arial, Helvetica, sans-serif" font-size="33.4" fill="#000" text-anchor="start">M</text>
<text x="594" y="1216.6" font-family="Liberation Serif, Times New Roman, serif" font-size="33.4" fill="#000" text-anchor="start">H</text>
<text x="616.2" y="1483" font-family="Liberation Sans, Arial, Helvetica, sans-serif" font-size="30" fill="#000" text-anchor="middle" letter-spacing="-1.9" transform="rotate(-90 616.2 1483)">CRP</text>
<text x="786.3" y="1266.9" font-family="Liberation Sans, Arial, Helvetica, sans-serif" font-size="15" fill="#000" text-anchor="start">T−test, p = 0.41</text>
</g>
<g>
<path d="M1401.4 1521.9L1401.4 1522.7L1401.4 1523.4L1401.4 1524.2L1401.5 1524.9L1401.5 1525.7L1401.6 1526.4L1401.7 1527.2L1401.7 1527.9L1401.8 1528.7L1401.9 1529.4L1402 1530.2L1402.1 1530.9L1402.2 1531.7L1402.3 1532.4L1402.5 1533.2L1402.6 1533.9L1402.8 1534.7L1403 1535.4L1403.3 1536.2L1403.5 1536.9L1403.7 1537.7L1403.9 1538.4L1404.1 1539.2L1404.3 1539.9L1404.5 1540.7L1404.7 1541.4L1404.9 1542.2L1405 1542.9L1405.2 1543.7L1405.4 1544.4L1405.6 1545.2L1405.7 1545.9L1405.9 1546.7L1406 1547.4L1406.2 1548.2L1406.4 1548.9L1406.5 1549.7L1406.7 1550.4L1406.8 1551.2L1406.9 1551.9L1407 1552.7L1407 1553.4L1407 1554.2L1407 1554.9L1407 1555.7L1406.9 1556.4L1406.9 1557.2L1406.8 1557.9L1406.8 1558.7L1406.7 1559.4L1406.6 1560.2L1406.5 1560.9L1406.3 1561.7L1406.1 1562.4L1405.9 1563.2L1405.6 1563.9L1405.3 1564.7L1405 1565.4L1404.7 1566.2L1404.4 1566.9L1404.2 1567.7L1403.9 1568.4L1403.6 1569.2L1403.2 1569.9L1402.9 1570.7L1402.7 1571.4L1402.4 1572.2L1402.2 1572.9L1402.1 1573.7L1402 1574.4L1402 1575.2L1401.9 1575.9L1401.9 1576.7L1401.9 1577.4L1401.8 1578.2L1401.8 1578.9L1401.8 1579.7L1401.8 1580.4L1401.7 1581.2L1401.7 1581.9L1401.7 1582.7L1401.7 1583.4L1401.7 1584.2L1401.7 1584.9L1401.7 1585.7L1401.7 1586.4L1401.7 1587.2L1401.7 1587.9L1401.7 1588.7L1401.7 1589.4L1401.7 1590.2L1401.7 1590.9L1401.7 1591.7L1401.7 1592.4L1401.7 1593.2L1401.7 1593.9L1401.7 1594.7L1401.7 1595.4L1401.7 1596.2L1401.7 1596.9L1401.7 1597.7L1401.7 1598.4L1401.7 1599.2L1401.7 1599.9L1401.7 1600.7L1401.7 1601.4L1401.7 1602.2L1401.7 1602.9L1401.7 1603.7L1401.7 1604.4L1401.7 1605.2L1401.7 1605.9L1401.7 1606.7L1401.7 1607.4L1401.7 1608.2L1401.8 1608.9L1401.8 1609.7L1401.8 1610.4L1401.8 1611.2L1401.8 1611.9L1401.8 1612.7L1401.8 1613.4L1401.8 1614.2L1401.8 1614.9L1401.9 1615.7L1402 1616.4L1402.1 1617.2L1402.2 1617.9L1402.4 1618.7L1402.6 1619.4L1402.8 1620.2L1403 1620.9L1403.3 1621.7L1403.5 1622.4L1403.9 1623.2L1404.3 1623.9L1404.7 1624.7L1405.2 1625.4L1405.7 1626.2L1406.3 1626.9L1406.9 1627.7L1407.6 1628.4L1408.2 1629.2L1408.8 1629.9L1409.4 1630.7L1410 1631.4L1410.6 1632.2L1411.2 1632.9L1411.7 1633.7L1412.1 1634.4L1412.4 1635.2L1412.7 1635.9L1413 1636.7L1413.2 1637.4L1413.5 1638.2L1413.7 1638.9L1413.9 1639.7L1414.1 1640.4L1414.4 1641.2L1414.6 1641.9L1414.9 1642.7L1415.1 1643.4L1415.4 1644.2L1415.7 1644.9L1416.1 1645.7L1416.5 1646.4L1417 1647.2L1417.6 1647.9L1418.3 1648.7L1419 1649.4L1419.9 1650.2L1420.9 1650.9L1422.1 1651.7L1423.4 1652.4L1424.8 1653.2L1426.3 1653.9L1428 1654.7L1429.7 1655.4L1431.4 1656.2L1433.2 1656.9L1434.9 1657.7L1436.5 1658.4L1438.1 1659.2L1439.5 1659.9L1440.9 1660.7L1442.1 1661.4L1443 1662.2L1443.7 1662.9L1444.2 1663.7L1444.7 1664.4L1444.9 1665.2L1445 1665.9L1444.9 1666.7L1444.6 1667.4L1444.3 1668.2L1444.1 1668.9L1444.1 1669.7L1444.1 1670.4L1444.2 1671.2L1444.3 1671.9L1444.5 1672.7L1445 1673.4L1445.7 1674.2L1446.6 1674.9L1447.9 1675.7L1449.6 1676.4L1451.8 1677.2L1454.5 1677.9L1457.8 1678.7L1461.3 1679.4L1465.1 1680.2L1468.8 1680.9L1472.6 1681.7L1476.4 1682.4L1480.1 1683.2L1483.8 1683.9L1487.1 1684.7L1490 1685.4L1492.6 1686.2L1494.9 1686.9L1496.9 1687.7L1498.6 1688.4L1500 1689.2L1501 1689.9L1501.1 1690.7L1500.3 1691.4L1498.9 1692.2L1496.9 1692.9L1494.2 1693.7L1490.8 1694.4L1487.1 1695.2L1482.8 1695.9L1478 1696.7L1473 1697.4L1468 1698.2L1463 1698.9L1458 1699.7L1453 1700.4L1448 1701.2L1443 1701.9L1438.1 1702.7L1433.6 1703.4L1429.3 1704.2L1425.2 1704.9L1421.6 1705.7L1418.4 1706.4L1415.7 1707.2L1413.5 1707.9L1411.5 1708.7L1409.9 1709.4L1408.5 1710.2L1407.3 1710.9L1406.2 1711.7L1405.2 1712.4L1404.3 1713.2L1403.5 1713.9L1403 1714.7L1402.5 1715.4L1402 1716.2L1401.7 1716.9L1401.4 1717.7L1401.4 1718L1401.3 1717.7L1401.1 1716.9L1400.7 1716.2L1400.3 1715.4L1399.8 1714.7L1399.2 1713.9L1398.5 1713.2L1397.6 1712.4L1396.6 1711.7L1395.5 1710.9L1394.3 1710.2L1392.9 1709.4L1391.2 1708.7L1389.3 1707.9L1387 1707.2L1384.4 1706.4L1381.2 1705.7L1377.5 1704.9L1373.5 1704.2L1369.2 1703.4L1364.6 1702.7L1359.8 1701.9L1354.8 1701.2L1349.8 1700.4L1344.8 1699.7L1339.8 1698.9L1334.8 1698.2L1329.8 1697.4L1324.8 1696.7L1319.9 1695.9L1315.6 1695.2L1311.9 1694.4L1308.6 1693.7L1305.9 1692.9L1303.9 1692.2L1302.4 1691.4L1301.7 1690.7L1301.8 1689.9L1302.7 1689.2L1304.2 1688.4L1305.9 1687.7L1307.9 1686.9L1310.2 1686.2L1312.8 1685.4L1315.7 1684.7L1319 1683.9L1322.6 1683.2L1326.4 1682.4L1330.2 1681.7L1333.9 1680.9L1337.7 1680.2L1341.4 1679.4L1345 1678.7L1348.2 1677.9L1351 1677.2L1353.2 1676.4L1354.9 1675.7L1356.2 1674.9L1357.1 1674.2L1357.8 1673.4L1358.2 1672.7L1358.4 1671.9L1358.6 1671.2L1358.6 1670.4L1358.7 1669.7L1358.6 1668.9L1358.5 1668.2L1358.2 1667.4L1357.9 1666.7L1357.8 1665.9L1357.9 1665.2L1358.1 1664.4L1358.5 1663.7L1359.1 1662.9L1359.8 1662.2L1360.7 1661.4L1361.9 1660.7L1363.3 1659.9L1364.7 1659.2L1366.2 1658.4L1367.9 1657.7L1369.6 1656.9L1371.3 1656.2L1373.1 1655.4L1374.8 1654.7L1376.4 1653.9L1378 1653.2L1379.4 1652.4L1380.7 1651.7L1381.8 1650.9L1382.9 1650.2L1383.7 1649.4L1384.5 1648.7L1385.2 1647.9L1385.7 1647.2L1386.3 1646.4L1386.7 1645.7L1387 1644.9L1387.3 1644.2L1387.6 1643.4L1387.9 1642.7L1388.1 1641.9L1388.4 1641.2L1388.6 1640.4L1388.9 1639.7L1389.1 1638.9L1389.3 1638.2L1389.5 1637.4L1389.8 1636.7L1390 1635.9L1390.3 1635.2L1390.7 1634.4L1391.1 1633.7L1391.6 1632.9L1392.1 1632.2L1392.7 1631.4L1393.3 1630.7L1393.9 1629.9L1394.5 1629.2L1395.2 1628.4L1395.9 1627.7L1396.5 1626.9L1397.1 1626.2L1397.6 1625.4L1398 1624.7L1398.5 1623.9L1398.9 1623.2L1399.2 1622.4L1399.5 1621.7L1399.7 1620.9L1400 1620.2L1400.2 1619.4L1400.4 1618.7L1400.5 1617.9L1400.7 1617.2L1400.8 1616.4L1400.9 1615.7L1400.9 1614.9L1400.9 1614.2L1401 1613.4L1401 1612.7L1401 1611.9L1401 1611.2L1401 1610.4L1401 1609.7L1401 1608.9L1401 1608.2L1401 1607.4L1401 1606.7L1401 1605.9L1401 1605.2L1401 1604.4L1401 1603.7L1401 1602.9L1401 1602.2L1401 1601.4L1401 1600.7L1401 1599.9L1401 1599.2L1401 1598.4L1401 1597.7L1401 1596.9L1401 1596.2L1401 1595.4L1401 1594.7L1401 1593.9L1401 1593.2L1401 1592.4L1401 1591.7L1401 1590.9L1401 1590.2L1401 1589.4L1401 1588.7L1401 1587.9L1401 1587.2L1401 1586.4L1401 1585.7L1401 1584.9L1401 1584.2L1401 1583.4L1401 1582.7L1401 1581.9L1401 1581.2L1401 1580.4L1401 1579.7L1401 1578.9L1400.9 1578.2L1400.9 1577.4L1400.9 1576.7L1400.8 1575.9L1400.8 1575.2L1400.7 1574.4L1400.7 1573.7L1400.6 1572.9L1400.4 1572.2L1400.1 1571.4L1399.8 1570.7L1399.5 1569.9L1399.2 1569.2L1398.9 1568.4L1398.6 1567.7L1398.4 1566.9L1398.1 1566.2L1397.8 1565.4L1397.5 1564.7L1397.2 1563.9L1396.9 1563.2L1396.6 1562.4L1396.4 1561.7L1396.3 1560.9L1396.2 1560.2L1396.1 1559.4L1396 1558.7L1395.9 1557.9L1395.9 1557.2L1395.8 1556.4L1395.8 1555.7L1395.8 1554.9L1395.7 1554.2L1395.7 1553.4L1395.8 1552.7L1395.9 1551.9L1396 1551.2L1396.1 1550.4L1396.2 1549.7L1396.4 1548.9L1396.6 1548.2L1396.7 1547.4L1396.9 1546.7L1397 1545.9L1397.2 1545.2L1397.4 1544.4L1397.6 1543.7L1397.7 1542.9L1397.9 1542.2L1398.1 1541.4L1398.3 1540.7L1398.5 1539.9L1398.7 1539.2L1398.9 1538.4L1399.1 1537.7L1399.3 1536.9L1399.5 1536.2L1399.7 1535.4L1399.9 1534.7L1400.1 1533.9L1400.3 1533.2L1400.5 1532.4L1400.6 1531.7L1400.7 1530.9L1400.8 1530.2L1400.9 1529.4L1401 1528.7L1401 1527.9L1401.1 1527.2L1401.2 1526.4L1401.2 1525.7L1401.3 1524.9L1401.3 1524.2L1401.4 1523.4L1401.4 1522.7L1401.4 1521.9Z" fill="#DE756E" stroke="#333333" stroke-width="1.7" stroke-linejoin="round"/>
<g fill="none" stroke="#333333" stroke-width="1.5" opacity="1">
<path d="M1401.4 1635.1V1665.2M1401.4 1691.5V1693.9"/>
<rect x="1390" y="1665.2" width="22.8" height="26.3"/>
<path d="M1390 1686.7H1412.8" stroke-width="3.0"/>
</g>
<path d="M1396.9 1678.5h0M1381.5 1683.1h0M1394.5 1639.5h0M1376.4 1688.6h0M1405.1 1678.2h0M1380 1655.8h0M1397.9 1657h0M1386.6 1694.7h0M1407.1 1661.8h0M1416.6 1694.9h0M1408.7 1639.3h0M1368.9 1692.5h0M1404.9 1689.5h0M1374.9 1691.5h0M1377 1680.7h0M1409 1648.9h0M1411.5 1687.8h0M1399 1694.3h0M1392 1657.4h0M1378.7 1683.4h0M1434.2 1658.8h0M1387.1 1693.5h0M1395.7 1683.4h0M1421.2 1691.9h0M1406.9 1687.1h0M1370.8 1686.1h0M1391.3 1691.5h0M1379.5 1686.3h0M1373.7 1691.7h0M1373.5 1694.3h0M1429.9 1687.9h0M1376.8 1694.7h0M1429.8 1638.9h0M1411 1690.1h0M1410.8 1681.9h0M1412.5 1680.7h0M1366.1 1666h0M1386.5 1690.7h0M1431.7 1694.6h0M1407.8 1694h0M1422.1 1694.6h0M1401.5 1671h0M1376.9 1666.8h0M1423.2 1670.9h0M1418.1 1691.7h0M1370.4 1690.8h0M1427.6 1694h0M1412 1662.3h0M1388.3 1646.1h0M1409 1690h0M1416.6 1690.8h0M1387.7 1691.4h0M1427.4 1694.8h0M1415.2 1687.9h0M1366.5 1647.9h0M1428 1694.5h0M1425.7 1686.7h0M1411.8 1687.2h0M1386.7 1647.2h0M1437 1659.8h0M1378.7 1693.1h0M1416.9 1694.1h0M1365.4 1687h0M1365.6 1681.3h0M1378 1674.6h0M1411.7 1660.5h0M1431.7 1690.2h0M1408.1 1694.9h0M1422.1 1690.5h0M1376 1689.7h0M1432.8 1673.4h0M1416.7 1691.4h0M1382.3 1643.5h0M1371.8 1678.2h0M1428.5 1665.3h0M1410 1544.6h0M1386 1555h0M1420.4 1560.4h0M1384.2 1636.7h0M1434.7 1636.7h0M1395.1 1634h0M1421.1 1642.6h0M1396.6 1644.2h0M1376.9 1650.9h0M1369.7 1655.9h0" fill="none" stroke="#000" stroke-width="3.15" stroke-linecap="round"/>
<path d="M1631.2 1249.9L1631.2 1250.7L1631.2 1251.4L1631.2 1252.2L1631.2 1252.9L1631.2 1253.7L1631.2 1254.4L1631.2 1255.2L1631.2 1255.9L1631.2 1256.7L1631.2 1257.4L1631.2 1258.2L1631.2 1258.9L1631.2 1259.7L1631.2 1260.4L1631.2 1261.2L1631.2 1261.9L1631.2 1262.7L1631.2 1263.4L1631.2 1264.2L1631.2 1264.9L1631.2 1265.7L1631.2 1266.4L1631.2 1267.2L1631.2 1267.9L1631.2 1268.7L1631.2 1269.4L1631.2 1270.2L1631.2 1270.9L1631.2 1271.7L1631.2 1272.4L1631.2 1273.2L1631.2 1273.9L1631.2 1274.7L1631.2 1275.4L1631.2 1276.2L1631.2 1276.9L1631.2 1277.7L1631.2 1278.4L1631.2 1279.2L1631.2 1279.9L1631.2 1280.7L1631.2 1281.4L1631.2 1282.2L1631.2 1282.9L1631.2 1283.7L1631.2 1284.4L1631.2 1285.2L1631.2 1285.9L1631.2 1286.7L1631.2 1287.4L1631.2 1288.2L1631.2 1288.9L1631.2 1289.7L1631.2 1290.4L1631.2 1291.2L1631.2 1291.9L1631.3 1292.7L1631.3 1293.4L1631.3 1294.2L1631.3 1294.9L1631.3 1295.7L1631.3 1296.4L1631.3 1297.2L1631.3 1297.9L1631.3 1298.7L1631.3 1299.4L1631.3 1300.2L1631.3 1300.9L1631.3 1301.7L1631.3 1302.4L1631.3 1303.2L1631.3 1303.9L1631.3 1304.7L1631.3 1305.4L1631.3 1306.2L1631.3 1306.9L1631.3 1307.7L1631.3 1308.4L1631.3 1309.2L1631.3 1309.9L1631.3 1310.7L1631.3 1311.4L1631.3 1312.2L1631.3 1312.9L1631.3 1313.7L1631.3 1314.4L1631.3 1315.2L1631.3 1315.9L1631.3 1316.7L1631.3 1317.4L1631.3 1318.2L1631.3 1318.9L1631.3 1319.7L1631.3 1320.4L1631.3 1321.2L1631.3 1321.9L1631.3 1322.7L1631.3 1323.4L1631.3 1324.2L1631.3 1324.9L1631.3 1325.7L1631.3 1326.4L1631.3 1327.2L1631.3 1327.9L1631.3 1328.7L1631.3 1329.4L1631.3 1330.2L1631.3 1330.9L1631.3 1331.7L1631.3 1332.4L1631.3 1333.2L1631.3 1333.9L1631.3 1334.7L1631.3 1335.4L1631.3 1336.2L1631.3 1336.9L1631.3 1337.7L1631.3 1338.4L1631.3 1339.2L1631.3 1339.9L1631.3 1340.7L1631.3 1341.4L1631.3 1342.2L1631.3 1342.9L1631.3 1343.7L1631.3 1344.4L1631.3 1345.2L1631.3 1345.9L1631.3 1346.7L1631.3 1347.4L1631.3 1348.2L1631.3 1348.9L1631.3 1349.7L1631.3 1350.4L1631.3 1351.2L1631.3 1351.9L1631.3 1352.7L1631.3 1353.4L1631.4 1354.2L1631.4 1354.9L1631.4 1355.7L1631.4 1356.4L1631.4 1357.2L1631.4 1357.9L1631.4 1358.7L1631.4 1359.4L1631.4 1360.2L1631.4 1360.9L1631.4 1361.7L1631.4 1362.4L1631.4 1363.2L1631.4 1363.9L1631.4 1364.7L1631.4 1365.4L1631.4 1366.2L1631.4 1366.9L1631.4 1367.7L1631.4 1368.4L1631.4 1369.2L1631.4 1369.9L1631.4 1370.7L1631.4 1371.4L1631.4 1372.2L1631.4 1372.9L1631.4 1373.7L1631.4 1374.4L1631.4 1375.2L1631.4 1375.9L1631.4 1376.7L1631.4 1377.4L1631.4 1378.2L1631.4 1378.9L1631.4 1379.7L1631.4 1380.4L1631.4 1381.2L1631.4 1381.9L1631.4 1382.7L1631.4 1383.4L1631.4 1384.2L1631.4 1384.9L1631.4 1385.7L1631.5 1386.4L1631.5 1387.2L1631.5 1387.9L1631.5 1388.7L1631.5 1389.4L1631.5 1390.2L1631.5 1390.9L1631.5 1391.7L1631.5 1392.4L1631.5 1393.2L1631.5 1393.9L1631.6 1394.7L1631.6 1395.4L1631.6 1396.2L1631.6 1396.9L1631.6 1397.7L1631.7 1398.4L1631.7 1399.2L1631.7 1399.9L1631.7 1400.7L1631.7 1401.4L1631.8 1402.2L1631.8 1402.9L1631.8 1403.7L1631.8 1404.4L1631.8 1405.2L1631.9 1405.9L1631.9 1406.7L1631.9 1407.4L1631.9 1408.2L1631.9 1408.9L1631.9 1409.7L1631.9 1410.4L1631.9 1411.2L1631.9 1411.9L1631.9 1412.7L1631.9 1413.4L1631.9 1414.2L1631.9 1414.9L1631.9 1415.7L1631.8 1416.4L1631.8 1417.2L1631.8 1417.9L1631.8 1418.7L1631.8 1419.4L1631.8 1420.2L1631.7 1420.9L1631.7 1421.7L1631.7 1422.4L1631.7 1423.2L1631.6 1423.9L1631.6 1424.7L1631.6 1425.4L1631.6 1426.2L1631.6 1426.9L1631.5 1427.7L1631.5 1428.4L1631.5 1429.2L1631.5 1429.9L1631.5 1430.7L1631.5 1431.4L1631.5 1432.2L1631.5 1432.9L1631.5 1433.7L1631.5 1434.4L1631.5 1435.2L1631.5 1435.9L1631.5 1436.7L1631.5 1437.4L1631.5 1438.2L1631.5 1438.9L1631.5 1439.7L1631.5 1440.4L1631.5 1441.2L1631.5 1441.9L1631.5 1442.7L1631.5 1443.4L1631.5 1444.2L1631.5 1444.9L1631.5 1445.7L1631.5 1446.4L1631.5 1447.2L1631.5 1447.9L1631.5 1448.7L1631.5 1449.4L1631.6 1450.2L1631.6 1450.9L1631.6 1451.7L1631.6 1452.4L1631.6 1453.2L1631.6 1453.9L1631.6 1454.7L1631.6 1455.4L1631.6 1456.2L1631.6 1456.9L1631.6 1457.7L1631.6 1458.4L1631.7 1459.2L1631.7 1459.9L1631.7 1460.7L1631.7 1461.4L1631.7 1462.2L1631.7 1462.9L1631.7 1463.7L1631.7 1464.4L1631.7 1465.2L1631.7 1465.9L1631.7 1466.7L1631.8 1467.4L1631.8 1468.2L1631.8 1468.9L1631.8 1469.7L1631.8 1470.4L1631.8 1471.2L1631.8 1471.9L1631.8 1472.7L1631.8 1473.4L1631.8 1474.2L1631.8 1474.9L1631.8 1475.7L1631.8 1476.4L1631.9 1477.2L1631.9 1477.9L1631.9 1478.7L1631.9 1479.4L1631.9 1480.2L1631.9 1480.9L1631.9 1481.7L1631.9 1482.4L1631.9 1483.2L1631.9 1483.9L1631.9 1484.7L1631.9 1485.4L1631.9 1486.2L1631.9 1486.9L1631.9 1487.7L1631.9 1488.4L1631.9 1489.2L1631.9 1489.9L1631.9 1490.7L1631.9 1491.4L1631.9 1492.2L1631.9 1492.9L1631.9 1493.7L1631.9 1494.4L1631.9 1495.2L1631.9 1495.9L1631.9 1496.7L1631.9 1497.4L1631.8 1498.2L1631.8 1498.9L1631.8 1499.7L1631.8 1500.4L1631.8 1501.2L1631.8 1501.9L1631.8 1502.7L1631.8 1503.4L1631.8 1504.2L1631.8 1504.9L1631.7 1505.7L1631.7 1506.4L1631.7 1507.2L1631.7 1507.9L1631.7 1508.7L1631.7 1509.4L1631.7 1510.2L1631.7 1510.9L1631.7 1511.7L1631.7 1512.4L1631.7 1513.2L1631.7 1513.9L1631.7 1514.7L1631.7 1515.4L1631.8 1516.2L1631.8 1516.9L1631.9 1517.7L1631.9 1518.4L1631.9 1519.2L1632 1519.9L1632 1520.7L1632.1 1521.4L1632.1 1522.2L1632.1 1522.9L1632.1 1523.7L1632.1 1524.4L1632.1 1525.2L1632.1 1525.9L1632.1 1526.7L1632.1 1527.4L1632.1 1528.2L1632.1 1528.9L1632.1 1529.7L1632.1 1530.4L1632.1 1531.2L1632.1 1531.9L1632.1 1532.7L1632.1 1533.4L1632.1 1534.2L1632.1 1534.9L1632.1 1535.7L1632.1 1536.4L1632.1 1537.2L1632.1 1537.9L1632.1 1538.7L1632.1 1539.4L1632.1 1540.2L1632.1 1540.9L1632.1 1541.7L1632.1 1542.4L1632.1 1543.2L1632.1 1543.9L1632.1 1544.7L1632.1 1545.4L1632.1 1546.2L1632.1 1546.9L1632.1 1547.7L1632.2 1548.4L1632.2 1549.2L1632.2 1549.9L1632.3 1550.7L1632.3 1551.4L1632.4 1552.2L1632.5 1552.9L1632.6 1553.7L1632.6 1554.4L1632.7 1555.2L1632.8 1555.9L1632.9 1556.7L1633 1557.4L1633 1558.2L1633.1 1558.9L1633.2 1559.7L1633.3 1560.4L1633.5 1561.2L1633.6 1561.9L1633.7 1562.7L1633.9 1563.4L1634 1564.2L1634.1 1564.9L1634.2 1565.7L1634.3 1566.4L1634.4 1567.2L1634.5 1567.9L1634.6 1568.7L1634.6 1569.4L1634.7 1570.2L1634.8 1570.9L1634.8 1571.7L1634.9 1572.4L1635 1573.2L1635 1573.9L1635 1574.7L1635.1 1575.4L1635.1 1576.2L1635.1 1576.9L1635.1 1577.7L1635.1 1578.4L1635.1 1579.2L1635.1 1579.9L1635.1 1580.7L1635.1 1581.4L1635.1 1582.2L1635.1 1582.9L1635.1 1583.7L1635.1 1584.4L1635.1 1585.2L1635.1 1585.9L1635.1 1586.7L1635.1 1587.4L1635.1 1588.2L1635.1 1588.9L1635.1 1589.7L1635.2 1590.4L1635.2 1591.2L1635.2 1591.9L1635.2 1592.7L1635.3 1593.4L1635.3 1594.2L1635.3 1594.9L1635.4 1595.7L1635.4 1596.4L1635.5 1597.2L1635.6 1597.9L1635.6 1598.7L1635.7 1599.4L1635.8 1600.2L1635.9 1600.9L1636 1601.7L1636.1 1602.4L1636.2 1603.2L1636.3 1603.9L1636.4 1604.7L1636.5 1605.4L1636.7 1606.2L1636.8 1606.9L1637 1607.7L1637.1 1608.4L1637.3 1609.2L1637.5 1609.9L1637.7 1610.7L1637.9 1611.4L1638.1 1612.2L1638.4 1612.9L1638.7 1613.7L1638.9 1614.4L1639.2 1615.2L1639.5 1615.9L1639.7 1616.7L1640 1617.4L1640.3 1618.2L1640.6 1618.9L1640.9 1619.7L1641.2 1620.4L1641.5 1621.2L1641.8 1621.9L1642 1622.7L1642.1 1623.4L1642 1624.2L1642 1624.9L1641.9 1625.7L1641.9 1626.4L1641.9 1627.2L1641.9 1627.9L1642 1628.7L1642 1629.4L1642.1 1630.2L1642.2 1630.9L1642.2 1631.7L1642.3 1632.4L1642.5 1633.2L1642.6 1633.9L1642.8 1634.7L1643 1635.4L1643.3 1636.2L1643.5 1636.9L1643.8 1637.7L1644.1 1638.4L1644.5 1639.2L1644.8 1639.9L1645.2 1640.7L1645.6 1641.4L1646 1642.2L1646.3 1642.9L1646.7 1643.7L1647.1 1644.4L1647.5 1645.2L1647.8 1645.9L1648.1 1646.7L1648.4 1647.4L1648.7 1648.2L1648.9 1648.9L1649.2 1649.7L1649.5 1650.4L1649.8 1651.2L1650.1 1651.9L1650.4 1652.7L1650.8 1653.4L1651.1 1654.2L1651.5 1654.9L1651.9 1655.7L1652.3 1656.4L1652.7 1657.2L1653.2 1657.9L1653.7 1658.7L1654.3 1659.4L1654.9 1660.2L1655.5 1660.9L1656.2 1661.7L1657 1662.4L1657.8 1663.2L1658.7 1663.9L1659.6 1664.7L1660.7 1665.4L1661.8 1666.2L1663 1666.9L1664.2 1667.7L1665.5 1668.4L1666.9 1669.2L1668.4 1669.9L1670 1670.7L1671.7 1671.4L1673.5 1672.2L1675.4 1672.9L1677.4 1673.7L1679.4 1674.4L1681.5 1675.2L1683.7 1675.9L1686 1676.7L1688.3 1677.4L1690.8 1678.2L1693.6 1678.9L1696.6 1679.7L1699.8 1680.4L1703.1 1681.2L1706.5 1681.9L1709.9 1682.7L1713.2 1683.4L1716.4 1684.2L1719.5 1684.9L1722.6 1685.7L1725.5 1686.4L1728.3 1687.2L1730.8 1687.9L1732.8 1688.7L1734.2 1689.4L1734.6 1690.2L1733.7 1690.9L1731.8 1691.7L1729 1692.4L1725.2 1693.2L1720.6 1693.9L1715.6 1694.7L1710.6 1695.4L1705.5 1696.2L1700.1 1696.9L1694.5 1697.7L1688.9 1698.4L1683.1 1699.2L1677.1 1699.9L1671.1 1700.7L1665.1 1701.4L1659.3 1702.2L1654 1702.9L1649.5 1703.7L1645.8 1704.4L1642.9 1705.2L1640.5 1705.9L1638.7 1706.7L1637.2 1707.4L1636 1708.2L1635 1708.9L1634.2 1709.7L1633.5 1710.4L1632.9 1711.2L1632.4 1711.9L1631.9 1712.7L1631.5 1713.4L1631.3 1714.2L1631.2 1714.3L1631.2 1714.2L1631 1713.4L1630.6 1712.7L1630.1 1711.9L1629.6 1711.2L1628.9 1710.4L1628.3 1709.7L1627.5 1708.9L1626.5 1708.2L1625.3 1707.4L1623.8 1706.7L1621.9 1705.9L1619.6 1705.2L1616.6 1704.4L1612.9 1703.7L1608.4 1702.9L1603.2 1702.2L1597.4 1701.4L1591.4 1700.7L1585.4 1699.9L1579.4 1699.2L1573.5 1698.4L1567.9 1697.7L1562.4 1696.9L1557 1696.2L1551.9 1695.4L1546.8 1694.7L1541.9 1693.9L1537.3 1693.2L1533.5 1692.4L1530.7 1691.7L1528.7 1690.9L1527.8 1690.2L1528.2 1689.4L1529.7 1688.7L1531.7 1687.9L1534.1 1687.2L1537 1686.4L1539.9 1685.7L1542.9 1684.9L1546 1684.2L1549.3 1683.4L1552.6 1682.7L1556 1681.9L1559.4 1681.2L1562.6 1680.4L1565.8 1679.7L1568.9 1678.9L1571.7 1678.2L1574.2 1677.4L1576.5 1676.7L1578.7 1675.9L1580.9 1675.2L1583 1674.4L1585.1 1673.7L1587.1 1672.9L1589 1672.2L1590.7 1671.4L1592.4 1670.7L1594 1669.9L1595.5 1669.2L1597 1668.4L1598.3 1667.7L1599.5 1666.9L1600.7 1666.2L1601.8 1665.4L1602.8 1664.7L1603.8 1663.9L1604.7 1663.2L1605.5 1662.4L1606.2 1661.7L1606.9 1660.9L1607.6 1660.2L1608.2 1659.4L1608.8 1658.7L1609.3 1657.9L1609.8 1657.2L1610.2 1656.4L1610.6 1655.7L1611 1654.9L1611.3 1654.2L1611.7 1653.4L1612 1652.7L1612.3 1651.9L1612.7 1651.2L1613 1650.4L1613.2 1649.7L1613.5 1648.9L1613.8 1648.2L1614.1 1647.4L1614.3 1646.7L1614.6 1645.9L1615 1645.2L1615.4 1644.4L1615.7 1643.7L1616.1 1642.9L1616.5 1642.2L1616.9 1641.4L1617.3 1640.7L1617.6 1639.9L1618 1639.2L1618.3 1638.4L1618.7 1637.7L1619 1636.9L1619.2 1636.2L1619.4 1635.4L1619.6 1634.7L1619.8 1633.9L1620 1633.2L1620.1 1632.4L1620.2 1631.7L1620.3 1630.9L1620.4 1630.2L1620.5 1629.4L1620.5 1628.7L1620.6 1627.9L1620.6 1627.2L1620.6 1626.4L1620.6 1625.7L1620.5 1624.9L1620.4 1624.2L1620.4 1623.4L1620.5 1622.7L1620.7 1621.9L1620.9 1621.2L1621.2 1620.4L1621.5 1619.7L1621.9 1618.9L1622.2 1618.2L1622.5 1617.4L1622.7 1616.7L1623 1615.9L1623.3 1615.2L1623.5 1614.4L1623.8 1613.7L1624.1 1612.9L1624.3 1612.2L1624.6 1611.4L1624.8 1610.7L1625 1609.9L1625.1 1609.2L1625.3 1608.4L1625.5 1607.7L1625.6 1606.9L1625.8 1606.2L1625.9 1605.4L1626.1 1604.7L1626.2 1603.9L1626.3 1603.2L1626.4 1602.4L1626.5 1601.7L1626.6 1600.9L1626.7 1600.2L1626.8 1599.4L1626.8 1598.7L1626.9 1597.9L1627 1597.2L1627 1596.4L1627.1 1595.7L1627.1 1594.9L1627.2 1594.2L1627.2 1593.4L1627.2 1592.7L1627.3 1591.9L1627.3 1591.2L1627.3 1590.4L1627.3 1589.7L1627.3 1588.9L1627.4 1588.2L1627.4 1587.4L1627.4 1586.7L1627.4 1585.9L1627.4 1585.2L1627.4 1584.4L1627.4 1583.7L1627.4 1582.9L1627.4 1582.2L1627.4 1581.4L1627.4 1580.7L1627.4 1579.9L1627.4 1579.2L1627.4 1578.4L1627.4 1577.7L1627.4 1576.9L1627.4 1576.2L1627.4 1575.4L1627.4 1574.7L1627.5 1573.9L1627.5 1573.2L1627.6 1572.4L1627.6 1571.7L1627.7 1570.9L1627.8 1570.2L1627.8 1569.4L1627.9 1568.7L1628 1567.9L1628.1 1567.2L1628.2 1566.4L1628.3 1565.7L1628.4 1564.9L1628.5 1564.2L1628.6 1563.4L1628.7 1562.7L1628.9 1561.9L1629 1561.2L1629.1 1560.4L1629.2 1559.7L1629.3 1558.9L1629.4 1558.2L1629.5 1557.4L1629.6 1556.7L1629.7 1555.9L1629.7 1555.2L1629.8 1554.4L1629.9 1553.7L1630 1552.9L1630.1 1552.2L1630.1 1551.4L1630.2 1550.7L1630.2 1549.9L1630.3 1549.2L1630.3 1548.4L1630.3 1547.7L1630.3 1546.9L1630.3 1546.2L1630.3 1545.4L1630.3 1544.7L1630.3 1543.9L1630.3 1543.2L1630.3 1542.4L1630.3 1541.7L1630.3 1540.9L1630.3 1540.2L1630.3 1539.4L1630.3 1538.7L1630.3 1537.9L1630.3 1537.2L1630.3 1536.4L1630.3 1535.7L1630.3 1534.9L1630.3 1534.2L1630.3 1533.4L1630.3 1532.7L1630.3 1531.9L1630.3 1531.2L1630.3 1530.4L1630.3 1529.7L1630.3 1528.9L1630.3 1528.2L1630.3 1527.4L1630.3 1526.7L1630.3 1525.9L1630.3 1525.2L1630.3 1524.4L1630.3 1523.7L1630.3 1522.9L1630.4 1522.2L1630.4 1521.4L1630.4 1520.7L1630.5 1519.9L1630.5 1519.2L1630.6 1518.4L1630.6 1517.7L1630.6 1516.9L1630.7 1516.2L1630.7 1515.4L1630.8 1514.7L1630.8 1513.9L1630.8 1513.2L1630.8 1512.4L1630.8 1511.7L1630.8 1510.9L1630.8 1510.2L1630.8 1509.4L1630.8 1508.7L1630.8 1507.9L1630.7 1507.2L1630.7 1506.4L1630.7 1505.7L1630.7 1504.9L1630.7 1504.2L1630.7 1503.4L1630.7 1502.7L1630.7 1501.9L1630.7 1501.2L1630.7 1500.4L1630.6 1499.7L1630.6 1498.9L1630.6 1498.2L1630.6 1497.4L1630.6 1496.7L1630.6 1495.9L1630.6 1495.2L1630.6 1494.4L1630.6 1493.7L1630.6 1492.9L1630.6 1492.2L1630.6 1491.4L1630.6 1490.7L1630.6 1489.9L1630.6 1489.2L1630.6 1488.4L1630.6 1487.7L1630.6 1486.9L1630.6 1486.2L1630.6 1485.4L1630.6 1484.7L1630.6 1483.9L1630.6 1483.2L1630.6 1482.4L1630.6 1481.7L1630.6 1480.9L1630.6 1480.2L1630.6 1479.4L1630.6 1478.7L1630.6 1477.9L1630.6 1477.2L1630.6 1476.4L1630.6 1475.7L1630.6 1474.9L1630.6 1474.2L1630.7 1473.4L1630.7 1472.7L1630.7 1471.9L1630.7 1471.2L1630.7 1470.4L1630.7 1469.7L1630.7 1468.9L1630.7 1468.2L1630.7 1467.4L1630.7 1466.7L1630.7 1465.9L1630.7 1465.2L1630.8 1464.4L1630.8 1463.7L1630.8 1462.9L1630.8 1462.2L1630.8 1461.4L1630.8 1460.7L1630.8 1459.9L1630.8 1459.2L1630.8 1458.4L1630.8 1457.7L1630.8 1456.9L1630.8 1456.2L1630.9 1455.4L1630.9 1454.7L1630.9 1453.9L1630.9 1453.2L1630.9 1452.4L1630.9 1451.7L1630.9 1450.9L1630.9 1450.2L1630.9 1449.4L1630.9 1448.7L1630.9 1447.9L1630.9 1447.2L1630.9 1446.4L1631 1445.7L1631 1444.9L1631 1444.2L1631 1443.4L1631 1442.7L1631 1441.9L1631 1441.2L1631 1440.4L1631 1439.7L1631 1438.9L1631 1438.2L1631 1437.4L1631 1436.7L1631 1435.9L1631 1435.2L1631 1434.4L1631 1433.7L1631 1432.9L1631 1432.2L1631 1431.4L1631 1430.7L1631 1429.9L1631 1429.2L1630.9 1428.4L1630.9 1427.7L1630.9 1426.9L1630.9 1426.2L1630.9 1425.4L1630.8 1424.7L1630.8 1423.9L1630.8 1423.2L1630.8 1422.4L1630.8 1421.7L1630.7 1420.9L1630.7 1420.2L1630.7 1419.4L1630.7 1418.7L1630.7 1417.9L1630.6 1417.2L1630.6 1416.4L1630.6 1415.7L1630.6 1414.9L1630.6 1414.2L1630.6 1413.4L1630.6 1412.7L1630.6 1411.9L1630.6 1411.2L1630.6 1410.4L1630.6 1409.7L1630.6 1408.9L1630.6 1408.2L1630.6 1407.4L1630.6 1406.7L1630.6 1405.9L1630.6 1405.2L1630.6 1404.4L1630.7 1403.7L1630.7 1402.9L1630.7 1402.2L1630.7 1401.4L1630.7 1400.7L1630.8 1399.9L1630.8 1399.2L1630.8 1398.4L1630.8 1397.7L1630.9 1396.9L1630.9 1396.2L1630.9 1395.4L1630.9 1394.7L1630.9 1393.9L1630.9 1393.2L1631 1392.4L1631 1391.7L1631 1390.9L1631 1390.2L1631 1389.4L1631 1388.7L1631 1387.9L1631 1387.2L1631 1386.4L1631 1385.7L1631 1384.9L1631 1384.2L1631 1383.4L1631 1382.7L1631 1381.9L1631 1381.2L1631 1380.4L1631 1379.7L1631 1378.9L1631 1378.2L1631 1377.4L1631 1376.7L1631.1 1375.9L1631.1 1375.2L1631.1 1374.4L1631.1 1373.7L1631.1 1372.9L1631.1 1372.2L1631.1 1371.4L1631.1 1370.7L1631.1 1369.9L1631.1 1369.2L1631.1 1368.4L1631.1 1367.7L1631.1 1366.9L1631.1 1366.2L1631.1 1365.4L1631.1 1364.7L1631.1 1363.9L1631.1 1363.2L1631.1 1362.4L1631.1 1361.7L1631.1 1360.9L1631.1 1360.2L1631.1 1359.4L1631.1 1358.7L1631.1 1357.9L1631.1 1357.2L1631.1 1356.4L1631.1 1355.7L1631.1 1354.9L1631.1 1354.2L1631.1 1353.4L1631.1 1352.7L1631.1 1351.9L1631.1 1351.2L1631.1 1350.4L1631.1 1349.7L1631.1 1348.9L1631.1 1348.2L1631.1 1347.4L1631.1 1346.7L1631.1 1345.9L1631.1 1345.2L1631.1 1344.4L1631.1 1343.7L1631.1 1342.9L1631.1 1342.2L1631.1 1341.4L1631.1 1340.7L1631.1 1339.9L1631.2 1339.2L1631.2 1338.4L1631.2 1337.7L1631.2 1336.9L1631.2 1336.2L1631.2 1335.4L1631.2 1334.7L1631.2 1333.9L1631.2 1333.2L1631.2 1332.4L1631.2 1331.7L1631.2 1330.9L1631.2 1330.2L1631.2 1329.4L1631.2 1328.7L1631.2 1327.9L1631.2 1327.2L1631.2 1326.4L1631.2 1325.7L1631.2 1324.9L1631.2 1324.2L1631.2 1323.4L1631.2 1322.7L1631.2 1321.9L1631.2 1321.2L1631.2 1320.4L1631.2 1319.7L1631.2 1318.9L1631.2 1318.2L1631.2 1317.4L1631.2 1316.7L1631.2 1315.9L1631.2 1315.2L1631.2 1314.4L1631.2 1313.7L1631.2 1312.9L1631.2 1312.2L1631.2 1311.4L1631.2 1310.7L1631.2 1309.9L1631.2 1309.2L1631.2 1308.4L1631.2 1307.7L1631.2 1306.9L1631.2 1306.2L1631.2 1305.4L1631.2 1304.7L1631.2 1303.9L1631.2 1303.2L1631.2 1302.4L1631.2 1301.7L1631.2 1300.9L1631.2 1300.2L1631.2 1299.4L1631.2 1298.7L1631.2 1297.9L1631.2 1297.2L1631.2 1296.4L1631.2 1295.7L1631.2 1294.9L1631.2 1294.2L1631.2 1293.4L1631.2 1292.7L1631.2 1291.9L1631.2 1291.2L1631.2 1290.4L1631.2 1289.7L1631.2 1288.9L1631.2 1288.2L1631.2 1287.4L1631.2 1286.7L1631.2 1285.9L1631.2 1285.2L1631.2 1284.4L1631.2 1283.7L1631.2 1282.9L1631.2 1282.2L1631.2 1281.4L1631.2 1280.7L1631.2 1279.9L1631.2 1279.2L1631.2 1278.4L1631.2 1277.7L1631.2 1276.9L1631.2 1276.2L1631.2 1275.4L1631.2 1274.7L1631.2 1273.9L1631.2 1273.2L1631.2 1272.4L1631.2 1271.7L1631.2 1270.9L1631.2 1270.2L1631.2 1269.4L1631.2 1268.7L1631.2 1267.9L1631.2 1267.2L1631.2 1266.4L1631.2 1265.7L1631.2 1264.9L1631.2 1264.2L1631.2 1263.4L1631.2 1262.7L1631.2 1261.9L1631.2 1261.2L1631.2 1260.4L1631.2 1259.7L1631.2 1258.9L1631.2 1258.2L1631.2 1257.4L1631.2 1256.7L1631.2 1255.9L1631.2 1255.2L1631.2 1254.4L1631.2 1253.7L1631.2 1252.9L1631.2 1252.2L1631.2 1251.4L1631.2 1250.7L1631.2 1249.9Z" fill="#6CC0C6" stroke="#333333" stroke-width="1.7" stroke-linejoin="round"/>
<g fill="none" stroke="#333333" stroke-width="1.5" opacity="0.6">
<path d="M1631.2 1617V1659.3M1631.2 1691.7V1693.9"/>
<rect x="1619.8" y="1659.3" width="22.8" height="32.4"/>
<path d="M1619.8 1684.9H1642.6" stroke-width="2.4"/>
</g>
<path d="M1655.8 1659.4h0M1662.8 1685.9h0M1653.1 1690.2h0M1609.7 1685h0M1613.5 1675.8h0M1619.3 1691.9h0M1650.2 1656h0M1657.4 1678.4h0M1605 1620.4h0M1652.2 1694.6h0M1634.8 1645.5h0M1622.7 1689.2h0M1638.2 1692.1h0M1617.3 1691.1h0M1614.9 1694.7h0M1627.2 1673.5h0M1626.8 1692.5h0M1659.9 1657.9h0M1598 1687.6h0M1622.8 1693.7h0M1666.9 1692.6h0M1652.5 1674.5h0M1595.6 1694.2h0M1638.5 1645.9h0M1664.4 1630.5h0M1625 1677.9h0M1666 1667.4h0M1622.3 1692.8h0M1629 1688.9h0M1652 1687.5h0M1646.5 1690.7h0M1644.8 1686.3h0M1648 1684.3h0M1647.9 1679.3h0M1621.2 1671.5h0M1598 1681.9h0M1613.4 1657.4h0M1660.3 1692.5h0M1606 1673.4h0M1660.3 1658.4h0M1616.2 1688h0M1660.4 1686.8h0M1664.1 1694.4h0M1644.4 1664h0M1654.7 1684.6h0M1646.6 1693.5h0M1647.6 1671.4h0M1653.6 1662.1h0M1618.4 1658.1h0M1624.8 1674.4h0M1625 1633.7h0M1643.8 1658.3h0M1604.3 1694.8h0M1599.7 1687.8h0M1609.3 1647.4h0M1607.6 1674.1h0M1616.1 1665.8h0M1655.2 1638h0M1657 1645.7h0M1617.2 1641.2h0M1662.7 1694.6h0M1625.7 1691h0M1609.5 1622h0M1664.3 1647.1h0M1613.1 1670.5h0M1662.1 1694.3h0M1644.9 1689h0M1637.3 1654.3h0M1666.4 1680h0M1616.2 1684.3h0M1655 1692.2h0M1607.7 1685.7h0M1595.8 1676.1h0M1650.1 1625.4h0M1628.4 1694.7h0M1617.4 1649.1h0M1655.4 1676.6h0M1606.2 1693.6h0M1625 1623.2h0M1640.3 1675.7h0M1643.4 1658.5h0M1664.4 1670.1h0M1608.6 1687.6h0M1636.9 1676.6h0M1653.2 1686.1h0M1650.6 1688.5h0M1612.1 1693.7h0M1606.8 1685.7h0M1625.4 1676.1h0M1667.1 1665.7h0M1661.9 1693h0M1649.8 1672.7h0M1649.1 1660.1h0M1654.7 1685.3h0M1650.8 1695h0M1599.8 1640.5h0M1616.5 1690.7h0M1618.2 1685.2h0M1633.3 1677.3h0M1646 1630h0M1610.9 1689h0M1633 1689.4h0M1654.8 1664.7h0M1641.8 1653.8h0M1627.3 1644.6h0M1640.9 1661.8h0M1630.9 1691.7h0M1642.4 1641h0M1651.6 1685.6h0M1624.1 1626.7h0M1655.2 1682.2h0M1595.7 1691.2h0M1643.2 1688.2h0M1628.1 1638h0M1600.9 1663.2h0M1605.8 1691.1h0M1642.8 1690h0M1643.5 1692.9h0M1608 1635.2h0M1615.8 1673.8h0M1634.8 1658.2h0M1613.7 1691.2h0M1639.7 1661.4h0M1599.5 1687.5h0M1660.3 1658h0M1644.6 1687.1h0M1659.6 1657.6h0M1622.7 1694.4h0M1606.8 1643.8h0M1602.6 1678h0M1624 1677.5h0M1653.9 1667.4h0M1624.1 1693.6h0M1605.3 1634.5h0M1596.9 1668.9h0M1652.2 1690.3h0M1613.7 1693.5h0M1639.4 1638.1h0M1611.6 1642h0M1625.3 1648h0M1597.6 1659.7h0M1633.4 1685.9h0M1642.5 1693.4h0M1628.3 1623.7h0M1601.5 1661.1h0M1666.9 1626.2h0M1608.5 1662.4h0M1634.6 1658.6h0M1608.5 1674.4h0M1645.5 1685.9h0M1617.9 1687.7h0M1622.5 1690.5h0M1636.6 1687.8h0M1624.8 1662.7h0M1601.8 1691.8h0M1646.9 1691h0M1625.9 1688.3h0M1606.4 1694h0M1655.6 1655.3h0M1607.4 1687.6h0M1658.4 1657.4h0M1639 1685.5h0M1650.7 1692.4h0M1645 1689.3h0M1666.3 1681.7h0M1667 1694.2h0M1661.5 1642.3h0M1601.3 1665.8h0M1664.6 1686.5h0M1664.9 1692.6h0M1646.3 1642.1h0M1610.2 1661.6h0M1636.1 1689.8h0M1657.2 1694.4h0M1656.6 1692.3h0M1611.1 1694.5h0M1648.3 1687.1h0M1620.3 1642.8h0M1636.1 1676.1h0M1610.3 1676h0M1610.4 1671.6h0M1639.2 1662.4h0M1628.6 1656.6h0M1646.4 1688.2h0M1632.2 1690.1h0M1620.9 1694.7h0M1617.5 1659.2h0M1663.3 1694.7h0M1606.1 1694h0M1609.4 1692.6h0M1611.3 1691h0M1666.4 1686h0M1634.1 1682.7h0M1657.4 1694.2h0M1665.8 1689h0M1600.8 1630.2h0M1616.2 1685.6h0M1627.1 1632.8h0M1642.6 1659.3h0M1620 1680.5h0M1634.4 1621.8h0M1601.9 1694.8h0M1655.4 1682.9h0M1646.5 1693.8h0M1645.6 1690.7h0M1633 1691.2h0M1622.3 1677.6h0M1656.5 1682.4h0M1648.5 1652.6h0M1624.2 1649.9h0M1639.7 1652.8h0M1633.9 1634.4h0M1653.3 1694.4h0M1620.1 1689.4h0M1637.1 1686h0M1617.1 1674.6h0M1608.6 1678.7h0M1607.7 1685.6h0M1602.1 1694.1h0M1652.1 1693.7h0M1601.6 1638.5h0M1636.2 1634.1h0M1657.4 1688h0M1598.3 1626.1h0M1651.1 1694.2h0M1659.4 1691h0M1666.4 1662.4h0M1665.6 1692.7h0M1663.2 1652.3h0M1623.3 1685.7h0M1634.5 1687.3h0M1662.6 1685.9h0M1634.4 1692.5h0M1617.7 1675.4h0M1626.2 1691.8h0M1660.3 1672.5h0M1628.6 1694.2h0M1620.7 1685.7h0M1632.8 1692h0M1655.5 1663.5h0M1654.2 1692.7h0M1636.9 1655.2h0M1606.5 1693.8h0M1635.5 1692.2h0M1608.6 1691.8h0M1611.7 1661.1h0M1609.5 1688.1h0M1633 1685.6h0M1608.2 1692.5h0M1597.8 1694h0M1606.4 1692.5h0M1616.3 1667.4h0M1624.3 1681.8h0M1596.6 1690.7h0M1601.8 1687.4h0M1653.5 1693.4h0M1660.8 1688.2h0M1658.7 1686h0M1631.3 1666.9h0M1606.4 1664.3h0M1616 1694.9h0M1638.2 1687.9h0M1633.7 1657.6h0M1664.1 1688h0M1632.4 1662.7h0M1626 1687h0M1617.8 1683.4h0M1628.3 1628.5h0M1659.5 1687.7h0M1666.6 1664.3h0M1641.3 1694.9h0M1621.5 1641.8h0M1665.1 1668.3h0M1650.9 1667.2h0M1660 1675.9h0M1599 1688.6h0M1661.1 1691.9h0M1617.7 1676.1h0M1666.1 1655h0M1665 1686.1h0M1641.8 1673.3h0M1663 1692.4h0M1628.8 1648h0M1656.9 1689.8h0M1611 1681h0M1613.1 1671.3h0M1605.8 1686.8h0M1606.8 1689.5h0M1635.8 1694.7h0M1603.1 1640.4h0M1632.8 1654.7h0M1641 1631h0M1639.6 1619.9h0M1657.2 1693.2h0M1626.8 1684.9h0M1660.9 1678.7h0M1596.2 1692.6h0M1642.2 1672.3h0M1639 1659.2h0M1626.4 1687.3h0M1607.6 1684.2h0M1597 1687.4h0M1608.8 1683.8h0M1642.4 1652.9h0M1637 1685.4h0M1617.4 1693h0M1630.2 1675.2h0M1596.9 1642.4h0M1633.9 1652.8h0M1640.2 1680.6h0M1645.1 1624.7h0M1639.6 1688.6h0M1638.5 1672.3h0M1610 1684.7h0M1605.5 1692.6h0M1636.2 1649.7h0M1646.9 1691.4h0M1615.5 1634.1h0M1628.1 1646.7h0M1651.2 1658.7h0M1663.3 1690.6h0M1618.7 1691.7h0M1610.2 1694.9h0M1657.9 1620.7h0M1640 1692.9h0M1618.6 1659.3h0M1649.4 1692h0M1657.8 1638.3h0M1629.9 1687.4h0M1666.3 1689.7h0M1628.5 1694.4h0M1665.6 1677.2h0M1638.4 1693.4h0M1640.7 1694.2h0M1596 1685.8h0M1651.2 1658.1h0M1617.1 1633.9h0M1640.1 1678.2h0M1621.1 1693.6h0M1601.9 1690.2h0M1631 1623h0M1656.3 1687.9h0M1608.4 1694.8h0M1639.7 1666.6h0M1596.8 1658.8h0M1643.6 1688.9h0M1604.6 1655.8h0M1601 1662.3h0M1599.8 1690.5h0M1647.9 1693.7h0M1628.7 1639.2h0M1607.5 1642.6h0M1622.3 1686.2h0M1614.3 1690.4h0M1657.7 1689.3h0M1623.3 1694.4h0M1665.1 1685.7h0M1620.1 1687.9h0M1666.4 1637.6h0M1615 1689.2h0M1630.2 1637.3h0M1648.3 1681.9h0M1639.3 1683.9h0M1653.2 1685.3h0M1620.4 1653.7h0M1620 1692h0M1604.9 1691.6h0M1662.6 1626.1h0M1666 1653.9h0M1638.9 1659.2h0M1603.2 1648.6h0M1602.4 1691h0M1611.6 1681.6h0M1644.3 1678.6h0M1610.3 1692.3h0M1659.7 1689.2h0M1638.1 1645.8h0M1612.6 1688.8h0M1649.5 1689.5h0M1659 1694h0M1609.2 1692.9h0M1659.9 1691.1h0M1610.9 1668h0M1596.8 1629.7h0M1597.3 1635.6h0M1621.9 1631.5h0M1629.3 1682.4h0M1661.8 1643.5h0M1666 1664.1h0M1623.1 1676h0M1635.8 1693.6h0M1643.7 1690.9h0M1633.3 1635h0M1648.1 1657.9h0M1617.5 1668h0M1628.9 1690.1h0M1633.8 1622.8h0M1665.3 1692.2h0M1638.8 1646h0M1658.3 1687.8h0M1661.3 1651.6h0M1629.8 1687.6h0M1655.2 1694.9h0M1641.4 1635.1h0M1608.1 1693.7h0M1598.7 1672.1h0M1620.8 1666h0M1629.4 1692.4h0M1639.4 1624.1h0M1632 1693.8h0M1625 1694.5h0M1659.5 1639h0M1633.4 1676.8h0M1605.6 1693.8h0M1655 1686.8h0M1656.8 1689.5h0M1595.3 1694.4h0M1640.4 1638.2h0M1625.9 1693.2h0M1656.3 1688.3h0M1598.1 1691.2h0M1602.5 1687.2h0M1629.8 1620.5h0M1606.4 1677.9h0M1614.8 1685.3h0M1624.6 1690h0M1645.4 1671.3h0M1625.1 1692.4h0M1643.3 1658.3h0M1657.8 1663h0M1622.8 1694.7h0M1642 1692.8h0M1649.9 1687.3h0M1597.5 1691.7h0M1597 1691.4h0M1628.4 1672.4h0M1646 1664.3h0M1613.3 1685.5h0M1595.6 1695.1h0M1649.4 1692.5h0M1612.6 1667.1h0M1641.8 1694.9h0M1621.6 1693.3h0M1625.3 1688.6h0M1664.7 1691.1h0M1657.9 1685.8h0M1622.7 1692.5h0M1608.4 1659.9h0M1643.7 1637.8h0M1655.6 1673.8h0M1625.5 1694.1h0M1613.3 1639.9h0M1608.4 1637.9h0M1623.1 1685.3h0M1601.9 1648.6h0M1598.3 1687.7h0M1663.2 1694.3h0M1615.8 1650.8h0M1601.3 1694h0M1647.3 1693.4h0M1661.5 1690.2h0M1632.9 1694.8h0M1657.4 1662.7h0M1617.6 1688.7h0M1599.8 1656.4h0M1633.4 1685.2h0M1647.1 1673.8h0M1606.4 1691.7h0M1601.1 1627.4h0M1620.1 1621.6h0M1611.5 1686.8h0M1622.4 1662.9h0M1618.7 1686.1h0M1661 1694.4h0M1643.7 1693.2h0M1656.9 1693.7h0M1634.2 1689.9h0M1615.4 1653.1h0M1613.4 1673.2h0M1665.6 1686h0M1655.3 1659.1h0M1666 1692.8h0M1633.4 1621h0M1660.7 1649.5h0M1622 1685.1h0M1595.3 1635.3h0M1625.7 1659.1h0M1629 1658.6h0M1628.1 1676.4h0M1661.7 1682.3h0M1654.7 1676.2h0M1595.9 1690.6h0M1625.5 1691.1h0M1664.1 1681.6h0M1603.5 1685.2h0M1622.7 1673.4h0M1640 1692.1h0M1665.6 1651.6h0M1601.7 1685.4h0M1664.9 1692.8h0M1607 1634.7h0M1612.8 1686.9h0M1625.2 1694.3h0M1599.6 1626.6h0M1627.3 1693.8h0M1601.9 1659h0M1652.1 1694.3h0M1615.8 1666.7h0M1628.2 1633.6h0M1655 1656.8h0M1662.9 1645.6h0M1604.4 1617.3h0M1597.7 1692.2h0M1649.2 1691.6h0M1597.1 1692.7h0M1651.3 1644.9h0M1633.7 1689h0M1650.1 1693.2h0M1600.2 1694.9h0M1637 1693.7h0M1647.1 1692.9h0M1645.5 1694.3h0M1622.3 1617.1h0M1632.1 1665.6h0M1609.4 1692.3h0M1622.6 1683.8h0M1596.1 1692h0M1664.7 1654.6h0M1666.6 1694.4h0M1603.4 1683h0M1597.9 1663.3h0M1602.6 1694.6h0M1655.4 1646.3h0M1597.5 1692.2h0M1650.7 1691.8h0M1643.2 1660.9h0M1665.6 1650.5h0M1633.8 1690.2h0M1626.2 1658.5h0M1660.2 1668.9h0M1599.6 1687.5h0M1612.1 1632.6h0M1598.5 1692.2h0M1658.9 1675.2h0M1611.4 1692.4h0M1631.9 1692.5h0M1621.5 1689.3h0M1599.1 1684.3h0M1645.4 1631.4h0M1616.6 1688.2h0M1641.9 1268.5h0M1665.2 1407h0M1643.5 1421.5h0M1648.2 1487.8h0M1628.3 1495.9h0M1650.9 1505.9h0M1621.7 1524.7h0M1640.1 1526.2h0M1652.7 1542.3h0M1603.8 1552.3h0M1644.1 1566.1h0M1654.3 1565.8h0M1660.9 1569.9h0M1636.9 1571.1h0M1642.5 1573.8h0M1610.9 1574.7h0M1605.4 1576.3h0M1610.9 1578.5h0M1625.6 1580.3h0M1656.6 1582.6h0M1603.2 1589.8h0M1607.5 1590.5h0M1612 1589.2h0M1617.7 1590.7h0M1643.2 1595h0M1640.7 1599.6h0M1596.6 1601.8h0M1617.7 1601.8h0M1661.1 1605.5h0M1601.8 1607.7h0M1618.8 1606.8h0M1644.1 1610.2h0" fill="none" stroke="#000" stroke-width="3.15" stroke-linecap="round"/>
<path d="M1263.8 1227.1V1740.7H1768.7" fill="none" stroke="#262626" stroke-width="1.9" stroke-linejoin="round"/>
<path d="M1259.2 1257.8H1263.8M1259.2 1367.3H1263.8M1259.2 1476.6H1263.8M1259.2 1586.2H1263.8M1259.2 1695.5H1263.8M1401.4 1740.7V1745.3M1631.2 1740.7V1745.3" fill="none" stroke="#333333" stroke-width="1.4"/>
<text x="1256.2" y="1265.5" font-family="Liberation Sans, Arial, Helvetica, sans-serif" font-size="21.9" fill="#4D4D4D" text-anchor="end">400</text>
<text x="1256.2" y="1375" font-family="Liberation Sans, Arial, Helvetica, sans-serif" font-size="21.9" fill="#4D4D4D" text-anchor="end">300</text>
<text x="1256.2" y="1484.3" font-family="Liberation Sans, Arial, Helvetica, sans-serif" font-size="21.9" fill="#4D4D4D" text-anchor="end">200</text>
<text x="1256.2" y="1593.9" font-family="Liberation Sans, Arial, Helvetica, sans-serif" font-size="21.9" fill="#4D4D4D" text-anchor="end">100</text>
<text x="1256.2" y="1703.2" font-family="Liberation Sans, Arial, Helvetica, sans-serif" font-size="21.9" fill="#4D4D4D" text-anchor="end">0</text>
<text x="1401.4" y="1762.7" font-family="Liberation Sans, Arial, Helvetica, sans-serif" font-size="21.9" fill="#4D4D4D" text-anchor="middle">1</text>
<text x="1627.1" y="1762.4" font-family="Noto Sans CJK SC, Liberation Sans, sans-serif" font-size="20.4" fill="#5a5a5a" text-anchor="middle">≥</text><text x="1643.4" y="1762.7" font-family="Liberation Sans, Arial, Helvetica, sans-serif" font-size="21.9" fill="#4D4D4D" text-anchor="start">2</text>
<text x="1263" y="1214.2" font-family="Liberation Sans, Arial, Helvetica, sans-serif" font-size="33.4" fill="#000" text-anchor="start">Number</text>
<text x="1191" y="1216.6" font-family="Liberation Serif, Times New Roman, serif" font-size="33.4" fill="#000" text-anchor="start">I</text>
<text x="1210.2" y="1483" font-family="Liberation Sans, Arial, Helvetica, sans-serif" font-size="30" fill="#000" text-anchor="middle" letter-spacing="-1.9" transform="rotate(-90 1210.2 1483)">CRP</text>
<text x="1380.8" y="1268" font-family="Liberation Sans, Arial, Helvetica, sans-serif" font-size="15" fill="#000" text-anchor="start">T−test, p = 0.12</text>
</g>
<g>
<path d="M213.4 2105.2L213.4 2105.9L213.4 2106.7L213.4 2107.4L213.4 2108.2L213.4 2108.9L213.5 2109.7L213.5 2110.4L213.5 2111.2L213.5 2111.9L213.5 2112.7L213.6 2113.4L213.6 2114.2L213.6 2114.9L213.6 2115.7L213.7 2116.4L213.7 2117.2L213.7 2117.9L213.7 2118.7L213.8 2119.4L213.8 2120.2L213.8 2120.9L213.9 2121.7L213.9 2122.4L213.9 2123.2L214 2123.9L214 2124.7L214.1 2125.4L214.1 2126.2L214.2 2126.9L214.2 2127.7L214.3 2128.4L214.3 2129.2L214.4 2129.9L214.4 2130.7L214.5 2131.4L214.5 2132.2L214.6 2132.9L214.6 2133.7L214.6 2134.4L214.7 2135.2L214.7 2135.9L214.8 2136.7L214.8 2137.4L214.9 2138.2L214.9 2138.9L214.9 2139.7L215 2140.4L215 2141.2L215 2141.9L215 2142.7L214.9 2143.4L214.9 2144.2L214.9 2144.9L214.9 2145.7L214.8 2146.4L214.8 2147.2L214.8 2147.9L214.8 2148.7L214.8 2149.4L214.7 2150.2L214.8 2150.9L214.8 2151.7L214.8 2152.4L214.9 2153.2L214.9 2153.9L215 2154.7L215.1 2155.4L215.2 2156.2L215.3 2156.9L215.4 2157.7L215.5 2158.4L215.6 2159.2L215.7 2159.9L215.8 2160.7L216 2161.4L216.2 2162.2L216.3 2162.9L216.5 2163.7L216.7 2164.4L216.8 2165.2L217 2165.9L217.1 2166.7L217.2 2167.4L217.2 2168.2L217.2 2168.9L217.2 2169.7L217.2 2170.4L217.1 2171.2L217.1 2171.9L217 2172.7L217 2173.4L216.9 2174.2L216.8 2174.9L216.7 2175.7L216.6 2176.4L216.4 2177.2L216.3 2177.9L216.1 2178.7L215.8 2179.4L215.6 2180.2L215.4 2180.9L215.3 2181.7L215.1 2182.4L215 2183.2L214.9 2183.9L214.8 2184.7L214.6 2185.4L214.5 2186.2L214.4 2186.9L214.3 2187.7L214.2 2188.4L214.2 2189.2L214.1 2189.9L214.1 2190.7L214.1 2191.4L214.1 2192.2L214.1 2192.9L214.1 2193.7L214.1 2194.4L214.2 2195.2L214.2 2195.9L214.3 2196.7L214.3 2197.4L214.4 2198.2L214.4 2198.9L214.5 2199.7L214.5 2200.4L214.6 2201.2L214.8 2201.9L214.9 2202.7L215.1 2203.4L215.3 2204.2L215.5 2204.9L215.7 2205.7L215.9 2206.4L216.1 2207.2L216.4 2207.9L216.6 2208.7L216.8 2209.4L217.1 2210.2L217.3 2210.9L217.6 2211.7L217.9 2212.4L218.1 2213.2L218.4 2213.9L218.7 2214.7L219.1 2215.4L219.5 2216.2L219.8 2216.9L220.2 2217.7L220.5 2218.4L220.7 2219.2L220.9 2219.9L220.9 2220.7L221 2221.4L221.1 2222.2L221.1 2222.9L221.1 2223.7L221.2 2224.4L221.3 2225.2L221.4 2225.9L221.5 2226.7L221.7 2227.4L221.8 2228.2L222 2228.9L222.2 2229.7L222.3 2230.4L222.5 2231.2L222.7 2231.9L222.8 2232.7L223 2233.4L223.1 2234.2L223.2 2234.9L223.2 2235.7L223.1 2236.4L223 2237.2L222.8 2237.9L222.7 2238.7L222.6 2239.4L222.6 2240.2L222.6 2240.9L222.6 2241.7L222.6 2242.4L222.7 2243.2L222.7 2243.9L222.8 2244.7L222.9 2245.4L223.1 2246.2L223.4 2246.9L223.7 2247.7L224.1 2248.4L224.5 2249.2L224.9 2249.9L225.3 2250.7L225.7 2251.4L226.2 2252.2L226.6 2252.9L227.1 2253.7L227.5 2254.4L227.8 2255.2L228.1 2255.9L228.4 2256.7L228.7 2257.4L229 2258.2L229.4 2258.9L229.9 2259.7L230.5 2260.4L231.1 2261.2L231.9 2261.9L232.9 2262.7L234 2263.4L235.5 2264.2L237.2 2264.9L239 2265.7L240.7 2266.4L242.4 2267.2L244.1 2267.9L245.7 2268.7L247.4 2269.4L249 2270.2L250.6 2270.9L252.3 2271.7L254.3 2272.4L256.4 2273.2L258.8 2273.9L261.5 2274.7L264.6 2275.4L268.2 2276.2L272.3 2276.9L276.9 2277.7L281.5 2278.4L286.2 2279.2L290.9 2279.9L295.4 2280.7L299.7 2281.4L303.7 2282.2L307.3 2282.9L310.6 2283.7L313.4 2284.4L315.5 2285.2L316.7 2285.9L316.7 2286.7L315.1 2287.4L312 2288.2L307.3 2288.9L301.7 2289.7L295.7 2290.4L289.4 2291.2L282.8 2291.9L275.6 2292.7L268.2 2293.4L260.7 2294.2L253.5 2294.9L246.7 2295.7L239.9 2296.4L233.8 2297.2L228.8 2297.9L225.1 2298.7L222.2 2299.4L220 2300.2L218.4 2300.9L217.2 2301.7L216.1 2302.4L215.2 2303.2L214.3 2303.9L213.6 2304.7L213.4 2305L213.1 2304.7L212.4 2303.9L211.6 2303.2L210.6 2302.4L209.6 2301.7L208.3 2300.9L206.7 2300.2L204.6 2299.4L201.7 2298.7L197.9 2297.9L193 2297.2L186.8 2296.4L180 2295.7L173.2 2294.9L166 2294.2L158.6 2293.4L151.1 2292.7L144 2291.9L137.4 2291.2L131.1 2290.4L125 2289.7L119.4 2288.9L114.8 2288.2L111.6 2287.4L110 2286.7L110 2285.9L111.3 2285.2L113.4 2284.4L116.1 2283.7L119.5 2282.9L123.1 2282.2L127 2281.4L131.3 2280.7L135.9 2279.9L140.5 2279.2L145.2 2278.4L149.9 2277.7L154.4 2276.9L158.6 2276.2L162.2 2275.4L165.3 2274.7L168 2273.9L170.4 2273.2L172.5 2272.4L174.4 2271.7L176.2 2270.9L177.8 2270.2L179.4 2269.4L181 2268.7L182.7 2267.9L184.4 2267.2L186.1 2266.4L187.8 2265.7L189.6 2264.9L191.3 2264.2L192.8 2263.4L193.9 2262.7L194.8 2261.9L195.6 2261.2L196.3 2260.4L196.9 2259.7L197.4 2258.9L197.8 2258.2L198.1 2257.4L198.4 2256.7L198.7 2255.9L199 2255.2L199.3 2254.4L199.7 2253.7L200.2 2252.9L200.6 2252.2L201 2251.4L201.5 2250.7L201.9 2249.9L202.3 2249.2L202.7 2248.4L203.1 2247.7L203.4 2246.9L203.7 2246.2L203.8 2245.4L203.9 2244.7L204 2243.9L204.1 2243.2L204.1 2242.4L204.2 2241.7L204.2 2240.9L204.2 2240.2L204.2 2239.4L204.1 2238.7L204 2237.9L203.8 2237.2L203.7 2236.4L203.6 2235.7L203.6 2234.9L203.7 2234.2L203.8 2233.4L203.9 2232.7L204.1 2231.9L204.3 2231.2L204.5 2230.4L204.6 2229.7L204.8 2228.9L204.9 2228.2L205.1 2227.4L205.2 2226.7L205.4 2225.9L205.5 2225.2L205.6 2224.4L205.6 2223.7L205.7 2222.9L205.7 2222.2L205.8 2221.4L205.8 2220.7L205.9 2219.9L206.1 2219.2L206.3 2218.4L206.6 2217.7L207 2216.9L207.3 2216.2L207.7 2215.4L208 2214.7L208.4 2213.9L208.6 2213.2L208.9 2212.4L209.2 2211.7L209.4 2210.9L209.7 2210.2L209.9 2209.4L210.2 2208.7L210.4 2207.9L210.6 2207.2L210.8 2206.4L211.1 2205.7L211.3 2204.9L211.5 2204.2L211.7 2203.4L211.9 2202.7L212 2201.9L212.1 2201.2L212.2 2200.4L212.3 2199.7L212.4 2198.9L212.4 2198.2L212.5 2197.4L212.5 2196.7L212.6 2195.9L212.6 2195.2L212.6 2194.4L212.7 2193.7L212.7 2192.9L212.7 2192.2L212.7 2191.4L212.7 2190.7L212.7 2189.9L212.6 2189.2L212.6 2188.4L212.5 2187.7L212.4 2186.9L212.3 2186.2L212.1 2185.4L212 2184.7L211.9 2183.9L211.8 2183.2L211.6 2182.4L211.5 2181.7L211.3 2180.9L211.1 2180.2L210.9 2179.4L210.7 2178.7L210.5 2177.9L210.3 2177.2L210.2 2176.4L210 2175.7L210 2174.9L209.9 2174.2L209.8 2173.4L209.7 2172.7L209.7 2171.9L209.6 2171.2L209.6 2170.4L209.6 2169.7L209.5 2168.9L209.6 2168.2L209.6 2167.4L209.7 2166.7L209.8 2165.9L209.9 2165.2L210.1 2164.4L210.3 2163.7L210.4 2162.9L210.6 2162.2L210.8 2161.4L210.9 2160.7L211.1 2159.9L211.2 2159.2L211.3 2158.4L211.4 2157.7L211.5 2156.9L211.6 2156.2L211.7 2155.4L211.8 2154.7L211.8 2153.9L211.9 2153.2L212 2152.4L212 2151.7L212 2150.9L212 2150.2L212 2149.4L212 2148.7L212 2147.9L212 2147.2L211.9 2146.4L211.9 2145.7L211.9 2144.9L211.9 2144.2L211.8 2143.4L211.8 2142.7L211.8 2141.9L211.8 2141.2L211.8 2140.4L211.8 2139.7L211.9 2138.9L211.9 2138.2L211.9 2137.4L212 2136.7L212 2135.9L212.1 2135.2L212.1 2134.4L212.2 2133.7L212.2 2132.9L212.3 2132.2L212.3 2131.4L212.4 2130.7L212.4 2129.9L212.4 2129.2L212.5 2128.4L212.5 2127.7L212.6 2126.9L212.6 2126.2L212.7 2125.4L212.7 2124.7L212.8 2123.9L212.8 2123.2L212.9 2122.4L212.9 2121.7L212.9 2120.9L213 2120.2L213 2119.4L213 2118.7L213.1 2117.9L213.1 2117.2L213.1 2116.4L213.1 2115.7L213.2 2114.9L213.2 2114.2L213.2 2113.4L213.2 2112.7L213.3 2111.9L213.3 2111.2L213.3 2110.4L213.3 2109.7L213.3 2108.9L213.3 2108.2L213.4 2107.4L213.4 2106.7L213.4 2105.9L213.4 2105.2Z" fill="#DE756E" stroke="#333333" stroke-width="1.7" stroke-linejoin="round"/>
<g fill="none" stroke="#333333" stroke-width="1.5" opacity="0.6">
<path d="M213.4 2234.2V2264M213.4 2286.2V2289.6"/>
<rect x="202" y="2264" width="22.8" height="22.2"/>
<path d="M202 2281.7H224.8" stroke-width="2.4"/>
</g>
<path d="M234.5 2277.5h0M215.9 2265.8h0M225.9 2267.6h0M201 2284.9h0M184.3 2282.4h0M246.6 2282.1h0M205.1 2284.9h0M183.7 2286.6h0M197.6 2288.2h0M197.3 2272.4h0M188.4 2262.2h0M189.5 2242h0M234.4 2266.3h0M233.7 2274.1h0M223.6 2283.7h0M194.1 2285.3h0M226 2243.8h0M226.5 2289.4h0M204.5 2265.4h0M209.9 2284.5h0M242 2275.2h0M193.8 2288.7h0M185.7 2264.3h0M200 2272.8h0M185.9 2288.6h0M202.8 2275.9h0M212.6 2268.4h0M242.1 2287.2h0M224.5 2272.8h0M187.8 2257.4h0M192.8 2263.5h0M196.2 2272.8h0M203.6 2253.9h0M248.4 2234.2h0M231.4 2257.2h0M210.7 2243.3h0M180.5 2283.5h0M184.5 2286.9h0M202.4 2287.4h0M249.2 2279.2h0M237.3 2284.3h0M238.3 2255.7h0M182.3 2251.3h0M246.1 2285h0M217 2265.4h0M185.4 2286.4h0M213.1 2252.9h0M238.4 2264.7h0M248.3 2274.4h0M242.8 2246.8h0M197.3 2245.6h0M216.1 2263.9h0M236.4 2287.5h0M180.3 2289.3h0M228.4 2251.1h0M199.9 2288.6h0M203.3 2240.4h0M183.8 2288.2h0M241.8 2289h0M181.5 2285.5h0M202.5 2242.8h0M198.2 2285.3h0M206.2 2286.6h0M178.3 2287.2h0M181.3 2269.9h0M222.9 2260.3h0M198.5 2287.1h0M224 2277.8h0M181.3 2285.6h0M204.5 2289.1h0M207.9 2284.9h0M232.9 2281.2h0M188.7 2287.6h0M197 2282.1h0M199.4 2270.9h0M203.3 2287.6h0M211.2 2282.3h0M227.3 2264.5h0M217.6 2286.4h0M227.3 2264h0M205.8 2243.6h0M201.6 2287.6h0M245 2283.2h0M235.5 2277.8h0M207.7 2283.3h0M198.3 2285.6h0M190.7 2271.5h0M243.1 2288.6h0M210.8 2287.1h0M228.2 2278.8h0M214.5 2269h0M231.9 2283.2h0M200.6 2284.4h0M233.8 2287.8h0M226.6 2278.9h0M220.7 2288.6h0M232.1 2289.4h0M226 2279.2h0M235.2 2247.3h0M209.7 2245.1h0M187.8 2251.3h0M194.8 2245.3h0M208.9 2283.6h0M246.2 2285.6h0M248.1 2284.8h0M182.3 2289.3h0M229.7 2281.7h0M189.7 2265.2h0M231.3 2261h0M197.5 2252.5h0M190.1 2278.3h0M207.1 2286.9h0M237.7 2289.5h0M217 2241.2h0M209.9 2283h0M199.4 2289h0M197.2 2282.9h0M192.6 2247.9h0M222.7 2284.9h0M226.3 2282.9h0M178.9 2244.3h0M211.3 2286.5h0M221.4 2276.3h0M202.7 2275.3h0M223.8 2283.2h0M227.6 2267.4h0M190.4 2285.6h0M202.2 2235.4h0M221.7 2272.1h0M220.4 2286h0M190.8 2280.2h0M204.8 2287.4h0M239.2 2266.3h0M213.1 2277h0M244 2285.7h0M228.8 2276h0M195.3 2263.5h0M227.6 2274.7h0M178.1 2286.4h0M241.1 2284.3h0M192 2237h0M188.1 2280.9h0M229.2 2284.8h0M231 2287.9h0M207.5 2284h0M186.1 2281.8h0M236.2 2281.8h0M232.2 2288.2h0M203.7 2282.4h0M239.2 2289.1h0M215.9 2264h0M183 2285.9h0M223.7 2244.1h0M228.9 2280.7h0M241.8 2288.4h0M192.2 2289.1h0M230.5 2265.2h0M246.5 2289.4h0M190.9 2269.9h0M240.3 2278.5h0M230.4 2267.3h0M235 2288.6h0M199.8 2252.6h0M210 2269.7h0M182.8 2261.4h0M207.7 2273.5h0M185.4 2286.4h0M185.8 2269.3h0M193.4 2288h0M234.1 2288.6h0M184.5 2236.7h0M222.9 2289.4h0M181 2287h0M222.7 2285.3h0M232.7 2285.3h0M235.7 2264h0M194 2287.3h0M234.4 2288.4h0M200 2260.4h0M232.2 2288.6h0M216.1 2283.5h0M189.1 2259.4h0M235 2252.5h0M237 2289.3h0M236.9 2257h0M226.3 2285.7h0M197.8 2266.2h0M186.3 2280.8h0M205 2261.3h0M183.5 2287.5h0M227 2284.1h0M190.3 2289.5h0M242.4 2276.5h0M216.1 2249.4h0M183.7 2277.1h0M207.8 2287.1h0M190.7 2264.5h0M192.3 2269.5h0M206 2280.7h0M199.5 2253.6h0M221.7 2283.1h0M197.4 2269.6h0M217.9 2236.3h0M198.3 2286.1h0M206.6 2283.5h0M241.8 2284.3h0M211.6 2246.2h0M217.4 2287.1h0M189 2287.7h0M185.6 2282.7h0M238.4 2271.5h0M241.8 2289.4h0M236.3 2283.2h0M212.9 2284.1h0M224 2243.7h0M180 2258.9h0M236.4 2288h0M239.9 2268.9h0M184.6 2269.8h0M218.8 2249.4h0M183.8 2288.4h0M231.1 2278.2h0M198.4 2286.6h0M186.8 2287h0M220 2286.1h0M245.9 2284.5h0M227 2289h0M181.7 2273.9h0M216.7 2288.6h0M243.7 2254h0M215.2 2283.4h0M202.1 2281.8h0M232.3 2284.4h0M235.2 2286.7h0M215.1 2289.3h0M212.3 2287.2h0M188 2287.4h0M240.6 2289.3h0M202.7 2278.4h0M199.6 2285h0M243.6 2257.8h0M225.9 2282.8h0M182.4 2271.3h0M212 2288.4h0M180 2278.8h0M204.3 2255h0M234.9 2288.7h0M183.2 2287h0M188.4 2242.2h0M247.4 2286.8h0M223.5 2289h0M182.5 2288.4h0M204 2269.3h0M214.2 2287.5h0M233.8 2237.2h0M216.9 2287h0M236.5 2289.4h0M214.6 2253.6h0M208.5 2262.3h0M245.8 2283.1h0M205.3 2286.1h0M213.5 2287.1h0M196.2 2275.9h0M206.1 2264.7h0M189 2286.9h0M210.7 2289h0M179 2286.1h0M204 2285.8h0M198 2263.9h0M217.3 2256.4h0M206 2287.6h0M205.7 2289h0M242.4 2275.3h0M189.9 2270.9h0M232.4 2267.8h0M211.9 2285.3h0M222.4 2272.9h0M214.4 2279.8h0M181.6 2275.2h0M226.4 2275.2h0M222.2 2289.5h0M233.8 2259.6h0M203.5 2274.2h0M202.6 2282.8h0M240.1 2284.8h0M179 2268.1h0M201.7 2270.5h0M229.5 2282h0M200.8 2288.7h0M243.4 2284.1h0M237.4 2288.9h0M205.2 2236.8h0M226.8 2282.1h0M227.1 2268.7h0M224.9 2284h0M233.6 2258.6h0M223 2282.9h0M185.7 2261.5h0M235.4 2263.9h0M214.5 2264h0M208.6 2264h0M180.6 2272.9h0M190.3 2289.3h0M184.8 2263.2h0M222.3 2285.5h0M219.1 2283.2h0M188.9 2278.2h0M205.4 2270.4h0M201 2285.4h0M197.6 2284.5h0M214.2 2286.9h0M227.3 2260.8h0M178.7 2288.9h0M177.5 2246.3h0M233.3 2253.6h0M199.1 2286.7h0M208.8 2288.3h0M242.1 2286.6h0M217.4 2263.7h0M202.4 2283.9h0M204.1 2120.1h0M234.9 2137.7h0M222 2139.8h0M198 2150.4h0M232.4 2155.4h0M226.3 2161.1h0M243.3 2165.1h0M218.6 2166.5h0M224.7 2168.7h0M195.3 2169.4h0M193 2173h0M207.7 2175.8h0M184.9 2185.5h0M183.7 2203.1h0M242.8 2200.4h0M226.3 2205.2h0M230.8 2211.5h0M247.1 2212.2h0M192.3 2214.2h0M189.4 2217.2h0M222.4 2217.4h0M198.5 2219.9h0" fill="none" stroke="#000" stroke-width="3.15" stroke-linecap="round"/>
<path d="M443.4 1843.1L443.4 1843.8L443.4 1844.6L443.4 1845.3L443.4 1846.1L443.4 1846.8L443.4 1847.6L443.4 1848.3L443.4 1849.1L443.4 1849.8L443.4 1850.6L443.4 1851.3L443.4 1852.1L443.4 1852.8L443.4 1853.6L443.4 1854.3L443.4 1855.1L443.4 1855.8L443.4 1856.6L443.4 1857.3L443.4 1858.1L443.4 1858.8L443.4 1859.6L443.4 1860.3L443.4 1861.1L443.4 1861.8L443.4 1862.6L443.4 1863.3L443.4 1864.1L443.4 1864.8L443.4 1865.6L443.4 1866.3L443.4 1867.1L443.4 1867.8L443.4 1868.6L443.4 1869.3L443.4 1870.1L443.4 1870.8L443.4 1871.6L443.4 1872.3L443.4 1873.1L443.4 1873.8L443.4 1874.6L443.4 1875.3L443.4 1876.1L443.4 1876.8L443.4 1877.6L443.4 1878.3L443.4 1879.1L443.4 1879.8L443.4 1880.6L443.4 1881.3L443.4 1882.1L443.4 1882.8L443.4 1883.6L443.4 1884.3L443.4 1885.1L443.4 1885.8L443.4 1886.6L443.4 1887.3L443.4 1888.1L443.4 1888.8L443.4 1889.6L443.4 1890.3L443.4 1891.1L443.4 1891.8L443.4 1892.6L443.4 1893.3L443.4 1894.1L443.4 1894.8L443.4 1895.6L443.4 1896.3L443.4 1897.1L443.4 1897.8L443.4 1898.6L443.4 1899.3L443.4 1900.1L443.4 1900.8L443.4 1901.6L443.4 1902.3L443.4 1903.1L443.4 1903.8L443.4 1904.6L443.4 1905.3L443.4 1906.1L443.4 1906.8L443.4 1907.6L443.4 1908.3L443.4 1909.1L443.4 1909.8L443.4 1910.6L443.4 1911.3L443.4 1912.1L443.4 1912.8L443.4 1913.6L443.4 1914.3L443.4 1915.1L443.4 1915.8L443.4 1916.6L443.4 1917.3L443.5 1918.1L443.5 1918.8L443.5 1919.6L443.5 1920.3L443.5 1921.1L443.5 1921.8L443.5 1922.6L443.5 1923.3L443.5 1924.1L443.5 1924.8L443.5 1925.6L443.5 1926.3L443.5 1927.1L443.5 1927.8L443.5 1928.6L443.5 1929.3L443.5 1930.1L443.5 1930.8L443.5 1931.6L443.5 1932.3L443.5 1933.1L443.5 1933.8L443.5 1934.6L443.5 1935.3L443.5 1936.1L443.5 1936.8L443.5 1937.6L443.5 1938.3L443.5 1939.1L443.5 1939.8L443.5 1940.6L443.5 1941.3L443.5 1942.1L443.5 1942.8L443.5 1943.6L443.5 1944.3L443.5 1945.1L443.5 1945.8L443.5 1946.6L443.5 1947.3L443.5 1948.1L443.5 1948.8L443.5 1949.6L443.5 1950.3L443.5 1951.1L443.5 1951.8L443.5 1952.6L443.5 1953.3L443.5 1954.1L443.5 1954.8L443.5 1955.6L443.5 1956.3L443.5 1957.1L443.5 1957.8L443.5 1958.6L443.5 1959.3L443.6 1960.1L443.6 1960.8L443.6 1961.6L443.6 1962.3L443.6 1963.1L443.6 1963.8L443.6 1964.6L443.6 1965.3L443.6 1966.1L443.6 1966.8L443.6 1967.6L443.6 1968.3L443.6 1969.1L443.6 1969.8L443.6 1970.6L443.6 1971.3L443.6 1972.1L443.6 1972.8L443.6 1973.6L443.6 1974.3L443.6 1975.1L443.6 1975.8L443.6 1976.6L443.6 1977.3L443.6 1978.1L443.6 1978.8L443.6 1979.6L443.6 1980.3L443.6 1981.1L443.6 1981.8L443.6 1982.6L443.7 1983.3L443.7 1984.1L443.7 1984.8L443.7 1985.6L443.7 1986.3L443.7 1987.1L443.7 1987.8L443.8 1988.6L443.8 1989.3L443.8 1990.1L443.8 1990.8L443.8 1991.6L443.8 1992.3L443.9 1993.1L443.9 1993.8L443.9 1994.6L443.9 1995.3L443.9 1996.1L443.9 1996.8L443.9 1997.6L444 1998.3L444 1999.1L444 1999.8L444 2000.6L444 2001.3L444 2002.1L444 2002.8L444 2003.6L444 2004.3L444.1 2005.1L444.1 2005.8L444.1 2006.6L444.1 2007.3L444.1 2008.1L444.1 2008.8L444.1 2009.6L444.1 2010.3L444 2011.1L444 2011.8L444 2012.6L444 2013.3L444 2014.1L444 2014.8L444 2015.6L444 2016.3L443.9 2017.1L443.9 2017.8L443.9 2018.6L443.9 2019.3L443.9 2020.1L443.9 2020.8L443.8 2021.6L443.8 2022.3L443.8 2023.1L443.8 2023.8L443.8 2024.6L443.7 2025.3L443.7 2026.1L443.7 2026.8L443.7 2027.6L443.7 2028.3L443.7 2029.1L443.7 2029.8L443.6 2030.6L443.6 2031.3L443.6 2032.1L443.6 2032.8L443.6 2033.6L443.6 2034.3L443.6 2035.1L443.6 2035.8L443.6 2036.6L443.6 2037.3L443.6 2038.1L443.6 2038.8L443.6 2039.6L443.6 2040.3L443.6 2041.1L443.6 2041.8L443.6 2042.6L443.6 2043.3L443.6 2044.1L443.7 2044.8L443.7 2045.6L443.7 2046.3L443.7 2047.1L443.7 2047.8L443.7 2048.6L443.7 2049.3L443.7 2050.1L443.7 2050.8L443.7 2051.6L443.7 2052.3L443.7 2053.1L443.7 2053.8L443.8 2054.6L443.8 2055.3L443.8 2056.1L443.8 2056.8L443.8 2057.6L443.8 2058.3L443.8 2059.1L443.8 2059.8L443.8 2060.6L443.8 2061.3L443.9 2062.1L443.9 2062.8L443.9 2063.6L443.9 2064.3L443.9 2065.1L443.9 2065.8L443.9 2066.6L443.9 2067.3L443.9 2068.1L443.9 2068.8L443.9 2069.6L444 2070.3L444 2071.1L444 2071.8L444 2072.6L444 2073.3L444 2074.1L444 2074.8L444 2075.6L444 2076.3L444 2077.1L444 2077.8L444 2078.6L444 2079.3L444 2080.1L444 2080.8L444.1 2081.6L444.1 2082.3L444.1 2083.1L444.1 2083.8L444.1 2084.6L444.1 2085.3L444.1 2086.1L444.1 2086.8L444.1 2087.6L444.1 2088.3L444.1 2089.1L444.1 2089.8L444.1 2090.6L444.1 2091.3L444 2092.1L444 2092.8L444 2093.6L444 2094.3L444 2095.1L444 2095.8L444 2096.6L444 2097.3L444 2098.1L444 2098.8L444 2099.6L444 2100.3L443.9 2101.1L443.9 2101.8L443.9 2102.6L443.9 2103.3L443.9 2104.1L443.9 2104.8L443.9 2105.6L443.9 2106.3L443.9 2107.1L443.9 2107.8L443.9 2108.6L443.9 2109.3L443.9 2110.1L443.8 2110.8L443.8 2111.6L443.8 2112.3L443.8 2113.1L443.8 2113.8L443.8 2114.6L443.8 2115.3L443.8 2116.1L443.8 2116.8L443.8 2117.6L443.9 2118.3L443.9 2119.1L443.9 2119.8L443.9 2120.6L443.9 2121.3L443.9 2122.1L443.9 2122.8L443.9 2123.6L443.9 2124.3L443.9 2125.1L443.9 2125.8L443.9 2126.6L443.9 2127.3L443.9 2128.1L444 2128.8L444 2129.6L444 2130.3L444 2131.1L444 2131.8L444 2132.6L444 2133.3L444 2134.1L444 2134.8L444 2135.6L444.1 2136.3L444.1 2137.1L444.1 2137.8L444.1 2138.6L444.1 2139.3L444.1 2140.1L444.1 2140.8L444.1 2141.6L444.2 2142.3L444.2 2143.1L444.2 2143.8L444.2 2144.6L444.2 2145.3L444.2 2146.1L444.3 2146.8L444.3 2147.6L444.3 2148.3L444.3 2149.1L444.3 2149.8L444.4 2150.6L444.4 2151.3L444.4 2152.1L444.4 2152.8L444.5 2153.6L444.5 2154.3L444.5 2155.1L444.6 2155.8L444.6 2156.6L444.6 2157.3L444.7 2158.1L444.7 2158.8L444.8 2159.6L444.9 2160.3L444.9 2161.1L445 2161.8L445.1 2162.6L445.1 2163.3L445.2 2164.1L445.3 2164.8L445.4 2165.6L445.4 2166.3L445.5 2167.1L445.6 2167.8L445.7 2168.6L445.7 2169.3L445.8 2170.1L445.9 2170.8L446 2171.6L446.1 2172.3L446.1 2173.1L446.2 2173.8L446.3 2174.6L446.4 2175.3L446.5 2176.1L446.6 2176.8L446.7 2177.6L446.8 2178.3L446.9 2179.1L447 2179.8L447 2180.6L447.1 2181.3L447.2 2182.1L447.3 2182.8L447.4 2183.6L447.5 2184.3L447.6 2185.1L447.7 2185.8L447.8 2186.6L447.9 2187.3L448 2188.1L448.1 2188.8L448.2 2189.6L448.3 2190.3L448.4 2191.1L448.4 2191.8L448.5 2192.6L448.6 2193.3L448.6 2194.1L448.7 2194.8L448.7 2195.6L448.8 2196.3L448.8 2197.1L448.9 2197.8L448.9 2198.6L449 2199.3L449 2200.1L449.1 2200.8L449.1 2201.6L449.2 2202.3L449.2 2203.1L449.3 2203.8L449.3 2204.6L449.4 2205.3L449.4 2206.1L449.5 2206.8L449.6 2207.6L449.8 2208.3L450 2209.1L450.3 2209.8L450.6 2210.6L450.8 2211.3L451 2212.1L451.2 2212.8L451.3 2213.6L451.3 2214.3L451.2 2215.1L451.1 2215.8L451 2216.6L450.9 2217.3L450.7 2218.1L450.6 2218.8L450.6 2219.6L450.6 2220.3L450.6 2221.1L450.7 2221.8L450.8 2222.6L450.9 2223.3L451 2224.1L451.2 2224.8L451.3 2225.6L451.5 2226.3L451.7 2227.1L452 2227.8L452.2 2228.6L452.5 2229.3L452.8 2230.1L453.2 2230.8L453.6 2231.6L454 2232.3L454.4 2233.1L454.8 2233.8L455.2 2234.6L455.6 2235.3L456 2236.1L456.4 2236.8L456.9 2237.6L457.3 2238.3L457.7 2239.1L458.1 2239.8L458.6 2240.6L459 2241.3L459.5 2242.1L459.9 2242.8L460.4 2243.6L460.8 2244.3L461.3 2245.1L461.7 2245.8L462.2 2246.6L462.6 2247.3L463 2248.1L463.5 2248.8L463.9 2249.6L464.3 2250.3L464.7 2251.1L465.1 2251.8L465.6 2252.6L466 2253.3L466.5 2254.1L467 2254.8L467.6 2255.6L468.1 2256.3L468.7 2257.1L469.3 2257.8L469.9 2258.6L470.6 2259.3L471.2 2260.1L471.9 2260.8L472.6 2261.6L473.3 2262.3L474 2263.1L474.8 2263.8L475.5 2264.6L476.3 2265.3L477.1 2266.1L478 2266.8L478.9 2267.6L480 2268.3L481.2 2269.1L482.6 2269.8L484.1 2270.6L485.8 2271.3L487.5 2272.1L489.3 2272.8L491.2 2273.6L493.1 2274.3L495 2275.1L496.9 2275.8L498.8 2276.6L500.6 2277.3L502.3 2278.1L503.9 2278.8L505.4 2279.6L506.5 2280.3L507.3 2281.1L507.9 2281.8L508.3 2282.6L508.4 2283.3L508.1 2284.1L507.5 2284.8L506.7 2285.6L505.5 2286.3L503.7 2287.1L501.6 2287.8L499.4 2288.6L496.9 2289.3L494.4 2290.1L491.6 2290.8L488.5 2291.6L485.2 2292.3L481.5 2293.1L477.7 2293.8L473.9 2294.6L470.2 2295.3L466.6 2296.1L463.4 2296.8L460.6 2297.6L458.1 2298.3L455.9 2299.1L454 2299.8L452.3 2300.6L450.8 2301.3L449.5 2302.1L448.5 2302.8L447.6 2303.6L446.9 2304.3L446.3 2305.1L445.8 2305.8L445.4 2306.6L445 2307.3L444.7 2308.1L444.3 2308.8L444 2309.6L443.8 2310.3L443.6 2311.1L443.4 2311.8L443.4 2312.3L443.3 2311.8L443.2 2311.1L443 2310.3L442.7 2309.6L442.4 2308.8L442.1 2308.1L441.7 2307.3L441.3 2306.6L440.9 2305.8L440.4 2305.1L439.8 2304.3L439.1 2303.6L438.3 2302.8L437.2 2302.1L435.9 2301.3L434.5 2300.6L432.8 2299.8L430.9 2299.1L428.7 2298.3L426.2 2297.6L423.4 2296.8L420.1 2296.1L416.6 2295.3L412.8 2294.6L409.1 2293.8L405.3 2293.1L401.6 2292.3L398.2 2291.6L395.2 2290.8L392.4 2290.1L389.8 2289.3L387.4 2288.6L385.2 2287.8L383.1 2287.1L381.3 2286.3L380.1 2285.6L379.3 2284.8L378.7 2284.1L378.4 2283.3L378.5 2282.6L378.9 2281.8L379.5 2281.1L380.3 2280.3L381.4 2279.6L382.8 2278.8L384.5 2278.1L386.2 2277.3L388 2276.6L389.8 2275.8L391.7 2275.1L393.7 2274.3L395.6 2273.6L397.5 2272.8L399.3 2272.1L401 2271.3L402.7 2270.6L404.2 2269.8L405.6 2269.1L406.8 2268.3L407.9 2267.6L408.8 2266.8L409.7 2266.1L410.5 2265.3L411.3 2264.6L412 2263.8L412.7 2263.1L413.5 2262.3L414.2 2261.6L414.9 2260.8L415.5 2260.1L416.2 2259.3L416.8 2258.6L417.5 2257.8L418.1 2257.1L418.6 2256.3L419.2 2255.6L419.7 2254.8L420.2 2254.1L420.7 2253.3L421.2 2252.6L421.6 2251.8L422.1 2251.1L422.5 2250.3L422.9 2249.6L423.3 2248.8L423.7 2248.1L424.2 2247.3L424.6 2246.6L425 2245.8L425.5 2245.1L425.9 2244.3L426.4 2243.6L426.8 2242.8L427.3 2242.1L427.7 2241.3L428.2 2240.6L428.6 2239.8L429.1 2239.1L429.5 2238.3L429.9 2237.6L430.3 2236.8L430.7 2236.1L431.2 2235.3L431.6 2234.6L432 2233.8L432.4 2233.1L432.8 2232.3L433.2 2231.6L433.6 2230.8L434 2230.1L434.3 2229.3L434.6 2228.6L434.8 2227.8L435 2227.1L435.3 2226.3L435.4 2225.6L435.6 2224.8L435.8 2224.1L435.9 2223.3L436 2222.6L436.1 2221.8L436.2 2221.1L436.2 2220.3L436.2 2219.6L436.1 2218.8L436 2218.1L435.9 2217.3L435.8 2216.6L435.7 2215.8L435.6 2215.1L435.5 2214.3L435.5 2213.6L435.6 2212.8L435.7 2212.1L436 2211.3L436.2 2210.6L436.5 2209.8L436.8 2209.1L437 2208.3L437.2 2207.6L437.3 2206.8L437.4 2206.1L437.4 2205.3L437.5 2204.6L437.5 2203.8L437.6 2203.1L437.6 2202.3L437.6 2201.6L437.7 2200.8L437.7 2200.1L437.8 2199.3L437.8 2198.6L437.9 2197.8L437.9 2197.1L438 2196.3L438 2195.6L438.1 2194.8L438.2 2194.1L438.2 2193.3L438.3 2192.6L438.3 2191.8L438.4 2191.1L438.5 2190.3L438.6 2189.6L438.7 2188.8L438.8 2188.1L438.8 2187.3L438.9 2186.6L439 2185.8L439.2 2185.1L439.3 2184.3L439.4 2183.6L439.4 2182.8L439.5 2182.1L439.6 2181.3L439.7 2180.6L439.8 2179.8L439.9 2179.1L440 2178.3L440.1 2177.6L440.2 2176.8L440.3 2176.1L440.4 2175.3L440.5 2174.6L440.5 2173.8L440.6 2173.1L440.7 2172.3L440.8 2171.6L440.9 2170.8L441 2170.1L441 2169.3L441.1 2168.6L441.2 2167.8L441.3 2167.1L441.3 2166.3L441.4 2165.6L441.5 2164.8L441.6 2164.1L441.6 2163.3L441.7 2162.6L441.8 2161.8L441.8 2161.1L441.9 2160.3L442 2159.6L442 2158.8L442.1 2158.1L442.1 2157.3L442.2 2156.6L442.2 2155.8L442.2 2155.1L442.3 2154.3L442.3 2153.6L442.3 2152.8L442.4 2152.1L442.4 2151.3L442.4 2150.6L442.4 2149.8L442.5 2149.1L442.5 2148.3L442.5 2147.6L442.5 2146.8L442.5 2146.1L442.6 2145.3L442.6 2144.6L442.6 2143.8L442.6 2143.1L442.6 2142.3L442.6 2141.6L442.6 2140.8L442.7 2140.1L442.7 2139.3L442.7 2138.6L442.7 2137.8L442.7 2137.1L442.7 2136.3L442.7 2135.6L442.7 2134.8L442.7 2134.1L442.8 2133.3L442.8 2132.6L442.8 2131.8L442.8 2131.1L442.8 2130.3L442.8 2129.6L442.8 2128.8L442.8 2128.1L442.8 2127.3L442.8 2126.6L442.9 2125.8L442.9 2125.1L442.9 2124.3L442.9 2123.6L442.9 2122.8L442.9 2122.1L442.9 2121.3L442.9 2120.6L442.9 2119.8L442.9 2119.1L442.9 2118.3L442.9 2117.6L442.9 2116.8L442.9 2116.1L442.9 2115.3L442.9 2114.6L442.9 2113.8L442.9 2113.1L442.9 2112.3L442.9 2111.6L442.9 2110.8L442.9 2110.1L442.9 2109.3L442.9 2108.6L442.9 2107.8L442.9 2107.1L442.9 2106.3L442.9 2105.6L442.9 2104.8L442.9 2104.1L442.9 2103.3L442.8 2102.6L442.8 2101.8L442.8 2101.1L442.8 2100.3L442.8 2099.6L442.8 2098.8L442.8 2098.1L442.8 2097.3L442.8 2096.6L442.8 2095.8L442.8 2095.1L442.7 2094.3L442.7 2093.6L442.7 2092.8L442.7 2092.1L442.7 2091.3L442.7 2090.6L442.7 2089.8L442.7 2089.1L442.7 2088.3L442.7 2087.6L442.7 2086.8L442.7 2086.1L442.7 2085.3L442.7 2084.6L442.7 2083.8L442.7 2083.1L442.7 2082.3L442.7 2081.6L442.7 2080.8L442.7 2080.1L442.7 2079.3L442.7 2078.6L442.7 2077.8L442.8 2077.1L442.8 2076.3L442.8 2075.6L442.8 2074.8L442.8 2074.1L442.8 2073.3L442.8 2072.6L442.8 2071.8L442.8 2071.1L442.8 2070.3L442.8 2069.6L442.8 2068.8L442.8 2068.1L442.9 2067.3L442.9 2066.6L442.9 2065.8L442.9 2065.1L442.9 2064.3L442.9 2063.6L442.9 2062.8L442.9 2062.1L442.9 2061.3L442.9 2060.6L442.9 2059.8L443 2059.1L443 2058.3L443 2057.6L443 2056.8L443 2056.1L443 2055.3L443 2054.6L443 2053.8L443 2053.1L443 2052.3L443.1 2051.6L443.1 2050.8L443.1 2050.1L443.1 2049.3L443.1 2048.6L443.1 2047.8L443.1 2047.1L443.1 2046.3L443.1 2045.6L443.1 2044.8L443.1 2044.1L443.1 2043.3L443.1 2042.6L443.1 2041.8L443.1 2041.1L443.1 2040.3L443.2 2039.6L443.2 2038.8L443.2 2038.1L443.2 2037.3L443.2 2036.6L443.2 2035.8L443.2 2035.1L443.2 2034.3L443.2 2033.6L443.2 2032.8L443.1 2032.1L443.1 2031.3L443.1 2030.6L443.1 2029.8L443.1 2029.1L443.1 2028.3L443.1 2027.6L443.1 2026.8L443 2026.1L443 2025.3L443 2024.6L443 2023.8L443 2023.1L443 2022.3L442.9 2021.6L442.9 2020.8L442.9 2020.1L442.9 2019.3L442.9 2018.6L442.8 2017.8L442.8 2017.1L442.8 2016.3L442.8 2015.6L442.8 2014.8L442.8 2014.1L442.8 2013.3L442.7 2012.6L442.7 2011.8L442.7 2011.1L442.7 2010.3L442.7 2009.6L442.7 2008.8L442.7 2008.1L442.7 2007.3L442.7 2006.6L442.7 2005.8L442.7 2005.1L442.7 2004.3L442.7 2003.6L442.7 2002.8L442.7 2002.1L442.8 2001.3L442.8 2000.6L442.8 1999.8L442.8 1999.1L442.8 1998.3L442.8 1997.6L442.8 1996.8L442.9 1996.1L442.9 1995.3L442.9 1994.6L442.9 1993.8L442.9 1993.1L442.9 1992.3L443 1991.6L443 1990.8L443 1990.1L443 1989.3L443 1988.6L443 1987.8L443.1 1987.1L443.1 1986.3L443.1 1985.6L443.1 1984.8L443.1 1984.1L443.1 1983.3L443.1 1982.6L443.1 1981.8L443.1 1981.1L443.1 1980.3L443.2 1979.6L443.2 1978.8L443.2 1978.1L443.2 1977.3L443.2 1976.6L443.2 1975.8L443.2 1975.1L443.2 1974.3L443.2 1973.6L443.2 1972.8L443.2 1972.1L443.2 1971.3L443.2 1970.6L443.2 1969.8L443.2 1969.1L443.2 1968.3L443.2 1967.6L443.2 1966.8L443.2 1966.1L443.2 1965.3L443.2 1964.6L443.2 1963.8L443.2 1963.1L443.2 1962.3L443.2 1961.6L443.2 1960.8L443.2 1960.1L443.2 1959.3L443.2 1958.6L443.2 1957.8L443.2 1957.1L443.2 1956.3L443.2 1955.6L443.2 1954.8L443.2 1954.1L443.2 1953.3L443.2 1952.6L443.2 1951.8L443.2 1951.1L443.3 1950.3L443.3 1949.6L443.3 1948.8L443.3 1948.1L443.3 1947.3L443.3 1946.6L443.3 1945.8L443.3 1945.1L443.3 1944.3L443.3 1943.6L443.3 1942.8L443.3 1942.1L443.3 1941.3L443.3 1940.6L443.3 1939.8L443.3 1939.1L443.3 1938.3L443.3 1937.6L443.3 1936.8L443.3 1936.1L443.3 1935.3L443.3 1934.6L443.3 1933.8L443.3 1933.1L443.3 1932.3L443.3 1931.6L443.3 1930.8L443.3 1930.1L443.3 1929.3L443.3 1928.6L443.3 1927.8L443.3 1927.1L443.3 1926.3L443.3 1925.6L443.3 1924.8L443.3 1924.1L443.3 1923.3L443.3 1922.6L443.3 1921.8L443.3 1921.1L443.3 1920.3L443.3 1919.6L443.3 1918.8L443.3 1918.1L443.3 1917.3L443.3 1916.6L443.3 1915.8L443.3 1915.1L443.3 1914.3L443.3 1913.6L443.3 1912.8L443.3 1912.1L443.3 1911.3L443.3 1910.6L443.3 1909.8L443.3 1909.1L443.3 1908.3L443.3 1907.6L443.3 1906.8L443.3 1906.1L443.3 1905.3L443.3 1904.6L443.3 1903.8L443.3 1903.1L443.3 1902.3L443.3 1901.6L443.3 1900.8L443.4 1900.1L443.4 1899.3L443.4 1898.6L443.4 1897.8L443.4 1897.1L443.4 1896.3L443.4 1895.6L443.4 1894.8L443.4 1894.1L443.4 1893.3L443.4 1892.6L443.4 1891.8L443.4 1891.1L443.4 1890.3L443.4 1889.6L443.4 1888.8L443.4 1888.1L443.4 1887.3L443.4 1886.6L443.4 1885.8L443.4 1885.1L443.4 1884.3L443.4 1883.6L443.4 1882.8L443.4 1882.1L443.4 1881.3L443.4 1880.6L443.4 1879.8L443.4 1879.1L443.4 1878.3L443.4 1877.6L443.4 1876.8L443.4 1876.1L443.4 1875.3L443.4 1874.6L443.4 1873.8L443.4 1873.1L443.4 1872.3L443.4 1871.6L443.4 1870.8L443.4 1870.1L443.4 1869.3L443.4 1868.6L443.4 1867.8L443.4 1867.1L443.4 1866.3L443.4 1865.6L443.4 1864.8L443.4 1864.1L443.4 1863.3L443.4 1862.6L443.4 1861.8L443.4 1861.1L443.4 1860.3L443.4 1859.6L443.4 1858.8L443.4 1858.1L443.4 1857.3L443.4 1856.6L443.4 1855.8L443.4 1855.1L443.4 1854.3L443.4 1853.6L443.4 1852.8L443.4 1852.1L443.4 1851.3L443.4 1850.6L443.4 1849.8L443.4 1849.1L443.4 1848.3L443.4 1847.6L443.4 1846.8L443.4 1846.1L443.4 1845.3L443.4 1844.6L443.4 1843.8L443.4 1843.1Z" fill="#6CC0C6" stroke="#333333" stroke-width="1.7" stroke-linejoin="round"/>
<g fill="none" stroke="#333333" stroke-width="1.5" opacity="0.6">
<path d="M443.4 2202.5V2251.8M443.4 2281.7V2285.1"/>
<rect x="432" y="2251.8" width="22.8" height="29.9"/>
<path d="M432 2273.8H454.8" stroke-width="2.4"/>
</g>
<path d="M414 2261.5h0M475.7 2272.6h0M453.5 2243.5h0M469.3 2244.2h0M469.5 2285.6h0M419.6 2213.8h0M439.8 2285.6h0M439.5 2273.7h0M420.4 2228.9h0M426.9 2281.3h0M422.6 2249.8h0M472.6 2280.1h0M435.4 2283.7h0M446.4 2284h0M476.3 2283.9h0M427.1 2226h0M448.7 2279.1h0M473.7 2251.7h0M457.2 2236.4h0M430.5 2284.1h0M439.3 2275.3h0M459.5 2203.1h0M470.5 2219.2h0M435.1 2277.3h0M428.9 2246.5h0M442 2247.2h0M447.9 2254.7h0M426.3 2273.8h0M456.3 2274.6h0M446.5 2282.1h0M446.1 2253.1h0M436.1 2262.1h0M426.1 2276.5h0M434.2 2285.5h0M427.5 2273.7h0M460.5 2250.6h0M437 2232.8h0M427.6 2253.2h0M434.5 2274.9h0M469.8 2280.4h0M467.8 2202.8h0M468.2 2281.7h0M415.5 2284.8h0M409.4 2282.9h0M419.7 2280.8h0M419.6 2250.8h0M429 2262.2h0M444.2 2285.5h0M465.7 2277.3h0M437 2284.7h0M417.3 2245.4h0M447.2 2285.5h0M431.7 2258.6h0M412.3 2278.3h0M442.5 2275.3h0M443.5 2278.5h0M460.9 2227.7h0M427.6 2266.4h0M417.2 2233.4h0M422.8 2222.9h0M418.2 2275.7h0M464.9 2226.2h0M421.3 2283.9h0M416.8 2262.7h0M470.3 2258.9h0M410.5 2251.9h0M458.4 2251.2h0M452.7 2285.6h0M449.2 2267h0M478.6 2279.7h0M470.8 2251.4h0M445.9 2238.9h0M435.3 2264.7h0M464 2282.1h0M420.5 2282.9h0M407.5 2275.6h0M443 2230.3h0M422.9 2282h0M444 2235.8h0M452.9 2251.2h0M408.4 2284.4h0M436.3 2262h0M461.7 2260.6h0M469.5 2262.2h0M424.9 2273.9h0M453.7 2282.9h0M453.6 2285.5h0M457.3 2253.3h0M456.5 2275.1h0M422.4 2252h0M418.8 2283.8h0M415.6 2279.8h0M478.6 2266.5h0M448.8 2277.5h0M419.6 2259.4h0M449.6 2282.4h0M445.9 2283.7h0M454 2282.4h0M432.2 2250h0M478.5 2243.5h0M426.3 2274.1h0M466.7 2266.5h0M465 2225.2h0M424.7 2253.7h0M473.9 2211.6h0M429.5 2285.2h0M475.5 2253.9h0M461 2282.7h0M456.3 2251.5h0M436.5 2279.2h0M430.5 2276.6h0M428 2209.8h0M478.2 2273.7h0M433.5 2283h0M419.7 2253.7h0M471.9 2245h0M416 2213.7h0M448.8 2283.6h0M456.6 2275.1h0M435.2 2278.6h0M466.9 2271.9h0M424.1 2285.4h0M444.3 2248.9h0M434.2 2273.8h0M428.4 2281.1h0M447.4 2266.6h0M462.9 2274.1h0M460.1 2285.6h0M441.6 2208h0M407.5 2225.7h0M458.5 2282h0M478.4 2276.3h0M459.3 2251.1h0M409.1 2217.2h0M444.9 2257.7h0M453.6 2282.2h0M447.9 2248.3h0M412.1 2281.8h0M430.7 2283.1h0M429.5 2278.7h0M428.7 2219.9h0M420.5 2278.4h0M463.8 2274.8h0M455.4 2282.1h0M443.5 2228.3h0M468.8 2274.4h0M410.3 2283.1h0M442.7 2284.6h0M463.2 2258.7h0M434.5 2264.5h0M435.1 2283.4h0M475 2283.8h0M434.3 2267.6h0M438.6 2271.2h0M426.9 2275.8h0M416.8 2266.9h0M434.9 2276.9h0M411.2 2234.1h0M415.3 2282.8h0M427.5 2253.5h0M407.7 2265.1h0M472.1 2255.8h0M454.3 2283.6h0M413.1 2284h0M467 2285.2h0M410.4 2283h0M475.5 2282.1h0M455.1 2275.3h0M433.5 2261.5h0M439.6 2263.8h0M461.7 2269h0M443 2251h0M415.4 2235h0M429.8 2266.3h0M412.3 2256.7h0M415.9 2281.9h0M418 2281.6h0M451.2 2276.8h0M462.6 2270.2h0M475.8 2217.1h0M448.9 2258.7h0M465.3 2284.2h0M476.9 2284.9h0M407.7 2278.2h0M420.1 2273.3h0M464 2275.5h0M423.4 2279.9h0M474.2 2261.3h0M408.2 2267.2h0M441.3 2283.7h0M461.2 2282.2h0M453 2275.3h0M478.3 2257.8h0M471.7 2267.7h0M453.9 2255h0M407.7 2258.7h0M420.9 2282.3h0M448.9 2253.6h0M471.1 2232.8h0M461.9 2282.4h0M433.4 2282.7h0M424.9 2202.8h0M436.1 2263.6h0M470.3 2276.8h0M479.3 2277.6h0M421.6 2272.3h0M417.6 2274.6h0M415.2 2285.1h0M417.9 2251.5h0M438.8 2249.6h0M416.3 2279.5h0M478.8 2278.3h0M450.5 2283.2h0M478.4 2274.6h0M469.6 2277.7h0M457.6 2243h0M408.2 2276.9h0M451.6 2275.3h0M414.9 2249.9h0M427.8 2276.2h0M471.8 2282.8h0M472.2 2277.6h0M415.2 2220.5h0M451.6 2281.2h0M446.4 2259.9h0M455.1 2265.8h0M426.9 2278.3h0M448.1 2274.7h0M429.1 2282.1h0M448.1 2272.6h0M407.6 2278.5h0M444.7 2283.9h0M415.8 2285.7h0M473.8 2257.1h0M444.3 2244.1h0M435.9 2279.7h0M440.6 2285.5h0M457.7 2257.9h0M479.3 2283.3h0M453.3 2270.2h0M453.6 2259.3h0M443.7 2282h0M467.9 2242.2h0M419.2 2280.8h0M415.4 2283.9h0M430.9 2284h0M427.5 2283.1h0M424.3 2285.5h0M440.3 2242.5h0M468 2203.2h0M407.9 2210.9h0M472.1 2260.2h0M412.8 2284.2h0M421.1 2268.6h0M458.4 2282.9h0M443 2219.5h0M472.1 2284.3h0M419.7 2279.6h0M447.6 2267h0M460.1 2271.1h0M417.3 2279.7h0M452.5 2265.3h0M435.5 2274.5h0M418.8 2285.7h0M459.2 2237.5h0M417.7 2275.4h0M469.2 2268.5h0M424.1 2246h0M456.5 2233.3h0M411.6 2278.3h0M449 2285.5h0M475.5 2266h0M430 2232.4h0M456 2252.6h0M432.6 2247.3h0M447.4 2280.7h0M460.8 2243.8h0M415.2 2268.4h0M461.4 2268.7h0M417.1 2256.7h0M442.5 2220.1h0M414.7 2282.3h0M457.7 2272.7h0M430.9 2239.9h0M451.1 2225.4h0M464.5 2244.7h0M459.9 2267.1h0M440.7 2281.9h0M463.2 2279.6h0M478.4 2203.2h0M471.1 2282.3h0M441.5 2280.4h0M426.1 2277.5h0M463 2267.1h0M466 2284.5h0M458.3 2271.4h0M462.7 2268.1h0M460.3 2275.3h0M435.7 2241.1h0M418.7 2278.9h0M454 1864.6h0M477.3 2002.4h0M455.6 2017.1h0M460.4 2083.2h0M440.4 2091.1h0M463.3 2101.3h0M452.2 2121.7h0M416 2147.5h0M466.5 2160.8h0M417.8 2171h0M423.5 2170.1h0M468.7 2177.6h0M416 2184.4h0M419.4 2185.9h0M423.9 2184.4h0M429.6 2185.7h0M455.6 2190.2h0M453.3 2195h0M408.8 2196.8h0M430.3 2196.8h0M439.3 2195.7h0M445.6 2198.4h0M473.3 2200.4h0M430.9 2202h0M436.4 2203.1h0" fill="none" stroke="#000" stroke-width="3.15" stroke-linecap="round"/>
<path d="M75.6 1820.3V2333.7H581.5" fill="none" stroke="#262626" stroke-width="1.9" stroke-linejoin="round"/>
<path d="M71 1854.3H75.6M71 1963.4H75.6M71 2072.1H75.6M71 2181.4H75.6M71 2290H75.6M213.4 2333.7V2338.3M443.4 2333.7V2338.3" fill="none" stroke="#333333" stroke-width="1.4"/>
<text x="68" y="1862" font-family="Liberation Sans, Arial, Helvetica, sans-serif" font-size="21.9" fill="#4D4D4D" text-anchor="end">400</text>
<text x="68" y="1971.1" font-family="Liberation Sans, Arial, Helvetica, sans-serif" font-size="21.9" fill="#4D4D4D" text-anchor="end">300</text>
<text x="68" y="2079.8" font-family="Liberation Sans, Arial, Helvetica, sans-serif" font-size="21.9" fill="#4D4D4D" text-anchor="end">200</text>
<text x="68" y="2189.1" font-family="Liberation Sans, Arial, Helvetica, sans-serif" font-size="21.9" fill="#4D4D4D" text-anchor="end">100</text>
<text x="68" y="2297.7" font-family="Liberation Sans, Arial, Helvetica, sans-serif" font-size="21.9" fill="#4D4D4D" text-anchor="end">0</text>
<text x="213.4" y="2355.7" font-family="Liberation Sans, Arial, Helvetica, sans-serif" font-size="21.9" fill="#4D4D4D" text-anchor="middle">No</text>
<text x="443.4" y="2355.7" font-family="Liberation Sans, Arial, Helvetica, sans-serif" font-size="21.9" fill="#4D4D4D" text-anchor="middle">Yes</text>
<text x="74.5" y="1807.5" font-family="Liberation Sans, Arial, Helvetica, sans-serif" font-size="33.4" fill="#000" text-anchor="start">PVTT</text>
<text x="9" y="1804.6" font-family="Liberation Serif, Times New Roman, serif" font-size="33.4" fill="#000" text-anchor="start">J</text>
<text x="22.7" y="2076.5" font-family="Liberation Sans, Arial, Helvetica, sans-serif" font-size="30" fill="#000" text-anchor="middle" letter-spacing="-1.9" transform="rotate(-90 22.7 2076.5)">CRP</text>
<text x="189.4" y="1864.8" font-family="Liberation Sans, Arial, Helvetica, sans-serif" font-size="15" fill="#000" text-anchor="start">T−test, p = 0.0022</text>
</g>
<g>
<g fill="#000" fill-opacity="0.8">
<circle cx="886.9" cy="2075.8" r="4.8"/><circle cx="891.5" cy="2095.5" r="4.8"/><circle cx="764.3" cy="2137.6" r="4.8"/><circle cx="848.2" cy="2146" r="4.8"/><circle cx="840.1" cy="2148.9" r="4.8"/><circle cx="793" cy="2154.4" r="4.8"/><circle cx="736" cy="2160.5" r="4.8"/><circle cx="869.5" cy="2166.6" r="4.8"/><circle cx="829.2" cy="2170.4" r="4.8"/><circle cx="781.7" cy="2171.6" r="4.8"/><circle cx="813.4" cy="2173.8" r="4.8"/><circle cx="811.4" cy="2185.8" r="4.8"/><circle cx="786.9" cy="2187.6" r="4.8"/><circle cx="773.8" cy="2192.2" r="4.8"/><circle cx="759.3" cy="2197.4" r="4.8"/><circle cx="738.9" cy="2199.6" r="4.8"/><circle cx="794.4" cy="2198.5" r="4.8"/><circle cx="813.4" cy="2199.9" r="4.8"/><circle cx="753.4" cy="2202.4" r="4.8"/><circle cx="733.3" cy="2203.7" r="4.8"/><circle cx="857.1" cy="2208.7" r="4.8"/><circle cx="773.8" cy="2216.2" r="4.8"/><circle cx="788.5" cy="2217.7" r="4.8"/><circle cx="786.9" cy="2221.4" r="4.8"/><circle cx="714.7" cy="2221.6" r="4.8"/><circle cx="882.9" cy="2220.9" r="4.8"/><circle cx="807.7" cy="2221.6" r="4.8"/><circle cx="755.9" cy="2222" r="4.8"/><circle cx="846.9" cy="2222.9" r="4.8"/><circle cx="816.3" cy="2224.1" r="4.8"/><circle cx="763.2" cy="2224.1" r="4.8"/><circle cx="834.4" cy="2226.3" r="4.8"/><circle cx="828.1" cy="2227.2" r="4.8"/><circle cx="776.3" cy="2226.3" r="4.8"/><circle cx="760.9" cy="2227.5" r="4.8"/><circle cx="893.3" cy="2227.9" r="4.8"/><circle cx="748.9" cy="2228.8" r="4.8"/><circle cx="881.1" cy="2232" r="4.8"/><circle cx="871.8" cy="2232" r="4.8"/><circle cx="723.6" cy="2232" r="4.8"/><circle cx="762.5" cy="2232" r="4.8"/><circle cx="887.6" cy="2234.3" r="4.8"/><circle cx="839" cy="2234.7" r="4.8"/><circle cx="801" cy="2235.2" r="4.8"/><circle cx="817.5" cy="2232" r="4.8"/><circle cx="823.8" cy="2237.7" r="4.8"/><circle cx="769.5" cy="2239.5" r="4.8"/><circle cx="753" cy="2239.9" r="4.8"/><circle cx="894.4" cy="2240.8" r="4.8"/><circle cx="817.5" cy="2241.1" r="4.8"/><circle cx="728.5" cy="2243.3" r="4.8"/><circle cx="811.8" cy="2243.3" r="4.8"/><circle cx="758.2" cy="2245.1" r="4.8"/><circle cx="860.9" cy="2242.4" r="4.8"/><circle cx="845.3" cy="2245.6" r="4.8"/><circle cx="877.4" cy="2246.7" r="4.8"/><circle cx="857.1" cy="2247.4" r="4.8"/><circle cx="716.3" cy="2248.1" r="4.8"/><circle cx="734.9" cy="2247.8" r="4.8"/><circle cx="794.2" cy="2248.3" r="4.8"/><circle cx="828.8" cy="2249" r="4.8"/><circle cx="818.6" cy="2247.8" r="4.8"/><circle cx="846.2" cy="2247.4" r="4.8"/><circle cx="874" cy="2246" r="4.8"/><circle cx="750.3" cy="2250.6" r="4.8"/><circle cx="755.7" cy="2251.7" r="4.8"/><circle cx="743.5" cy="2252.4" r="4.8"/><circle cx="770.4" cy="2253" r="4.8"/><circle cx="796.4" cy="2252.4" r="4.8"/><circle cx="888.8" cy="2256.4" r="4.8"/><circle cx="828.1" cy="2257.3" r="4.8"/><circle cx="788.5" cy="2257.3" r="4.8"/><circle cx="779.5" cy="2259.2" r="4.8"/><circle cx="843.5" cy="2260.3" r="4.8"/><circle cx="730.8" cy="2261.4" r="4.8"/><circle cx="805.5" cy="2261.9" r="4.8"/><circle cx="753" cy="2261.4" r="4.8"/><circle cx="898.9" cy="2263.7" r="4.8"/><circle cx="717.2" cy="2265.3" r="4.8"/><circle cx="855.3" cy="2264.4" r="4.8"/><circle cx="815.7" cy="2263.7" r="4.8"/><circle cx="883.1" cy="2266.2" r="4.8"/><circle cx="799.4" cy="2265.9" r="4.8"/><circle cx="861.6" cy="2267.1" r="4.8"/><circle cx="771.5" cy="2266.4" r="4.8"/><circle cx="743.9" cy="2266.6" r="4.8"/><circle cx="898.9" cy="2268.2" r="4.8"/><circle cx="873.6" cy="2276.1" r="4.8"/><circle cx="894.4" cy="2277.7" r="4.8"/><circle cx="824.9" cy="2279.5" r="4.8"/><circle cx="865.4" cy="2284" r="4.8"/><circle cx="849.2" cy="2288.1" r="4.8"/><circle cx="879" cy="2290.8" r="4.8"/><circle cx="855.5" cy="2292" r="4.8"/><circle cx="840.8" cy="2293.1" r="4.8"/><circle cx="830.6" cy="2295.4" r="4.8"/><circle cx="883.1" cy="2297.6" r="4.8"/><circle cx="881.3" cy="2297.6" r="4.8"/><circle cx="894" cy="2298.5" r="4.8"/><circle cx="852.1" cy="2297.6" r="4.8"/><circle cx="845.3" cy="2297.2" r="4.8"/><circle cx="691.9" cy="2297.6" r="4.8"/><circle cx="704.3" cy="2299.9" r="4.8"/><circle cx="690.7" cy="2298.1" r="4.8"/><circle cx="920.6" cy="2084.4" r="4.8"/><circle cx="919.2" cy="2115.7" r="4.8"/><circle cx="1098.7" cy="2117.9" r="4.8"/><circle cx="1168.6" cy="2134.7" r="4.8"/><circle cx="1151.7" cy="2160.5" r="4.8"/><circle cx="991" cy="2165" r="4.8"/><circle cx="1077" cy="2169.3" r="4.8"/><circle cx="904.1" cy="2169.8" r="4.8"/><circle cx="936.7" cy="2176.6" r="4.8"/><circle cx="1005.2" cy="2178.6" r="4.8"/><circle cx="1015.6" cy="2187.6" r="4.8"/><circle cx="1086" cy="2185.8" r="4.8"/><circle cx="1082.9" cy="2187.2" r="4.8"/><circle cx="954.3" cy="2197.1" r="4.8"/><circle cx="1018.4" cy="2202.6" r="4.8"/><circle cx="981.9" cy="2203.3" r="4.8"/><circle cx="969.7" cy="2206.4" r="4.8"/><circle cx="1059.1" cy="2205.1" r="4.8"/><circle cx="902.3" cy="2206.4" r="4.8"/><circle cx="983.1" cy="2210.5" r="4.8"/><circle cx="978.8" cy="2216.2" r="4.8"/><circle cx="929.4" cy="2217.1" r="4.8"/><circle cx="1073.8" cy="2215.7" r="4.8"/><circle cx="998.4" cy="2218.4" r="4.8"/><circle cx="962.2" cy="2221.4" r="4.8"/><circle cx="936.2" cy="2222.9" r="4.8"/><circle cx="1013.2" cy="2225.7" r="4.8"/><circle cx="1085.6" cy="2226.8" r="4.8"/><circle cx="1032.4" cy="2227.5" r="4.8"/><circle cx="922.6" cy="2229.3" r="4.8"/><circle cx="1057.7" cy="2233.4" r="4.8"/><circle cx="952.3" cy="2234.3" r="4.8"/><circle cx="967.2" cy="2240.6" r="4.8"/><circle cx="960" cy="2242.4" r="4.8"/><circle cx="920.8" cy="2244.7" r="4.8"/><circle cx="1000.7" cy="2243.8" r="4.8"/><circle cx="997.8" cy="2244.4" r="4.8"/><circle cx="1015.2" cy="2244" r="4.8"/><circle cx="977.2" cy="2246.3" r="4.8"/><circle cx="928.3" cy="2247.8" r="4.8"/><circle cx="906.8" cy="2247.4" r="4.8"/><circle cx="1084.4" cy="2251.2" r="4.8"/><circle cx="1008" cy="2252.1" r="4.8"/><circle cx="918.1" cy="2254.6" r="4.8"/><circle cx="964.5" cy="2254.6" r="4.8"/><circle cx="952.1" cy="2256.9" r="4.8"/><circle cx="956.6" cy="2258.2" r="4.8"/><circle cx="947.5" cy="2260.1" r="4.8"/><circle cx="1025.2" cy="2259.2" r="4.8"/><circle cx="1044.8" cy="2258.2" r="4.8"/><circle cx="1052.8" cy="2259.2" r="4.8"/><circle cx="901.8" cy="2261" r="4.8"/><circle cx="936.2" cy="2261.9" r="4.8"/><circle cx="1089.4" cy="2263.5" r="4.8"/><circle cx="966.1" cy="2262.1" r="4.8"/><circle cx="982.6" cy="2264.4" r="4.8"/><circle cx="933.9" cy="2264.4" r="4.8"/><circle cx="945.9" cy="2264.8" r="4.8"/><circle cx="960.7" cy="2265" r="4.8"/><circle cx="925.3" cy="2266.4" r="4.8"/><circle cx="1008" cy="2266.4" r="4.8"/><circle cx="1032.8" cy="2266.6" r="4.8"/><circle cx="998.4" cy="2268.7" r="4.8"/><circle cx="1048.5" cy="2267.8" r="4.8"/><circle cx="915.8" cy="2270" r="4.8"/><circle cx="1022.9" cy="2271.8" r="4.8"/><circle cx="913.1" cy="2274.5" r="4.8"/><circle cx="901.8" cy="2278.4" r="4.8"/><circle cx="938.5" cy="2278.8" r="4.8"/><circle cx="958.8" cy="2278.4" r="4.8"/><circle cx="967.2" cy="2276.8" r="4.8"/><circle cx="966.8" cy="2279.5" r="4.8"/><circle cx="1008" cy="2279.5" r="4.8"/><circle cx="927.6" cy="2282.2" r="4.8"/><circle cx="945.3" cy="2282.9" r="4.8"/><circle cx="922.2" cy="2284" r="4.8"/><circle cx="969.3" cy="2284" r="4.8"/><circle cx="983.7" cy="2283.6" r="4.8"/><circle cx="984.9" cy="2287" r="4.8"/><circle cx="949.3" cy="2295.4" r="4.8"/><circle cx="938.2" cy="2295.8" r="4.8"/><circle cx="923.3" cy="2298.3" r="4.8"/><circle cx="917" cy="2298.8" r="4.8"/><circle cx="1009.1" cy="2299" r="4.8"/><circle cx="1148.3" cy="2298.3" r="4.8"/><circle cx="816.8" cy="1987.8" r="4.8"/><circle cx="929.9" cy="2003.7" r="4.8"/><circle cx="1020.7" cy="1837.3" r="4.8"/><circle cx="765.5" cy="2291.6" r="4.8"/><circle cx="830.6" cy="2298.9" r="4.8"/><circle cx="774.5" cy="2296.7" r="4.8"/><circle cx="741.3" cy="2293.8" r="4.8"/><circle cx="716.1" cy="2291.6" r="4.8"/><circle cx="747.8" cy="2293" r="4.8"/><circle cx="754" cy="2288.2" r="4.8"/><circle cx="787.7" cy="2290.4" r="4.8"/><circle cx="749.3" cy="2296.7" r="4.8"/><circle cx="712.7" cy="2285.7" r="4.8"/><circle cx="748.4" cy="2289.9" r="4.8"/><circle cx="733" cy="2296.1" r="4.8"/><circle cx="734" cy="2300.7" r="4.8"/><circle cx="752.5" cy="2299.2" r="4.8"/><circle cx="818.7" cy="2299.6" r="4.8"/><circle cx="730.6" cy="2300.1" r="4.8"/><circle cx="768.6" cy="2298.7" r="4.8"/><circle cx="729.1" cy="2294.6" r="4.8"/><circle cx="783.3" cy="2297.5" r="4.8"/><circle cx="789.9" cy="2299.3" r="4.8"/><circle cx="732.3" cy="2297.8" r="4.8"/><circle cx="741.7" cy="2296.8" r="4.8"/><circle cx="740.8" cy="2298.9" r="4.8"/><circle cx="724.1" cy="2294.7" r="4.8"/><circle cx="752.7" cy="2293.2" r="4.8"/><circle cx="773.2" cy="2293" r="4.8"/><circle cx="827.8" cy="2291.5" r="4.8"/><circle cx="743.8" cy="2300.4" r="4.8"/><circle cx="759.2" cy="2300.2" r="4.8"/><circle cx="732" cy="2296.6" r="4.8"/><circle cx="750.7" cy="2299" r="4.8"/><circle cx="773.5" cy="2299.3" r="4.8"/><circle cx="737.5" cy="2300" r="4.8"/><circle cx="764.7" cy="2300.6" r="4.8"/><circle cx="764.8" cy="2296.1" r="4.8"/><circle cx="750.3" cy="2298.2" r="4.8"/><circle cx="740.8" cy="2299.9" r="4.8"/><circle cx="760.2" cy="2291.8" r="4.8"/><circle cx="787.4" cy="2289.2" r="4.8"/><circle cx="749.6" cy="2289.7" r="4.8"/><circle cx="804.7" cy="2297.3" r="4.8"/><circle cx="757.9" cy="2300.5" r="4.8"/><circle cx="755.4" cy="2293.3" r="4.8"/><circle cx="784.4" cy="2289.7" r="4.8"/><circle cx="730.2" cy="2299.9" r="4.8"/><circle cx="742.7" cy="2297.7" r="4.8"/><circle cx="724.9" cy="2289.3" r="4.8"/><circle cx="723.1" cy="2297" r="4.8"/><circle cx="783" cy="2295.6" r="4.8"/><circle cx="737.3" cy="2298.8" r="4.8"/><circle cx="724.5" cy="2299.7" r="4.8"/><circle cx="743.5" cy="2297.1" r="4.8"/><circle cx="710.1" cy="2297.4" r="4.8"/><circle cx="820.3" cy="2297.2" r="4.8"/><circle cx="722.6" cy="2294" r="4.8"/><circle cx="780.3" cy="2300.2" r="4.8"/><circle cx="739.8" cy="2290.7" r="4.8"/><circle cx="760.8" cy="2291.7" r="4.8"/><circle cx="750.9" cy="2300.2" r="4.8"/><circle cx="802.2" cy="2296.7" r="4.8"/><circle cx="747.1" cy="2299.4" r="4.8"/><circle cx="714.3" cy="2298.8" r="4.8"/><circle cx="718.4" cy="2297.1" r="4.8"/><circle cx="745.3" cy="2286.7" r="4.8"/><circle cx="759.2" cy="2300" r="4.8"/><circle cx="750.4" cy="2295.7" r="4.8"/><circle cx="785.4" cy="2297.1" r="4.8"/><circle cx="735.1" cy="2287.1" r="4.8"/><circle cx="804.6" cy="2284.7" r="4.8"/><circle cx="717.3" cy="2293.2" r="4.8"/><circle cx="752" cy="2298.6" r="4.8"/><circle cx="743.6" cy="2286.3" r="4.8"/><circle cx="739.4" cy="2298.9" r="4.8"/><circle cx="787.2" cy="2298.5" r="4.8"/><circle cx="720.4" cy="2296.5" r="4.8"/><circle cx="742.5" cy="2294.4" r="4.8"/><circle cx="740" cy="2293.8" r="4.8"/><circle cx="789.5" cy="2296.3" r="4.8"/><circle cx="742.1" cy="2300.7" r="4.8"/><circle cx="742.6" cy="2295.8" r="4.8"/><circle cx="800.7" cy="2297.4" r="4.8"/><circle cx="801.2" cy="2289" r="4.8"/><circle cx="747.7" cy="2300" r="4.8"/><circle cx="812.5" cy="2299.4" r="4.8"/><circle cx="719.8" cy="2283.5" r="4.8"/><circle cx="726.8" cy="2298.4" r="4.8"/><circle cx="762.5" cy="2299.9" r="4.8"/><circle cx="732.4" cy="2297" r="4.8"/><circle cx="765.5" cy="2298.1" r="4.8"/><circle cx="767.6" cy="2298.5" r="4.8"/><circle cx="796" cy="2294.2" r="4.8"/><circle cx="758.1" cy="2298.8" r="4.8"/><circle cx="747.1" cy="2294.3" r="4.8"/><circle cx="779.8" cy="2300.2" r="4.8"/><circle cx="718.2" cy="2292.8" r="4.8"/><circle cx="747" cy="2291.9" r="4.8"/><circle cx="757.6" cy="2300.6" r="4.8"/><circle cx="744.6" cy="2299.6" r="4.8"/><circle cx="756.3" cy="2290.8" r="4.8"/><circle cx="733.4" cy="2299.7" r="4.8"/><circle cx="732.2" cy="2301" r="4.8"/><circle cx="786.5" cy="2290.7" r="4.8"/><circle cx="745.1" cy="2296.6" r="4.8"/><circle cx="723.5" cy="2300.4" r="4.8"/><circle cx="735.1" cy="2299.6" r="4.8"/><circle cx="734" cy="2295.1" r="4.8"/><circle cx="748.9" cy="2296.1" r="4.8"/><circle cx="784.7" cy="2289.7" r="4.8"/><circle cx="722.3" cy="2295.5" r="4.8"/><circle cx="814.3" cy="2296.1" r="4.8"/><circle cx="727.9" cy="2289.6" r="4.8"/><circle cx="806" cy="2295.9" r="4.8"/><circle cx="714.1" cy="2300.5" r="4.8"/><circle cx="769.7" cy="2295.7" r="4.8"/><circle cx="762.6" cy="2295.5" r="4.8"/><circle cx="766.6" cy="2293.4" r="4.8"/><circle cx="756.5" cy="2287.8" r="4.8"/><circle cx="768.7" cy="2289.2" r="4.8"/><circle cx="755.6" cy="2300.6" r="4.8"/><circle cx="738.6" cy="2291.5" r="4.8"/><circle cx="746.9" cy="2300.4" r="4.8"/><circle cx="740.3" cy="2299.4" r="4.8"/><circle cx="730.8" cy="2290.2" r="4.8"/><circle cx="752.3" cy="2289.4" r="4.8"/><circle cx="830.6" cy="2298" r="4.8"/><circle cx="737" cy="2295.4" r="4.8"/><circle cx="741.7" cy="2299.8" r="4.8"/><circle cx="796.6" cy="2287.3" r="4.8"/><circle cx="751.4" cy="2300.1" r="4.8"/><circle cx="747" cy="2299.8" r="4.8"/><circle cx="799.6" cy="2298.6" r="4.8"/><circle cx="757.1" cy="2294.8" r="4.8"/><circle cx="755.8" cy="2284.5" r="4.8"/><circle cx="749.8" cy="2294" r="4.8"/><circle cx="744.5" cy="2296.9" r="4.8"/><circle cx="790" cy="2300.6" r="4.8"/><circle cx="788.7" cy="2294.8" r="4.8"/><circle cx="723.9" cy="2291.9" r="4.8"/><circle cx="762.9" cy="2285.3" r="4.8"/><circle cx="799.6" cy="2300.7" r="4.8"/><circle cx="745.3" cy="2296.8" r="4.8"/><circle cx="753.9" cy="2298.5" r="4.8"/><circle cx="713.4" cy="2291.9" r="4.8"/><circle cx="761.7" cy="2296.8" r="4.8"/><circle cx="728.3" cy="2295" r="4.8"/><circle cx="718.3" cy="2298.5" r="4.8"/><circle cx="807.1" cy="2293.8" r="4.8"/><circle cx="728.6" cy="2294.8" r="4.8"/><circle cx="735.9" cy="2300.5" r="4.8"/><circle cx="766.8" cy="2299" r="4.8"/><circle cx="730.8" cy="2284.9" r="4.8"/><circle cx="723.1" cy="2296.4" r="4.8"/><circle cx="724.4" cy="2293.2" r="4.8"/><circle cx="760.3" cy="2286.2" r="4.8"/><circle cx="768.5" cy="2300.9" r="4.8"/><circle cx="787.1" cy="2286.8" r="4.8"/><circle cx="741.7" cy="2300.7" r="4.8"/><circle cx="758.3" cy="2297.2" r="4.8"/><circle cx="732.6" cy="2298.9" r="4.8"/><circle cx="828.9" cy="2300.1" r="4.8"/><circle cx="751.7" cy="2299.6" r="4.8"/><circle cx="795.3" cy="2285.5" r="4.8"/><circle cx="757.9" cy="2285.1" r="4.8"/><circle cx="752.8" cy="2295.7" r="4.8"/><circle cx="765" cy="2299.7" r="4.8"/><circle cx="727.3" cy="2298.7" r="4.8"/><circle cx="733.8" cy="2299.2" r="4.8"/><circle cx="785.7" cy="2295" r="4.8"/><circle cx="720.4" cy="2299.6" r="4.8"/><circle cx="773" cy="2297.6" r="4.8"/><circle cx="761.6" cy="2297.4" r="4.8"/><circle cx="747.2" cy="2297.6" r="4.8"/><circle cx="799.1" cy="2297.4" r="4.8"/><circle cx="783.1" cy="2289.6" r="4.8"/><circle cx="738.7" cy="2295.4" r="4.8"/><circle cx="830.6" cy="2300.7" r="4.8"/><circle cx="746.6" cy="2299.3" r="4.8"/><circle cx="762.7" cy="2297.8" r="4.8"/><circle cx="814.2" cy="2300.9" r="4.8"/><circle cx="793.1" cy="2293.4" r="4.8"/><circle cx="751.8" cy="2288.2" r="4.8"/><circle cx="736.4" cy="2300.4" r="4.8"/><circle cx="771.7" cy="2293.8" r="4.8"/><circle cx="717.3" cy="2299.4" r="4.8"/><circle cx="738.5" cy="2299.2" r="4.8"/><circle cx="761.2" cy="2300.6" r="4.8"/><circle cx="714.7" cy="2298.5" r="4.8"/><circle cx="765.1" cy="2296.7" r="4.8"/><circle cx="758.5" cy="2295.6" r="4.8"/><circle cx="735.2" cy="2295.5" r="4.8"/><circle cx="821.3" cy="2298.4" r="4.8"/><circle cx="749.4" cy="2294" r="4.8"/><circle cx="758.7" cy="2296.2" r="4.8"/><circle cx="764.7" cy="2294.9" r="4.8"/><circle cx="774.9" cy="2293.9" r="4.8"/><circle cx="721.2" cy="2300.5" r="4.8"/><circle cx="771.9" cy="2289.3" r="4.8"/><circle cx="830.6" cy="2300.3" r="4.8"/><circle cx="755.2" cy="2293.3" r="4.8"/><circle cx="786.7" cy="2298" r="4.8"/><circle cx="737.5" cy="2297.5" r="4.8"/><circle cx="716.2" cy="2297.5" r="4.8"/><circle cx="780.2" cy="2296.5" r="4.8"/><circle cx="793.3" cy="2297.6" r="4.8"/><circle cx="785.7" cy="2294" r="4.8"/><circle cx="784.3" cy="2298.3" r="4.8"/><circle cx="729.9" cy="2300.4" r="4.8"/><circle cx="786.7" cy="2298.1" r="4.8"/><circle cx="783" cy="2296.7" r="4.8"/><circle cx="764.7" cy="2295.4" r="4.8"/><circle cx="738.4" cy="2293.1" r="4.8"/><circle cx="747.8" cy="2292.8" r="4.8"/><circle cx="776.9" cy="2284.4" r="4.8"/><circle cx="736.6" cy="2300.9" r="4.8"/><circle cx="756.2" cy="2298.1" r="4.8"/><circle cx="774.5" cy="2290.4" r="4.8"/><circle cx="796.8" cy="2294.9" r="4.8"/><circle cx="737.4" cy="2296.6" r="4.8"/><circle cx="830.6" cy="2299.1" r="4.8"/><circle cx="734.9" cy="2300.3" r="4.8"/><circle cx="810" cy="2300.2" r="4.8"/><circle cx="717.8" cy="2289.1" r="4.8"/><circle cx="728.8" cy="2292.6" r="4.8"/><circle cx="808.1" cy="2297.6" r="4.8"/><circle cx="781.5" cy="2297.7" r="4.8"/><circle cx="732.8" cy="2296.4" r="4.8"/><circle cx="742.3" cy="2299.5" r="4.8"/><circle cx="776.8" cy="2293.2" r="4.8"/><circle cx="775.7" cy="2299.9" r="4.8"/><circle cx="775.5" cy="2301" r="4.8"/><circle cx="741" cy="2297.4" r="4.8"/><circle cx="720.8" cy="2287.4" r="4.8"/><circle cx="830.6" cy="2299.2" r="4.8"/><circle cx="731" cy="2300.2" r="4.8"/><circle cx="776.9" cy="2296" r="4.8"/><circle cx="747.6" cy="2297.9" r="4.8"/><circle cx="737.3" cy="2299.8" r="4.8"/><circle cx="743.7" cy="2294.8" r="4.8"/><circle cx="796.6" cy="2294.8" r="4.8"/><circle cx="787.1" cy="2300.5" r="4.8"/><circle cx="760.2" cy="2299.9" r="4.8"/><circle cx="773.4" cy="2292.9" r="4.8"/><circle cx="749.4" cy="2294.8" r="4.8"/><circle cx="754" cy="2299.2" r="4.8"/><circle cx="799.5" cy="2287.4" r="4.8"/><circle cx="773.4" cy="2295.2" r="4.8"/><circle cx="761.9" cy="2299.4" r="4.8"/><circle cx="821.1" cy="2298.3" r="4.8"/><circle cx="803" cy="2292.2" r="4.8"/><circle cx="790.1" cy="2294" r="4.8"/><circle cx="722.2" cy="2278.5" r="4.8"/><circle cx="800.3" cy="2269.3" r="4.8"/><circle cx="788.5" cy="2285.3" r="4.8"/><circle cx="743.5" cy="2292.3" r="4.8"/><circle cx="789.9" cy="2286.1" r="4.8"/><circle cx="762.6" cy="2283.4" r="4.8"/><circle cx="763.7" cy="2285.5" r="4.8"/><circle cx="812.3" cy="2270.4" r="4.8"/><circle cx="800.5" cy="2291.8" r="4.8"/><circle cx="794.8" cy="2274.8" r="4.8"/><circle cx="757.4" cy="2287.9" r="4.8"/><circle cx="771.5" cy="2260.4" r="4.8"/><circle cx="739.3" cy="2274.1" r="4.8"/><circle cx="788.9" cy="2281.1" r="4.8"/><circle cx="778.1" cy="2275.5" r="4.8"/><circle cx="758" cy="2291.4" r="4.8"/><circle cx="769.2" cy="2284.5" r="4.8"/><circle cx="753.8" cy="2271.7" r="4.8"/><circle cx="754.7" cy="2252.9" r="4.8"/><circle cx="775.7" cy="2278.2" r="4.8"/><circle cx="799.8" cy="2281.2" r="4.8"/><circle cx="774.1" cy="2291.9" r="4.8"/><circle cx="763.4" cy="2280.9" r="4.8"/><circle cx="787.2" cy="2281.1" r="4.8"/><circle cx="775.4" cy="2264.9" r="4.8"/><circle cx="776.5" cy="2279.4" r="4.8"/><circle cx="712.9" cy="2292.7" r="4.8"/><circle cx="764.8" cy="2250.5" r="4.8"/><circle cx="734.1" cy="2274.3" r="4.8"/><circle cx="773.4" cy="2266" r="4.8"/><circle cx="720.9" cy="2266.8" r="4.8"/><circle cx="792.6" cy="2271.5" r="4.8"/><circle cx="750.5" cy="2279.9" r="4.8"/><circle cx="728.3" cy="2284.4" r="4.8"/><circle cx="712.9" cy="2271.8" r="4.8"/><circle cx="745.5" cy="2275.6" r="4.8"/><circle cx="712.9" cy="2265.5" r="4.8"/><circle cx="746.1" cy="2268.5" r="4.8"/><circle cx="802.7" cy="2290.2" r="4.8"/><circle cx="775.9" cy="2255" r="4.8"/><circle cx="763.6" cy="2291.6" r="4.8"/><circle cx="736.5" cy="2288.8" r="4.8"/><circle cx="785.8" cy="2279.8" r="4.8"/><circle cx="750.8" cy="2281.4" r="4.8"/><circle cx="783.2" cy="2255" r="4.8"/><circle cx="780.9" cy="2277.2" r="4.8"/><circle cx="794.3" cy="2290.7" r="4.8"/><circle cx="735.6" cy="2272.5" r="4.8"/><circle cx="743.9" cy="2281" r="4.8"/><circle cx="789.2" cy="2268.6" r="4.8"/><circle cx="720.9" cy="2273.8" r="4.8"/><circle cx="792.4" cy="2290.9" r="4.8"/><circle cx="714.6" cy="2269.6" r="4.8"/><circle cx="783" cy="2288.8" r="4.8"/><circle cx="720.1" cy="2287.8" r="4.8"/><circle cx="750.2" cy="2266.1" r="4.8"/><circle cx="782.6" cy="2271.6" r="4.8"/><circle cx="759.7" cy="2282.6" r="4.8"/><circle cx="726.2" cy="2263.1" r="4.8"/><circle cx="789.2" cy="2283.9" r="4.8"/><circle cx="738.7" cy="2266" r="4.8"/><circle cx="784" cy="2276" r="4.8"/><circle cx="733.2" cy="2291.4" r="4.8"/><circle cx="830.6" cy="2274.4" r="4.8"/><circle cx="764.4" cy="2285" r="4.8"/><circle cx="784.7" cy="2289.6" r="4.8"/><circle cx="779.6" cy="2277.4" r="4.8"/><circle cx="740.1" cy="2289.6" r="4.8"/><circle cx="790.3" cy="2276.2" r="4.8"/><circle cx="756.4" cy="2257.4" r="4.8"/><circle cx="722.7" cy="2291.6" r="4.8"/><circle cx="797.8" cy="2276.3" r="4.8"/><circle cx="734.2" cy="2282.1" r="4.8"/><circle cx="799.8" cy="2260.4" r="4.8"/><circle cx="735.9" cy="2259.4" r="4.8"/><circle cx="767.3" cy="2288.5" r="4.8"/><circle cx="712.9" cy="2258.2" r="4.8"/><circle cx="753.8" cy="2291.7" r="4.8"/><circle cx="815.9" cy="2283.7" r="4.8"/><circle cx="751.4" cy="2291.2" r="4.8"/><circle cx="764.7" cy="2283.2" r="4.8"/><circle cx="785.1" cy="2292.2" r="4.8"/><circle cx="776.9" cy="2290.5" r="4.8"/><circle cx="808.9" cy="2277.9" r="4.8"/><circle cx="798.6" cy="2262.6" r="4.8"/><circle cx="750.4" cy="2292.6" r="4.8"/><circle cx="773.4" cy="2263.6" r="4.8"/><circle cx="712.9" cy="2290.1" r="4.8"/><circle cx="805.8" cy="2267.3" r="4.8"/><circle cx="792.9" cy="2287.1" r="4.8"/><circle cx="758.6" cy="2263.6" r="4.8"/><circle cx="767.2" cy="2291.4" r="4.8"/><circle cx="798.5" cy="2292.2" r="4.8"/><circle cx="737.7" cy="2265.6" r="4.8"/><circle cx="785.1" cy="2284.9" r="4.8"/><circle cx="716.4" cy="2291.7" r="4.8"/><circle cx="790.5" cy="2292.2" r="4.8"/><circle cx="712.9" cy="2251.1" r="4.8"/><circle cx="728.1" cy="2291.3" r="4.8"/><circle cx="720.2" cy="2292.7" r="4.8"/><circle cx="751.3" cy="2276.9" r="4.8"/><circle cx="764.1" cy="2288.8" r="4.8"/><circle cx="796" cy="2284" r="4.8"/><circle cx="753.9" cy="2250.3" r="4.8"/><circle cx="739.6" cy="2271.5" r="4.8"/><circle cx="766.4" cy="2288.9" r="4.8"/><circle cx="803" cy="2275.8" r="4.8"/><circle cx="760.7" cy="2280.8" r="4.8"/><circle cx="786.9" cy="2275.3" r="4.8"/><circle cx="782.6" cy="2252" r="4.8"/><circle cx="742" cy="2292.7" r="4.8"/><circle cx="796" cy="2272.9" r="4.8"/><circle cx="756.7" cy="2273.8" r="4.8"/><circle cx="787.3" cy="2279.5" r="4.8"/><circle cx="790.1" cy="2290.9" r="4.8"/><circle cx="771.9" cy="2255.9" r="4.8"/><circle cx="764.7" cy="2285.2" r="4.8"/><circle cx="771.2" cy="2250.8" r="4.8"/><circle cx="730.5" cy="2257.9" r="4.8"/><circle cx="804.5" cy="2287.8" r="4.8"/>
</g>
<path d="M691.9 2290.4L704.1 2288.1L716.3 2285.8L728.6 2283.4L740.8 2281.1L753 2278.7L765.2 2276.2L777.5 2273.7L789.7 2271.1L801.9 2268.5L814.1 2265.8L826.4 2263L838.6 2260.1L850.8 2257.2L863 2254.3L875.2 2251.3L887.5 2248.3L899.7 2245.3L911.9 2242.2L924.1 2239.2L936.4 2236.2L948.6 2233.1L960.8 2230.1L973 2227L985.3 2223.9L997.5 2220.9L1009.7 2217.8L1021.9 2214.7L1034.1 2211.6L1046.4 2208.5L1058.6 2205.5L1070.8 2202.4L1083 2199.3L1095.3 2196.2L1107.5 2193.1L1119.7 2190L1131.9 2187L1144.2 2183.9L1156.4 2180.8L1168.6 2177.7L1168.6 2204.9L1156.4 2207.1L1144.2 2209.3L1131.9 2211.6L1119.7 2213.8L1107.5 2216L1095.3 2218.3L1083 2220.5L1070.8 2222.7L1058.6 2224.9L1046.4 2227.2L1034.1 2229.4L1021.9 2231.6L1009.7 2233.9L997.5 2236.1L985.3 2238.4L973 2240.6L960.8 2242.9L948.6 2245.1L936.4 2247.4L924.1 2249.6L911.9 2251.9L899.7 2254.2L887.5 2256.5L875.2 2258.8L863 2261.2L850.8 2263.5L838.6 2265.9L826.4 2268.4L814.1 2270.9L801.9 2273.5L789.7 2276.2L777.5 2278.9L765.2 2281.7L753 2284.6L740.8 2287.5L728.6 2290.4L716.3 2293.4L704.1 2296.4L691.9 2299.4Z" fill="#D8D8D8" fill-opacity="0.36"/>
<path d="M691.9 2294.9L1168.6 2191.3" stroke="#F1B6C5" stroke-width="2.8" fill="none"/>
<path d="M668.1 1814.3V2324.1H1192.6" fill="none" stroke="#2b2b2b" stroke-width="1.45" stroke-linejoin="round"/>
<path d="M664.3 1825.9H668.1M664.3 1944.5H668.1M664.3 2063.4H668.1M664.3 2182.4H668.1M664.3 2301.3H668.1M690.1 2324.1V2327.9M865.7 2324.1V2327.9M1041.4 2324.1V2327.9" fill="none" stroke="#333333" stroke-width="1.35"/>
<text x="661.8" y="1830.4" font-family="Liberation Sans, Arial, Helvetica, sans-serif" font-size="13" fill="#4D4D4D" text-anchor="end">400</text>
<text x="661.8" y="1949" font-family="Liberation Sans, Arial, Helvetica, sans-serif" font-size="13" fill="#4D4D4D" text-anchor="end">300</text>
<text x="661.8" y="2067.9" font-family="Liberation Sans, Arial, Helvetica, sans-serif" font-size="13" fill="#4D4D4D" text-anchor="end">200</text>
<text x="661.8" y="2186.9" font-family="Liberation Sans, Arial, Helvetica, sans-serif" font-size="13" fill="#4D4D4D" text-anchor="end">100</text>
<text x="661.8" y="2305.8" font-family="Liberation Sans, Arial, Helvetica, sans-serif" font-size="13" fill="#4D4D4D" text-anchor="end">0</text>
<text x="690.1" y="2340" font-family="Liberation Sans, Arial, Helvetica, sans-serif" font-size="13" fill="#4D4D4D" text-anchor="middle">0</text>
<text x="865.7" y="2340" font-family="Liberation Sans, Arial, Helvetica, sans-serif" font-size="13" fill="#4D4D4D" text-anchor="middle">200</text>
<text x="1041.4" y="2340" font-family="Liberation Sans, Arial, Helvetica, sans-serif" font-size="13" fill="#4D4D4D" text-anchor="middle">400</text>
<text x="668.5" y="1806" font-family="Liberation Serif, Times New Roman, serif" font-size="21.7" fill="#000" text-anchor="start">The correlation between CRP and HSP90α</text>
<text x="600.5" y="1810" font-family="Liberation Serif, Times New Roman, serif" font-size="33.4" fill="#000" text-anchor="start">K</text>
<text x="632.5" y="2073" font-family="Liberation Sans, Arial, Helvetica, sans-serif" font-size="13.5" fill="#000" text-anchor="middle" transform="rotate(-90 632.5 2073)">CRP</text>
<text x="936" y="2362.5" font-family="Liberation Serif, Times New Roman, serif" font-size="21.5" fill="#000" text-anchor="middle">HSP90α</text>
<text x="866.1" y="2067" font-family="Liberation Sans, Arial, Helvetica, sans-serif" font-size="14.6" fill="#000"><tspan font-style="italic">R</tspan> = 0.45, <tspan font-style="italic">p</tspan> &lt; 2.2e−16</text>
</g>
</svg>
</body></html>
